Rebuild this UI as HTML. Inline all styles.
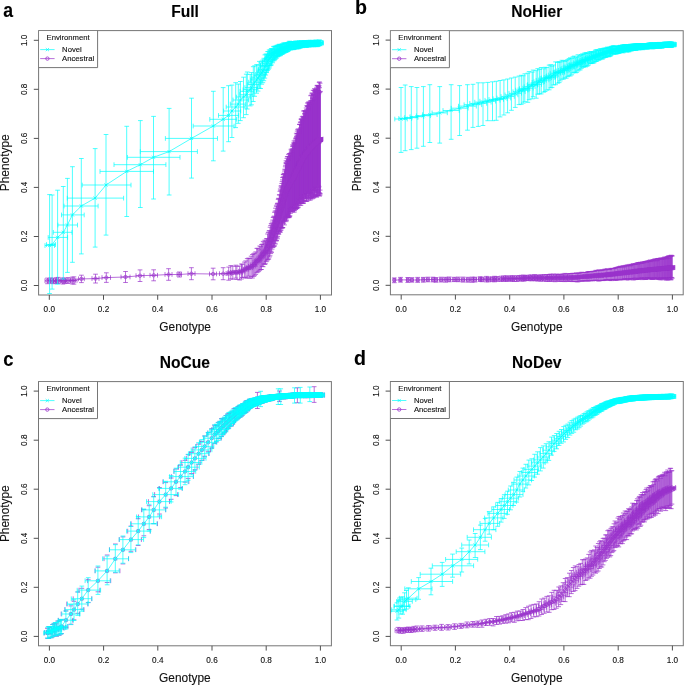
<!DOCTYPE html>
<html><head><meta charset="utf-8"><style>
html,body{margin:0;padding:0;background:#fff;}
svg{display:block;will-change:transform;}
text{font-family:"Liberation Sans",sans-serif;fill:#111;stroke:#111;stroke-width:0.12px;}
.tk{font-size:8.2px;}
.lb{font-size:11.9px;}
.ti{font-size:15.6px;font-weight:bold;fill:#000;}
.pl{font-size:19.6px;font-weight:bold;fill:#000;}
.lg{font-size:7.7px;}
</style></head><body>
<svg width="685" height="685" viewBox="0 0 685 685">
<path d="M47.6 278.1V283.7M45 280.8H49.8M45.2 278.1h4.7M45.2 283.7h4.7M45 278.4v4.7M49.8 278.4v4.7M50.9 277.9V283.2M48.1 280.5H53.4M48.5 277.9h4.7M48.5 283.2h4.7M48.1 278.2v4.7M53.4 278.2v4.7M53.1 278.2V283.7M50.5 281.1H55.8M50.8 278.2h4.7M50.8 283.7h4.7M50.5 278.8v4.7M55.8 278.8v4.7M56.5 277.8V283.4M53.8 280.8H59M54.1 277.8h4.7M54.1 283.4h4.7M53.8 278.5v4.7M59 278.5v4.7M58.2 277.4V283.5M55.5 280.6H60.9M55.8 277.4h4.7M55.8 283.5h4.7M55.5 278.2v4.7M60.9 278.2v4.7M62.8 277.9V284M60.4 280.8H65.6M60.5 277.9h4.7M60.5 284h4.7M60.4 278.5v4.7M65.6 278.5v4.7M64.4 278.2V283.6M61.6 280.9H66.8M62 278.2h4.7M62 283.6h4.7M61.6 278.5v4.7M66.8 278.5v4.7M67.9 277.6V283.5M65.5 280.6H70.5M65.6 277.6h4.7M65.6 283.5h4.7M65.5 278.2v4.7M70.5 278.2v4.7M72.2 277.2V283.9M69.2 280.5H75.3M69.9 277.2h4.7M69.9 283.9h4.7M69.2 278.1v4.7M75.3 278.1v4.7M74 276.9V284.1M70.7 280.4H77M71.6 276.9h4.7M71.6 284.1h4.7M70.7 278.1v4.7M77 278.1v4.7M81.4 275.2V282.6M78.5 278.9H84.3M79.1 275.2h4.7M79.1 282.6h4.7M78.5 276.5v4.7M84.3 276.5v4.7M95.5 274.2V283M92 278.6H99M93.2 274.2h4.7M93.2 283h4.7M92 276.2v4.7M99 276.2v4.7M106.3 272.8V282.4M102 277.6H110.5M104 272.8h4.7M104 282.4h4.7M102 275.2v4.7M110.5 275.2v4.7M125.5 271.5V282.5M121 277H130M123.2 271.5h4.7M123.2 282.5h4.7M121 274.6v4.7M130 274.6v4.7M140 269.9V281.5M136 275.7H144M137.7 269.9h4.7M137.7 281.5h4.7M136 273.3v4.7M144 273.3v4.7M153.7 269.8V280.8M150 275.3H157.5M151.3 269.8h4.7M151.3 280.8h4.7M150 272.9v4.7M157.5 272.9v4.7M168.6 268.7V280.3M165 274.5H172M166.2 268.7h4.7M166.2 280.3h4.7M165 272.1v4.7M172 272.1v4.7M179.3 272V277M177 274.5H181.5M177 272h4.7M177 277h4.7M177 272.1v4.7M181.5 272.1v4.7M191.4 267.7V279.7M188 273.7H195M189.1 267.7h4.7M189.1 279.7h4.7M188 271.3v4.7M195 271.3v4.7M213.1 268.2V279.8M209.5 274H216.5M210.8 268.2h4.7M210.8 279.8h4.7M209.5 271.6v4.7M216.5 271.6v4.7M223.2 267.7V279.7M219.5 273.7H227M220.8 267.7h4.7M220.8 279.7h4.7M219.5 271.3v4.7M227 271.3v4.7M228.7 267.1V280.2M226 273.5H231.4M226.3 267.1h4.7M226.3 280.2h4.7M226 271.2v4.7M231.4 271.2v4.7M230.8 265.6V278.9M228 272.5H233M228.4 265.6h4.7M228.4 278.9h4.7M228 270.1v4.7M233 270.1v4.7M232.8 266.3V279.2M230.6 272.7H235.1M230.5 266.3h4.7M230.5 279.2h4.7M230.6 270.3v4.7M235.1 270.3v4.7M235.8 265.2V278.1M233.1 272.2H238.1M233.5 265.2h4.7M233.5 278.1h4.7M233.1 269.8v4.7M238.1 269.8v4.7M236.9 266.4V279.5M234.6 272.3H239.3M234.6 266.4h4.7M234.6 279.5h4.7M234.6 269.9v4.7M239.3 269.9v4.7M239.7 266V280M237.1 272.5H242.3M237.3 266h4.7M237.3 280h4.7M237.1 270.1v4.7M242.3 270.1v4.7M241.5 264V279M238.7 271.3H243.9M239.1 264h4.7M239.1 279h4.7M238.7 268.9v4.7M243.9 268.9v4.7M242.4 264.3V277.5M240 271H245M240 264.3h4.7M240 277.5h4.7M240 268.6v4.7M245 268.6v4.7M244.4 262.1V277.2M241.7 269.7H246.9M242.1 262.1h4.7M242.1 277.2h4.7M241.7 267.3v4.7M246.9 267.3v4.7M245.8 260.9V278.1M243.5 269.2H248.6M243.4 260.9h4.7M243.4 278.1h4.7M243.5 266.9v4.7M248.6 266.9v4.7M247.2 258.6V277.8M245 268.1H249.9M244.9 258.6h4.7M244.9 277.8h4.7M245 265.7v4.7M249.9 265.7v4.7M248.6 258.1V276.1M246.4 267.8H250.9M246.3 258.1h4.7M246.3 276.1h4.7M246.4 265.4v4.7M250.9 265.4v4.7M249.9 258.5V278.3M247.2 267.8H252.7M247.6 258.5h4.7M247.6 278.3h4.7M247.2 265.4v4.7M252.7 265.4v4.7M251.2 256.2V276.8M248.5 266.3H253.5M248.8 256.2h4.7M248.8 276.8h4.7M248.5 264v4.7M253.5 264v4.7M252.4 254.5V278M250.2 266.2H255.2M250.1 254.5h4.7M250.1 278h4.7M250.2 263.8v4.7M255.2 263.8v4.7M253.6 253.8V276.4M250.8 264.7H256M251.2 253.8h4.7M251.2 276.4h4.7M250.8 262.4v4.7M256 262.4v4.7M254.7 253.1V275.7M252.3 264.7H257M252.3 253.1h4.7M252.3 275.7h4.7M252.3 262.3v4.7M257 262.3v4.7M255.8 251.9V274.4M253 262.4H258.1M253.4 251.9h4.7M253.4 274.4h4.7M253 260.1v4.7M258.1 260.1v4.7M256.8 248.4V272.7M254.4 261.2H259.2M254.5 248.4h4.7M254.5 272.7h4.7M254.4 258.8v4.7M259.2 258.8v4.7M257.8 248.3V272M255.4 260.7H260.1M255.5 248.3h4.7M255.5 272h4.7M255.4 258.3v4.7M260.1 258.3v4.7M258.8 249.8V271.3M256.1 259.9H261.1M256.4 249.8h4.7M256.4 271.3h4.7M256.1 257.6v4.7M261.1 257.6v4.7M259.7 246V270.3M257.1 258.6H262M257.4 246h4.7M257.4 270.3h4.7M257.1 256.2v4.7M262 256.2v4.7M260.6 246.7V269.5M258.3 257.2H263.1M258.3 246.7h4.7M258.3 269.5h4.7M258.3 254.8v4.7M263.1 254.8v4.7M261.5 244.5V269.5M259.1 256.8H264M259.2 244.5h4.7M259.2 269.5h4.7M259.1 254.5v4.7M264 254.5v4.7M262.4 244.2V266.3M259.9 255.5H264.7M260 244.2h4.7M260 266.3h4.7M259.9 253.2v4.7M264.7 253.2v4.7M263.2 241.4V266.7M260.6 254.1H265.7M260.8 241.4h4.7M260.8 266.7h4.7M260.6 251.8v4.7M265.7 251.8v4.7M264 242.9V263.9M261.3 253.2H266.7M261.6 242.9h4.7M261.6 263.9h4.7M261.3 250.8v4.7M266.7 250.8v4.7M264.8 240.2V264.4M262.1 252.3H267.4M262.4 240.2h4.7M262.4 264.4h4.7M262.1 249.9v4.7M267.4 249.9v4.7M265.5 241V263.8M263.1 251.9H268M263.1 241h4.7M263.1 263.8h4.7M263.1 249.5v4.7M268 249.5v4.7M266.2 238.9V261.7M263.4 250.8H268.8M263.9 238.9h4.7M263.9 261.7h4.7M263.4 248.5v4.7M268.8 248.5v4.7M266.9 238.5V260.9M264.6 248.9H269.5M264.6 238.5h4.7M264.6 260.9h4.7M264.6 246.6v4.7M269.5 246.6v4.7M267.6 234V259.8M264.9 247.1H270M265.2 234h4.7M265.2 259.8h4.7M264.9 244.8v4.7M270 244.8v4.7M268.2 232.5V259.4M265.8 245.8H270.9M265.9 232.5h4.7M265.9 259.4h4.7M265.8 243.5v4.7M270.9 243.5v4.7M268.8 231.1V258.9M266.1 244.6H271.4M266.5 231.1h4.7M266.5 258.9h4.7M266.1 242.2v4.7M271.4 242.2v4.7M269.5 230.5V257M266.7 242.7H271.9M267.1 230.5h4.7M267.1 257h4.7M266.7 240.3v4.7M271.9 240.3v4.7M270 227.2V255.8M267.7 241.5H272.7M267.7 227.2h4.7M267.7 255.8h4.7M267.7 239.1v4.7M272.7 239.1v4.7M270.6 225.5V253.6M268 240H273.3M268.3 225.5h4.7M268.3 253.6h4.7M268 237.6v4.7M273.3 237.6v4.7M271.2 223.7V251.3M268.9 238.7H273.6M268.8 223.7h4.7M268.8 251.3h4.7M268.9 236.4v4.7M273.6 236.4v4.7M271.7 223.9V252.6M269.1 237.5H273.9M269.3 223.9h4.7M269.3 252.6h4.7M269.1 235.1v4.7M273.9 235.1v4.7M272.2 222.1V249.1M269.9 235.9H274.6M269.8 222.1h4.7M269.8 249.1h4.7M269.9 233.5v4.7M274.6 233.5v4.7M272.7 220.1V247.3M270.2 234H275.1M270.3 220.1h4.7M270.3 247.3h4.7M270.2 231.7v4.7M275.1 231.7v4.7M273.2 217.5V247.3M270.4 233.1H275.4M270.8 217.5h4.7M270.8 247.3h4.7M270.4 230.7v4.7M275.4 230.7v4.7M273.6 216.8V246.4M271.4 231.4H276.3M271.3 216.8h4.7M271.3 246.4h4.7M271.4 229v4.7M276.3 229v4.7M274.1 216.1V245.9M271.8 229.9H276.6M271.8 216.1h4.7M271.8 245.9h4.7M271.8 227.6v4.7M276.6 227.6v4.7M274.6 212.4V246M271.9 228.5H277M272.2 212.4h4.7M272.2 246h4.7M271.9 226.1v4.7M277 226.1v4.7M275 211.2V243.2M272.7 227.7H277.6M272.6 211.2h4.7M272.6 243.2h4.7M272.7 225.4v4.7M277.6 225.4v4.7M275.4 208.2V244M272.9 226.1H277.8M273.1 208.2h4.7M273.1 244h4.7M272.9 223.7v4.7M277.8 223.7v4.7M275.8 210.8V240M273.3 225.2H278.4M273.5 210.8h4.7M273.5 240h4.7M273.3 222.9v4.7M278.4 222.9v4.7M276.3 206V241.1M273.8 223H278.7M273.9 206h4.7M273.9 241.1h4.7M273.8 220.7v4.7M278.7 220.7v4.7M276.7 206.1V240.5M274.2 221.9H279.4M274.3 206.1h4.7M274.3 240.5h4.7M274.2 219.6v4.7M279.4 219.6v4.7M277 204.3V237.4M274.3 221.5H279.5M274.7 204.3h4.7M274.7 237.4h4.7M274.3 219.2v4.7M279.5 219.2v4.7M277.4 203.5V238.7M274.9 219.8H279.8M275.1 203.5h4.7M275.1 238.7h4.7M274.9 217.4v4.7M279.8 217.4v4.7M277.8 203.1V236.4M275.3 218.7H280.2M275.4 203.1h4.7M275.4 236.4h4.7M275.3 216.4v4.7M280.2 216.4v4.7M278.2 199.3V233.2M275.6 218H280.5M275.8 199.3h4.7M275.8 233.2h4.7M275.6 215.6v4.7M280.5 215.6v4.7M278.5 198.3V233.5M276.2 217H280.8M276.2 198.3h4.7M276.2 233.5h4.7M276.2 214.7v4.7M280.8 214.7v4.7M278.9 198.8V234.4M276.4 215.9H281.5M276.5 198.8h4.7M276.5 234.4h4.7M276.4 213.6v4.7M281.5 213.6v4.7M279.2 194.8V231.1M276.6 214.3H281.6M276.9 194.8h4.7M276.9 231.1h4.7M276.6 212v4.7M281.6 212v4.7M279.5 194.9V231.2M277 213.1H282M277.2 194.9h4.7M277.2 231.2h4.7M277 210.8v4.7M282 210.8v4.7M279.9 191.3V231.6M277.7 211.8H282.2M277.5 191.3h4.7M277.5 231.6h4.7M277.7 209.5v4.7M282.2 209.5v4.7M280.2 189V232.5M277.7 210.9H282.4M277.9 189h4.7M277.9 232.5h4.7M277.7 208.5v4.7M282.4 208.5v4.7M280.5 190.3V230.8M277.9 210.2H283.1M278.2 190.3h4.7M278.2 230.8h4.7M277.9 207.8v4.7M283.1 207.8v4.7M280.8 186V228.9M278.4 208.8H283.6M278.5 186h4.7M278.5 228.9h4.7M278.4 206.4v4.7M283.6 206.4v4.7M281.2 187.3V230.2M278.9 207.4H283.9M278.8 187.3h4.7M278.8 230.2h4.7M278.9 205v4.7M283.9 205v4.7M281.5 185.8V227.4M278.8 207H284.2M279.1 185.8h4.7M279.1 227.4h4.7M278.8 204.6v4.7M284.2 204.6v4.7M281.8 183.5V227.5M279.3 205.3H284.2M279.4 183.5h4.7M279.4 227.5h4.7M279.3 203v4.7M284.2 203v4.7M282.1 181.6V228.3M279.8 204.3H284.4M279.7 181.6h4.7M279.7 228.3h4.7M279.8 202v4.7M284.4 202v4.7M282.3 179.9V227.8M280.1 204.2H285M280 179.9h4.7M280 227.8h4.7M280.1 201.8v4.7M285 201.8v4.7M282.6 177.6V227.6M280.4 203.4H285.3M280.3 177.6h4.7M280.3 227.6h4.7M280.4 201.1v4.7M285.3 201.1v4.7M282.9 177.3V227.6M280.3 201.6H285.2M280.6 177.3h4.7M280.6 227.6h4.7M280.3 199.2v4.7M285.2 199.2v4.7M283.2 174.5V222.6M280.6 200.7H285.6M280.8 174.5h4.7M280.8 222.6h4.7M280.6 198.4v4.7M285.6 198.4v4.7M283.5 174.7V221.2M281.2 199.7H285.9M281.1 174.7h4.7M281.1 221.2h4.7M281.2 197.3v4.7M285.9 197.3v4.7M283.7 176.7V223.7M281.1 198.7H286.5M281.4 176.7h4.7M281.4 223.7h4.7M281.1 196.3v4.7M286.5 196.3v4.7M284 173.3V221.7M281.4 197.9H286.5M281.6 173.3h4.7M281.6 221.7h4.7M281.4 195.5v4.7M286.5 195.5v4.7M284.3 173.4V220.6M281.6 198H286.5M281.9 173.4h4.7M281.9 220.6h4.7M281.6 195.6v4.7M286.5 195.6v4.7M284.5 171.1V224.9M282 196.8H287.1M282.2 171.1h4.7M282.2 224.9h4.7M282 194.4v4.7M287.1 194.4v4.7M284.8 169.2V219.9M282.1 195.5H287.3M282.4 169.2h4.7M282.4 219.9h4.7M282.1 193.1v4.7M287.3 193.1v4.7M285 169.9V220M282.4 194.5H287.3M282.7 169.9h4.7M282.7 220h4.7M282.4 192.1v4.7M287.3 192.1v4.7M285.3 166.8V218.4M282.7 194.4H287.5M282.9 166.8h4.7M282.9 218.4h4.7M282.7 192v4.7M287.5 192v4.7M285.5 165.3V218.1M282.8 192.9H288M283.1 165.3h4.7M283.1 218.1h4.7M282.8 190.5v4.7M288 190.5v4.7M285.7 163.1V216.5M283.1 192.3H288M283.4 163.1h4.7M283.4 216.5h4.7M283.1 190v4.7M288 190v4.7M286 160.8V220.1M283.6 191.4H288.2M283.6 160.8h4.7M283.6 220.1h4.7M283.6 189v4.7M288.2 189v4.7M286.2 162.6V221.6M283.9 191.6H288.8M283.8 162.6h4.7M283.8 221.6h4.7M283.9 189.2v4.7M288.8 189.2v4.7M286.4 163.7V217.2M283.9 190.1H288.8M284.1 163.7h4.7M284.1 217.2h4.7M283.9 187.7v4.7M288.8 187.7v4.7M286.6 163.7V220.2M284.1 189.6H289.3M284.3 163.7h4.7M284.3 220.2h4.7M284.1 187.3v4.7M289.3 187.3v4.7M286.9 158.4V217.8M284.3 189.3H289.4M284.5 158.4h4.7M284.5 217.8h4.7M284.3 186.9v4.7M289.4 186.9v4.7M287.1 161.4V215M284.9 189.2H289.4M284.7 161.4h4.7M284.7 215h4.7M284.9 186.9v4.7M289.4 186.9v4.7M287.3 156.7V216.5M284.6 188H289.5M284.9 156.7h4.7M284.9 216.5h4.7M284.6 185.7v4.7M289.5 185.7v4.7M287.5 156.7V217.7M285.1 188.1H290M285.2 156.7h4.7M285.2 217.7h4.7M285.1 185.8v4.7M290 185.8v4.7M287.7 160.9V213.8M285.3 187.3H290.2M285.4 160.9h4.7M285.4 213.8h4.7M285.3 185v4.7M290.2 185v4.7M287.9 161.4V215.1M285.6 187.9H290.2M285.6 161.4h4.7M285.6 215.1h4.7M285.6 185.5v4.7M290.2 185.5v4.7M288.1 159.6V215.6M285.9 186.8H290.9M285.8 159.6h4.7M285.8 215.6h4.7M285.9 184.4v4.7M290.9 184.4v4.7M288.4 154.3V216.9M285.8 186.5H290.8M286 154.3h4.7M286 216.9h4.7M285.8 184.1v4.7M290.8 184.1v4.7M288.6 160.3V217.1M286.2 186.8H291.2M286.2 160.3h4.7M286.2 217.1h4.7M286.2 184.4v4.7M291.2 184.4v4.7M288.8 159.3V213.3M286.6 186.2H291.1M286.4 159.3h4.7M286.4 213.3h4.7M286.6 183.8v4.7M291.1 183.8v4.7M289 156.4V217.7M286.6 185H291.4M286.6 156.4h4.7M286.6 217.7h4.7M286.6 182.7v4.7M291.4 182.7v4.7M289.2 157.2V216.2M286.6 185.1H291.5M286.8 157.2h4.7M286.8 216.2h4.7M286.6 182.7v4.7M291.5 182.7v4.7M289.4 153.7V217.1M286.8 184.5H291.8M287 153.7h4.7M287 217.1h4.7M286.8 182.1v4.7M291.8 182.1v4.7M289.6 158.9V211.5M286.9 185H292M287.2 158.9h4.7M287.2 211.5h4.7M286.9 182.6v4.7M292 182.6v4.7M289.8 153.5V216.7M287.3 183.5H292.2M287.4 153.5h4.7M287.4 216.7h4.7M287.3 181.1v4.7M292.2 181.1v4.7M290 156.5V215.8M287.5 183.2H292.7M287.6 156.5h4.7M287.6 215.8h4.7M287.5 180.8v4.7M292.7 180.8v4.7M290.2 154.8V209.4M287.7 182.8H292.4M287.8 154.8h4.7M287.8 209.4h4.7M287.7 180.4v4.7M292.4 180.4v4.7M290.4 153.4V211.2M288.2 182.7H292.6M288 153.4h4.7M288 211.2h4.7M288.2 180.3v4.7M292.6 180.3v4.7M290.6 155.5V213.3M288.1 183.2H293.1M288.2 155.5h4.7M288.2 213.3h4.7M288.1 180.8v4.7M293.1 180.8v4.7M290.8 153V209M288.2 181.8H293.5M288.4 153h4.7M288.4 209h4.7M288.2 179.4v4.7M293.5 179.4v4.7M291 149.3V210.1M288.8 182H293.5M288.6 149.3h4.7M288.6 210.1h4.7M288.8 179.7v4.7M293.5 179.7v4.7M291.2 150.8V210.9M288.6 181.5H293.8M288.8 150.8h4.7M288.8 210.9h4.7M288.6 179.2v4.7M293.8 179.2v4.7M291.3 152.8V211.7M288.7 181.7H293.7M289 152.8h4.7M289 211.7h4.7M288.7 179.4v4.7M293.7 179.4v4.7M291.5 151.4V207.8M288.9 180.4H294.2M289.2 151.4h4.7M289.2 207.8h4.7M288.9 178.1v4.7M294.2 178.1v4.7M291.7 152.5V207.7M289.4 180.3H294M289.4 152.5h4.7M289.4 207.7h4.7M289.4 178v4.7M294 178v4.7M291.9 149V208.8M289.7 180.1H294.5M289.6 149h4.7M289.6 208.8h4.7M289.7 177.7v4.7M294.5 177.7v4.7M292.1 150.9V208.4M289.7 179.3H294.4M289.8 150.9h4.7M289.8 208.4h4.7M289.7 177v4.7M294.4 177v4.7M292.3 150V212M289.8 179.4H295M289.9 150h4.7M289.9 212h4.7M289.8 177.1v4.7M295 177.1v4.7M292.5 146.6V210.7M290 179.4H295.2M290.1 146.6h4.7M290.1 210.7h4.7M290 177v4.7M295.2 177v4.7M292.7 144.8V211.6M290 179H295M290.3 144.8h4.7M290.3 211.6h4.7M290 176.7v4.7M295 176.7v4.7M292.8 148.8V207.1M290.6 178.9H295.1M290.5 148.8h4.7M290.5 207.1h4.7M290.6 176.5v4.7M295.1 176.5v4.7M293 145.5V207.4M290.8 177.9H295.7M290.7 145.5h4.7M290.7 207.4h4.7M290.8 175.5v4.7M295.7 175.5v4.7M293.2 150.1V205.8M290.9 177.9H295.6M290.8 150.1h4.7M290.8 205.8h4.7M290.9 175.5v4.7M295.6 175.5v4.7M293.4 143V210.2M291 177.9H295.8M291 143h4.7M291 210.2h4.7M291 175.5v4.7M295.8 175.5v4.7M293.6 146.6V204.9M291 176.9H296.3M291.2 146.6h4.7M291.2 204.9h4.7M291 174.6v4.7M296.3 174.6v4.7M293.7 148.3V209.1M291.4 177H296.4M291.4 148.3h4.7M291.4 209.1h4.7M291.4 174.7v4.7M296.4 174.7v4.7M293.9 140.9V210.6M291.6 176.3H296.3M291.6 140.9h4.7M291.6 210.6h4.7M291.6 174v4.7M296.3 174v4.7M294.1 144.6V208.2M291.6 176.5H296.8M291.7 144.6h4.7M291.7 208.2h4.7M291.6 174.2v4.7M296.8 174.2v4.7M294.3 143.6V212.2M291.7 176.2H296.5M291.9 143.6h4.7M291.9 212.2h4.7M291.7 173.8v4.7M296.5 173.8v4.7M294.5 143.8V204.7M291.7 175.7H296.7M292.1 143.8h4.7M292.1 204.7h4.7M291.7 173.3v4.7M296.7 173.3v4.7M294.6 142.5V210.7M292.2 175H297M292.3 142.5h4.7M292.3 210.7h4.7M292.2 172.7v4.7M297 172.7v4.7M294.8 143.8V207.7M292.4 174.3H297.5M292.5 143.8h4.7M292.5 207.7h4.7M292.4 172v4.7M297.5 172v4.7M295 142V205M292.2 173.9H297.7M292.6 142h4.7M292.6 205h4.7M292.2 171.6v4.7M297.7 171.6v4.7M295.2 140.1V206.7M292.9 174.3H297.9M292.8 140.1h4.7M292.8 206.7h4.7M292.9 171.9v4.7M297.9 171.9v4.7M295.4 143.8V204.2M293.1 173.5H298M293 143.8h4.7M293 204.2h4.7M293.1 171.1v4.7M298 171.1v4.7M295.5 142.5V209.6M293.1 173.6H298.1M293.2 142.5h4.7M293.2 209.6h4.7M293.1 171.3v4.7M298.1 171.3v4.7M295.7 138.5V209.4M293.3 173.2H297.9M293.4 138.5h4.7M293.4 209.4h4.7M293.3 170.9v4.7M297.9 170.9v4.7M295.9 137.8V203.8M293.5 172.4H298.3M293.5 137.8h4.7M293.5 203.8h4.7M293.5 170.1v4.7M298.3 170.1v4.7M296.1 138.9V204.6M293.6 171.5H298.7M293.7 138.9h4.7M293.7 204.6h4.7M293.6 169.1v4.7M298.7 169.1v4.7M296.3 133.3V208.5M293.5 171.6H298.9M293.9 133.3h4.7M293.9 208.5h4.7M293.5 169.2v4.7M298.9 169.2v4.7M296.4 136.8V208.5M294 171.5H299M294.1 136.8h4.7M294.1 208.5h4.7M294 169.2v4.7M299 169.2v4.7M296.6 136.4V204M294.4 171.2H298.9M294.3 136.4h4.7M294.3 204h4.7M294.4 168.8v4.7M298.9 168.8v4.7M296.8 135V207.4M294.2 170.4H299.2M294.4 135h4.7M294.4 207.4h4.7M294.2 168.1v4.7M299.2 168.1v4.7M297 137.7V207.6M294.7 170.8H299.6M294.6 137.7h4.7M294.6 207.6h4.7M294.7 168.4v4.7M299.6 168.4v4.7M297.2 131.1V208.6M294.5 170.1H299.9M294.8 131.1h4.7M294.8 208.6h4.7M294.5 167.7v4.7M299.9 167.7v4.7M297.3 133.5V202.7M294.8 169.8H300.1M295 133.5h4.7M295 202.7h4.7M294.8 167.5v4.7M300.1 167.5v4.7M297.5 129.3V204.8M295.1 168.9H299.7M295.2 129.3h4.7M295.2 204.8h4.7M295.1 166.5v4.7M299.7 166.5v4.7M297.7 135.7V205.7M295 168.7H300.4M295.3 135.7h4.7M295.3 205.7h4.7M295 166.3v4.7M300.4 166.3v4.7M297.9 133.7V201.1M295.3 168.6H300.4M295.5 133.7h4.7M295.5 201.1h4.7M295.3 166.2v4.7M300.4 166.2v4.7M298.1 133.4V207.7M295.7 168.3H300.4M295.7 133.4h4.7M295.7 207.7h4.7M295.7 166v4.7M300.4 166v4.7M298.2 130.2V207.1M295.9 167.5H300.8M295.9 130.2h4.7M295.9 207.1h4.7M295.9 165.1v4.7M300.8 165.1v4.7M298.4 133.7V200.3M295.9 167.7H301.1M296.1 133.7h4.7M296.1 200.3h4.7M295.9 165.3v4.7M301.1 165.3v4.7M298.6 128.9V203.3M296.1 167.5H301.1M296.2 128.9h4.7M296.2 203.3h4.7M296.1 165.1v4.7M301.1 165.1v4.7M298.8 132.2V201.9M296.2 167.1H301.6M296.4 132.2h4.7M296.4 201.9h4.7M296.2 164.8v4.7M301.6 164.8v4.7M299 133.2V199.4M296.4 165.9H301.5M296.6 133.2h4.7M296.6 199.4h4.7M296.4 163.6v4.7M301.5 163.6v4.7M299.1 131.2V203.5M296.5 165.6H301.7M296.8 131.2h4.7M296.8 203.5h4.7M296.5 163.2v4.7M301.7 163.2v4.7M299.3 132.5V202.9M296.6 165.8H302.1M297 132.5h4.7M297 202.9h4.7M296.6 163.5v4.7M302.1 163.5v4.7M299.5 124.4V203.7M296.7 165H301.8M297.1 124.4h4.7M297.1 203.7h4.7M296.7 162.6v4.7M301.8 162.6v4.7M299.7 124.4V202.5M297.4 165.1H302M297.3 124.4h4.7M297.3 202.5h4.7M297.4 162.7v4.7M302 162.7v4.7M299.9 130V198.7M297.3 164.1H302.1M297.5 130h4.7M297.5 198.7h4.7M297.3 161.7v4.7M302.1 161.7v4.7M300 124.4V205.2M297.4 164.4H302.7M297.7 124.4h4.7M297.7 205.2h4.7M297.4 162.1v4.7M302.7 162.1v4.7M300.2 122V203.5M297.4 164.3H302.5M297.9 122h4.7M297.9 203.5h4.7M297.4 161.9v4.7M302.5 161.9v4.7M300.4 128.7V198.5M298 162.9H302.9M298 128.7h4.7M298 198.5h4.7M298 160.6v4.7M302.9 160.6v4.7M300.6 122.6V197.9M298.1 163.3H303.1M298.2 122.6h4.7M298.2 197.9h4.7M298.1 160.9v4.7M303.1 160.9v4.7M300.8 127.5V202.1M298.3 162.5H303.4M298.4 127.5h4.7M298.4 202.1h4.7M298.3 160.2v4.7M303.4 160.2v4.7M300.9 119.2V205.3M298.7 162.3H303.6M298.6 119.2h4.7M298.6 205.3h4.7M298.7 160v4.7M303.6 160v4.7M301.1 125.2V197.6M298.6 162.2H303.5M298.8 125.2h4.7M298.8 197.6h4.7M298.6 159.9v4.7M303.5 159.9v4.7M301.3 118.8V199.9M298.9 161.9H303.8M298.9 118.8h4.7M298.9 199.9h4.7M298.9 159.5v4.7M303.8 159.5v4.7M301.5 119.5V201.5M299.1 161.5H303.9M299.1 119.5h4.7M299.1 201.5h4.7M299.1 159.1v4.7M303.9 159.1v4.7M301.7 121.7V196.5M299.2 161.3H304M299.3 121.7h4.7M299.3 196.5h4.7M299.2 159v4.7M304 159v4.7M301.8 125.1V198.2M299.6 160.7H304.3M299.5 125.1h4.7M299.5 198.2h4.7M299.6 158.4v4.7M304.3 158.4v4.7M302 120.5V199.5M299.3 160.8H304.3M299.7 120.5h4.7M299.7 199.5h4.7M299.3 158.4v4.7M304.3 158.4v4.7M302.2 116.7V194.9M299.5 159.6H304.6M299.8 116.7h4.7M299.8 194.9h4.7M299.5 157.3v4.7M304.6 157.3v4.7M302.4 121.1V198.6M299.9 158.9H304.9M300 121.1h4.7M300 198.6h4.7M299.9 156.5v4.7M304.9 156.5v4.7M302.6 121V203.5M300.1 158.6H305M300.2 121h4.7M300.2 203.5h4.7M300.1 156.2v4.7M305 156.2v4.7M302.7 119.9V203.2M300.1 158.2H305.2M300.4 119.9h4.7M300.4 203.2h4.7M300.1 155.9v4.7M305.2 155.9v4.7M302.9 118.2V201.2M300.5 157.8H305.5M300.6 118.2h4.7M300.6 201.2h4.7M300.5 155.5v4.7M305.5 155.5v4.7M303.1 116.2V200.7M300.9 158.5H305.3M300.7 116.2h4.7M300.7 200.7h4.7M300.9 156.1v4.7M305.3 156.1v4.7M303.3 117.8V202.7M300.6 158H306M300.9 117.8h4.7M300.9 202.7h4.7M300.6 155.6v4.7M306 155.6v4.7M303.5 111V200.9M300.7 157.1H305.7M301.1 111h4.7M301.1 200.9h4.7M300.7 154.8v4.7M305.7 154.8v4.7M303.6 116.7V203.3M300.8 157.3H306M301.3 116.7h4.7M301.3 203.3h4.7M300.8 154.9v4.7M306 154.9v4.7M303.8 117.2V197.7M301.4 156.5H306.4M301.5 117.2h4.7M301.5 197.7h4.7M301.4 154.1v4.7M306.4 154.1v4.7M304 117.4V197M301.8 155.8H306.4M301.6 117.4h4.7M301.6 197h4.7M301.8 153.4v4.7M306.4 153.4v4.7M304.2 110.7V195.2M302 156.4H306.9M301.8 110.7h4.7M301.8 195.2h4.7M302 154v4.7M306.9 154v4.7M304.4 113.3V194.6M302 156.2H307.1M302 113.3h4.7M302 194.6h4.7M302 153.9v4.7M307.1 153.9v4.7M304.5 118.6V194.9M302.1 156H306.9M302.2 118.6h4.7M302.2 194.9h4.7M302.1 153.7v4.7M306.9 153.7v4.7M304.7 114.6V200.6M302.4 155.6H307.2M302.4 114.6h4.7M302.4 200.6h4.7M302.4 153.2v4.7M307.2 153.2v4.7M304.9 111.2V193.8M302.6 155.6H307.5M302.5 111.2h4.7M302.5 193.8h4.7M302.6 153.3v4.7M307.5 153.3v4.7M305.1 113.5V197M302.5 154.7H307.9M302.7 113.5h4.7M302.7 197h4.7M302.5 152.3v4.7M307.9 152.3v4.7M305.3 110.9V194.5M302.7 154.3H307.9M302.9 110.9h4.7M302.9 194.5h4.7M302.7 152v4.7M307.9 152v4.7M305.4 111.4V198.9M303.2 154H308.1M303.1 111.4h4.7M303.1 198.9h4.7M303.2 151.6v4.7M308.1 151.6v4.7M305.6 111.1V198.2M302.9 154.1H307.8M303.3 111.1h4.7M303.3 198.2h4.7M302.9 151.7v4.7M307.8 151.7v4.7M305.8 115.7V195.8M303.4 154H308M303.4 115.7h4.7M303.4 195.8h4.7M303.4 151.6v4.7M308 151.6v4.7M306 110.8V198.3M303.2 153.5H308.4M303.6 110.8h4.7M303.6 198.3h4.7M303.2 151.2v4.7M308.4 151.2v4.7M306.2 108V201.5M303.4 153.6H308.9M303.8 108h4.7M303.8 201.5h4.7M303.4 151.2v4.7M308.9 151.2v4.7M306.3 113.1V201.1M304.1 153.1H308.8M304 113.1h4.7M304 201.1h4.7M304.1 150.7v4.7M308.8 150.7v4.7M306.5 109.5V195.8M303.8 153.4H308.9M304.2 109.5h4.7M304.2 195.8h4.7M303.8 151v4.7M308.9 151v4.7M306.7 105.8V192.9M304.3 153H309.2M304.3 105.8h4.7M304.3 192.9h4.7M304.3 150.6v4.7M309.2 150.6v4.7M306.9 112V196.1M304.6 152.8H309.1M304.5 112h4.7M304.5 196.1h4.7M304.6 150.4v4.7M309.1 150.4v4.7M307.1 112V201.2M304.7 152.3H309.4M304.7 112h4.7M304.7 201.2h4.7M304.7 149.9v4.7M309.4 149.9v4.7M307.2 105.9V194.2M304.5 152.6H309.8M304.9 105.9h4.7M304.9 194.2h4.7M304.5 150.2v4.7M309.8 150.2v4.7M307.4 106.3V193.5M305.1 151.9H310.1M305.1 106.3h4.7M305.1 193.5h4.7M305.1 149.6v4.7M310.1 149.6v4.7M307.6 103.1V192.7M305.3 151.7H309.8M305.2 103.1h4.7M305.2 192.7h4.7M305.3 149.4v4.7M309.8 149.4v4.7M307.8 106.7V191.2M305.5 151.9H310.5M305.4 106.7h4.7M305.4 191.2h4.7M305.5 149.5v4.7M310.5 149.5v4.7M308 102.7V191.1M305.4 151.4H310.2M305.6 102.7h4.7M305.6 191.1h4.7M305.4 149v4.7M310.2 149v4.7M308.1 105.4V197.4M305.8 151.4H310.9M305.8 105.4h4.7M305.8 197.4h4.7M305.8 149.1v4.7M310.9 149.1v4.7M308.3 110.3V197.4M306.1 150.5H310.6M306 110.3h4.7M306 197.4h4.7M306.1 148.1v4.7M310.6 148.1v4.7M308.5 104V200M305.9 150.7H310.7M306.1 104h4.7M306.1 200h4.7M305.9 148.3v4.7M310.7 148.3v4.7M308.7 101.8V191.8M306 150.7H311M306.3 101.8h4.7M306.3 191.8h4.7M306 148.4v4.7M311 148.4v4.7M308.9 110.2V198.2M306.3 150.1H311.6M306.5 110.2h4.7M306.5 198.2h4.7M306.3 147.7v4.7M311.6 147.7v4.7M309 108.4V192.4M306.7 150.1H311.8M306.7 108.4h4.7M306.7 192.4h4.7M306.7 147.7v4.7M311.8 147.7v4.7M309.2 108.4V193.5M307 149.5H311.7M306.9 108.4h4.7M306.9 193.5h4.7M307 147.2v4.7M311.7 147.2v4.7M309.4 102.4V192M307.1 149.8H311.9M307 102.4h4.7M307 192h4.7M307.1 147.5v4.7M311.9 147.5v4.7M309.6 104.4V196.3M306.8 149.7H311.9M307.2 104.4h4.7M307.2 196.3h4.7M306.8 147.3v4.7M311.9 147.3v4.7M309.8 103V195.4M307 149H312.3M307.4 103h4.7M307.4 195.4h4.7M307 146.6v4.7M312.3 146.6v4.7M309.9 104V198.5M307.2 149.2H312.3M307.6 104h4.7M307.6 198.5h4.7M307.2 146.9v4.7M312.3 146.9v4.7M310.1 104.7V193M307.4 148.3H312.5M307.8 104.7h4.7M307.8 193h4.7M307.4 146v4.7M312.5 146v4.7M310.3 100.8V200.2M308 148.7H313M307.9 100.8h4.7M307.9 200.2h4.7M308 146.4v4.7M313 146.4v4.7M310.5 106.1V196.2M307.8 148.2H313M308.1 106.1h4.7M308.1 196.2h4.7M307.8 145.8v4.7M313 145.8v4.7M310.7 95.7V193M308.1 147.6H313.3M308.3 95.7h4.7M308.3 193h4.7M308.1 145.3v4.7M313.3 145.3v4.7M310.8 101.9V192.5M308.6 147.7H313.1M308.5 101.9h4.7M308.5 192.5h4.7M308.6 145.3v4.7M313.1 145.3v4.7M311 102.1V199.1M308.8 148H313.4M308.7 102.1h4.7M308.7 199.1h4.7M308.8 145.6v4.7M313.4 145.6v4.7M311.2 95.1V197.5M308.5 147.1H313.7M308.8 95.1h4.7M308.8 197.5h4.7M308.5 144.8v4.7M313.7 144.8v4.7M311.4 100.6V190.9M309.2 146.8H313.9M309 100.6h4.7M309 190.9h4.7M309.2 144.5v4.7M313.9 144.5v4.7M311.6 104V194.3M308.8 146.8H314.3M309.2 104h4.7M309.2 194.3h4.7M308.8 144.5v4.7M314.3 144.5v4.7M311.7 103.9V197.4M309.5 146.8H314.3M309.4 103.9h4.7M309.4 197.4h4.7M309.5 144.5v4.7M314.3 144.5v4.7M311.9 93V194.2M309.5 146.2H314.3M309.6 93h4.7M309.6 194.2h4.7M309.5 143.8v4.7M314.3 143.8v4.7M312.1 93.3V193.4M309.8 146.5H314.6M309.7 93.3h4.7M309.7 193.4h4.7M309.8 144.2v4.7M314.6 144.2v4.7M312.3 100.2V196.1M309.5 146.7H314.7M309.9 100.2h4.7M309.9 196.1h4.7M309.5 144.4v4.7M314.7 144.4v4.7M312.5 98V190.2M310.2 146.4H315.2M310.1 98h4.7M310.1 190.2h4.7M310.2 144v4.7M315.2 144v4.7M312.6 98.3V198.7M310.1 145.8H315.1M310.3 98.3h4.7M310.3 198.7h4.7M310.1 143.4v4.7M315.1 143.4v4.7M312.8 94.2V190.8M310.3 145.3H315.5M310.5 94.2h4.7M310.5 190.8h4.7M310.3 143v4.7M315.5 143v4.7M313 101.3V190.4M310.4 145.5H315.6M310.6 101.3h4.7M310.6 190.4h4.7M310.4 143.1v4.7M315.6 143.1v4.7M313.2 90.3V188.9M310.9 144.7H315.4M310.8 90.3h4.7M310.8 188.9h4.7M310.9 142.3v4.7M315.4 142.3v4.7M313.4 94.8V197.7M311.1 144.9H316M311 94.8h4.7M311 197.7h4.7M311.1 142.5v4.7M316 142.5v4.7M313.5 94.5V190.1M311.1 144.2H315.8M311.2 94.5h4.7M311.2 190.1h4.7M311.1 141.9v4.7M315.8 141.9v4.7M313.7 100.3V196.8M311.3 144.8H316.3M311.4 100.3h4.7M311.4 196.8h4.7M311.3 142.4v4.7M316.3 142.4v4.7M313.9 95.6V197.9M311.1 144.5H316.3M311.5 95.6h4.7M311.5 197.9h4.7M311.1 142.1v4.7M316.3 142.1v4.7M314.1 90.4V188.8M311.6 144H316.5M311.7 90.4h4.7M311.7 188.8h4.7M311.6 141.6v4.7M316.5 141.6v4.7M314.3 99.7V195.7M311.6 144.6H316.9M311.9 99.7h4.7M311.9 195.7h4.7M311.6 142.2v4.7M316.9 142.2v4.7M314.4 88.6V190.4M311.7 143.3H317M312.1 88.6h4.7M312.1 190.4h4.7M311.7 140.9v4.7M317 140.9v4.7M314.6 90.1V195.2M312.2 143.6H317.3M312.3 90.1h4.7M312.3 195.2h4.7M312.2 141.3v4.7M317.3 141.3v4.7M314.8 91.5V194.6M312.1 143.6H317.1M312.4 91.5h4.7M312.4 194.6h4.7M312.1 141.2v4.7M317.1 141.2v4.7M315 99.7V196.6M312.3 143.4H317.7M312.6 99.7h4.7M312.6 196.6h4.7M312.3 141.1v4.7M317.7 141.1v4.7M315.2 92.5V192.3M312.9 142.7H317.5M312.8 92.5h4.7M312.8 192.3h4.7M312.9 140.4v4.7M317.5 140.4v4.7M315.3 89.6V190.5M312.6 143.7H317.9M313 89.6h4.7M313 190.5h4.7M312.6 141.4v4.7M317.9 141.4v4.7M315.5 91.1V189.6M313.2 142.9H317.7M313.2 91.1h4.7M313.2 189.6h4.7M313.2 140.5v4.7M317.7 140.5v4.7M315.7 91.9V196.1M313.2 143H318.2M313.3 91.9h4.7M313.3 196.1h4.7M313.2 140.7v4.7M318.2 140.7v4.7M315.9 89.4V191.2M313.3 142.5H318.5M313.5 89.4h4.7M313.5 191.2h4.7M313.3 140.1v4.7M318.5 140.1v4.7M316.1 89.9V187.6M313.7 142.5H318.8M313.7 89.9h4.7M313.7 187.6h4.7M313.7 140.1v4.7M318.8 140.1v4.7M316.2 96.9V186.6M313.6 142H318.5M313.9 96.9h4.7M313.9 186.6h4.7M313.6 139.6v4.7M318.5 139.6v4.7M316.4 92.4V196.5M313.9 142.2H318.9M314.1 92.4h4.7M314.1 196.5h4.7M313.9 139.9v4.7M318.9 139.9v4.7M316.6 87.3V195.5M314 141.5H319.3M314.2 87.3h4.7M314.2 195.5h4.7M314 139.2v4.7M319.3 139.2v4.7M316.8 88.7V197.2M314.2 142.1H319M314.4 88.7h4.7M314.4 197.2h4.7M314.2 139.8v4.7M319 139.8v4.7M317 85.4V189.5M314.7 142.3H319.4M314.6 85.4h4.7M314.6 189.5h4.7M314.7 139.9v4.7M319.4 139.9v4.7M317.1 91.8V187.2M314.8 141.2H319.3M314.8 91.8h4.7M314.8 187.2h4.7M314.8 138.8v4.7M319.3 138.8v4.7M317.3 92.8V195.4M314.9 141.4H319.6M315 92.8h4.7M315 195.4h4.7M314.9 139.1v4.7M319.6 139.1v4.7M317.5 85.8V195.5M315.2 141.9H319.9M315.1 85.8h4.7M315.1 195.5h4.7M315.2 139.6v4.7M319.9 139.6v4.7M317.7 90.9V186.7M315.2 141.2H320.3M315.3 90.9h4.7M315.3 186.7h4.7M315.2 138.8v4.7M320.3 138.8v4.7M317.9 85.4V195M315.2 141.3H320.6M315.5 85.4h4.7M315.5 195h4.7M315.2 139v4.7M320.6 139v4.7M318 86.2V192M315.4 141.4H320.6M315.7 86.2h4.7M315.7 192h4.7M315.4 139.1v4.7M320.6 139.1v4.7M318.2 86.9V192.2M315.9 141.2H320.6M315.9 86.9h4.7M315.9 192.2h4.7M315.9 138.9v4.7M320.6 138.9v4.7M318.4 86.3V195.5M316.1 140.3H320.9M316 86.3h4.7M316 195.5h4.7M316.1 138v4.7M320.9 138v4.7M318.6 90.7V187.7M316 140.9H321M316.2 90.7h4.7M316.2 187.7h4.7M316 138.6v4.7M321 138.6v4.7M318.8 90.6V185.8M316.5 139.9H321.2M316.4 90.6h4.7M316.4 185.8h4.7M316.5 137.6v4.7M321.2 137.6v4.7M318.9 93.8V192.5M316.2 139.7H321.6M316.6 93.8h4.7M316.6 192.5h4.7M316.2 137.4v4.7M321.6 137.4v4.7M319.1 82.3V186.8M316.8 139.8H321.3M316.8 82.3h4.7M316.8 186.8h4.7M316.8 137.5v4.7M321.3 137.5v4.7M319.3 85.8V194.9M316.8 139.4H322M316.9 85.8h4.7M316.9 194.9h4.7M316.8 137v4.7M322 137v4.7M319.5 82V193.5M317 139.7H321.8M317.1 82h4.7M317.1 193.5h4.7M317 137.3v4.7M321.8 137.3v4.7M319.7 87.7V196.1M317.3 139.5H322M317.3 87.7h4.7M317.3 196.1h4.7M317.3 137.2v4.7M322 137.2v4.7M319.8 92.6V193M317.5 139.8H322.4M317.5 92.6h4.7M317.5 193h4.7M317.5 137.5v4.7M322.4 137.5v4.7M320 91.8V195.1M317.6 139.4H322.4M317.7 91.8h4.7M317.7 195.1h4.7M317.6 137.1v4.7M322.4 137.1v4.7M320.2 83.2V190.1M317.6 139.6H322.5M317.8 83.2h4.7M317.8 190.1h4.7M317.6 137.2v4.7M322.5 137.2v4.7M320.4 91.4V193.8M317.6 139H323M318 91.4h4.7M318 193.8h4.7M317.6 136.7v4.7M323 136.7v4.7" stroke="#9932cc" stroke-width="0.7" fill="none"/>
<polyline points="47.6,280.8 50.9,280.5 53.1,281.1 56.5,280.8 58.2,280.6 62.8,280.8 64.4,280.9 67.9,280.6 72.2,280.5 74,280.4 81.4,278.9 95.5,278.6 106.3,277.6 125.5,277 140,275.7 153.7,275.3 168.6,274.5 179.3,274.5 191.4,273.7 213.1,274 223.2,273.7 228.7,273.5 230.8,272.5 232.8,272.7 235.8,272.2 236.9,272.3 239.7,272.5 241.5,271.3 242.4,271 244.4,269.7 245.8,269.2 247.2,268.1 248.6,267.8 249.9,267.8 251.2,266.3 252.4,266.2 253.6,264.7 254.7,264.7 255.8,262.4 256.8,261.2 257.8,260.7 258.8,259.9 259.7,258.6 260.6,257.2 261.5,256.8 262.4,255.5 263.2,254.1 264,253.2 264.8,252.3 265.5,251.9 266.2,250.8 266.9,248.9 267.6,247.1 268.2,245.8 268.8,244.6 269.5,242.7 270,241.5 270.6,240 271.2,238.7 271.7,237.5 272.2,235.9 272.7,234 273.2,233.1 273.6,231.4 274.1,229.9 274.6,228.5 275,227.7 275.4,226.1 275.8,225.2 276.3,223 276.7,221.9 277,221.5 277.4,219.8 277.8,218.7 278.2,218 278.5,217 278.9,215.9 279.2,214.3 279.5,213.1 279.9,211.8 280.2,210.9 280.5,210.2 280.8,208.8 281.2,207.4 281.5,207 281.8,205.3 282.1,204.3 282.3,204.2 282.6,203.4 282.9,201.6 283.2,200.7 283.5,199.7 283.7,198.7 284,197.9 284.3,198 284.5,196.8 284.8,195.5 285,194.5 285.3,194.4 285.5,192.9 285.7,192.3 286,191.4 286.2,191.6 286.4,190.1 286.6,189.6 286.9,189.3 287.1,189.2 287.3,188 287.5,188.1 287.7,187.3 287.9,187.9 288.1,186.8 288.4,186.5 288.6,186.8 288.8,186.2 289,185 289.2,185.1 289.4,184.5 289.6,185 289.8,183.5 290,183.2 290.2,182.8 290.4,182.7 290.6,183.2 290.8,181.8 291,182 291.2,181.5 291.3,181.7 291.5,180.4 291.7,180.3 291.9,180.1 292.1,179.3 292.3,179.4 292.5,179.4 292.7,179 292.8,178.9 293,177.9 293.2,177.9 293.4,177.9 293.6,176.9 293.7,177 293.9,176.3 294.1,176.5 294.3,176.2 294.5,175.7 294.6,175 294.8,174.3 295,173.9 295.2,174.3 295.4,173.5 295.5,173.6 295.7,173.2 295.9,172.4 296.1,171.5 296.3,171.6 296.4,171.5 296.6,171.2 296.8,170.4 297,170.8 297.2,170.1 297.3,169.8 297.5,168.9 297.7,168.7 297.9,168.6 298.1,168.3 298.2,167.5 298.4,167.7 298.6,167.5 298.8,167.1 299,165.9 299.1,165.6 299.3,165.8 299.5,165 299.7,165.1 299.9,164.1 300,164.4 300.2,164.3 300.4,162.9 300.6,163.3 300.8,162.5 300.9,162.3 301.1,162.2 301.3,161.9 301.5,161.5 301.7,161.3 301.8,160.7 302,160.8 302.2,159.6 302.4,158.9 302.6,158.6 302.7,158.2 302.9,157.8 303.1,158.5 303.3,158 303.5,157.1 303.6,157.3 303.8,156.5 304,155.8 304.2,156.4 304.4,156.2 304.5,156 304.7,155.6 304.9,155.6 305.1,154.7 305.3,154.3 305.4,154 305.6,154.1 305.8,154 306,153.5 306.2,153.6 306.3,153.1 306.5,153.4 306.7,153 306.9,152.8 307.1,152.3 307.2,152.6 307.4,151.9 307.6,151.7 307.8,151.9 308,151.4 308.1,151.4 308.3,150.5 308.5,150.7 308.7,150.7 308.9,150.1 309,150.1 309.2,149.5 309.4,149.8 309.6,149.7 309.8,149 309.9,149.2 310.1,148.3 310.3,148.7 310.5,148.2 310.7,147.6 310.8,147.7 311,148 311.2,147.1 311.4,146.8 311.6,146.8 311.7,146.8 311.9,146.2 312.1,146.5 312.3,146.7 312.5,146.4 312.6,145.8 312.8,145.3 313,145.5 313.2,144.7 313.4,144.9 313.5,144.2 313.7,144.8 313.9,144.5 314.1,144 314.3,144.6 314.4,143.3 314.6,143.6 314.8,143.6 315,143.4 315.2,142.7 315.3,143.7 315.5,142.9 315.7,143 315.9,142.5 316.1,142.5 316.2,142 316.4,142.2 316.6,141.5 316.8,142.1 317,142.3 317.1,141.2 317.3,141.4 317.5,141.9 317.7,141.2 317.9,141.3 318,141.4 318.2,141.2 318.4,140.3 318.6,140.9 318.8,139.9 318.9,139.7 319.1,139.8 319.3,139.4 319.5,139.7 319.7,139.5 319.8,139.8 320,139.4 320.2,139.6 320.4,139" stroke="#9932cc" stroke-width="0.7" fill="none"/>
<path d="M45.9 280.8a1.7 1.7 0 1 0 3.4 0a1.7 1.7 0 1 0-3.4 0M49.2 280.5a1.7 1.7 0 1 0 3.4 0a1.7 1.7 0 1 0-3.4 0M51.4 281.1a1.7 1.7 0 1 0 3.4 0a1.7 1.7 0 1 0-3.4 0M54.8 280.8a1.7 1.7 0 1 0 3.4 0a1.7 1.7 0 1 0-3.4 0M56.5 280.6a1.7 1.7 0 1 0 3.4 0a1.7 1.7 0 1 0-3.4 0M61.1 280.8a1.7 1.7 0 1 0 3.4 0a1.7 1.7 0 1 0-3.4 0M62.7 280.9a1.7 1.7 0 1 0 3.4 0a1.7 1.7 0 1 0-3.4 0M66.2 280.6a1.7 1.7 0 1 0 3.4 0a1.7 1.7 0 1 0-3.4 0M70.5 280.5a1.7 1.7 0 1 0 3.4 0a1.7 1.7 0 1 0-3.4 0M72.3 280.4a1.7 1.7 0 1 0 3.4 0a1.7 1.7 0 1 0-3.4 0M79.7 278.9a1.7 1.7 0 1 0 3.4 0a1.7 1.7 0 1 0-3.4 0M93.8 278.6a1.7 1.7 0 1 0 3.4 0a1.7 1.7 0 1 0-3.4 0M104.6 277.6a1.7 1.7 0 1 0 3.4 0a1.7 1.7 0 1 0-3.4 0M123.8 277a1.7 1.7 0 1 0 3.4 0a1.7 1.7 0 1 0-3.4 0M138.3 275.7a1.7 1.7 0 1 0 3.4 0a1.7 1.7 0 1 0-3.4 0M152 275.3a1.7 1.7 0 1 0 3.4 0a1.7 1.7 0 1 0-3.4 0M166.9 274.5a1.7 1.7 0 1 0 3.4 0a1.7 1.7 0 1 0-3.4 0M177.6 274.5a1.7 1.7 0 1 0 3.4 0a1.7 1.7 0 1 0-3.4 0M189.7 273.7a1.7 1.7 0 1 0 3.4 0a1.7 1.7 0 1 0-3.4 0M211.4 274a1.7 1.7 0 1 0 3.4 0a1.7 1.7 0 1 0-3.4 0M221.5 273.7a1.7 1.7 0 1 0 3.4 0a1.7 1.7 0 1 0-3.4 0M227 273.5a1.7 1.7 0 1 0 3.4 0a1.7 1.7 0 1 0-3.4 0M229.1 272.5a1.7 1.7 0 1 0 3.4 0a1.7 1.7 0 1 0-3.4 0M231.1 272.7a1.7 1.7 0 1 0 3.4 0a1.7 1.7 0 1 0-3.4 0M234.1 272.2a1.7 1.7 0 1 0 3.4 0a1.7 1.7 0 1 0-3.4 0M235.2 272.3a1.7 1.7 0 1 0 3.4 0a1.7 1.7 0 1 0-3.4 0M238 272.5a1.7 1.7 0 1 0 3.4 0a1.7 1.7 0 1 0-3.4 0M239.8 271.3a1.7 1.7 0 1 0 3.4 0a1.7 1.7 0 1 0-3.4 0M240.7 271a1.7 1.7 0 1 0 3.4 0a1.7 1.7 0 1 0-3.4 0M242.7 269.7a1.7 1.7 0 1 0 3.4 0a1.7 1.7 0 1 0-3.4 0M244.1 269.2a1.7 1.7 0 1 0 3.4 0a1.7 1.7 0 1 0-3.4 0M245.5 268.1a1.7 1.7 0 1 0 3.4 0a1.7 1.7 0 1 0-3.4 0M246.9 267.8a1.7 1.7 0 1 0 3.4 0a1.7 1.7 0 1 0-3.4 0M248.2 267.8a1.7 1.7 0 1 0 3.4 0a1.7 1.7 0 1 0-3.4 0M249.5 266.3a1.7 1.7 0 1 0 3.4 0a1.7 1.7 0 1 0-3.4 0M250.7 266.2a1.7 1.7 0 1 0 3.4 0a1.7 1.7 0 1 0-3.4 0M251.9 264.7a1.7 1.7 0 1 0 3.4 0a1.7 1.7 0 1 0-3.4 0M253 264.7a1.7 1.7 0 1 0 3.4 0a1.7 1.7 0 1 0-3.4 0M254.1 262.4a1.7 1.7 0 1 0 3.4 0a1.7 1.7 0 1 0-3.4 0M255.1 261.2a1.7 1.7 0 1 0 3.4 0a1.7 1.7 0 1 0-3.4 0M256.1 260.7a1.7 1.7 0 1 0 3.4 0a1.7 1.7 0 1 0-3.4 0M257.1 259.9a1.7 1.7 0 1 0 3.4 0a1.7 1.7 0 1 0-3.4 0M258 258.6a1.7 1.7 0 1 0 3.4 0a1.7 1.7 0 1 0-3.4 0M258.9 257.2a1.7 1.7 0 1 0 3.4 0a1.7 1.7 0 1 0-3.4 0M259.8 256.8a1.7 1.7 0 1 0 3.4 0a1.7 1.7 0 1 0-3.4 0M260.7 255.5a1.7 1.7 0 1 0 3.4 0a1.7 1.7 0 1 0-3.4 0M261.5 254.1a1.7 1.7 0 1 0 3.4 0a1.7 1.7 0 1 0-3.4 0M262.3 253.2a1.7 1.7 0 1 0 3.4 0a1.7 1.7 0 1 0-3.4 0M263.1 252.3a1.7 1.7 0 1 0 3.4 0a1.7 1.7 0 1 0-3.4 0M263.8 251.9a1.7 1.7 0 1 0 3.4 0a1.7 1.7 0 1 0-3.4 0M264.5 250.8a1.7 1.7 0 1 0 3.4 0a1.7 1.7 0 1 0-3.4 0M265.2 248.9a1.7 1.7 0 1 0 3.4 0a1.7 1.7 0 1 0-3.4 0M265.9 247.1a1.7 1.7 0 1 0 3.4 0a1.7 1.7 0 1 0-3.4 0M266.5 245.8a1.7 1.7 0 1 0 3.4 0a1.7 1.7 0 1 0-3.4 0M267.1 244.6a1.7 1.7 0 1 0 3.4 0a1.7 1.7 0 1 0-3.4 0M267.8 242.7a1.7 1.7 0 1 0 3.4 0a1.7 1.7 0 1 0-3.4 0M268.3 241.5a1.7 1.7 0 1 0 3.4 0a1.7 1.7 0 1 0-3.4 0M268.9 240a1.7 1.7 0 1 0 3.4 0a1.7 1.7 0 1 0-3.4 0M269.5 238.7a1.7 1.7 0 1 0 3.4 0a1.7 1.7 0 1 0-3.4 0M270 237.5a1.7 1.7 0 1 0 3.4 0a1.7 1.7 0 1 0-3.4 0M270.5 235.9a1.7 1.7 0 1 0 3.4 0a1.7 1.7 0 1 0-3.4 0M271 234a1.7 1.7 0 1 0 3.4 0a1.7 1.7 0 1 0-3.4 0M271.5 233.1a1.7 1.7 0 1 0 3.4 0a1.7 1.7 0 1 0-3.4 0M271.9 231.4a1.7 1.7 0 1 0 3.4 0a1.7 1.7 0 1 0-3.4 0M272.4 229.9a1.7 1.7 0 1 0 3.4 0a1.7 1.7 0 1 0-3.4 0M272.9 228.5a1.7 1.7 0 1 0 3.4 0a1.7 1.7 0 1 0-3.4 0M273.3 227.7a1.7 1.7 0 1 0 3.4 0a1.7 1.7 0 1 0-3.4 0M273.7 226.1a1.7 1.7 0 1 0 3.4 0a1.7 1.7 0 1 0-3.4 0M274.1 225.2a1.7 1.7 0 1 0 3.4 0a1.7 1.7 0 1 0-3.4 0M274.6 223a1.7 1.7 0 1 0 3.4 0a1.7 1.7 0 1 0-3.4 0M275 221.9a1.7 1.7 0 1 0 3.4 0a1.7 1.7 0 1 0-3.4 0M275.3 221.5a1.7 1.7 0 1 0 3.4 0a1.7 1.7 0 1 0-3.4 0M275.7 219.8a1.7 1.7 0 1 0 3.4 0a1.7 1.7 0 1 0-3.4 0M276.1 218.7a1.7 1.7 0 1 0 3.4 0a1.7 1.7 0 1 0-3.4 0M276.5 218a1.7 1.7 0 1 0 3.4 0a1.7 1.7 0 1 0-3.4 0M276.8 217a1.7 1.7 0 1 0 3.4 0a1.7 1.7 0 1 0-3.4 0M277.2 215.9a1.7 1.7 0 1 0 3.4 0a1.7 1.7 0 1 0-3.4 0M277.5 214.3a1.7 1.7 0 1 0 3.4 0a1.7 1.7 0 1 0-3.4 0M277.8 213.1a1.7 1.7 0 1 0 3.4 0a1.7 1.7 0 1 0-3.4 0M278.2 211.8a1.7 1.7 0 1 0 3.4 0a1.7 1.7 0 1 0-3.4 0M278.5 210.9a1.7 1.7 0 1 0 3.4 0a1.7 1.7 0 1 0-3.4 0M278.8 210.2a1.7 1.7 0 1 0 3.4 0a1.7 1.7 0 1 0-3.4 0M279.1 208.8a1.7 1.7 0 1 0 3.4 0a1.7 1.7 0 1 0-3.4 0M279.5 207.4a1.7 1.7 0 1 0 3.4 0a1.7 1.7 0 1 0-3.4 0M279.8 207a1.7 1.7 0 1 0 3.4 0a1.7 1.7 0 1 0-3.4 0M280.1 205.3a1.7 1.7 0 1 0 3.4 0a1.7 1.7 0 1 0-3.4 0M280.4 204.3a1.7 1.7 0 1 0 3.4 0a1.7 1.7 0 1 0-3.4 0M280.6 204.2a1.7 1.7 0 1 0 3.4 0a1.7 1.7 0 1 0-3.4 0M280.9 203.4a1.7 1.7 0 1 0 3.4 0a1.7 1.7 0 1 0-3.4 0M281.2 201.6a1.7 1.7 0 1 0 3.4 0a1.7 1.7 0 1 0-3.4 0M281.5 200.7a1.7 1.7 0 1 0 3.4 0a1.7 1.7 0 1 0-3.4 0M281.8 199.7a1.7 1.7 0 1 0 3.4 0a1.7 1.7 0 1 0-3.4 0M282 198.7a1.7 1.7 0 1 0 3.4 0a1.7 1.7 0 1 0-3.4 0M282.3 197.9a1.7 1.7 0 1 0 3.4 0a1.7 1.7 0 1 0-3.4 0M282.6 198a1.7 1.7 0 1 0 3.4 0a1.7 1.7 0 1 0-3.4 0M282.8 196.8a1.7 1.7 0 1 0 3.4 0a1.7 1.7 0 1 0-3.4 0M283.1 195.5a1.7 1.7 0 1 0 3.4 0a1.7 1.7 0 1 0-3.4 0M283.3 194.5a1.7 1.7 0 1 0 3.4 0a1.7 1.7 0 1 0-3.4 0M283.6 194.4a1.7 1.7 0 1 0 3.4 0a1.7 1.7 0 1 0-3.4 0M283.8 192.9a1.7 1.7 0 1 0 3.4 0a1.7 1.7 0 1 0-3.4 0M284 192.3a1.7 1.7 0 1 0 3.4 0a1.7 1.7 0 1 0-3.4 0M284.3 191.4a1.7 1.7 0 1 0 3.4 0a1.7 1.7 0 1 0-3.4 0M284.5 191.6a1.7 1.7 0 1 0 3.4 0a1.7 1.7 0 1 0-3.4 0M284.7 190.1a1.7 1.7 0 1 0 3.4 0a1.7 1.7 0 1 0-3.4 0M284.9 189.6a1.7 1.7 0 1 0 3.4 0a1.7 1.7 0 1 0-3.4 0M285.2 189.3a1.7 1.7 0 1 0 3.4 0a1.7 1.7 0 1 0-3.4 0M285.4 189.2a1.7 1.7 0 1 0 3.4 0a1.7 1.7 0 1 0-3.4 0M285.6 188a1.7 1.7 0 1 0 3.4 0a1.7 1.7 0 1 0-3.4 0M285.8 188.1a1.7 1.7 0 1 0 3.4 0a1.7 1.7 0 1 0-3.4 0M286 187.3a1.7 1.7 0 1 0 3.4 0a1.7 1.7 0 1 0-3.4 0M286.2 187.9a1.7 1.7 0 1 0 3.4 0a1.7 1.7 0 1 0-3.4 0M286.4 186.8a1.7 1.7 0 1 0 3.4 0a1.7 1.7 0 1 0-3.4 0M286.7 186.5a1.7 1.7 0 1 0 3.4 0a1.7 1.7 0 1 0-3.4 0M286.9 186.8a1.7 1.7 0 1 0 3.4 0a1.7 1.7 0 1 0-3.4 0M287.1 186.2a1.7 1.7 0 1 0 3.4 0a1.7 1.7 0 1 0-3.4 0M287.3 185a1.7 1.7 0 1 0 3.4 0a1.7 1.7 0 1 0-3.4 0M287.5 185.1a1.7 1.7 0 1 0 3.4 0a1.7 1.7 0 1 0-3.4 0M287.7 184.5a1.7 1.7 0 1 0 3.4 0a1.7 1.7 0 1 0-3.4 0M287.9 185a1.7 1.7 0 1 0 3.4 0a1.7 1.7 0 1 0-3.4 0M288.1 183.5a1.7 1.7 0 1 0 3.4 0a1.7 1.7 0 1 0-3.4 0M288.3 183.2a1.7 1.7 0 1 0 3.4 0a1.7 1.7 0 1 0-3.4 0M288.5 182.8a1.7 1.7 0 1 0 3.4 0a1.7 1.7 0 1 0-3.4 0M288.7 182.7a1.7 1.7 0 1 0 3.4 0a1.7 1.7 0 1 0-3.4 0M288.9 183.2a1.7 1.7 0 1 0 3.4 0a1.7 1.7 0 1 0-3.4 0M289.1 181.8a1.7 1.7 0 1 0 3.4 0a1.7 1.7 0 1 0-3.4 0M289.3 182a1.7 1.7 0 1 0 3.4 0a1.7 1.7 0 1 0-3.4 0M289.5 181.5a1.7 1.7 0 1 0 3.4 0a1.7 1.7 0 1 0-3.4 0M289.6 181.7a1.7 1.7 0 1 0 3.4 0a1.7 1.7 0 1 0-3.4 0M289.8 180.4a1.7 1.7 0 1 0 3.4 0a1.7 1.7 0 1 0-3.4 0M290 180.3a1.7 1.7 0 1 0 3.4 0a1.7 1.7 0 1 0-3.4 0M290.2 180.1a1.7 1.7 0 1 0 3.4 0a1.7 1.7 0 1 0-3.4 0M290.4 179.3a1.7 1.7 0 1 0 3.4 0a1.7 1.7 0 1 0-3.4 0M290.6 179.4a1.7 1.7 0 1 0 3.4 0a1.7 1.7 0 1 0-3.4 0M290.8 179.4a1.7 1.7 0 1 0 3.4 0a1.7 1.7 0 1 0-3.4 0M291 179a1.7 1.7 0 1 0 3.4 0a1.7 1.7 0 1 0-3.4 0M291.1 178.9a1.7 1.7 0 1 0 3.4 0a1.7 1.7 0 1 0-3.4 0M291.3 177.9a1.7 1.7 0 1 0 3.4 0a1.7 1.7 0 1 0-3.4 0M291.5 177.9a1.7 1.7 0 1 0 3.4 0a1.7 1.7 0 1 0-3.4 0M291.7 177.9a1.7 1.7 0 1 0 3.4 0a1.7 1.7 0 1 0-3.4 0M291.9 176.9a1.7 1.7 0 1 0 3.4 0a1.7 1.7 0 1 0-3.4 0M292 177a1.7 1.7 0 1 0 3.4 0a1.7 1.7 0 1 0-3.4 0M292.2 176.3a1.7 1.7 0 1 0 3.4 0a1.7 1.7 0 1 0-3.4 0M292.4 176.5a1.7 1.7 0 1 0 3.4 0a1.7 1.7 0 1 0-3.4 0M292.6 176.2a1.7 1.7 0 1 0 3.4 0a1.7 1.7 0 1 0-3.4 0M292.8 175.7a1.7 1.7 0 1 0 3.4 0a1.7 1.7 0 1 0-3.4 0M292.9 175a1.7 1.7 0 1 0 3.4 0a1.7 1.7 0 1 0-3.4 0M293.1 174.3a1.7 1.7 0 1 0 3.4 0a1.7 1.7 0 1 0-3.4 0M293.3 173.9a1.7 1.7 0 1 0 3.4 0a1.7 1.7 0 1 0-3.4 0M293.5 174.3a1.7 1.7 0 1 0 3.4 0a1.7 1.7 0 1 0-3.4 0M293.7 173.5a1.7 1.7 0 1 0 3.4 0a1.7 1.7 0 1 0-3.4 0M293.8 173.6a1.7 1.7 0 1 0 3.4 0a1.7 1.7 0 1 0-3.4 0M294 173.2a1.7 1.7 0 1 0 3.4 0a1.7 1.7 0 1 0-3.4 0M294.2 172.4a1.7 1.7 0 1 0 3.4 0a1.7 1.7 0 1 0-3.4 0M294.4 171.5a1.7 1.7 0 1 0 3.4 0a1.7 1.7 0 1 0-3.4 0M294.6 171.6a1.7 1.7 0 1 0 3.4 0a1.7 1.7 0 1 0-3.4 0M294.7 171.5a1.7 1.7 0 1 0 3.4 0a1.7 1.7 0 1 0-3.4 0M294.9 171.2a1.7 1.7 0 1 0 3.4 0a1.7 1.7 0 1 0-3.4 0M295.1 170.4a1.7 1.7 0 1 0 3.4 0a1.7 1.7 0 1 0-3.4 0M295.3 170.8a1.7 1.7 0 1 0 3.4 0a1.7 1.7 0 1 0-3.4 0M295.5 170.1a1.7 1.7 0 1 0 3.4 0a1.7 1.7 0 1 0-3.4 0M295.6 169.8a1.7 1.7 0 1 0 3.4 0a1.7 1.7 0 1 0-3.4 0M295.8 168.9a1.7 1.7 0 1 0 3.4 0a1.7 1.7 0 1 0-3.4 0M296 168.7a1.7 1.7 0 1 0 3.4 0a1.7 1.7 0 1 0-3.4 0M296.2 168.6a1.7 1.7 0 1 0 3.4 0a1.7 1.7 0 1 0-3.4 0M296.4 168.3a1.7 1.7 0 1 0 3.4 0a1.7 1.7 0 1 0-3.4 0M296.5 167.5a1.7 1.7 0 1 0 3.4 0a1.7 1.7 0 1 0-3.4 0M296.7 167.7a1.7 1.7 0 1 0 3.4 0a1.7 1.7 0 1 0-3.4 0M296.9 167.5a1.7 1.7 0 1 0 3.4 0a1.7 1.7 0 1 0-3.4 0M297.1 167.1a1.7 1.7 0 1 0 3.4 0a1.7 1.7 0 1 0-3.4 0M297.3 165.9a1.7 1.7 0 1 0 3.4 0a1.7 1.7 0 1 0-3.4 0M297.4 165.6a1.7 1.7 0 1 0 3.4 0a1.7 1.7 0 1 0-3.4 0M297.6 165.8a1.7 1.7 0 1 0 3.4 0a1.7 1.7 0 1 0-3.4 0M297.8 165a1.7 1.7 0 1 0 3.4 0a1.7 1.7 0 1 0-3.4 0M298 165.1a1.7 1.7 0 1 0 3.4 0a1.7 1.7 0 1 0-3.4 0M298.2 164.1a1.7 1.7 0 1 0 3.4 0a1.7 1.7 0 1 0-3.4 0M298.3 164.4a1.7 1.7 0 1 0 3.4 0a1.7 1.7 0 1 0-3.4 0M298.5 164.3a1.7 1.7 0 1 0 3.4 0a1.7 1.7 0 1 0-3.4 0M298.7 162.9a1.7 1.7 0 1 0 3.4 0a1.7 1.7 0 1 0-3.4 0M298.9 163.3a1.7 1.7 0 1 0 3.4 0a1.7 1.7 0 1 0-3.4 0M299.1 162.5a1.7 1.7 0 1 0 3.4 0a1.7 1.7 0 1 0-3.4 0M299.2 162.3a1.7 1.7 0 1 0 3.4 0a1.7 1.7 0 1 0-3.4 0M299.4 162.2a1.7 1.7 0 1 0 3.4 0a1.7 1.7 0 1 0-3.4 0M299.6 161.9a1.7 1.7 0 1 0 3.4 0a1.7 1.7 0 1 0-3.4 0M299.8 161.5a1.7 1.7 0 1 0 3.4 0a1.7 1.7 0 1 0-3.4 0M300 161.3a1.7 1.7 0 1 0 3.4 0a1.7 1.7 0 1 0-3.4 0M300.1 160.7a1.7 1.7 0 1 0 3.4 0a1.7 1.7 0 1 0-3.4 0M300.3 160.8a1.7 1.7 0 1 0 3.4 0a1.7 1.7 0 1 0-3.4 0M300.5 159.6a1.7 1.7 0 1 0 3.4 0a1.7 1.7 0 1 0-3.4 0M300.7 158.9a1.7 1.7 0 1 0 3.4 0a1.7 1.7 0 1 0-3.4 0M300.9 158.6a1.7 1.7 0 1 0 3.4 0a1.7 1.7 0 1 0-3.4 0M301 158.2a1.7 1.7 0 1 0 3.4 0a1.7 1.7 0 1 0-3.4 0M301.2 157.8a1.7 1.7 0 1 0 3.4 0a1.7 1.7 0 1 0-3.4 0M301.4 158.5a1.7 1.7 0 1 0 3.4 0a1.7 1.7 0 1 0-3.4 0M301.6 158a1.7 1.7 0 1 0 3.4 0a1.7 1.7 0 1 0-3.4 0M301.8 157.1a1.7 1.7 0 1 0 3.4 0a1.7 1.7 0 1 0-3.4 0M301.9 157.3a1.7 1.7 0 1 0 3.4 0a1.7 1.7 0 1 0-3.4 0M302.1 156.5a1.7 1.7 0 1 0 3.4 0a1.7 1.7 0 1 0-3.4 0M302.3 155.8a1.7 1.7 0 1 0 3.4 0a1.7 1.7 0 1 0-3.4 0M302.5 156.4a1.7 1.7 0 1 0 3.4 0a1.7 1.7 0 1 0-3.4 0M302.7 156.2a1.7 1.7 0 1 0 3.4 0a1.7 1.7 0 1 0-3.4 0M302.8 156a1.7 1.7 0 1 0 3.4 0a1.7 1.7 0 1 0-3.4 0M303 155.6a1.7 1.7 0 1 0 3.4 0a1.7 1.7 0 1 0-3.4 0M303.2 155.6a1.7 1.7 0 1 0 3.4 0a1.7 1.7 0 1 0-3.4 0M303.4 154.7a1.7 1.7 0 1 0 3.4 0a1.7 1.7 0 1 0-3.4 0M303.6 154.3a1.7 1.7 0 1 0 3.4 0a1.7 1.7 0 1 0-3.4 0M303.7 154a1.7 1.7 0 1 0 3.4 0a1.7 1.7 0 1 0-3.4 0M303.9 154.1a1.7 1.7 0 1 0 3.4 0a1.7 1.7 0 1 0-3.4 0M304.1 154a1.7 1.7 0 1 0 3.4 0a1.7 1.7 0 1 0-3.4 0M304.3 153.5a1.7 1.7 0 1 0 3.4 0a1.7 1.7 0 1 0-3.4 0M304.5 153.6a1.7 1.7 0 1 0 3.4 0a1.7 1.7 0 1 0-3.4 0M304.6 153.1a1.7 1.7 0 1 0 3.4 0a1.7 1.7 0 1 0-3.4 0M304.8 153.4a1.7 1.7 0 1 0 3.4 0a1.7 1.7 0 1 0-3.4 0M305 153a1.7 1.7 0 1 0 3.4 0a1.7 1.7 0 1 0-3.4 0M305.2 152.8a1.7 1.7 0 1 0 3.4 0a1.7 1.7 0 1 0-3.4 0M305.4 152.3a1.7 1.7 0 1 0 3.4 0a1.7 1.7 0 1 0-3.4 0M305.5 152.6a1.7 1.7 0 1 0 3.4 0a1.7 1.7 0 1 0-3.4 0M305.7 151.9a1.7 1.7 0 1 0 3.4 0a1.7 1.7 0 1 0-3.4 0M305.9 151.7a1.7 1.7 0 1 0 3.4 0a1.7 1.7 0 1 0-3.4 0M306.1 151.9a1.7 1.7 0 1 0 3.4 0a1.7 1.7 0 1 0-3.4 0M306.3 151.4a1.7 1.7 0 1 0 3.4 0a1.7 1.7 0 1 0-3.4 0M306.4 151.4a1.7 1.7 0 1 0 3.4 0a1.7 1.7 0 1 0-3.4 0M306.6 150.5a1.7 1.7 0 1 0 3.4 0a1.7 1.7 0 1 0-3.4 0M306.8 150.7a1.7 1.7 0 1 0 3.4 0a1.7 1.7 0 1 0-3.4 0M307 150.7a1.7 1.7 0 1 0 3.4 0a1.7 1.7 0 1 0-3.4 0M307.2 150.1a1.7 1.7 0 1 0 3.4 0a1.7 1.7 0 1 0-3.4 0M307.3 150.1a1.7 1.7 0 1 0 3.4 0a1.7 1.7 0 1 0-3.4 0M307.5 149.5a1.7 1.7 0 1 0 3.4 0a1.7 1.7 0 1 0-3.4 0M307.7 149.8a1.7 1.7 0 1 0 3.4 0a1.7 1.7 0 1 0-3.4 0M307.9 149.7a1.7 1.7 0 1 0 3.4 0a1.7 1.7 0 1 0-3.4 0M308.1 149a1.7 1.7 0 1 0 3.4 0a1.7 1.7 0 1 0-3.4 0M308.2 149.2a1.7 1.7 0 1 0 3.4 0a1.7 1.7 0 1 0-3.4 0M308.4 148.3a1.7 1.7 0 1 0 3.4 0a1.7 1.7 0 1 0-3.4 0M308.6 148.7a1.7 1.7 0 1 0 3.4 0a1.7 1.7 0 1 0-3.4 0M308.8 148.2a1.7 1.7 0 1 0 3.4 0a1.7 1.7 0 1 0-3.4 0M309 147.6a1.7 1.7 0 1 0 3.4 0a1.7 1.7 0 1 0-3.4 0M309.1 147.7a1.7 1.7 0 1 0 3.4 0a1.7 1.7 0 1 0-3.4 0M309.3 148a1.7 1.7 0 1 0 3.4 0a1.7 1.7 0 1 0-3.4 0M309.5 147.1a1.7 1.7 0 1 0 3.4 0a1.7 1.7 0 1 0-3.4 0M309.7 146.8a1.7 1.7 0 1 0 3.4 0a1.7 1.7 0 1 0-3.4 0M309.9 146.8a1.7 1.7 0 1 0 3.4 0a1.7 1.7 0 1 0-3.4 0M310 146.8a1.7 1.7 0 1 0 3.4 0a1.7 1.7 0 1 0-3.4 0M310.2 146.2a1.7 1.7 0 1 0 3.4 0a1.7 1.7 0 1 0-3.4 0M310.4 146.5a1.7 1.7 0 1 0 3.4 0a1.7 1.7 0 1 0-3.4 0M310.6 146.7a1.7 1.7 0 1 0 3.4 0a1.7 1.7 0 1 0-3.4 0M310.8 146.4a1.7 1.7 0 1 0 3.4 0a1.7 1.7 0 1 0-3.4 0M310.9 145.8a1.7 1.7 0 1 0 3.4 0a1.7 1.7 0 1 0-3.4 0M311.1 145.3a1.7 1.7 0 1 0 3.4 0a1.7 1.7 0 1 0-3.4 0M311.3 145.5a1.7 1.7 0 1 0 3.4 0a1.7 1.7 0 1 0-3.4 0M311.5 144.7a1.7 1.7 0 1 0 3.4 0a1.7 1.7 0 1 0-3.4 0M311.7 144.9a1.7 1.7 0 1 0 3.4 0a1.7 1.7 0 1 0-3.4 0M311.8 144.2a1.7 1.7 0 1 0 3.4 0a1.7 1.7 0 1 0-3.4 0M312 144.8a1.7 1.7 0 1 0 3.4 0a1.7 1.7 0 1 0-3.4 0M312.2 144.5a1.7 1.7 0 1 0 3.4 0a1.7 1.7 0 1 0-3.4 0M312.4 144a1.7 1.7 0 1 0 3.4 0a1.7 1.7 0 1 0-3.4 0M312.6 144.6a1.7 1.7 0 1 0 3.4 0a1.7 1.7 0 1 0-3.4 0M312.7 143.3a1.7 1.7 0 1 0 3.4 0a1.7 1.7 0 1 0-3.4 0M312.9 143.6a1.7 1.7 0 1 0 3.4 0a1.7 1.7 0 1 0-3.4 0M313.1 143.6a1.7 1.7 0 1 0 3.4 0a1.7 1.7 0 1 0-3.4 0M313.3 143.4a1.7 1.7 0 1 0 3.4 0a1.7 1.7 0 1 0-3.4 0M313.5 142.7a1.7 1.7 0 1 0 3.4 0a1.7 1.7 0 1 0-3.4 0M313.6 143.7a1.7 1.7 0 1 0 3.4 0a1.7 1.7 0 1 0-3.4 0M313.8 142.9a1.7 1.7 0 1 0 3.4 0a1.7 1.7 0 1 0-3.4 0M314 143a1.7 1.7 0 1 0 3.4 0a1.7 1.7 0 1 0-3.4 0M314.2 142.5a1.7 1.7 0 1 0 3.4 0a1.7 1.7 0 1 0-3.4 0M314.4 142.5a1.7 1.7 0 1 0 3.4 0a1.7 1.7 0 1 0-3.4 0M314.5 142a1.7 1.7 0 1 0 3.4 0a1.7 1.7 0 1 0-3.4 0M314.7 142.2a1.7 1.7 0 1 0 3.4 0a1.7 1.7 0 1 0-3.4 0M314.9 141.5a1.7 1.7 0 1 0 3.4 0a1.7 1.7 0 1 0-3.4 0M315.1 142.1a1.7 1.7 0 1 0 3.4 0a1.7 1.7 0 1 0-3.4 0M315.3 142.3a1.7 1.7 0 1 0 3.4 0a1.7 1.7 0 1 0-3.4 0M315.4 141.2a1.7 1.7 0 1 0 3.4 0a1.7 1.7 0 1 0-3.4 0M315.6 141.4a1.7 1.7 0 1 0 3.4 0a1.7 1.7 0 1 0-3.4 0M315.8 141.9a1.7 1.7 0 1 0 3.4 0a1.7 1.7 0 1 0-3.4 0M316 141.2a1.7 1.7 0 1 0 3.4 0a1.7 1.7 0 1 0-3.4 0M316.2 141.3a1.7 1.7 0 1 0 3.4 0a1.7 1.7 0 1 0-3.4 0M316.3 141.4a1.7 1.7 0 1 0 3.4 0a1.7 1.7 0 1 0-3.4 0M316.5 141.2a1.7 1.7 0 1 0 3.4 0a1.7 1.7 0 1 0-3.4 0M316.7 140.3a1.7 1.7 0 1 0 3.4 0a1.7 1.7 0 1 0-3.4 0M316.9 140.9a1.7 1.7 0 1 0 3.4 0a1.7 1.7 0 1 0-3.4 0M317.1 139.9a1.7 1.7 0 1 0 3.4 0a1.7 1.7 0 1 0-3.4 0M317.2 139.7a1.7 1.7 0 1 0 3.4 0a1.7 1.7 0 1 0-3.4 0M317.4 139.8a1.7 1.7 0 1 0 3.4 0a1.7 1.7 0 1 0-3.4 0M317.6 139.4a1.7 1.7 0 1 0 3.4 0a1.7 1.7 0 1 0-3.4 0M317.8 139.7a1.7 1.7 0 1 0 3.4 0a1.7 1.7 0 1 0-3.4 0M318 139.5a1.7 1.7 0 1 0 3.4 0a1.7 1.7 0 1 0-3.4 0M318.1 139.8a1.7 1.7 0 1 0 3.4 0a1.7 1.7 0 1 0-3.4 0M318.3 139.4a1.7 1.7 0 1 0 3.4 0a1.7 1.7 0 1 0-3.4 0M318.5 139.6a1.7 1.7 0 1 0 3.4 0a1.7 1.7 0 1 0-3.4 0M318.7 139a1.7 1.7 0 1 0 3.4 0a1.7 1.7 0 1 0-3.4 0" stroke="#9932cc" stroke-width="0.7" fill="none"/>
<path d="M49.6 194.6V293.5M45 245.5H54.5M47.2 194.6h4.7M47.2 293.5h4.7M45 243.2v4.7M54.5 243.2v4.7M52.1 195V289.1M46.5 244.5H55.5M49.8 195h4.7M49.8 289.1h4.7M46.5 242.2v4.7M55.5 242.2v4.7M57.6 190.2V284.2M48.2 237.4H67.6M55.2 190.2h4.7M55.2 284.2h4.7M48.2 235.1v4.7M67.6 235.1v4.7M63.3 186.5V279M53.3 232.3H72M60.9 186.5h4.7M60.9 279h4.7M53.3 230v4.7M72 230v4.7M67.4 178.4V272.4M57.9 225H77.5M65.1 178.4h4.7M65.1 272.4h4.7M57.9 222.7v4.7M77.5 222.7v4.7M72.4 166.7V262.3M61.5 214.9H84.2M70.1 166.7h4.7M70.1 262.3h4.7M61.5 212.6v4.7M84.2 212.6v4.7M81.3 158.5V253.9M64 206H98.1M79 158.5h4.7M79 253.9h4.7M64 203.7v4.7M98.1 203.7v4.7M95.1 148.6V247.1M67.3 198.1H123.6M92.8 148.6h4.7M92.8 247.1h4.7M67.3 195.8v4.7M123.6 195.8v4.7M106 134.5V235.1M82.2 185H131M103.7 134.5h4.7M103.7 235.1h4.7M82.2 182.7v4.7M131 182.7v4.7M126.7 126.3V216.5M100 171.4H153.5M124.4 126.3h4.7M124.4 216.5h4.7M100 169.1v4.7M153.5 169.1v4.7M140.3 120.6V207.5M114 164.7H165.9M138 120.6h4.7M138 207.5h4.7M114 162.3v4.7M165.9 162.3v4.7M153.5 116.4V199M127.4 157.3H180M151.2 116.4h4.7M151.2 199h4.7M127.4 155v4.7M180 155v4.7M169.1 108.4V195M140.3 151.6H197.4M166.8 108.4h4.7M166.8 195h4.7M140.3 149.2v4.7M197.4 149.2v4.7M191.5 98.2V178.1M165.4 138.4H217.5M189.2 98.2h4.7M189.2 178.1h4.7M165.4 136.1v4.7M217.5 136.1v4.7M213.3 91.3V160.8M193.2 126H234.1M211 91.3h4.7M211 160.8h4.7M193.2 123.7v4.7M234.1 123.7v4.7M223.2 87.6V151.1M209.8 119.3H236.6M220.8 87.6h4.7M220.8 151.1h4.7M209.8 117v4.7M236.6 117v4.7M228.5 85.7V141.7M218.5 115.4H238.7M226.2 85.7h4.7M226.2 141.7h4.7M218.5 113.1v4.7M238.7 113.1v4.7M231.9 85.1V137.5M223.6 111H240.7M229.6 85.1h4.7M229.6 137.5h4.7M223.6 108.6v4.7M240.7 108.6v4.7M235.7 82.7V127.6M226.2 107H245M233.3 82.7h4.7M233.3 127.6h4.7M226.2 104.7v4.7M245 104.7v4.7M238.3 84.1V123.3M230.3 104.1H245.3M235.9 84.1h4.7M235.9 123.3h4.7M230.3 101.7v4.7M245.3 101.7v4.7M240.4 81.5V120.6M233 100H248.5M238 81.5h4.7M238 120.6h4.7M233 97.6v4.7M248.5 97.6v4.7M243.5 77.2V117.7M236.4 97H250.3M241.2 77.2h4.7M241.2 117.7h4.7M236.4 94.7v4.7M250.3 94.7v4.7M246.3 74.2V114.6M239.7 94.7H252.8M243.9 74.2h4.7M243.9 114.6h4.7M239.7 92.3v4.7M252.8 92.3v4.7M247.3 72V109M240 91.3H253.8M244.9 72h4.7M244.9 109h4.7M240 88.9v4.7M253.8 88.9v4.7M250.2 74.4V105.9M243.1 89.7H256.6M247.8 74.4h4.7M247.8 105.9h4.7M243.1 87.4v4.7M256.6 87.4v4.7M251.6 72.6V104.8M244.9 87.6H257.5M249.2 72.6h4.7M249.2 104.8h4.7M244.9 85.2v4.7M257.5 85.2v4.7M253.3 66.7V101.5M247.8 84.5H259M250.9 66.7h4.7M250.9 101.5h4.7M247.8 82.1v4.7M259 82.1v4.7M254.7 65.8V96.3M248.7 82.2H260.5M252.3 65.8h4.7M252.3 96.3h4.7M248.7 79.8v4.7M260.5 79.8v4.7M256.6 64.6V93.2M250.7 79.9H261.8M254.3 64.6h4.7M254.3 93.2h4.7M250.7 77.6v4.7M261.8 77.6v4.7M258 65.1V91.1M251.9 78H264M255.7 65.1h4.7M255.7 91.1h4.7M251.9 75.7v4.7M264 75.7v4.7M259.4 61.4V88.2M254.1 75.8H265.2M257 61.4h4.7M257 88.2h4.7M254.1 73.5v4.7M265.2 73.5v4.7M260.6 62.9V88.5M255.7 74.3H265.6M258.3 62.9h4.7M258.3 88.5h4.7M255.7 72v4.7M265.6 72v4.7M261.8 61.1V84.2M257.2 72.7H266.4M259.4 61.1h4.7M259.4 84.2h4.7M257.2 70.4v4.7M266.4 70.4v4.7M262.8 60V82.7M258 70.8H267.8M260.5 60h4.7M260.5 82.7h4.7M258 68.5v4.7M267.8 68.5v4.7M263.9 58.3V80.7M258.5 69.4H268.4M261.5 58.3h4.7M261.5 80.7h4.7M258.5 67.1v4.7M268.4 67.1v4.7M264.8 54.9V78.1M260.3 66.6H269.3M262.5 54.9h4.7M262.5 78.1h4.7M260.3 64.3v4.7M269.3 64.3v4.7M265.8 54.2V75M260.5 65.5H270.9M263.4 54.2h4.7M263.4 75h4.7M260.5 63.2v4.7M270.9 63.2v4.7M266.7 54V72.5M262.5 63.6H271.8M264.3 54h4.7M264.3 72.5h4.7M262.5 61.3v4.7M271.8 61.3v4.7M267.5 51.6V70.4M262.6 61.5H272.2M265.2 51.6h4.7M265.2 70.4h4.7M262.6 59.2v4.7M272.2 59.2v4.7M268.4 51.7V69.6M264.3 60H272.6M266 51.7h4.7M266 69.6h4.7M264.3 57.7v4.7M272.6 57.7v4.7M269.2 49.9V68.2M264.9 59.3H274.1M266.8 49.9h4.7M266.8 68.2h4.7M264.9 56.9v4.7M274.1 56.9v4.7M269.9 50.6V65.8M265.5 57.9H274M267.6 50.6h4.7M267.6 65.8h4.7M265.5 55.6v4.7M274 55.6v4.7M270.7 49.3V65.2M266.6 57H275M268.3 49.3h4.7M268.3 65.2h4.7M266.6 54.7v4.7M275 54.7v4.7M271.4 48.5V65M266.7 57H276M269.1 48.5h4.7M269.1 65h4.7M266.7 54.7v4.7M276 54.7v4.7M272.1 48.8V61.8M267.2 55.3H276.8M269.8 48.8h4.7M269.8 61.8h4.7M267.2 53v4.7M276.8 53v4.7M272.8 49.3V62.8M268.3 55.5H277.5M270.4 49.3h4.7M270.4 62.8h4.7M268.3 53.2v4.7M277.5 53.2v4.7M273.4 46.4V60M268.9 54H278.2M271.1 46.4h4.7M271.1 60h4.7M268.9 51.6v4.7M278.2 51.6v4.7M274 47.1V60.8M269.2 54H279M271.7 47.1h4.7M271.7 60.8h4.7M269.2 51.6v4.7M279 51.6v4.7M274.6 46.3V59.9M269.8 52.9H279M272.3 46.3h4.7M272.3 59.9h4.7M269.8 50.6v4.7M279 50.6v4.7M275.2 46.3V59.4M270.7 53.1H279.5M272.9 46.3h4.7M272.9 59.4h4.7M270.7 50.7v4.7M279.5 50.7v4.7M275.8 46.2V58M271.3 52.5H280.7M273.5 46.2h4.7M273.5 58h4.7M271.3 50.1v4.7M280.7 50.1v4.7M276.4 46.2V58.3M271.8 52.5H280.8M274 46.2h4.7M274 58.3h4.7M271.8 50.1v4.7M280.8 50.1v4.7M276.9 45.3V56.9M272.4 51.6H280.7M274.6 45.3h4.7M274.6 56.9h4.7M272.4 49.3v4.7M280.7 49.3v4.7M277.5 45.8V56.8M273.1 51.5H281.7M275.1 45.8h4.7M275.1 56.8h4.7M273.1 49.1v4.7M281.7 49.1v4.7M278 45V56.4M274.4 51.2H282M275.7 45h4.7M275.7 56.4h4.7M274.4 48.8v4.7M282 48.8v4.7M278.6 45.8V56M274 50.9H282.8M276.2 45.8h4.7M276.2 56h4.7M274 48.5v4.7M282.8 48.5v4.7M279.1 44.4V55.5M274.8 50.3H282.9M276.7 44.4h4.7M276.7 55.5h4.7M274.8 47.9v4.7M282.9 47.9v4.7M279.6 44.3V55.8M275.2 50H283.5M277.3 44.3h4.7M277.3 55.8h4.7M275.2 47.6v4.7M283.5 47.6v4.7M280.1 44.9V54.6M276.1 49.9H284.4M277.8 44.9h4.7M277.8 54.6h4.7M276.1 47.5v4.7M284.4 47.5v4.7M280.6 44.6V55.6M276.9 50H284.3M278.3 44.6h4.7M278.3 55.6h4.7M276.9 47.6v4.7M284.3 47.6v4.7M281.1 44.5V54M277.3 49.3H285.2M278.8 44.5h4.7M278.8 54h4.7M277.3 46.9v4.7M285.2 46.9v4.7M281.6 44.3V54.5M277.2 49.1H285.5M279.3 44.3h4.7M279.3 54.5h4.7M277.2 46.8v4.7M285.5 46.8v4.7M282.1 44V53.8M278.7 48.4H286.2M279.8 44h4.7M279.8 53.8h4.7M278.7 46v4.7M286.2 46v4.7M282.6 44.2V54M279.2 48.8H286.1M280.3 44.2h4.7M280.3 54h4.7M279.2 46.4v4.7M286.1 46.4v4.7M283.1 44.2V53.6M279.5 48.4H286.6M280.8 44.2h4.7M280.8 53.6h4.7M279.5 46.1v4.7M286.6 46.1v4.7M283.6 42.9V52.4M279.7 47.7H287.5M281.3 42.9h4.7M281.3 52.4h4.7M279.7 45.4v4.7M287.5 45.4v4.7M284.1 43.3V53.3M280.6 48.4H287.9M281.8 43.3h4.7M281.8 53.3h4.7M280.6 46.1v4.7M287.9 46.1v4.7M284.6 43.4V52M280.7 47.5H288.1M282.3 43.4h4.7M282.3 52h4.7M280.7 45.1v4.7M288.1 45.1v4.7M285.1 43V52.1M281.4 47.4H288.9M282.8 43h4.7M282.8 52.1h4.7M281.4 45v4.7M288.9 45v4.7M285.6 43.4V52.5M281.6 47.7H288.9M283.3 43.4h4.7M283.3 52.5h4.7M281.6 45.4v4.7M288.9 45.4v4.7M286.1 43.1V51.7M282.5 47.7H289.9M283.8 43.1h4.7M283.8 51.7h4.7M282.5 45.4v4.7M289.9 45.4v4.7M286.6 43.3V51.9M282.6 47.5H290.5M284.3 43.3h4.7M284.3 51.9h4.7M282.6 45.2v4.7M290.5 45.2v4.7M287.1 43.1V51.7M283.8 47.3H290.9M284.8 43.1h4.7M284.8 51.7h4.7M283.8 45v4.7M290.9 45v4.7M287.6 42.6V51.4M284.3 47H291.5M285.3 42.6h4.7M285.3 51.4h4.7M284.3 44.6v4.7M291.5 44.6v4.7M288.1 42.4V51.1M284.3 47H291.5M285.8 42.4h4.7M285.8 51.1h4.7M284.3 44.6v4.7M291.5 44.6v4.7M288.6 42.3V50.6M285.4 46.7H292.1M286.3 42.3h4.7M286.3 50.6h4.7M285.4 44.3v4.7M292.1 44.3v4.7M289.1 41.8V50M286 46H292.9M286.8 41.8h4.7M286.8 50h4.7M286 43.7v4.7M292.9 43.7v4.7M289.6 41.2V49M286.2 45.4H293.4M287.3 41.2h4.7M287.3 49h4.7M286.2 43v4.7M293.4 43v4.7M290.1 41.8V49.4M286.4 45.4H293.9M287.8 41.8h4.7M287.8 49.4h4.7M286.4 43.1v4.7M293.9 43.1v4.7M290.6 41.7V49.9M286.7 46H293.8M288.3 41.7h4.7M288.3 49.9h4.7M286.7 43.7v4.7M293.8 43.7v4.7M291.1 41.5V49.1M287.4 45.4H294.7M288.8 41.5h4.7M288.8 49.1h4.7M287.4 43v4.7M294.7 43v4.7M291.6 41.6V49.6M288.3 45.7H295M289.3 41.6h4.7M289.3 49.6h4.7M288.3 43.3v4.7M295 43.3v4.7M292.1 41.9V49.5M288.3 46H296M289.8 41.9h4.7M289.8 49.5h4.7M288.3 43.7v4.7M296 43.7v4.7M292.6 41.8V49M289.1 45.6H296.1M290.3 41.8h4.7M290.3 49h4.7M289.1 43.2v4.7M296.1 43.2v4.7M293.1 42.3V49.7M289.6 45.6H296.5M290.8 42.3h4.7M290.8 49.7h4.7M289.6 43.2v4.7M296.5 43.2v4.7M293.6 42V49.4M289.9 45.8H296.7M291.3 42h4.7M291.3 49.4h4.7M289.9 43.4v4.7M296.7 43.4v4.7M294.1 41.8V49.4M290.3 45.4H297.4M291.8 41.8h4.7M291.8 49.4h4.7M290.3 43v4.7M297.4 43v4.7M294.6 42V48.8M290.8 45.2H298.4M292.3 42h4.7M292.3 48.8h4.7M290.8 42.9v4.7M298.4 42.9v4.7M295.1 41.8V48.5M291.5 45.2H299M292.8 41.8h4.7M292.8 48.5h4.7M291.5 42.8v4.7M299 42.8v4.7M295.6 40.9V47.8M292.4 44.7H298.9M293.3 40.9h4.7M293.3 47.8h4.7M292.4 42.4v4.7M298.9 42.4v4.7M296.1 42V48.7M292.5 45.3H299.3M293.8 42h4.7M293.8 48.7h4.7M292.5 43v4.7M299.3 43v4.7M296.6 42.1V48.8M293.3 45.3H299.9M294.3 42.1h4.7M294.3 48.8h4.7M293.3 42.9v4.7M299.9 42.9v4.7M297.1 41.6V48.3M293.7 45H300.6M294.8 41.6h4.7M294.8 48.3h4.7M293.7 42.6v4.7M300.6 42.6v4.7M297.6 41.3V48M294 44.5H301.1M295.3 41.3h4.7M295.3 48h4.7M294 42.1v4.7M301.1 42.1v4.7M298.1 41.8V48.9M294.8 45.2H301.8M295.8 41.8h4.7M295.8 48.9h4.7M294.8 42.9v4.7M301.8 42.9v4.7M298.6 41.5V48.3M295.3 45.1H302.5M296.3 41.5h4.7M296.3 48.3h4.7M295.3 42.8v4.7M302.5 42.8v4.7M299.1 40.7V47.9M295.9 44.4H302.4M296.8 40.7h4.7M296.8 47.9h4.7M295.9 42v4.7M302.4 42v4.7M299.6 41.8V47.8M295.8 44.9H303M297.3 41.8h4.7M297.3 47.8h4.7M295.8 42.5v4.7M303 42.5v4.7M300.1 42V48.1M296.5 44.9H303.2M297.8 42h4.7M297.8 48.1h4.7M296.5 42.6v4.7M303.2 42.6v4.7M300.6 40.8V47.6M296.7 44.1H303.8M298.3 40.8h4.7M298.3 47.6h4.7M296.7 41.8v4.7M303.8 41.8v4.7M301.1 41.1V47.6M297.5 44.4H304.3M298.8 41.1h4.7M298.8 47.6h4.7M297.5 42.1v4.7M304.3 42.1v4.7M301.6 41V46.6M298.1 43.9H305.1M299.3 41h4.7M299.3 46.6h4.7M298.1 41.5v4.7M305.1 41.5v4.7M302.1 41.6V47.2M298.9 44.4H305.9M299.8 41.6h4.7M299.8 47.2h4.7M298.9 42v4.7M305.9 42v4.7M302.6 41.5V47.6M299.5 44.8H306.5M300.3 41.5h4.7M300.3 47.6h4.7M299.5 42.5v4.7M306.5 42.5v4.7M303.1 40.9V47M299.6 44.1H306.6M300.8 40.9h4.7M300.8 47h4.7M299.6 41.8v4.7M306.6 41.8v4.7M303.6 41V46.6M299.9 44H307.4M301.3 41h4.7M301.3 46.6h4.7M299.9 41.7v4.7M307.4 41.7v4.7M304.1 40.8V46.8M300.7 43.7H307.4M301.8 40.8h4.7M301.8 46.8h4.7M300.7 41.3v4.7M307.4 41.3v4.7M304.6 40.7V46.1M300.8 43.6H308.4M302.3 40.7h4.7M302.3 46.1h4.7M300.8 41.2v4.7M308.4 41.2v4.7M305.1 41.1V47.1M301.7 44.2H308.7M302.8 41.1h4.7M302.8 47.1h4.7M301.7 41.8v4.7M308.7 41.8v4.7M305.6 40.7V46.9M302.3 43.9H309.5M303.3 40.7h4.7M303.3 46.9h4.7M302.3 41.5v4.7M309.5 41.5v4.7M306.1 41.1V47.1M302.7 44.1H309.9M303.8 41.1h4.7M303.8 47.1h4.7M302.7 41.7v4.7M309.9 41.7v4.7M306.6 41.3V47.2M302.9 44.2H310M304.3 41.3h4.7M304.3 47.2h4.7M302.9 41.9v4.7M310 41.9v4.7M307.1 41.5V46.7M303.6 44H310.2M304.8 41.5h4.7M304.8 46.7h4.7M303.6 41.7v4.7M310.2 41.7v4.7M307.6 40.7V46.4M304.3 43.5H311.5M305.3 40.7h4.7M305.3 46.4h4.7M304.3 41.2v4.7M311.5 41.2v4.7M308.1 41.2V46.8M304.6 43.9H311.6M305.8 41.2h4.7M305.8 46.8h4.7M304.6 41.5v4.7M311.6 41.5v4.7M308.6 40.4V46.4M305 43.5H312.3M306.3 40.4h4.7M306.3 46.4h4.7M305 41.2v4.7M312.3 41.2v4.7M309.1 41.8V47.1M305.4 44.2H312.4M306.8 41.8h4.7M306.8 47.1h4.7M305.4 41.9v4.7M312.4 41.9v4.7M309.6 41.1V46.1M306.2 43.5H312.7M307.3 41.1h4.7M307.3 46.1h4.7M306.2 41.2v4.7M312.7 41.2v4.7M310.1 40.3V46.1M306.6 43.3H314M307.8 40.3h4.7M307.8 46.1h4.7M306.6 41v4.7M314 41v4.7M310.6 40.6V46.5M306.9 43.7H313.7M308.3 40.6h4.7M308.3 46.5h4.7M306.9 41.3v4.7M313.7 41.3v4.7M311.1 40.8V46.1M307.3 43.7H314.3M308.8 40.8h4.7M308.8 46.1h4.7M307.3 41.3v4.7M314.3 41.3v4.7M311.6 41V46.2M308.1 43.5H314.7M309.3 41h4.7M309.3 46.2h4.7M308.1 41.1v4.7M314.7 41.1v4.7M312.1 41.4V46.8M308.6 44H315.5M309.8 41.4h4.7M309.8 46.8h4.7M308.6 41.7v4.7M315.5 41.7v4.7M312.6 40.4V46M309.3 43.2H316.2M310.3 40.4h4.7M310.3 46h4.7M309.3 40.9v4.7M316.2 40.9v4.7M313.1 40.8V45.7M310 43.2H316.3M310.8 40.8h4.7M310.8 45.7h4.7M310 40.9v4.7M316.3 40.9v4.7M313.6 41.1V46.7M310 43.7H316.7M311.3 41.1h4.7M311.3 46.7h4.7M310 41.4v4.7M316.7 41.4v4.7M314.1 41V46.4M310.3 44H317.5M311.8 41h4.7M311.8 46.4h4.7M310.3 41.6v4.7M317.5 41.6v4.7M314.6 40.4V45.9M311.1 43.4H318.4M312.3 40.4h4.7M312.3 45.9h4.7M311.1 41v4.7M318.4 41v4.7M315.1 41V46.6M311.4 43.6H318.6M312.8 41h4.7M312.8 46.6h4.7M311.4 41.3v4.7M318.6 41.3v4.7M315.6 40.1V45.5M312.4 42.9H318.7M313.3 40.1h4.7M313.3 45.5h4.7M312.4 40.5v4.7M318.7 40.5v4.7M316.1 40.9V46M312.5 43.3H319.5M313.8 40.9h4.7M313.8 46h4.7M312.5 41v4.7M319.5 41v4.7M316.6 40.3V45.6M313 43H320.1M314.3 40.3h4.7M314.3 45.6h4.7M313 40.6v4.7M320.1 40.6v4.7M317.1 40.9V46.7M313.9 43.9H320.2M314.8 40.9h4.7M314.8 46.7h4.7M313.9 41.5v4.7M320.2 41.5v4.7M317.6 40.9V46.4M314.3 43.7H320.8M315.3 40.9h4.7M315.3 46.4h4.7M314.3 41.4v4.7M320.8 41.4v4.7M318.1 40.8V46.1M314.6 43.4H321.7M315.8 40.8h4.7M315.8 46.1h4.7M314.6 41.1v4.7M321.7 41.1v4.7M318.6 40.3V45.7M314.9 42.8H322.3M316.3 40.3h4.7M316.3 45.7h4.7M314.9 40.5v4.7M322.3 40.5v4.7M319.1 40.3V45.1M315.8 42.6H322.6M316.8 40.3h4.7M316.8 45.1h4.7M315.8 40.3v4.7M322.6 40.3v4.7M319.6 40V45M316.5 42.7H323.2M317.3 40h4.7M317.3 45h4.7M316.5 40.3v4.7M323.2 40.3v4.7M320.1 40.5V45.7M316.7 43.2H323.3M317.8 40.5h4.7M317.8 45.7h4.7M316.7 40.8v4.7M323.3 40.8v4.7" stroke="#00ffff" stroke-width="0.7" fill="none"/>
<polyline points="49.6,245.5 52.1,244.5 57.6,237.4 63.3,232.3 67.4,225 72.4,214.9 81.3,206 95.1,198.1 106,185 126.7,171.4 140.3,164.7 153.5,157.3 169.1,151.6 191.5,138.4 213.3,126 223.2,119.3 228.5,115.4 231.9,111 235.7,107 238.3,104.1 240.4,100 243.5,97 246.3,94.7 247.3,91.3 250.2,89.7 251.6,87.6 253.3,84.5 254.7,82.2 256.6,79.9 258,78 259.4,75.8 260.6,74.3 261.8,72.7 262.8,70.8 263.9,69.4 264.8,66.6 265.8,65.5 266.7,63.6 267.5,61.5 268.4,60 269.2,59.3 269.9,57.9 270.7,57 271.4,57 272.1,55.3 272.8,55.5 273.4,54 274,54 274.6,52.9 275.2,53.1 275.8,52.5 276.4,52.5 276.9,51.6 277.5,51.5 278,51.2 278.6,50.9 279.1,50.3 279.6,50 280.1,49.9 280.6,50 281.1,49.3 281.6,49.1 282.1,48.4 282.6,48.8 283.1,48.4 283.6,47.7 284.1,48.4 284.6,47.5 285.1,47.4 285.6,47.7 286.1,47.7 286.6,47.5 287.1,47.3 287.6,47 288.1,47 288.6,46.7 289.1,46 289.6,45.4 290.1,45.4 290.6,46 291.1,45.4 291.6,45.7 292.1,46 292.6,45.6 293.1,45.6 293.6,45.8 294.1,45.4 294.6,45.2 295.1,45.2 295.6,44.7 296.1,45.3 296.6,45.3 297.1,45 297.6,44.5 298.1,45.2 298.6,45.1 299.1,44.4 299.6,44.9 300.1,44.9 300.6,44.1 301.1,44.4 301.6,43.9 302.1,44.4 302.6,44.8 303.1,44.1 303.6,44 304.1,43.7 304.6,43.6 305.1,44.2 305.6,43.9 306.1,44.1 306.6,44.2 307.1,44 307.6,43.5 308.1,43.9 308.6,43.5 309.1,44.2 309.6,43.5 310.1,43.3 310.6,43.7 311.1,43.7 311.6,43.5 312.1,44 312.6,43.2 313.1,43.2 313.6,43.7 314.1,44 314.6,43.4 315.1,43.6 315.6,42.9 316.1,43.3 316.6,43 317.1,43.9 317.6,43.7 318.1,43.4 318.6,42.8 319.1,42.6 319.6,42.7 320.1,43.2" stroke="#00ffff" stroke-width="0.7" fill="none"/>
<path d="M48 243.9l3.2 3.2m0-3.2l-3.2 3.2M50.5 242.9l3.2 3.2m0-3.2l-3.2 3.2M56 235.8l3.2 3.2m0-3.2l-3.2 3.2M61.7 230.7l3.2 3.2m0-3.2l-3.2 3.2M65.8 223.4l3.2 3.2m0-3.2l-3.2 3.2M70.8 213.3l3.2 3.2m0-3.2l-3.2 3.2M79.7 204.4l3.2 3.2m0-3.2l-3.2 3.2M93.5 196.5l3.2 3.2m0-3.2l-3.2 3.2M104.4 183.4l3.2 3.2m0-3.2l-3.2 3.2M125.1 169.8l3.2 3.2m0-3.2l-3.2 3.2M138.7 163.1l3.2 3.2m0-3.2l-3.2 3.2M151.9 155.7l3.2 3.2m0-3.2l-3.2 3.2M167.5 150l3.2 3.2m0-3.2l-3.2 3.2M189.9 136.8l3.2 3.2m0-3.2l-3.2 3.2M211.7 124.4l3.2 3.2m0-3.2l-3.2 3.2M221.6 117.7l3.2 3.2m0-3.2l-3.2 3.2M226.9 113.8l3.2 3.2m0-3.2l-3.2 3.2M230.3 109.4l3.2 3.2m0-3.2l-3.2 3.2M234.1 105.4l3.2 3.2m0-3.2l-3.2 3.2M236.7 102.5l3.2 3.2m0-3.2l-3.2 3.2M238.8 98.4l3.2 3.2m0-3.2l-3.2 3.2M241.9 95.4l3.2 3.2m0-3.2l-3.2 3.2M244.7 93.1l3.2 3.2m0-3.2l-3.2 3.2M245.7 89.7l3.2 3.2m0-3.2l-3.2 3.2M248.6 88.1l3.2 3.2m0-3.2l-3.2 3.2M250 86l3.2 3.2m0-3.2l-3.2 3.2M251.7 82.9l3.2 3.2m0-3.2l-3.2 3.2M253.1 80.6l3.2 3.2m0-3.2l-3.2 3.2M255 78.3l3.2 3.2m0-3.2l-3.2 3.2M256.4 76.4l3.2 3.2m0-3.2l-3.2 3.2M257.8 74.2l3.2 3.2m0-3.2l-3.2 3.2M259 72.7l3.2 3.2m0-3.2l-3.2 3.2M260.2 71.1l3.2 3.2m0-3.2l-3.2 3.2M261.2 69.2l3.2 3.2m0-3.2l-3.2 3.2M262.3 67.8l3.2 3.2m0-3.2l-3.2 3.2M263.2 65l3.2 3.2m0-3.2l-3.2 3.2M264.2 63.9l3.2 3.2m0-3.2l-3.2 3.2M265.1 62l3.2 3.2m0-3.2l-3.2 3.2M265.9 59.9l3.2 3.2m0-3.2l-3.2 3.2M266.8 58.4l3.2 3.2m0-3.2l-3.2 3.2M267.6 57.7l3.2 3.2m0-3.2l-3.2 3.2M268.3 56.3l3.2 3.2m0-3.2l-3.2 3.2M269.1 55.4l3.2 3.2m0-3.2l-3.2 3.2M269.8 55.4l3.2 3.2m0-3.2l-3.2 3.2M270.5 53.7l3.2 3.2m0-3.2l-3.2 3.2M271.2 53.9l3.2 3.2m0-3.2l-3.2 3.2M271.8 52.4l3.2 3.2m0-3.2l-3.2 3.2M272.4 52.4l3.2 3.2m0-3.2l-3.2 3.2M273 51.3l3.2 3.2m0-3.2l-3.2 3.2M273.6 51.5l3.2 3.2m0-3.2l-3.2 3.2M274.2 50.9l3.2 3.2m0-3.2l-3.2 3.2M274.8 50.9l3.2 3.2m0-3.2l-3.2 3.2M275.3 50l3.2 3.2m0-3.2l-3.2 3.2M275.9 49.9l3.2 3.2m0-3.2l-3.2 3.2M276.4 49.6l3.2 3.2m0-3.2l-3.2 3.2M277 49.3l3.2 3.2m0-3.2l-3.2 3.2M277.5 48.7l3.2 3.2m0-3.2l-3.2 3.2M278 48.4l3.2 3.2m0-3.2l-3.2 3.2M278.5 48.3l3.2 3.2m0-3.2l-3.2 3.2M279 48.4l3.2 3.2m0-3.2l-3.2 3.2M279.5 47.7l3.2 3.2m0-3.2l-3.2 3.2M280 47.5l3.2 3.2m0-3.2l-3.2 3.2M280.5 46.8l3.2 3.2m0-3.2l-3.2 3.2M281 47.2l3.2 3.2m0-3.2l-3.2 3.2M281.5 46.8l3.2 3.2m0-3.2l-3.2 3.2M282 46.1l3.2 3.2m0-3.2l-3.2 3.2M282.5 46.8l3.2 3.2m0-3.2l-3.2 3.2M283 45.9l3.2 3.2m0-3.2l-3.2 3.2M283.5 45.8l3.2 3.2m0-3.2l-3.2 3.2M284 46.1l3.2 3.2m0-3.2l-3.2 3.2M284.5 46.1l3.2 3.2m0-3.2l-3.2 3.2M285 45.9l3.2 3.2m0-3.2l-3.2 3.2M285.5 45.7l3.2 3.2m0-3.2l-3.2 3.2M286 45.4l3.2 3.2m0-3.2l-3.2 3.2M286.5 45.4l3.2 3.2m0-3.2l-3.2 3.2M287 45.1l3.2 3.2m0-3.2l-3.2 3.2M287.5 44.4l3.2 3.2m0-3.2l-3.2 3.2M288 43.8l3.2 3.2m0-3.2l-3.2 3.2M288.5 43.8l3.2 3.2m0-3.2l-3.2 3.2M289 44.4l3.2 3.2m0-3.2l-3.2 3.2M289.5 43.8l3.2 3.2m0-3.2l-3.2 3.2M290 44.1l3.2 3.2m0-3.2l-3.2 3.2M290.5 44.4l3.2 3.2m0-3.2l-3.2 3.2M291 44l3.2 3.2m0-3.2l-3.2 3.2M291.5 44l3.2 3.2m0-3.2l-3.2 3.2M292 44.2l3.2 3.2m0-3.2l-3.2 3.2M292.5 43.8l3.2 3.2m0-3.2l-3.2 3.2M293 43.6l3.2 3.2m0-3.2l-3.2 3.2M293.5 43.6l3.2 3.2m0-3.2l-3.2 3.2M294 43.1l3.2 3.2m0-3.2l-3.2 3.2M294.5 43.7l3.2 3.2m0-3.2l-3.2 3.2M295 43.7l3.2 3.2m0-3.2l-3.2 3.2M295.5 43.4l3.2 3.2m0-3.2l-3.2 3.2M296 42.9l3.2 3.2m0-3.2l-3.2 3.2M296.5 43.6l3.2 3.2m0-3.2l-3.2 3.2M297 43.5l3.2 3.2m0-3.2l-3.2 3.2M297.5 42.8l3.2 3.2m0-3.2l-3.2 3.2M298 43.3l3.2 3.2m0-3.2l-3.2 3.2M298.5 43.3l3.2 3.2m0-3.2l-3.2 3.2M299 42.5l3.2 3.2m0-3.2l-3.2 3.2M299.5 42.8l3.2 3.2m0-3.2l-3.2 3.2M300 42.3l3.2 3.2m0-3.2l-3.2 3.2M300.5 42.8l3.2 3.2m0-3.2l-3.2 3.2M301 43.2l3.2 3.2m0-3.2l-3.2 3.2M301.5 42.5l3.2 3.2m0-3.2l-3.2 3.2M302 42.4l3.2 3.2m0-3.2l-3.2 3.2M302.5 42.1l3.2 3.2m0-3.2l-3.2 3.2M303 42l3.2 3.2m0-3.2l-3.2 3.2M303.5 42.6l3.2 3.2m0-3.2l-3.2 3.2M304 42.3l3.2 3.2m0-3.2l-3.2 3.2M304.5 42.5l3.2 3.2m0-3.2l-3.2 3.2M305 42.6l3.2 3.2m0-3.2l-3.2 3.2M305.5 42.4l3.2 3.2m0-3.2l-3.2 3.2M306 41.9l3.2 3.2m0-3.2l-3.2 3.2M306.5 42.3l3.2 3.2m0-3.2l-3.2 3.2M307 41.9l3.2 3.2m0-3.2l-3.2 3.2M307.5 42.6l3.2 3.2m0-3.2l-3.2 3.2M308 41.9l3.2 3.2m0-3.2l-3.2 3.2M308.5 41.7l3.2 3.2m0-3.2l-3.2 3.2M309 42.1l3.2 3.2m0-3.2l-3.2 3.2M309.5 42.1l3.2 3.2m0-3.2l-3.2 3.2M310 41.9l3.2 3.2m0-3.2l-3.2 3.2M310.5 42.4l3.2 3.2m0-3.2l-3.2 3.2M311 41.6l3.2 3.2m0-3.2l-3.2 3.2M311.5 41.6l3.2 3.2m0-3.2l-3.2 3.2M312 42.1l3.2 3.2m0-3.2l-3.2 3.2M312.5 42.4l3.2 3.2m0-3.2l-3.2 3.2M313 41.8l3.2 3.2m0-3.2l-3.2 3.2M313.5 42l3.2 3.2m0-3.2l-3.2 3.2M314 41.3l3.2 3.2m0-3.2l-3.2 3.2M314.5 41.7l3.2 3.2m0-3.2l-3.2 3.2M315 41.4l3.2 3.2m0-3.2l-3.2 3.2M315.5 42.3l3.2 3.2m0-3.2l-3.2 3.2M316 42.1l3.2 3.2m0-3.2l-3.2 3.2M316.5 41.8l3.2 3.2m0-3.2l-3.2 3.2M317 41.2l3.2 3.2m0-3.2l-3.2 3.2M317.5 41l3.2 3.2m0-3.2l-3.2 3.2M318 41.1l3.2 3.2m0-3.2l-3.2 3.2M318.5 41.6l3.2 3.2m0-3.2l-3.2 3.2" stroke="#00ffff" stroke-width="0.7" fill="none"/>
<path d="M394.3 278V282.7M393.2 280.1H395.4M392 278h4.7M392 282.7h4.7M393.2 277.7v4.7M395.4 277.7v4.7M400.5 277.4V282.1M399.1 279.9H401.7M398.2 277.4h4.7M398.2 282.1h4.7M399.1 277.6v4.7M401.7 277.6v4.7M407.8 277.5V282.4M406.5 279.9H408.9M405.4 277.5h4.7M405.4 282.4h4.7M406.5 277.5v4.7M408.9 277.5v4.7M411.9 277.7V282.1M410.6 280H413.2M409.6 277.7h4.7M409.6 282.1h4.7M410.6 277.6v4.7M413.2 277.6v4.7M417.7 277.4V282.3M416.3 280H419M415.3 277.4h4.7M415.3 282.3h4.7M416.3 277.6v4.7M419 277.6v4.7M423.3 277.4V282.2M421.8 279.7H424.6M420.9 277.4h4.7M420.9 282.2h4.7M421.8 277.3v4.7M424.6 277.3v4.7M427.8 277.2V281.8M426.6 279.6H429.2M425.5 277.2h4.7M425.5 281.8h4.7M426.6 277.2v4.7M429.2 277.2v4.7M433 277.2V281.9M431.7 279.5H434.4M430.6 277.2h4.7M430.6 281.9h4.7M431.7 277.2v4.7M434.4 277.2v4.7M436 277.6V282.2M434.7 279.8H437.4M433.6 277.6h4.7M433.6 282.2h4.7M434.7 277.5v4.7M437.4 277.5v4.7M441 277.2V282M439.8 279.7H442.6M438.7 277.2h4.7M438.7 282h4.7M439.8 277.3v4.7M442.6 277.3v4.7M445.6 277.3V282.2M444 279.6H447M443.2 277.3h4.7M443.2 282.2h4.7M444 277.2v4.7M447 277.2v4.7M449.2 277V281.8M447.8 279.6H450.6M446.8 277h4.7M446.8 281.8h4.7M447.8 277.2v4.7M450.6 277.2v4.7M454.3 277.3V281.6M452.8 279.5H455.8M451.9 277.3h4.7M451.9 281.6h4.7M452.8 277.2v4.7M455.8 277.2v4.7M458.2 277.1V281.7M456.8 279.6H459.8M455.9 277.1h4.7M455.9 281.7h4.7M456.8 277.3v4.7M459.8 277.3v4.7M463.1 277.1V282.1M461.6 279.7H464.6M460.7 277.1h4.7M460.7 282.1h4.7M461.6 277.4v4.7M464.6 277.4v4.7M467.9 277.3V282.2M466.4 279.7H469.4M465.6 277.3h4.7M465.6 282.2h4.7M466.4 277.4v4.7M469.4 277.4v4.7M472.1 277.1V282.3M470.8 279.6H473.7M469.8 277.1h4.7M469.8 282.3h4.7M470.8 277.2v4.7M473.7 277.2v4.7M475 277.2V282M473.4 279.5H476.5M472.6 277.2h4.7M472.6 282h4.7M473.4 277.1v4.7M476.5 277.1v4.7M480 276.8V281.4M478.5 279.2H481.6M477.7 276.8h4.7M477.7 281.4h4.7M478.5 276.8v4.7M481.6 276.8v4.7M481.9 277.1V281.7M480.3 279.4H483.5M479.6 277.1h4.7M479.6 281.7h4.7M480.3 277.1v4.7M483.5 277.1v4.7M486.4 276.4V281.9M484.8 279.2H488.1M484.1 276.4h4.7M484.1 281.9h4.7M484.8 276.8v4.7M488.1 276.8v4.7M488.3 277V281.8M486.5 279.3H490.2M486 277h4.7M486 281.8h4.7M486.5 277v4.7M490.2 277v4.7M492.1 276.8V281.6M490.4 279.2H493.8M489.8 276.8h4.7M489.8 281.6h4.7M490.4 276.9v4.7M493.8 276.9v4.7M494.5 276.3V281.8M492.8 279.1H496.5M492.2 276.3h4.7M492.2 281.8h4.7M492.8 276.8v4.7M496.5 276.8v4.7M497.1 276.5V281.4M495 279.1H498.9M494.8 276.5h4.7M494.8 281.4h4.7M495 276.7v4.7M498.9 276.7v4.7M501.2 276.2V281.5M499.2 279H503M498.8 276.2h4.7M498.8 281.5h4.7M499.2 276.7v4.7M503 276.7v4.7M503.5 276V281.1M501.5 278.8H505.6M501.1 276h4.7M501.1 281.1h4.7M501.5 276.5v4.7M505.6 276.5v4.7M505.8 275.8V281.4M503.8 278.7H508.1M503.5 275.8h4.7M503.5 281.4h4.7M503.8 276.3v4.7M508.1 276.3v4.7M507.3 276.2V281.2M505 278.7H509.4M505 276.2h4.7M505 281.2h4.7M505 276.4v4.7M509.4 276.4v4.7M510.5 275.8V281.2M508.4 278.7H512.9M508.1 275.8h4.7M508.1 281.2h4.7M508.4 276.4v4.7M512.9 276.4v4.7M512.2 275.9V281.2M510.2 278.7H514.1M509.8 275.9h4.7M509.8 281.2h4.7M510.2 276.3v4.7M514.1 276.3v4.7M514.2 275.8V281.5M512.1 278.5H516.5M511.9 275.8h4.7M511.9 281.5h4.7M512.1 276.1v4.7M516.5 276.1v4.7M516.8 275.9V281.5M514.8 278.6H519.4M514.5 275.9h4.7M514.5 281.5h4.7M514.8 276.2v4.7M519.4 276.2v4.7M519.2 275.5V280.9M517.1 278.4H521.3M516.8 275.5h4.7M516.8 280.9h4.7M517.1 276.1v4.7M521.3 276.1v4.7M521.4 275.3V281M519 278.3H523.9M519.1 275.3h4.7M519.1 281h4.7M519 276v4.7M523.9 276v4.7M523.4 275.1V281.1M520.8 278.2H526M521.1 275.1h4.7M521.1 281.1h4.7M520.8 275.8v4.7M526 275.8v4.7M524.6 275.6V280.8M522.5 278.2H527.3M522.3 275.6h4.7M522.3 280.8h4.7M522.5 275.9v4.7M527.3 275.9v4.7M526.2 275.4V280.5M523.8 278H528.6M523.9 275.4h4.7M523.9 280.5h4.7M523.8 275.7v4.7M528.6 275.7v4.7M528.6 275.2V280.6M526 277.9H531M526.3 275.2h4.7M526.3 280.6h4.7M526 275.6v4.7M531 275.6v4.7M530.9 274.9V280.7M528.7 278H533.7M528.5 274.9h4.7M528.5 280.7h4.7M528.7 275.7v4.7M533.7 275.7v4.7M532 275.4V280.7M529.6 278H534.3M529.6 275.4h4.7M529.6 280.7h4.7M529.6 275.6v4.7M534.3 275.6v4.7M534.6 274.6V280.4M532.1 277.8H537.2M532.2 274.6h4.7M532.2 280.4h4.7M532.1 275.4v4.7M537.2 275.4v4.7M535.3 275.1V280.8M532.6 277.9H537.9M533 275.1h4.7M533 280.8h4.7M532.6 275.6v4.7M537.9 275.6v4.7M537.6 275.2V281M535 277.9H540.2M535.3 275.2h4.7M535.3 281h4.7M535 275.6v4.7M540.2 275.6v4.7M539 275.2V280.6M536.7 277.8H541.5M536.6 275.2h4.7M536.6 280.6h4.7M536.7 275.5v4.7M541.5 275.5v4.7M540.6 274.9V281.2M538 278H542.8M538.3 274.9h4.7M538.3 281.2h4.7M538 275.6v4.7M542.8 275.6v4.7M542.6 275V281M540 278H545.4M540.3 275h4.7M540.3 281h4.7M540 275.7v4.7M545.4 275.7v4.7M544.1 274.6V280.7M541.6 277.8H546.8M541.7 274.6h4.7M541.7 280.7h4.7M541.6 275.4v4.7M546.8 275.4v4.7M546.1 274.8V281.4M543.4 277.8H548.4M543.7 274.8h4.7M543.7 281.4h4.7M543.4 275.5v4.7M548.4 275.5v4.7M547.5 274.5V281.2M545.2 277.8H550.1M545.2 274.5h4.7M545.2 281.2h4.7M545.2 275.5v4.7M550.1 275.5v4.7M549.2 274.5V281.4M546.7 277.7H551.6M546.9 274.5h4.7M546.9 281.4h4.7M546.7 275.4v4.7M551.6 275.4v4.7M550.2 274.2V280.7M547.6 277.7H552.5M547.8 274.2h4.7M547.8 280.7h4.7M547.6 275.4v4.7M552.5 275.4v4.7M551.7 274.3V281.4M549.3 277.9H554M549.3 274.3h4.7M549.3 281.4h4.7M549.3 275.5v4.7M554 275.5v4.7M553.5 274.1V280.9M551.3 277.7H556M551.2 274.1h4.7M551.2 280.9h4.7M551.3 275.3v4.7M556 275.3v4.7M555 274.7V281.7M552.5 277.8H557.3M552.7 274.7h4.7M552.7 281.7h4.7M552.5 275.5v4.7M557.3 275.5v4.7M556.5 274.1V281M554.2 277.5H558.7M554.1 274.1h4.7M554.1 281h4.7M554.2 275.2v4.7M558.7 275.2v4.7M557.9 274.4V281.2M555.5 277.7H560.5M555.6 274.4h4.7M555.6 281.2h4.7M555.5 275.3v4.7M560.5 275.3v4.7M559.4 274.4V281M556.6 277.7H561.6M557 274.4h4.7M557 281h4.7M556.6 275.4v4.7M561.6 275.4v4.7M560.8 274.3V281.4M558.2 277.5H563.5M558.4 274.3h4.7M558.4 281.4h4.7M558.2 275.2v4.7M563.5 275.2v4.7M562.2 274.2V281.3M559.5 277.7H564.5M559.8 274.2h4.7M559.8 281.3h4.7M559.5 275.3v4.7M564.5 275.3v4.7M563.5 274.1V281M561.1 277.7H566.1M561.2 274.1h4.7M561.2 281h4.7M561.1 275.4v4.7M566.1 275.4v4.7M564.9 273.4V281.6M562.4 277.5H567.6M562.5 273.4h4.7M562.5 281.6h4.7M562.4 275.1v4.7M567.6 275.1v4.7M566.2 273.9V281.1M563.4 277.7H569M563.9 273.9h4.7M563.9 281.1h4.7M563.4 275.3v4.7M569 275.3v4.7M567.5 273.9V281M565 277.6H570.2M565.2 273.9h4.7M565.2 281h4.7M565 275.2v4.7M570.2 275.2v4.7M568.8 273.9V281.5M566.2 277.5H571.1M566.5 273.9h4.7M566.5 281.5h4.7M566.2 275.2v4.7M571.1 275.2v4.7M570.1 273.5V280.9M567.4 277.5H572.5M567.8 273.5h4.7M567.8 280.9h4.7M567.4 275.1v4.7M572.5 275.1v4.7M571.4 273.8V281.3M569.2 277.7H573.6M569 273.8h4.7M569 281.3h4.7M569.2 275.3v4.7M573.6 275.3v4.7M572.6 273.3V281.6M570 277.4H575M570.3 273.3h4.7M570.3 281.6h4.7M570 275.1v4.7M575 275.1v4.7M573.9 273.4V281.4M571.6 277.6H576.3M571.5 273.4h4.7M571.5 281.4h4.7M571.6 275.2v4.7M576.3 275.2v4.7M575.1 273.7V281.3M572.8 277.4H577.8M572.7 273.7h4.7M572.7 281.3h4.7M572.8 275v4.7M577.8 275v4.7M576.3 272.9V281.6M574.1 277.3H579M573.9 272.9h4.7M573.9 281.6h4.7M574.1 275v4.7M579 275v4.7M577.5 273.3V281.9M575 277.4H579.7M575.1 273.3h4.7M575.1 281.9h4.7M575 275.1v4.7M579.7 275.1v4.7M578.6 273.1V281.6M575.9 277H580.9M576.3 273.1h4.7M576.3 281.6h4.7M575.9 274.7v4.7M580.9 274.7v4.7M579.8 273.2V281M577.4 277H582.2M577.4 273.2h4.7M577.4 281h4.7M577.4 274.7v4.7M582.2 274.7v4.7M580.9 272.4V280.8M578.2 276.9H583.4M578.6 272.4h4.7M578.6 280.8h4.7M578.2 274.5v4.7M583.4 274.5v4.7M582.1 272.3V281M579.7 276.9H584.3M579.7 272.3h4.7M579.7 281h4.7M579.7 274.5v4.7M584.3 274.5v4.7M583.2 272.6V281.3M580.8 276.7H585.8M580.8 272.6h4.7M580.8 281.3h4.7M580.8 274.4v4.7M585.8 274.4v4.7M584.3 272.7V280.8M581.9 276.6H587M581.9 272.7h4.7M581.9 280.8h4.7M581.9 274.3v4.7M587 274.3v4.7M585.4 272.4V280.6M583 276.5H588.2M583 272.4h4.7M583 280.6h4.7M583 274.1v4.7M588.2 274.1v4.7M586.5 272.5V280.7M584 276.7H589M584.1 272.5h4.7M584.1 280.7h4.7M584 274.3v4.7M589 274.3v4.7M587.5 271.8V281.1M585.3 276.3H590.2M585.2 271.8h4.7M585.2 281.1h4.7M585.3 273.9v4.7M590.2 273.9v4.7M588.6 271.5V281M586.1 276.4H591.1M586.2 271.5h4.7M586.2 281h4.7M586.1 274.1v4.7M591.1 274.1v4.7M589.6 271.5V280.4M587.2 276.1H591.9M587.3 271.5h4.7M587.3 280.4h4.7M587.2 273.8v4.7M591.9 273.8v4.7M590.7 271.8V280.7M588.3 276H593.2M588.3 271.8h4.7M588.3 280.7h4.7M588.3 273.7v4.7M593.2 273.7v4.7M591.7 271.7V280.4M589.1 276.1H594.3M589.3 271.7h4.7M589.3 280.4h4.7M589.1 273.7v4.7M594.3 273.7v4.7M592.7 271.3V280.9M590.5 276.1H595.1M590.3 271.3h4.7M590.3 280.9h4.7M590.5 273.7v4.7M595.1 273.7v4.7M593.7 271.4V280.4M591.2 276H596.4M591.3 271.4h4.7M591.3 280.4h4.7M591.2 273.7v4.7M596.4 273.7v4.7M594.7 271.3V280.5M592 275.7H597.1M592.3 271.3h4.7M592.3 280.5h4.7M592 273.3v4.7M597.1 273.3v4.7M595.7 270.4V280M593.3 275.6H598.2M593.3 270.4h4.7M593.3 280h4.7M593.3 273.3v4.7M598.2 273.3v4.7M596.6 270.4V280.5M594.3 275.8H599M594.3 270.4h4.7M594.3 280.5h4.7M594.3 273.4v4.7M599 273.4v4.7M597.6 270.7V280.7M594.8 275.4H599.9M595.2 270.7h4.7M595.2 280.7h4.7M594.8 273.1v4.7M599.9 273.1v4.7M598.5 270V280.9M595.8 275.3H601M596.2 270h4.7M596.2 280.9h4.7M595.8 273v4.7M601 273v4.7M599.4 270.1V280.8M597 275.5H602.2M597.1 270.1h4.7M597.1 280.8h4.7M597 273.2v4.7M602.2 273.2v4.7M600.4 270.7V280.4M598.1 275.4H602.8M598 270.7h4.7M598 280.4h4.7M598.1 273.1v4.7M602.8 273.1v4.7M601.3 270.3V280.5M598.6 275.4H603.5M598.9 270.3h4.7M598.9 280.5h4.7M598.6 273v4.7M603.5 273v4.7M602.2 270V280.3M599.6 275.1H604.9M599.8 270h4.7M599.8 280.3h4.7M599.6 272.8v4.7M604.9 272.8v4.7M603.1 270V280.6M600.5 275.2H605.9M600.7 270h4.7M600.7 280.6h4.7M600.5 272.9v4.7M605.9 272.9v4.7M603.9 269.7V280.2M601.5 275.1H606.6M601.6 269.7h4.7M601.6 280.2h4.7M601.5 272.7v4.7M606.6 272.7v4.7M604.8 269.1V280.5M602 274.9H607.4M602.5 269.1h4.7M602.5 280.5h4.7M602 272.5v4.7M607.4 272.5v4.7M605.7 269.8V279.6M603.1 274.9H608.3M603.3 269.8h4.7M603.3 279.6h4.7M603.1 272.5v4.7M608.3 272.5v4.7M606.5 269.2V279.6M603.9 274.9H608.9M604.2 269.2h4.7M604.2 279.6h4.7M603.9 272.5v4.7M608.9 272.5v4.7M607.4 268.8V279.9M604.9 274.7H609.6M605 268.8h4.7M605 279.9h4.7M604.9 272.3v4.7M609.6 272.3v4.7M608.2 269.5V279.6M605.7 274.5H610.4M605.8 269.5h4.7M605.8 279.6h4.7M605.7 272.2v4.7M610.4 272.2v4.7M609 269.5V280.2M606.2 274.4H611.7M606.7 269.5h4.7M606.7 280.2h4.7M606.2 272.1v4.7M611.7 272.1v4.7M609.8 269.5V280.4M607.5 274.5H612.1M607.5 269.5h4.7M607.5 280.4h4.7M607.5 272.2v4.7M612.1 272.2v4.7M610.6 268.4V279.7M607.9 274.4H613M608.3 268.4h4.7M608.3 279.7h4.7M607.9 272.1v4.7M613 272.1v4.7M611.4 268.6V280.6M608.6 274.5H614.1M609.1 268.6h4.7M609.1 280.6h4.7M608.6 272.2v4.7M614.1 272.2v4.7M612.2 268.4V279.8M609.6 274.1H614.5M609.9 268.4h4.7M609.9 279.8h4.7M609.6 271.8v4.7M614.5 271.8v4.7M613 268.7V279.5M610.5 274.2H615.7M610.6 268.7h4.7M610.6 279.5h4.7M610.5 271.8v4.7M615.7 271.8v4.7M613.8 268.5V279.5M611.3 274.1H616.2M611.4 268.5h4.7M611.4 279.5h4.7M611.3 271.7v4.7M616.2 271.7v4.7M614.5 268.3V279.3M612.2 273.9H617.1M612.2 268.3h4.7M612.2 279.3h4.7M612.2 271.5v4.7M617.1 271.5v4.7M615.3 267.8V280.4M612.7 273.9H617.6M612.9 267.8h4.7M612.9 280.4h4.7M612.7 271.6v4.7M617.6 271.6v4.7M616 267.7V280M613.5 273.7H618.3M613.7 267.7h4.7M613.7 280h4.7M613.5 271.4v4.7M618.3 271.4v4.7M616.8 267.4V280.1M614.3 273.7H619.1M614.4 267.4h4.7M614.4 280.1h4.7M614.3 271.3v4.7M619.1 271.3v4.7M617.5 267.3V279.8M615.3 273.4H620M615.2 267.3h4.7M615.2 279.8h4.7M615.3 271.1v4.7M620 271.1v4.7M618.3 267.3V279.3M616 273.5H620.5M615.9 267.3h4.7M615.9 279.3h4.7M616 271.2v4.7M620.5 271.2v4.7M619 266.6V279.4M616.2 273.3H621.7M616.6 266.6h4.7M616.6 279.4h4.7M616.2 271v4.7M621.7 271v4.7M619.7 267.2V279.7M617 273.4H622.1M617.3 267.2h4.7M617.3 279.7h4.7M617 271v4.7M622.1 271v4.7M620.4 266.2V279.6M618 273.1H622.8M618.1 266.2h4.7M618.1 279.6h4.7M618 270.8v4.7M622.8 270.8v4.7M621.1 266.5V279.8M618.6 273H623.7M618.8 266.5h4.7M618.8 279.8h4.7M618.6 270.6v4.7M623.7 270.6v4.7M621.8 267V279.8M619 273.2H624.4M619.5 267h4.7M619.5 279.8h4.7M619 270.8v4.7M624.4 270.8v4.7M622.5 266.2V279.5M619.8 272.9H625.1M620.2 266.2h4.7M620.2 279.5h4.7M619.8 270.5v4.7M625.1 270.5v4.7M623.2 265.8V279.1M620.7 273.1H625.4M620.8 265.8h4.7M620.8 279.1h4.7M620.7 270.7v4.7M625.4 270.7v4.7M623.9 267.1V279.4M621.3 273H626.3M621.5 267.1h4.7M621.5 279.4h4.7M621.3 270.7v4.7M626.3 270.7v4.7M624.5 266V278.8M622.1 272.6H627.2M622.2 266h4.7M622.2 278.8h4.7M622.1 270.3v4.7M627.2 270.3v4.7M625.2 266V279.4M622.7 272.6H627.9M622.9 266h4.7M622.9 279.4h4.7M622.7 270.2v4.7M627.9 270.2v4.7M625.9 265.3V278.9M623.4 272.7H628.1M623.5 265.3h4.7M623.5 278.9h4.7M623.4 270.4v4.7M628.1 270.4v4.7M626.5 266V279.9M624 272.6H629.2M624.2 266h4.7M624.2 279.9h4.7M624 270.2v4.7M629.2 270.2v4.7M627.2 265.2V278.9M624.5 272.2H629.4M624.8 265.2h4.7M624.8 278.9h4.7M624.5 269.9v4.7M629.4 269.9v4.7M627.8 265V278.7M625.4 272.2H630.3M625.5 265h4.7M625.5 278.7h4.7M625.4 269.8v4.7M630.3 269.8v4.7M628.5 265.4V279.9M625.8 272.5H631.2M626.1 265.4h4.7M626.1 279.9h4.7M625.8 270.1v4.7M631.2 270.1v4.7M629.1 265.6V279.1M626.4 272.2H631.8M626.7 265.6h4.7M626.7 279.1h4.7M626.4 269.8v4.7M631.8 269.8v4.7M629.7 264.4V279.5M627.5 272.1H632.3M627.4 264.4h4.7M627.4 279.5h4.7M627.5 269.8v4.7M632.3 269.8v4.7M630.3 265.9V279M627.8 272.2H632.8M628 265.9h4.7M628 279h4.7M627.8 269.8v4.7M632.8 269.8v4.7M631 265.6V278.7M628.2 272H633.4M628.6 265.6h4.7M628.6 278.7h4.7M628.2 269.6v4.7M633.4 269.6v4.7M631.6 264.6V278.6M629.1 271.9H634.1M629.2 264.6h4.7M629.2 278.6h4.7M629.1 269.5v4.7M634.1 269.5v4.7M632.2 264.2V278.6M629.7 272H634.8M629.8 264.2h4.7M629.8 278.6h4.7M629.7 269.6v4.7M634.8 269.6v4.7M632.8 264.6V279.4M630.2 271.9H635.4M630.4 264.6h4.7M630.4 279.4h4.7M630.2 269.5v4.7M635.4 269.5v4.7M633.4 263.7V280M631.1 271.8H636M631 263.7h4.7M631 280h4.7M631.1 269.5v4.7M636 269.5v4.7M633.9 264.6V278.2M631.2 271.6H636.7M631.6 264.6h4.7M631.6 278.2h4.7M631.2 269.2v4.7M636.7 269.2v4.7M634.5 264.2V278.4M631.8 271.5H637.2M632.2 264.2h4.7M632.2 278.4h4.7M631.8 269.2v4.7M637.2 269.2v4.7M635.1 263.8V279.6M632.8 271.3H637.5M632.8 263.8h4.7M632.8 279.6h4.7M632.8 269v4.7M637.5 269v4.7M635.7 264.1V278.1M633.1 271.3H638M633.3 264.1h4.7M633.3 278.1h4.7M633.1 269v4.7M638 269v4.7M636.2 264V279.5M633.6 271.4H639M633.9 264h4.7M633.9 279.5h4.7M633.6 269v4.7M639 269v4.7M636.8 263V279.1M634.4 271.1H639M634.5 263h4.7M634.5 279.1h4.7M634.4 268.8v4.7M639 268.8v4.7M637.4 263V279.4M635.1 271H639.7M635 263h4.7M635 279.4h4.7M635.1 268.7v4.7M639.7 268.7v4.7M637.9 264.3V278.9M635.2 271.1H640.6M635.6 264.3h4.7M635.6 278.9h4.7M635.2 268.7v4.7M640.6 268.7v4.7M638.5 262.5V279.1M636.2 270.9H641.2M636.1 262.5h4.7M636.1 279.1h4.7M636.2 268.6v4.7M641.2 268.6v4.7M639 262.8V279.3M636.3 271.2H641.5M636.7 262.8h4.7M636.7 279.3h4.7M636.3 268.8v4.7M641.5 268.8v4.7M639.5 262.7V278.5M637.3 270.7H641.8M637.2 262.7h4.7M637.2 278.5h4.7M637.3 268.4v4.7M641.8 268.4v4.7M640.1 262.5V277.9M637.9 271H642.7M637.7 262.5h4.7M637.7 277.9h4.7M637.9 268.7v4.7M642.7 268.7v4.7M640.6 262.2V278.5M638 270.7H642.8M638.2 262.2h4.7M638.2 278.5h4.7M638 268.4v4.7M642.8 268.4v4.7M641.1 263.5V278.6M638.6 270.8H643.5M638.8 263.5h4.7M638.8 278.6h4.7M638.6 268.5v4.7M643.5 268.5v4.7M641.6 262.8V277.6M639.3 270.6H643.9M639.3 262.8h4.7M639.3 277.6h4.7M639.3 268.2v4.7M643.9 268.2v4.7M642.1 263.2V279.6M639.4 270.7H644.4M639.8 263.2h4.7M639.8 279.6h4.7M639.4 268.4v4.7M644.4 268.4v4.7M642.7 261.8V278.5M640.2 270.7H645.3M640.3 261.8h4.7M640.3 278.5h4.7M640.2 268.3v4.7M645.3 268.3v4.7M643.2 262.9V278.9M640.8 270.5H645.6M640.8 262.9h4.7M640.8 278.9h4.7M640.8 268.1v4.7M645.6 268.1v4.7M643.7 262.5V278.9M641.4 270.2H646M641.3 262.5h4.7M641.3 278.9h4.7M641.4 267.9v4.7M646 267.9v4.7M644.2 262.6V277.5M641.9 270.3H646.5M641.8 262.6h4.7M641.8 277.5h4.7M641.9 268v4.7M646.5 268v4.7M644.7 261.7V279.2M642 270.5H647.4M642.3 261.7h4.7M642.3 279.2h4.7M642 268.1v4.7M647.4 268.1v4.7M645.1 261.5V278.3M642.4 270.2H647.6M642.8 261.5h4.7M642.8 278.3h4.7M642.4 267.8v4.7M647.6 267.8v4.7M645.6 261.5V279.5M643 270.3H648M643.3 261.5h4.7M643.3 279.5h4.7M643 268v4.7M648 268v4.7M646.1 261.3V279.5M643.8 270.3H648.8M643.8 261.3h4.7M643.8 279.5h4.7M643.8 267.9v4.7M648.8 267.9v4.7M646.6 262.5V277.9M644.1 270.2H649.2M644.3 262.5h4.7M644.3 277.9h4.7M644.1 267.9v4.7M649.2 267.9v4.7M647.1 261.3V277.8M644.5 270H649.6M644.7 261.3h4.7M644.7 277.8h4.7M644.5 267.7v4.7M649.6 267.7v4.7M647.6 261.2V277.8M645 270.2H649.8M645.2 261.2h4.7M645.2 277.8h4.7M645 267.8v4.7M649.8 267.8v4.7M648 261.1V279M645.8 270H650.6M645.7 261.1h4.7M645.7 279h4.7M645.8 267.7v4.7M650.6 267.7v4.7M648.5 261.2V278.4M646 269.8H651.2M646.2 261.2h4.7M646.2 278.4h4.7M646 267.5v4.7M651.2 267.5v4.7M649 261.2V278M646.7 269.8H651.6M646.6 261.2h4.7M646.6 278h4.7M646.7 267.5v4.7M651.6 267.5v4.7M649.5 260.4V278.2M647.2 269.7H652.1M647.1 260.4h4.7M647.1 278.2h4.7M647.2 267.4v4.7M652.1 267.4v4.7M649.9 261.3V278.7M647.7 269.6H652.5M647.6 261.3h4.7M647.6 278.7h4.7M647.7 267.3v4.7M652.5 267.3v4.7M650.4 260V278.2M647.7 269.8H653.2M648 260h4.7M648 278.2h4.7M647.7 267.4v4.7M653.2 267.4v4.7M650.8 261.7V278.3M648.2 269.7H653M648.5 261.7h4.7M648.5 278.3h4.7M648.2 267.4v4.7M653 267.4v4.7M651.3 260.8V279.2M648.9 269.7H654.1M649 260.8h4.7M649 279.2h4.7M648.9 267.4v4.7M654.1 267.4v4.7M651.8 260.7V278M649.2 269.5H654.1M649.4 260.7h4.7M649.4 278h4.7M649.2 267.1v4.7M654.1 267.1v4.7M652.2 260.6V279.5M650 269.5H654.6M649.9 260.6h4.7M649.9 279.5h4.7M650 267.2v4.7M654.6 267.2v4.7M652.7 259.8V279.1M650.5 269.4H655.3M650.3 259.8h4.7M650.3 279.1h4.7M650.5 267.1v4.7M655.3 267.1v4.7M653.1 260.6V279M650.4 269.7H655.9M650.8 260.6h4.7M650.8 279h4.7M650.4 267.3v4.7M655.9 267.3v4.7M653.6 259.7V277.6M651.2 269.3H656.3M651.2 259.7h4.7M651.2 277.6h4.7M651.2 267v4.7M656.3 267v4.7M654 260.2V278.6M651.5 269.5H656.2M651.7 260.2h4.7M651.7 278.6h4.7M651.5 267.1v4.7M656.2 267.1v4.7M654.5 259.1V277.8M652.2 269.4H657M652.1 259.1h4.7M652.1 277.8h4.7M652.2 267v4.7M657 267v4.7M654.9 260.3V277.9M652.3 269.5H657.5M652.6 260.3h4.7M652.6 277.9h4.7M652.3 267.1v4.7M657.5 267.1v4.7M655.3 259.1V278.7M652.7 269.2H657.7M653 259.1h4.7M653 278.7h4.7M652.7 266.8v4.7M657.7 266.8v4.7M655.8 259.4V279M653.1 269.2H658.5M653.4 259.4h4.7M653.4 279h4.7M653.1 266.8v4.7M658.5 266.8v4.7M656.2 260.9V278.7M653.6 269.3H658.9M653.9 260.9h4.7M653.9 278.7h4.7M653.6 266.9v4.7M658.9 266.9v4.7M656.6 260.6V278.8M654.3 269.1H659.2M654.3 260.6h4.7M654.3 278.8h4.7M654.3 266.7v4.7M659.2 266.7v4.7M657.1 258.6V277.5M654.5 269H659.8M654.7 258.6h4.7M654.7 277.5h4.7M654.5 266.7v4.7M659.8 266.7v4.7M657.5 260.3V278.9M654.8 269.1H660.1M655.2 260.3h4.7M655.2 278.9h4.7M654.8 266.8v4.7M660.1 266.8v4.7M657.9 258.8V278.6M655.7 269.2H660.5M655.6 258.8h4.7M655.6 278.6h4.7M655.7 266.8v4.7M660.5 266.8v4.7M658.4 258.5V278.6M655.7 269H660.6M656 258.5h4.7M656 278.6h4.7M655.7 266.6v4.7M660.6 266.6v4.7M658.8 258.4V279.5M656.1 269H661.4M656.4 258.4h4.7M656.4 279.5h4.7M656.1 266.7v4.7M661.4 266.7v4.7M659.2 259.4V278.1M656.8 268.8H661.7M656.8 259.4h4.7M656.8 278.1h4.7M656.8 266.4v4.7M661.7 266.4v4.7M659.6 258.6V279.6M656.8 268.8H661.8M657.3 258.6h4.7M657.3 279.6h4.7M656.8 266.5v4.7M661.8 266.5v4.7M660 258.8V278.6M657.4 268.9H662.8M657.7 258.8h4.7M657.7 278.6h4.7M657.4 266.5v4.7M662.8 266.5v4.7M660.4 258.4V277.8M658 268.7H662.9M658.1 258.4h4.7M658.1 277.8h4.7M658 266.3v4.7M662.9 266.3v4.7M660.9 257.9V279.8M658.3 268.9H663.5M658.5 257.9h4.7M658.5 279.8h4.7M658.3 266.5v4.7M663.5 266.5v4.7M661.3 258.6V277.9M658.9 268.8H664M658.9 258.6h4.7M658.9 277.9h4.7M658.9 266.4v4.7M664 266.4v4.7M661.7 259.5V278.4M659.4 268.7H663.9M659.3 259.5h4.7M659.3 278.4h4.7M659.4 266.3v4.7M663.9 266.3v4.7M662.1 258.9V277.5M659.6 268.6H664.8M659.7 258.9h4.7M659.7 277.5h4.7M659.6 266.2v4.7M664.8 266.2v4.7M662.5 258.6V278.5M660.1 268.6H664.9M660.1 258.6h4.7M660.1 278.5h4.7M660.1 266.2v4.7M664.9 266.2v4.7M662.9 258.4V279.7M660.5 268.4H665.6M660.5 258.4h4.7M660.5 279.7h4.7M660.5 266.1v4.7M665.6 266.1v4.7M663.3 257.9V278.7M660.8 268.5H666M660.9 257.9h4.7M660.9 278.7h4.7M660.8 266.1v4.7M666 266.1v4.7M663.7 258.9V278.3M661.2 268.5H666.2M661.3 258.9h4.7M661.3 278.3h4.7M661.2 266.1v4.7M666.2 266.1v4.7M664.1 258.6V278.3M661.3 268.4H666.7M661.7 258.6h4.7M661.7 278.3h4.7M661.3 266v4.7M666.7 266v4.7M664.5 257.1V278M661.9 268.5H667.1M662.1 257.1h4.7M662.1 278h4.7M661.9 266.2v4.7M667.1 266.2v4.7M664.9 257.8V279.1M662.3 268.3H667.2M662.5 257.8h4.7M662.5 279.1h4.7M662.3 266v4.7M667.2 266v4.7M665.2 258.2V277.5M662.9 268.1H667.5M662.9 258.2h4.7M662.9 277.5h4.7M662.9 265.8v4.7M667.5 265.8v4.7M665.6 257.2V277.9M663 268.1H668.1M663.3 257.2h4.7M663.3 277.9h4.7M663 265.8v4.7M668.1 265.8v4.7M666 257.6V279.9M663.6 268.4H668.5M663.7 257.6h4.7M663.7 279.9h4.7M663.6 266v4.7M668.5 266v4.7M666.4 257.3V278.8M663.7 268.4H669M664 257.3h4.7M664 278.8h4.7M663.7 266v4.7M669 266v4.7M666.8 258.8V279.9M664.5 268.2H669M664.4 258.8h4.7M664.4 279.9h4.7M664.5 265.9v4.7M669 265.9v4.7M667.2 258.1V278.1M664.7 268.1H669.7M664.8 258.1h4.7M664.8 278.1h4.7M664.7 265.7v4.7M669.7 265.7v4.7M667.5 256.5V279.4M664.8 268.2H670M665.2 256.5h4.7M665.2 279.4h4.7M664.8 265.8v4.7M670 265.8v4.7M667.9 256.6V280M665.6 267.9H670.5M665.6 256.6h4.7M665.6 280h4.7M665.6 265.6v4.7M670.5 265.6v4.7M668.3 255.9V277.6M665.8 268H670.7M665.9 255.9h4.7M665.9 277.6h4.7M665.8 265.6v4.7M670.7 265.6v4.7M668.6 256.4V277.5M666.3 267.9H671.4M666.3 256.4h4.7M666.3 277.5h4.7M666.3 265.6v4.7M671.4 265.6v4.7M669 258.3V279.1M666.4 267.9H671.8M666.7 258.3h4.7M666.7 279.1h4.7M666.4 265.6v4.7M671.8 265.6v4.7M669.4 255.9V278.4M667 268.1H672M667 255.9h4.7M667 278.4h4.7M667 265.7v4.7M672 265.7v4.7M669.7 257.1V277.6M667.4 267.8H672M667.4 257.1h4.7M667.4 277.6h4.7M667.4 265.4v4.7M672 265.4v4.7M670.1 256.2V278M667.7 267.8H672.4M667.8 256.2h4.7M667.8 278h4.7M667.7 265.4v4.7M672.4 265.4v4.7M670.5 256.4V279.1M667.9 267.8H673M668.1 256.4h4.7M668.1 279.1h4.7M667.9 265.4v4.7M673 265.4v4.7M670.8 255.9V279.9M668.6 267.8H673.6M668.5 255.9h4.7M668.5 279.9h4.7M668.6 265.5v4.7M673.6 265.5v4.7M671.2 255.2V279.6M668.7 267.7H673.4M668.8 255.2h4.7M668.8 279.6h4.7M668.7 265.4v4.7M673.4 265.4v4.7M671.5 255.6V277.4M669.3 267.5H674.2M669.2 255.6h4.7M669.2 277.4h4.7M669.3 265.2v4.7M674.2 265.2v4.7M671.9 256V277.8M669.1 267.7H674.6M669.6 256h4.7M669.6 277.8h4.7M669.1 265.3v4.7M674.6 265.3v4.7M672.3 255.9V278.2M669.9 267.4H674.8M669.9 255.9h4.7M669.9 278.2h4.7M669.9 265.1v4.7M674.8 265.1v4.7" stroke="#9932cc" stroke-width="0.7" fill="none"/>
<polyline points="394.3,280.1 400.5,279.9 407.8,279.9 411.9,280 417.7,280 423.3,279.7 427.8,279.6 433,279.5 436,279.8 441,279.7 445.6,279.6 449.2,279.6 454.3,279.5 458.2,279.6 463.1,279.7 467.9,279.7 472.1,279.6 475,279.5 480,279.2 481.9,279.4 486.4,279.2 488.3,279.3 492.1,279.2 494.5,279.1 497.1,279.1 501.2,279 503.5,278.8 505.8,278.7 507.3,278.7 510.5,278.7 512.2,278.7 514.2,278.5 516.8,278.6 519.2,278.4 521.4,278.3 523.4,278.2 524.6,278.2 526.2,278 528.6,277.9 530.9,278 532,278 534.6,277.8 535.3,277.9 537.6,277.9 539,277.8 540.6,278 542.6,278 544.1,277.8 546.1,277.8 547.5,277.8 549.2,277.7 550.2,277.7 551.7,277.9 553.5,277.7 555,277.8 556.5,277.5 557.9,277.7 559.4,277.7 560.8,277.5 562.2,277.7 563.5,277.7 564.9,277.5 566.2,277.7 567.5,277.6 568.8,277.5 570.1,277.5 571.4,277.7 572.6,277.4 573.9,277.6 575.1,277.4 576.3,277.3 577.5,277.4 578.6,277 579.8,277 580.9,276.9 582.1,276.9 583.2,276.7 584.3,276.6 585.4,276.5 586.5,276.7 587.5,276.3 588.6,276.4 589.6,276.1 590.7,276 591.7,276.1 592.7,276.1 593.7,276 594.7,275.7 595.7,275.6 596.6,275.8 597.6,275.4 598.5,275.3 599.4,275.5 600.4,275.4 601.3,275.4 602.2,275.1 603.1,275.2 603.9,275.1 604.8,274.9 605.7,274.9 606.5,274.9 607.4,274.7 608.2,274.5 609,274.4 609.8,274.5 610.6,274.4 611.4,274.5 612.2,274.1 613,274.2 613.8,274.1 614.5,273.9 615.3,273.9 616,273.7 616.8,273.7 617.5,273.4 618.3,273.5 619,273.3 619.7,273.4 620.4,273.1 621.1,273 621.8,273.2 622.5,272.9 623.2,273.1 623.9,273 624.5,272.6 625.2,272.6 625.9,272.7 626.5,272.6 627.2,272.2 627.8,272.2 628.5,272.5 629.1,272.2 629.7,272.1 630.3,272.2 631,272 631.6,271.9 632.2,272 632.8,271.9 633.4,271.8 633.9,271.6 634.5,271.5 635.1,271.3 635.7,271.3 636.2,271.4 636.8,271.1 637.4,271 637.9,271.1 638.5,270.9 639,271.2 639.5,270.7 640.1,271 640.6,270.7 641.1,270.8 641.6,270.6 642.1,270.7 642.7,270.7 643.2,270.5 643.7,270.2 644.2,270.3 644.7,270.5 645.1,270.2 645.6,270.3 646.1,270.3 646.6,270.2 647.1,270 647.6,270.2 648,270 648.5,269.8 649,269.8 649.5,269.7 649.9,269.6 650.4,269.8 650.8,269.7 651.3,269.7 651.8,269.5 652.2,269.5 652.7,269.4 653.1,269.7 653.6,269.3 654,269.5 654.5,269.4 654.9,269.5 655.3,269.2 655.8,269.2 656.2,269.3 656.6,269.1 657.1,269 657.5,269.1 657.9,269.2 658.4,269 658.8,269 659.2,268.8 659.6,268.8 660,268.9 660.4,268.7 660.9,268.9 661.3,268.8 661.7,268.7 662.1,268.6 662.5,268.6 662.9,268.4 663.3,268.5 663.7,268.5 664.1,268.4 664.5,268.5 664.9,268.3 665.2,268.1 665.6,268.1 666,268.4 666.4,268.4 666.8,268.2 667.2,268.1 667.5,268.2 667.9,267.9 668.3,268 668.6,267.9 669,267.9 669.4,268.1 669.7,267.8 670.1,267.8 670.5,267.8 670.8,267.8 671.2,267.7 671.5,267.5 671.9,267.7 672.3,267.4" stroke="#9932cc" stroke-width="0.7" fill="none"/>
<path d="M392.6 280.1a1.7 1.7 0 1 0 3.4 0a1.7 1.7 0 1 0-3.4 0M398.8 279.9a1.7 1.7 0 1 0 3.4 0a1.7 1.7 0 1 0-3.4 0M406.1 279.9a1.7 1.7 0 1 0 3.4 0a1.7 1.7 0 1 0-3.4 0M410.2 280a1.7 1.7 0 1 0 3.4 0a1.7 1.7 0 1 0-3.4 0M416 280a1.7 1.7 0 1 0 3.4 0a1.7 1.7 0 1 0-3.4 0M421.6 279.7a1.7 1.7 0 1 0 3.4 0a1.7 1.7 0 1 0-3.4 0M426.1 279.6a1.7 1.7 0 1 0 3.4 0a1.7 1.7 0 1 0-3.4 0M431.3 279.5a1.7 1.7 0 1 0 3.4 0a1.7 1.7 0 1 0-3.4 0M434.3 279.8a1.7 1.7 0 1 0 3.4 0a1.7 1.7 0 1 0-3.4 0M439.3 279.7a1.7 1.7 0 1 0 3.4 0a1.7 1.7 0 1 0-3.4 0M443.9 279.6a1.7 1.7 0 1 0 3.4 0a1.7 1.7 0 1 0-3.4 0M447.5 279.6a1.7 1.7 0 1 0 3.4 0a1.7 1.7 0 1 0-3.4 0M452.6 279.5a1.7 1.7 0 1 0 3.4 0a1.7 1.7 0 1 0-3.4 0M456.5 279.6a1.7 1.7 0 1 0 3.4 0a1.7 1.7 0 1 0-3.4 0M461.4 279.7a1.7 1.7 0 1 0 3.4 0a1.7 1.7 0 1 0-3.4 0M466.2 279.7a1.7 1.7 0 1 0 3.4 0a1.7 1.7 0 1 0-3.4 0M470.4 279.6a1.7 1.7 0 1 0 3.4 0a1.7 1.7 0 1 0-3.4 0M473.3 279.5a1.7 1.7 0 1 0 3.4 0a1.7 1.7 0 1 0-3.4 0M478.3 279.2a1.7 1.7 0 1 0 3.4 0a1.7 1.7 0 1 0-3.4 0M480.2 279.4a1.7 1.7 0 1 0 3.4 0a1.7 1.7 0 1 0-3.4 0M484.7 279.2a1.7 1.7 0 1 0 3.4 0a1.7 1.7 0 1 0-3.4 0M486.6 279.3a1.7 1.7 0 1 0 3.4 0a1.7 1.7 0 1 0-3.4 0M490.4 279.2a1.7 1.7 0 1 0 3.4 0a1.7 1.7 0 1 0-3.4 0M492.8 279.1a1.7 1.7 0 1 0 3.4 0a1.7 1.7 0 1 0-3.4 0M495.4 279.1a1.7 1.7 0 1 0 3.4 0a1.7 1.7 0 1 0-3.4 0M499.5 279a1.7 1.7 0 1 0 3.4 0a1.7 1.7 0 1 0-3.4 0M501.8 278.8a1.7 1.7 0 1 0 3.4 0a1.7 1.7 0 1 0-3.4 0M504.1 278.7a1.7 1.7 0 1 0 3.4 0a1.7 1.7 0 1 0-3.4 0M505.6 278.7a1.7 1.7 0 1 0 3.4 0a1.7 1.7 0 1 0-3.4 0M508.8 278.7a1.7 1.7 0 1 0 3.4 0a1.7 1.7 0 1 0-3.4 0M510.5 278.7a1.7 1.7 0 1 0 3.4 0a1.7 1.7 0 1 0-3.4 0M512.5 278.5a1.7 1.7 0 1 0 3.4 0a1.7 1.7 0 1 0-3.4 0M515.1 278.6a1.7 1.7 0 1 0 3.4 0a1.7 1.7 0 1 0-3.4 0M517.5 278.4a1.7 1.7 0 1 0 3.4 0a1.7 1.7 0 1 0-3.4 0M519.7 278.3a1.7 1.7 0 1 0 3.4 0a1.7 1.7 0 1 0-3.4 0M521.7 278.2a1.7 1.7 0 1 0 3.4 0a1.7 1.7 0 1 0-3.4 0M522.9 278.2a1.7 1.7 0 1 0 3.4 0a1.7 1.7 0 1 0-3.4 0M524.5 278a1.7 1.7 0 1 0 3.4 0a1.7 1.7 0 1 0-3.4 0M526.9 277.9a1.7 1.7 0 1 0 3.4 0a1.7 1.7 0 1 0-3.4 0M529.2 278a1.7 1.7 0 1 0 3.4 0a1.7 1.7 0 1 0-3.4 0M530.3 278a1.7 1.7 0 1 0 3.4 0a1.7 1.7 0 1 0-3.4 0M532.9 277.8a1.7 1.7 0 1 0 3.4 0a1.7 1.7 0 1 0-3.4 0M533.6 277.9a1.7 1.7 0 1 0 3.4 0a1.7 1.7 0 1 0-3.4 0M535.9 277.9a1.7 1.7 0 1 0 3.4 0a1.7 1.7 0 1 0-3.4 0M537.3 277.8a1.7 1.7 0 1 0 3.4 0a1.7 1.7 0 1 0-3.4 0M538.9 278a1.7 1.7 0 1 0 3.4 0a1.7 1.7 0 1 0-3.4 0M540.9 278a1.7 1.7 0 1 0 3.4 0a1.7 1.7 0 1 0-3.4 0M542.4 277.8a1.7 1.7 0 1 0 3.4 0a1.7 1.7 0 1 0-3.4 0M544.4 277.8a1.7 1.7 0 1 0 3.4 0a1.7 1.7 0 1 0-3.4 0M545.8 277.8a1.7 1.7 0 1 0 3.4 0a1.7 1.7 0 1 0-3.4 0M547.5 277.7a1.7 1.7 0 1 0 3.4 0a1.7 1.7 0 1 0-3.4 0M548.5 277.7a1.7 1.7 0 1 0 3.4 0a1.7 1.7 0 1 0-3.4 0M550 277.9a1.7 1.7 0 1 0 3.4 0a1.7 1.7 0 1 0-3.4 0M551.8 277.7a1.7 1.7 0 1 0 3.4 0a1.7 1.7 0 1 0-3.4 0M553.3 277.8a1.7 1.7 0 1 0 3.4 0a1.7 1.7 0 1 0-3.4 0M554.8 277.5a1.7 1.7 0 1 0 3.4 0a1.7 1.7 0 1 0-3.4 0M556.2 277.7a1.7 1.7 0 1 0 3.4 0a1.7 1.7 0 1 0-3.4 0M557.7 277.7a1.7 1.7 0 1 0 3.4 0a1.7 1.7 0 1 0-3.4 0M559.1 277.5a1.7 1.7 0 1 0 3.4 0a1.7 1.7 0 1 0-3.4 0M560.5 277.7a1.7 1.7 0 1 0 3.4 0a1.7 1.7 0 1 0-3.4 0M561.8 277.7a1.7 1.7 0 1 0 3.4 0a1.7 1.7 0 1 0-3.4 0M563.2 277.5a1.7 1.7 0 1 0 3.4 0a1.7 1.7 0 1 0-3.4 0M564.5 277.7a1.7 1.7 0 1 0 3.4 0a1.7 1.7 0 1 0-3.4 0M565.8 277.6a1.7 1.7 0 1 0 3.4 0a1.7 1.7 0 1 0-3.4 0M567.1 277.5a1.7 1.7 0 1 0 3.4 0a1.7 1.7 0 1 0-3.4 0M568.4 277.5a1.7 1.7 0 1 0 3.4 0a1.7 1.7 0 1 0-3.4 0M569.7 277.7a1.7 1.7 0 1 0 3.4 0a1.7 1.7 0 1 0-3.4 0M570.9 277.4a1.7 1.7 0 1 0 3.4 0a1.7 1.7 0 1 0-3.4 0M572.2 277.6a1.7 1.7 0 1 0 3.4 0a1.7 1.7 0 1 0-3.4 0M573.4 277.4a1.7 1.7 0 1 0 3.4 0a1.7 1.7 0 1 0-3.4 0M574.6 277.3a1.7 1.7 0 1 0 3.4 0a1.7 1.7 0 1 0-3.4 0M575.8 277.4a1.7 1.7 0 1 0 3.4 0a1.7 1.7 0 1 0-3.4 0M576.9 277a1.7 1.7 0 1 0 3.4 0a1.7 1.7 0 1 0-3.4 0M578.1 277a1.7 1.7 0 1 0 3.4 0a1.7 1.7 0 1 0-3.4 0M579.2 276.9a1.7 1.7 0 1 0 3.4 0a1.7 1.7 0 1 0-3.4 0M580.4 276.9a1.7 1.7 0 1 0 3.4 0a1.7 1.7 0 1 0-3.4 0M581.5 276.7a1.7 1.7 0 1 0 3.4 0a1.7 1.7 0 1 0-3.4 0M582.6 276.6a1.7 1.7 0 1 0 3.4 0a1.7 1.7 0 1 0-3.4 0M583.7 276.5a1.7 1.7 0 1 0 3.4 0a1.7 1.7 0 1 0-3.4 0M584.8 276.7a1.7 1.7 0 1 0 3.4 0a1.7 1.7 0 1 0-3.4 0M585.8 276.3a1.7 1.7 0 1 0 3.4 0a1.7 1.7 0 1 0-3.4 0M586.9 276.4a1.7 1.7 0 1 0 3.4 0a1.7 1.7 0 1 0-3.4 0M587.9 276.1a1.7 1.7 0 1 0 3.4 0a1.7 1.7 0 1 0-3.4 0M589 276a1.7 1.7 0 1 0 3.4 0a1.7 1.7 0 1 0-3.4 0M590 276.1a1.7 1.7 0 1 0 3.4 0a1.7 1.7 0 1 0-3.4 0M591 276.1a1.7 1.7 0 1 0 3.4 0a1.7 1.7 0 1 0-3.4 0M592 276a1.7 1.7 0 1 0 3.4 0a1.7 1.7 0 1 0-3.4 0M593 275.7a1.7 1.7 0 1 0 3.4 0a1.7 1.7 0 1 0-3.4 0M594 275.6a1.7 1.7 0 1 0 3.4 0a1.7 1.7 0 1 0-3.4 0M594.9 275.8a1.7 1.7 0 1 0 3.4 0a1.7 1.7 0 1 0-3.4 0M595.9 275.4a1.7 1.7 0 1 0 3.4 0a1.7 1.7 0 1 0-3.4 0M596.8 275.3a1.7 1.7 0 1 0 3.4 0a1.7 1.7 0 1 0-3.4 0M597.7 275.5a1.7 1.7 0 1 0 3.4 0a1.7 1.7 0 1 0-3.4 0M598.7 275.4a1.7 1.7 0 1 0 3.4 0a1.7 1.7 0 1 0-3.4 0M599.6 275.4a1.7 1.7 0 1 0 3.4 0a1.7 1.7 0 1 0-3.4 0M600.5 275.1a1.7 1.7 0 1 0 3.4 0a1.7 1.7 0 1 0-3.4 0M601.4 275.2a1.7 1.7 0 1 0 3.4 0a1.7 1.7 0 1 0-3.4 0M602.2 275.1a1.7 1.7 0 1 0 3.4 0a1.7 1.7 0 1 0-3.4 0M603.1 274.9a1.7 1.7 0 1 0 3.4 0a1.7 1.7 0 1 0-3.4 0M604 274.9a1.7 1.7 0 1 0 3.4 0a1.7 1.7 0 1 0-3.4 0M604.8 274.9a1.7 1.7 0 1 0 3.4 0a1.7 1.7 0 1 0-3.4 0M605.7 274.7a1.7 1.7 0 1 0 3.4 0a1.7 1.7 0 1 0-3.4 0M606.5 274.5a1.7 1.7 0 1 0 3.4 0a1.7 1.7 0 1 0-3.4 0M607.3 274.4a1.7 1.7 0 1 0 3.4 0a1.7 1.7 0 1 0-3.4 0M608.1 274.5a1.7 1.7 0 1 0 3.4 0a1.7 1.7 0 1 0-3.4 0M608.9 274.4a1.7 1.7 0 1 0 3.4 0a1.7 1.7 0 1 0-3.4 0M609.7 274.5a1.7 1.7 0 1 0 3.4 0a1.7 1.7 0 1 0-3.4 0M610.5 274.1a1.7 1.7 0 1 0 3.4 0a1.7 1.7 0 1 0-3.4 0M611.3 274.2a1.7 1.7 0 1 0 3.4 0a1.7 1.7 0 1 0-3.4 0M612.1 274.1a1.7 1.7 0 1 0 3.4 0a1.7 1.7 0 1 0-3.4 0M612.8 273.9a1.7 1.7 0 1 0 3.4 0a1.7 1.7 0 1 0-3.4 0M613.6 273.9a1.7 1.7 0 1 0 3.4 0a1.7 1.7 0 1 0-3.4 0M614.3 273.7a1.7 1.7 0 1 0 3.4 0a1.7 1.7 0 1 0-3.4 0M615.1 273.7a1.7 1.7 0 1 0 3.4 0a1.7 1.7 0 1 0-3.4 0M615.8 273.4a1.7 1.7 0 1 0 3.4 0a1.7 1.7 0 1 0-3.4 0M616.6 273.5a1.7 1.7 0 1 0 3.4 0a1.7 1.7 0 1 0-3.4 0M617.3 273.3a1.7 1.7 0 1 0 3.4 0a1.7 1.7 0 1 0-3.4 0M618 273.4a1.7 1.7 0 1 0 3.4 0a1.7 1.7 0 1 0-3.4 0M618.7 273.1a1.7 1.7 0 1 0 3.4 0a1.7 1.7 0 1 0-3.4 0M619.4 273a1.7 1.7 0 1 0 3.4 0a1.7 1.7 0 1 0-3.4 0M620.1 273.2a1.7 1.7 0 1 0 3.4 0a1.7 1.7 0 1 0-3.4 0M620.8 272.9a1.7 1.7 0 1 0 3.4 0a1.7 1.7 0 1 0-3.4 0M621.5 273.1a1.7 1.7 0 1 0 3.4 0a1.7 1.7 0 1 0-3.4 0M622.2 273a1.7 1.7 0 1 0 3.4 0a1.7 1.7 0 1 0-3.4 0M622.8 272.6a1.7 1.7 0 1 0 3.4 0a1.7 1.7 0 1 0-3.4 0M623.5 272.6a1.7 1.7 0 1 0 3.4 0a1.7 1.7 0 1 0-3.4 0M624.2 272.7a1.7 1.7 0 1 0 3.4 0a1.7 1.7 0 1 0-3.4 0M624.8 272.6a1.7 1.7 0 1 0 3.4 0a1.7 1.7 0 1 0-3.4 0M625.5 272.2a1.7 1.7 0 1 0 3.4 0a1.7 1.7 0 1 0-3.4 0M626.1 272.2a1.7 1.7 0 1 0 3.4 0a1.7 1.7 0 1 0-3.4 0M626.8 272.5a1.7 1.7 0 1 0 3.4 0a1.7 1.7 0 1 0-3.4 0M627.4 272.2a1.7 1.7 0 1 0 3.4 0a1.7 1.7 0 1 0-3.4 0M628 272.1a1.7 1.7 0 1 0 3.4 0a1.7 1.7 0 1 0-3.4 0M628.6 272.2a1.7 1.7 0 1 0 3.4 0a1.7 1.7 0 1 0-3.4 0M629.3 272a1.7 1.7 0 1 0 3.4 0a1.7 1.7 0 1 0-3.4 0M629.9 271.9a1.7 1.7 0 1 0 3.4 0a1.7 1.7 0 1 0-3.4 0M630.5 272a1.7 1.7 0 1 0 3.4 0a1.7 1.7 0 1 0-3.4 0M631.1 271.9a1.7 1.7 0 1 0 3.4 0a1.7 1.7 0 1 0-3.4 0M631.7 271.8a1.7 1.7 0 1 0 3.4 0a1.7 1.7 0 1 0-3.4 0M632.2 271.6a1.7 1.7 0 1 0 3.4 0a1.7 1.7 0 1 0-3.4 0M632.8 271.5a1.7 1.7 0 1 0 3.4 0a1.7 1.7 0 1 0-3.4 0M633.4 271.3a1.7 1.7 0 1 0 3.4 0a1.7 1.7 0 1 0-3.4 0M634 271.3a1.7 1.7 0 1 0 3.4 0a1.7 1.7 0 1 0-3.4 0M634.5 271.4a1.7 1.7 0 1 0 3.4 0a1.7 1.7 0 1 0-3.4 0M635.1 271.1a1.7 1.7 0 1 0 3.4 0a1.7 1.7 0 1 0-3.4 0M635.7 271a1.7 1.7 0 1 0 3.4 0a1.7 1.7 0 1 0-3.4 0M636.2 271.1a1.7 1.7 0 1 0 3.4 0a1.7 1.7 0 1 0-3.4 0M636.8 270.9a1.7 1.7 0 1 0 3.4 0a1.7 1.7 0 1 0-3.4 0M637.3 271.2a1.7 1.7 0 1 0 3.4 0a1.7 1.7 0 1 0-3.4 0M637.8 270.7a1.7 1.7 0 1 0 3.4 0a1.7 1.7 0 1 0-3.4 0M638.4 271a1.7 1.7 0 1 0 3.4 0a1.7 1.7 0 1 0-3.4 0M638.9 270.7a1.7 1.7 0 1 0 3.4 0a1.7 1.7 0 1 0-3.4 0M639.4 270.8a1.7 1.7 0 1 0 3.4 0a1.7 1.7 0 1 0-3.4 0M639.9 270.6a1.7 1.7 0 1 0 3.4 0a1.7 1.7 0 1 0-3.4 0M640.4 270.7a1.7 1.7 0 1 0 3.4 0a1.7 1.7 0 1 0-3.4 0M641 270.7a1.7 1.7 0 1 0 3.4 0a1.7 1.7 0 1 0-3.4 0M641.5 270.5a1.7 1.7 0 1 0 3.4 0a1.7 1.7 0 1 0-3.4 0M642 270.2a1.7 1.7 0 1 0 3.4 0a1.7 1.7 0 1 0-3.4 0M642.5 270.3a1.7 1.7 0 1 0 3.4 0a1.7 1.7 0 1 0-3.4 0M643 270.5a1.7 1.7 0 1 0 3.4 0a1.7 1.7 0 1 0-3.4 0M643.4 270.2a1.7 1.7 0 1 0 3.4 0a1.7 1.7 0 1 0-3.4 0M643.9 270.3a1.7 1.7 0 1 0 3.4 0a1.7 1.7 0 1 0-3.4 0M644.4 270.3a1.7 1.7 0 1 0 3.4 0a1.7 1.7 0 1 0-3.4 0M644.9 270.2a1.7 1.7 0 1 0 3.4 0a1.7 1.7 0 1 0-3.4 0M645.4 270a1.7 1.7 0 1 0 3.4 0a1.7 1.7 0 1 0-3.4 0M645.9 270.2a1.7 1.7 0 1 0 3.4 0a1.7 1.7 0 1 0-3.4 0M646.3 270a1.7 1.7 0 1 0 3.4 0a1.7 1.7 0 1 0-3.4 0M646.8 269.8a1.7 1.7 0 1 0 3.4 0a1.7 1.7 0 1 0-3.4 0M647.3 269.8a1.7 1.7 0 1 0 3.4 0a1.7 1.7 0 1 0-3.4 0M647.8 269.7a1.7 1.7 0 1 0 3.4 0a1.7 1.7 0 1 0-3.4 0M648.2 269.6a1.7 1.7 0 1 0 3.4 0a1.7 1.7 0 1 0-3.4 0M648.7 269.8a1.7 1.7 0 1 0 3.4 0a1.7 1.7 0 1 0-3.4 0M649.1 269.7a1.7 1.7 0 1 0 3.4 0a1.7 1.7 0 1 0-3.4 0M649.6 269.7a1.7 1.7 0 1 0 3.4 0a1.7 1.7 0 1 0-3.4 0M650.1 269.5a1.7 1.7 0 1 0 3.4 0a1.7 1.7 0 1 0-3.4 0M650.5 269.5a1.7 1.7 0 1 0 3.4 0a1.7 1.7 0 1 0-3.4 0M651 269.4a1.7 1.7 0 1 0 3.4 0a1.7 1.7 0 1 0-3.4 0M651.4 269.7a1.7 1.7 0 1 0 3.4 0a1.7 1.7 0 1 0-3.4 0M651.9 269.3a1.7 1.7 0 1 0 3.4 0a1.7 1.7 0 1 0-3.4 0M652.3 269.5a1.7 1.7 0 1 0 3.4 0a1.7 1.7 0 1 0-3.4 0M652.8 269.4a1.7 1.7 0 1 0 3.4 0a1.7 1.7 0 1 0-3.4 0M653.2 269.5a1.7 1.7 0 1 0 3.4 0a1.7 1.7 0 1 0-3.4 0M653.6 269.2a1.7 1.7 0 1 0 3.4 0a1.7 1.7 0 1 0-3.4 0M654.1 269.2a1.7 1.7 0 1 0 3.4 0a1.7 1.7 0 1 0-3.4 0M654.5 269.3a1.7 1.7 0 1 0 3.4 0a1.7 1.7 0 1 0-3.4 0M654.9 269.1a1.7 1.7 0 1 0 3.4 0a1.7 1.7 0 1 0-3.4 0M655.4 269a1.7 1.7 0 1 0 3.4 0a1.7 1.7 0 1 0-3.4 0M655.8 269.1a1.7 1.7 0 1 0 3.4 0a1.7 1.7 0 1 0-3.4 0M656.2 269.2a1.7 1.7 0 1 0 3.4 0a1.7 1.7 0 1 0-3.4 0M656.7 269a1.7 1.7 0 1 0 3.4 0a1.7 1.7 0 1 0-3.4 0M657.1 269a1.7 1.7 0 1 0 3.4 0a1.7 1.7 0 1 0-3.4 0M657.5 268.8a1.7 1.7 0 1 0 3.4 0a1.7 1.7 0 1 0-3.4 0M657.9 268.8a1.7 1.7 0 1 0 3.4 0a1.7 1.7 0 1 0-3.4 0M658.3 268.9a1.7 1.7 0 1 0 3.4 0a1.7 1.7 0 1 0-3.4 0M658.7 268.7a1.7 1.7 0 1 0 3.4 0a1.7 1.7 0 1 0-3.4 0M659.2 268.9a1.7 1.7 0 1 0 3.4 0a1.7 1.7 0 1 0-3.4 0M659.6 268.8a1.7 1.7 0 1 0 3.4 0a1.7 1.7 0 1 0-3.4 0M660 268.7a1.7 1.7 0 1 0 3.4 0a1.7 1.7 0 1 0-3.4 0M660.4 268.6a1.7 1.7 0 1 0 3.4 0a1.7 1.7 0 1 0-3.4 0M660.8 268.6a1.7 1.7 0 1 0 3.4 0a1.7 1.7 0 1 0-3.4 0M661.2 268.4a1.7 1.7 0 1 0 3.4 0a1.7 1.7 0 1 0-3.4 0M661.6 268.5a1.7 1.7 0 1 0 3.4 0a1.7 1.7 0 1 0-3.4 0M662 268.5a1.7 1.7 0 1 0 3.4 0a1.7 1.7 0 1 0-3.4 0M662.4 268.4a1.7 1.7 0 1 0 3.4 0a1.7 1.7 0 1 0-3.4 0M662.8 268.5a1.7 1.7 0 1 0 3.4 0a1.7 1.7 0 1 0-3.4 0M663.2 268.3a1.7 1.7 0 1 0 3.4 0a1.7 1.7 0 1 0-3.4 0M663.5 268.1a1.7 1.7 0 1 0 3.4 0a1.7 1.7 0 1 0-3.4 0M663.9 268.1a1.7 1.7 0 1 0 3.4 0a1.7 1.7 0 1 0-3.4 0M664.3 268.4a1.7 1.7 0 1 0 3.4 0a1.7 1.7 0 1 0-3.4 0M664.7 268.4a1.7 1.7 0 1 0 3.4 0a1.7 1.7 0 1 0-3.4 0M665.1 268.2a1.7 1.7 0 1 0 3.4 0a1.7 1.7 0 1 0-3.4 0M665.5 268.1a1.7 1.7 0 1 0 3.4 0a1.7 1.7 0 1 0-3.4 0M665.8 268.2a1.7 1.7 0 1 0 3.4 0a1.7 1.7 0 1 0-3.4 0M666.2 267.9a1.7 1.7 0 1 0 3.4 0a1.7 1.7 0 1 0-3.4 0M666.6 268a1.7 1.7 0 1 0 3.4 0a1.7 1.7 0 1 0-3.4 0M666.9 267.9a1.7 1.7 0 1 0 3.4 0a1.7 1.7 0 1 0-3.4 0M667.3 267.9a1.7 1.7 0 1 0 3.4 0a1.7 1.7 0 1 0-3.4 0M667.7 268.1a1.7 1.7 0 1 0 3.4 0a1.7 1.7 0 1 0-3.4 0M668 267.8a1.7 1.7 0 1 0 3.4 0a1.7 1.7 0 1 0-3.4 0M668.4 267.8a1.7 1.7 0 1 0 3.4 0a1.7 1.7 0 1 0-3.4 0M668.8 267.8a1.7 1.7 0 1 0 3.4 0a1.7 1.7 0 1 0-3.4 0M669.1 267.8a1.7 1.7 0 1 0 3.4 0a1.7 1.7 0 1 0-3.4 0M669.5 267.7a1.7 1.7 0 1 0 3.4 0a1.7 1.7 0 1 0-3.4 0M669.8 267.5a1.7 1.7 0 1 0 3.4 0a1.7 1.7 0 1 0-3.4 0M670.2 267.7a1.7 1.7 0 1 0 3.4 0a1.7 1.7 0 1 0-3.4 0M670.6 267.4a1.7 1.7 0 1 0 3.4 0a1.7 1.7 0 1 0-3.4 0" stroke="#9932cc" stroke-width="0.7" fill="none"/>
<path d="M401 87.5V152.4M394.8 119H407.2M398.7 87.5h4.7M398.7 152.4h4.7M394.8 116.7v4.7M407.2 116.7v4.7M405.2 85V150.7M398.8 118.4H411.6M402.8 85h4.7M402.8 150.7h4.7M398.8 116.1v4.7M411.6 116.1v4.7M411.3 86.6V149.6M404.7 117.6H417.8M408.9 86.6h4.7M408.9 149.6h4.7M404.7 115.2v4.7M417.8 115.2v4.7M416.9 87.5V148.2M410.1 116.7H423.7M414.6 87.5h4.7M414.6 148.2h4.7M410.1 114.3v4.7M423.7 114.3v4.7M423.4 86.6V146.3M416.4 115.7H430.4M421 86.6h4.7M421 146.3h4.7M416.4 113.4v4.7M430.4 113.4v4.7M429.8 84.7V142.5M422.6 114.7H437.1M427.5 84.7h4.7M427.5 142.5h4.7M422.6 112.3v4.7M437.1 112.3v4.7M439.7 86.6V143.1M432.1 112.9H447.3M437.4 86.6h4.7M437.4 143.1h4.7M432.1 110.5v4.7M447.3 110.5v4.7M451.1 84.7V139.3M443 110.5H459.2M448.8 84.7h4.7M448.8 139.3h4.7M443 108.1v4.7M459.2 108.1v4.7M459.6 85.6V135.5M451.2 108.2H468.1M457.3 85.6h4.7M457.3 135.5h4.7M451.2 105.8v4.7M468.1 105.8v4.7M467.4 84.7V130.2M458.5 106.1H476.3M465.1 84.7h4.7M465.1 130.2h4.7M458.5 103.8v4.7M476.3 103.8v4.7M472.9 84.3V127.4M464.1 104.7H481.7M470.6 84.3h4.7M470.6 127.4h4.7M464.1 102.4v4.7M481.7 102.4v4.7M478.2 82.8V126.4M469.8 103.4H486.7M475.9 82.8h4.7M475.9 126.4h4.7M469.8 101v4.7M486.7 101v4.7M483 82.8V125.5M474.8 102.2H491.1M480.6 82.8h4.7M480.6 125.5h4.7M474.8 99.8v4.7M491.1 99.8v4.7M487.7 82.4V120.7M479.9 101.2H495.5M485.4 82.4h4.7M485.4 120.7h4.7M479.9 98.8v4.7M495.5 98.8v4.7M492.5 81.8V120.7M485 100.2H500M490.1 81.8h4.7M490.1 120.7h4.7M485 97.9v4.7M500 97.9v4.7M496.3 81.3V120.3M489 99.5H503.5M493.9 81.3h4.7M493.9 120.3h4.7M489 97.1v4.7M503.5 97.1v4.7M500.1 80.5V116.9M493.1 98.7H507.1M497.7 80.5h4.7M497.7 116.9h4.7M493.1 96.4v4.7M507.1 96.4v4.7M503.9 79.9V115M497 98H510.7M501.5 79.9h4.7M501.5 115h4.7M497 95.7v4.7M510.7 95.7v4.7M507.6 79V112.8M501 96.4H514.3M505.3 79h4.7M505.3 112.8h4.7M501 94.1v4.7M514.3 94.1v4.7M511.4 78V110.3M505 94.9H517.9M509.1 78h4.7M509.1 110.3h4.7M505 92.5v4.7M517.9 92.5v4.7M515.2 77.1V107.4M509 93.3H521.5M512.9 77.1h4.7M512.9 107.4h4.7M509 90.9v4.7M521.5 90.9v4.7M519 76.1V104.6M513 91.7H525.1M516.7 76.1h4.7M516.7 104.6h4.7M513 89.4v4.7M525.1 89.4v4.7M521.3 75.3V104.3M515.7 90.1H527.7M518.9 75.3h4.7M518.9 104.3h4.7M515.7 87.7v4.7M527.7 87.7v4.7M523.2 75.8V103.1M518.1 89.9H528.9M520.9 75.8h4.7M520.9 103.1h4.7M518.1 87.5v4.7M528.9 87.5v4.7M524.8 73.8V101.7M519.5 88.6H529.9M522.5 73.8h4.7M522.5 101.7h4.7M519.5 86.3v4.7M529.9 86.3v4.7M527.8 73.2V102.3M522.9 88.2H533.1M525.5 73.2h4.7M525.5 102.3h4.7M522.9 85.8v4.7M533.1 85.8v4.7M529.1 71.6V99.7M524.2 86.6H535M526.8 71.6h4.7M526.8 99.7h4.7M524.2 84.3v4.7M535 84.3v4.7M532.2 72.1V98.8M527.2 85.3H537.5M529.9 72.1h4.7M529.9 98.8h4.7M527.2 82.9v4.7M537.5 82.9v4.7M533.2 70.1V96.7M527.7 84.4H538M530.8 70.1h4.7M530.8 96.7h4.7M527.7 82.1v4.7M538 82.1v4.7M536.2 70.7V98.2M531.2 84.4H541.5M533.9 70.7h4.7M533.9 98.2h4.7M531.2 82.1v4.7M541.5 82.1v4.7M537.7 68.7V94.2M532.2 82.4H543.2M535.4 68.7h4.7M535.4 94.2h4.7M532.2 80v4.7M543.2 80v4.7M539.6 69.4V93.8M534 81.7H544.4M537.2 69.4h4.7M537.2 93.8h4.7M534 79.4v4.7M544.4 79.4v4.7M541.2 67.5V93.9M536.2 80.3H546.2M538.8 67.5h4.7M538.8 93.9h4.7M536.2 77.9v4.7M546.2 77.9v4.7M543.8 68.8V92.2M538.7 80H548.9M541.4 68.8h4.7M541.4 92.2h4.7M538.7 77.6v4.7M548.9 77.6v4.7M545 67.3V91.5M540.2 78.6H550.1M542.7 67.3h4.7M542.7 91.5h4.7M540.2 76.2v4.7M550.1 76.2v4.7M546.8 67.6V90.1M541.4 77.8H551.6M544.4 67.6h4.7M544.4 90.1h4.7M541.4 75.5v4.7M551.6 75.5v4.7M549.1 65.1V89.8M544.2 77.4H554.7M546.8 65.1h4.7M546.8 89.8h4.7M544.2 75v4.7M554.7 75v4.7M550.8 64.8V87.8M545.9 76.8H555.5M548.4 64.8h4.7M548.4 87.8h4.7M545.9 74.5v4.7M555.5 74.5v4.7M552 66.2V87.4M546.7 75.8H557M549.7 66.2h4.7M549.7 87.4h4.7M546.7 73.5v4.7M557 73.5v4.7M553.6 65V84.9M548.7 74.9H558.2M551.3 65h4.7M551.3 84.9h4.7M548.7 72.6v4.7M558.2 72.6v4.7M555.5 61.9V84.7M550.2 73.2H560.5M553.2 61.9h4.7M553.2 84.7h4.7M550.2 70.8v4.7M560.5 70.8v4.7M557.7 62.4V83.2M553.3 72.6H562.4M555.4 62.4h4.7M555.4 83.2h4.7M553.3 70.2v4.7M562.4 70.2v4.7M559.1 61.7V82.6M554.2 72.5H564.2M556.8 61.7h4.7M556.8 82.6h4.7M554.2 70.1v4.7M564.2 70.1v4.7M560.2 62V80.9M554.9 71.7H564.6M557.9 62h4.7M557.9 80.9h4.7M554.9 69.4v4.7M564.6 69.4v4.7M561.9 60.3V79.2M556.8 70.8H567.1M559.6 60.3h4.7M559.6 79.2h4.7M556.8 68.5v4.7M567.1 68.5v4.7M563.4 60.8V79.1M558.6 70.3H568.9M561.1 60.8h4.7M561.1 79.1h4.7M558.6 68v4.7M568.9 68v4.7M564.9 61.4V77.9M560.4 69.7H569.2M562.5 61.4h4.7M562.5 77.9h4.7M560.4 67.4v4.7M569.2 67.4v4.7M566.3 60.4V78.2M561.2 68.5H570.7M563.9 60.4h4.7M563.9 78.2h4.7M561.2 66.2v4.7M570.7 66.2v4.7M567.7 59.6V76.7M563.1 68H572.2M565.3 59.6h4.7M565.3 76.7h4.7M563.1 65.6v4.7M572.2 65.6v4.7M569 58.6V75.9M564.1 66.9H573.4M566.7 58.6h4.7M566.7 75.9h4.7M564.1 64.6v4.7M573.4 64.6v4.7M570.4 57.8V75.9M565.2 67H574.6M568 57.8h4.7M568 75.9h4.7M565.2 64.6v4.7M574.6 64.6v4.7M571.7 58.7V74.8M567.3 66.1H576.7M569.4 58.7h4.7M569.4 74.8h4.7M567.3 63.7v4.7M576.7 63.7v4.7M573 56.8V72.9M568.8 65.2H577.6M570.6 56.8h4.7M570.6 72.9h4.7M568.8 62.9v4.7M577.6 62.9v4.7M574.3 56.1V72.2M569.5 64.7H579.1M571.9 56.1h4.7M571.9 72.2h4.7M569.5 62.4v4.7M579.1 62.4v4.7M575.5 57.9V72.8M570.8 64.9H580.5M573.2 57.9h4.7M573.2 72.8h4.7M570.8 62.6v4.7M580.5 62.6v4.7M576.7 57.1V72.3M572 64.4H581.5M574.4 57.1h4.7M574.4 72.3h4.7M572 62v4.7M581.5 62v4.7M577.9 54.8V71M573.4 62.7H582.4M575.6 54.8h4.7M575.6 71h4.7M573.4 60.4v4.7M582.4 60.4v4.7M579.1 56.7V69.9M574.9 63.3H584.1M576.7 56.7h4.7M576.7 69.9h4.7M574.9 61v4.7M584.1 61v4.7M580.2 55.5V69.9M576.1 62.5H585M577.9 55.5h4.7M577.9 69.9h4.7M576.1 60.2v4.7M585 60.2v4.7M581.4 54.6V68.4M576.9 61.6H585.7M579 54.6h4.7M579 68.4h4.7M576.9 59.3v4.7M585.7 59.3v4.7M582.5 53.9V67.1M577.6 60.7H587.4M580.1 53.9h4.7M580.1 67.1h4.7M577.6 58.3v4.7M587.4 58.3v4.7M583.5 54.3V67.2M579.1 61H588.1M581.2 54.3h4.7M581.2 67.2h4.7M579.1 58.6v4.7M588.1 58.6v4.7M584.6 53.1V66.3M580.1 60.4H589.1M582.2 53.1h4.7M582.2 66.3h4.7M580.1 58v4.7M589.1 58v4.7M585.6 53V66.9M581 60H590.4M583.3 53h4.7M583.3 66.9h4.7M581 57.7v4.7M590.4 57.7v4.7M586.7 52.6V66.1M582 59.5H590.9M584.3 52.6h4.7M584.3 66.1h4.7M582 57.1v4.7M590.9 57.1v4.7M587.7 53.4V65.8M582.8 59.4H592.6M585.3 53.4h4.7M585.3 65.8h4.7M582.8 57.1v4.7M592.6 57.1v4.7M588.6 53.8V65M584.4 59.2H593M586.3 53.8h4.7M586.3 65h4.7M584.4 56.8v4.7M593 56.8v4.7M589.6 51.7V63.2M585.4 57.8H594.5M587.3 51.7h4.7M587.3 63.2h4.7M585.4 55.5v4.7M594.5 55.5v4.7M590.6 52.3V63.6M585.7 58.2H595.2M588.2 52.3h4.7M588.2 63.6h4.7M585.7 55.9v4.7M595.2 55.9v4.7M591.5 51.6V63.3M586.9 57.3H595.6M589.1 51.6h4.7M589.1 63.3h4.7M586.9 54.9v4.7M595.6 54.9v4.7M592.4 52.3V63.2M587.7 57.8H596.4M590.1 52.3h4.7M590.1 63.2h4.7M587.7 55.5v4.7M596.4 55.5v4.7M593.3 51.9V63M589.2 57.2H597.6M591 51.9h4.7M591 63h4.7M589.2 54.8v4.7M597.6 54.8v4.7M594.2 51.7V62.7M589.7 57.2H598.3M591.9 51.7h4.7M591.9 62.7h4.7M589.7 54.8v4.7M598.3 54.8v4.7M595.1 50.6V61.2M591.1 56H599.9M592.8 50.6h4.7M592.8 61.2h4.7M591.1 53.6v4.7M599.9 53.6v4.7M596 49.7V61.5M591.4 55.5H599.8M593.6 49.7h4.7M593.6 61.5h4.7M591.4 53.1v4.7M599.8 53.1v4.7M596.8 51V61.2M592.3 55.8H600.8M594.5 51h4.7M594.5 61.2h4.7M592.3 53.4v4.7M600.8 53.4v4.7M597.7 49.6V59.6M593.6 54.9H601.9M595.3 49.6h4.7M595.3 59.6h4.7M593.6 52.5v4.7M601.9 52.5v4.7M598.5 50.6V60.4M593.9 55.7H603.1M596.1 50.6h4.7M596.1 60.4h4.7M593.9 53.3v4.7M603.1 53.3v4.7M599.3 50.4V59.7M595.1 54.9H603.6M596.9 50.4h4.7M596.9 59.7h4.7M595.1 52.6v4.7M603.6 52.6v4.7M600.1 48.9V59.7M595.4 54.3H604.7M597.7 48.9h4.7M597.7 59.7h4.7M595.4 51.9v4.7M604.7 51.9v4.7M600.9 48.7V58.2M596.3 53.8H605.4M598.5 48.7h4.7M598.5 58.2h4.7M596.3 51.4v4.7M605.4 51.4v4.7M601.7 49.9V58.8M597.1 54.4H606M599.3 49.9h4.7M599.3 58.8h4.7M597.1 52v4.7M606 52v4.7M602.4 49.2V59.1M598.4 54H606.4M600.1 49.2h4.7M600.1 59.1h4.7M598.4 51.6v4.7M606.4 51.6v4.7M603.2 48.9V58.3M598.6 53.4H606.9M600.8 48.9h4.7M600.8 58.3h4.7M598.6 51v4.7M606.9 51v4.7M603.9 48.1V57.6M600.1 52.8H607.8M601.6 48.1h4.7M601.6 57.6h4.7M600.1 50.4v4.7M607.8 50.4v4.7M604.6 48.4V57.1M600.3 52.5H608.9M602.3 48.4h4.7M602.3 57.1h4.7M600.3 50.2v4.7M608.9 50.2v4.7M605.4 48.3V57.4M601.2 52.4H609.4M603 48.3h4.7M603 57.4h4.7M601.2 50v4.7M609.4 50v4.7M606.1 48.1V57.3M602.4 52.8H610.5M603.7 48.1h4.7M603.7 57.3h4.7M602.4 50.4v4.7M610.5 50.4v4.7M606.8 48.1V56.2M602.6 52H611M604.4 48.1h4.7M604.4 56.2h4.7M602.6 49.6v4.7M611 49.6v4.7M607.4 47.1V56M603.7 51.7H611.9M605.1 47.1h4.7M605.1 56h4.7M603.7 49.3v4.7M611.9 49.3v4.7M608.1 47.5V56.7M604.3 52.2H612.5M605.8 47.5h4.7M605.8 56.7h4.7M604.3 49.9v4.7M612.5 49.9v4.7M608.8 47.9V56.7M604.2 52.1H612.7M606.4 47.9h4.7M606.4 56.7h4.7M604.2 49.8v4.7M612.7 49.8v4.7M609.4 47.3V56.4M605.8 51.9H613.3M607.1 47.3h4.7M607.1 56.4h4.7M605.8 49.6v4.7M613.3 49.6v4.7M610.1 47.1V55.6M605.9 51.3H613.8M607.7 47.1h4.7M607.7 55.6h4.7M605.9 49v4.7M613.8 49v4.7M610.7 47.4V55.9M606.9 51.5H615.2M608.3 47.4h4.7M608.3 55.9h4.7M606.9 49.1v4.7M615.2 49.1v4.7M611.3 46.6V55M606.9 50.8H615.2M609 46.6h4.7M609 55h4.7M606.9 48.5v4.7M615.2 48.5v4.7M611.9 46.2V53.6M607.9 50H616.2M609.6 46.2h4.7M609.6 53.6h4.7M607.9 47.7v4.7M616.2 47.7v4.7M612.5 46.7V53.7M608.6 50.3H616.6M610.2 46.7h4.7M610.2 53.7h4.7M608.6 47.9v4.7M616.6 47.9v4.7M613.1 45.8V53.3M609.5 49.8H617.5M610.8 45.8h4.7M610.8 53.3h4.7M609.5 47.4v4.7M617.5 47.4v4.7M613.7 46.1V54.1M610.1 50.3H617.5M611.4 46.1h4.7M611.4 54.1h4.7M610.1 47.9v4.7M617.5 47.9v4.7M614.3 46.2V54.1M610.1 50.1H618.4M611.9 46.2h4.7M611.9 54.1h4.7M610.1 47.7v4.7M618.4 47.7v4.7M614.9 46.1V53.4M610.9 49.8H618.7M612.5 46.1h4.7M612.5 53.4h4.7M610.9 47.4v4.7M618.7 47.4v4.7M615.5 46.3V53.3M611.1 50H619.5M613.1 46.3h4.7M613.1 53.3h4.7M611.1 47.7v4.7M619.5 47.7v4.7M616 46.4V54.2M611.6 50.3H619.9M613.7 46.4h4.7M613.7 54.2h4.7M611.6 47.9v4.7M619.9 47.9v4.7M616.6 46.5V53.5M612.5 49.7H620.7M614.2 46.5h4.7M614.2 53.5h4.7M612.5 47.3v4.7M620.7 47.3v4.7M617.2 47V53.7M612.9 50.3H621.5M614.8 47h4.7M614.8 53.7h4.7M612.9 48v4.7M621.5 48v4.7M617.7 46.4V53.1M613.4 49.6H621.7M615.4 46.4h4.7M615.4 53.1h4.7M613.4 47.3v4.7M621.7 47.3v4.7M618.3 46V53.2M614.2 49.5H622.5M615.9 46h4.7M615.9 53.2h4.7M614.2 47.2v4.7M622.5 47.2v4.7M618.8 46.2V53.4M615.1 49.9H623.1M616.5 46.2h4.7M616.5 53.4h4.7M615.1 47.6v4.7M623.1 47.6v4.7M619.4 45.9V53M615 49.8H623.8M617 45.9h4.7M617 53h4.7M615 47.4v4.7M623.8 47.4v4.7M619.9 45.5V52.4M616.3 48.8H624.2M617.6 45.5h4.7M617.6 52.4h4.7M616.3 46.5v4.7M624.2 46.5v4.7M620.5 45.3V52.3M616.7 49H624.2M618.1 45.3h4.7M618.1 52.3h4.7M616.7 46.6v4.7M624.2 46.6v4.7M621 45.5V52.4M616.8 49.2H624.8M618.6 45.5h4.7M618.6 52.4h4.7M616.8 46.8v4.7M624.8 46.8v4.7M621.5 46V52.4M617.9 49.3H625.1M619.2 46h4.7M619.2 52.4h4.7M617.9 46.9v4.7M625.1 46.9v4.7M622 45.9V52.3M617.7 49.2H626.2M619.7 45.9h4.7M619.7 52.3h4.7M617.7 46.9v4.7M626.2 46.9v4.7M622.6 44.8V51.8M618.6 48.4H626.6M620.2 44.8h4.7M620.2 51.8h4.7M618.6 46v4.7M626.6 46v4.7M623.1 46.2V52.9M619 49.4H627M620.7 46.2h4.7M620.7 52.9h4.7M619 47.1v4.7M627 47.1v4.7M623.6 45.1V52M619.6 48.6H627.6M621.3 45.1h4.7M621.3 52h4.7M619.6 46.3v4.7M627.6 46.3v4.7M624.1 44.9V51.3M620 48.4H628.1M621.8 44.9h4.7M621.8 51.3h4.7M620 46v4.7M628.1 46v4.7M624.6 45V51.6M621 48.3H628.6M622.3 45h4.7M622.3 51.6h4.7M621 46v4.7M628.6 46v4.7M625.1 44.7V51.3M621.3 48.2H628.8M622.8 44.7h4.7M622.8 51.3h4.7M621.3 45.8v4.7M628.8 45.8v4.7M625.6 45V50.9M621.5 47.9H629.9M623.3 45h4.7M623.3 50.9h4.7M621.5 45.6v4.7M629.9 45.6v4.7M626.1 45.2V51.3M622.5 48.1H630M623.8 45.2h4.7M623.8 51.3h4.7M622.5 45.7v4.7M630 45.7v4.7M626.6 45.7V52M622.6 48.7H630.2M624.3 45.7h4.7M624.3 52h4.7M622.6 46.3v4.7M630.2 46.3v4.7M627.1 44.7V50.8M623.4 48H631.2M624.7 44.7h4.7M624.7 50.8h4.7M623.4 45.6v4.7M631.2 45.6v4.7M627.6 45.5V51.8M624 48.6H631.4M625.2 45.5h4.7M625.2 51.8h4.7M624 46.2v4.7M631.4 46.2v4.7M628 44.5V50.9M623.8 47.9H631.6M625.7 44.5h4.7M625.7 50.9h4.7M623.8 45.6v4.7M631.6 45.6v4.7M628.5 44.7V51.3M624.4 48.1H632.2M626.2 44.7h4.7M626.2 51.3h4.7M624.4 45.7v4.7M632.2 45.7v4.7M629 45.8V51.9M624.7 48.5H633.2M626.6 45.8h4.7M626.6 51.9h4.7M624.7 46.1v4.7M633.2 46.1v4.7M629.5 45.2V50.9M625.3 48H633.6M627.1 45.2h4.7M627.1 50.9h4.7M625.3 45.6v4.7M633.6 45.6v4.7M629.9 44.5V50.4M626.1 47.7H633.5M627.6 44.5h4.7M627.6 50.4h4.7M626.1 45.4v4.7M633.5 45.4v4.7M630.4 44.4V50.7M626.7 47.6H634.2M628 44.4h4.7M628 50.7h4.7M626.7 45.2v4.7M634.2 45.2v4.7M630.8 44.2V50.2M627.1 47.2H634.7M628.5 44.2h4.7M628.5 50.2h4.7M627.1 44.9v4.7M634.7 44.9v4.7M631.3 45.2V51.1M627.2 48.1H635.3M628.9 45.2h4.7M628.9 51.1h4.7M627.2 45.7v4.7M635.3 45.7v4.7M631.7 44.8V50.3M627.8 47.6H635.6M629.4 44.8h4.7M629.4 50.3h4.7M627.8 45.3v4.7M635.6 45.3v4.7M632.2 44.6V50.5M628.3 47.3H635.9M629.8 44.6h4.7M629.8 50.5h4.7M628.3 45v4.7M635.9 45v4.7M632.6 44.2V50M628.8 46.9H636.8M630.3 44.2h4.7M630.3 50h4.7M628.8 44.5v4.7M636.8 44.5v4.7M633.1 44.1V49.9M628.8 47.1H637.1M630.7 44.1h4.7M630.7 49.9h4.7M628.8 44.7v4.7M637.1 44.7v4.7M633.5 44.5V50M629.2 47.2H637.7M631.2 44.5h4.7M631.2 50h4.7M629.2 44.8v4.7M637.7 44.8v4.7M633.9 44.6V50.3M629.6 47.2H637.6M631.6 44.6h4.7M631.6 50.3h4.7M629.6 44.9v4.7M637.6 44.9v4.7M634.4 44.5V50.3M629.9 47.4H638.7M632 44.5h4.7M632 50.3h4.7M629.9 45.1v4.7M638.7 45.1v4.7M634.8 43.7V49.5M630.9 46.8H639.3M632.4 43.7h4.7M632.4 49.5h4.7M630.9 44.5v4.7M639.3 44.5v4.7M635.2 44V49.5M631.4 46.7H639M632.9 44h4.7M632.9 49.5h4.7M631.4 44.3v4.7M639 44.3v4.7M635.6 44.6V50.2M631.4 47.4H640M633.3 44.6h4.7M633.3 50.2h4.7M631.4 45v4.7M640 45v4.7M636.1 44.5V50.4M632.1 47.4H640.3M633.7 44.5h4.7M633.7 50.4h4.7M632.1 45.1v4.7M640.3 45.1v4.7M636.5 43.9V49.7M632.5 46.9H640.6M634.1 43.9h4.7M634.1 49.7h4.7M632.5 44.5v4.7M640.6 44.5v4.7M636.9 44.2V49.1M633.2 46.6H640.4M634.5 44.2h4.7M634.5 49.1h4.7M633.2 44.2v4.7M640.4 44.2v4.7M637.3 43.7V49.1M633.7 46.3H641.4M634.9 43.7h4.7M634.9 49.1h4.7M633.7 43.9v4.7M641.4 43.9v4.7M637.7 43.6V48.7M633.7 46.2H641.9M635.3 43.6h4.7M635.3 48.7h4.7M633.7 43.9v4.7M641.9 43.9v4.7M638.1 44V49.3M634.5 46.6H641.9M635.7 44h4.7M635.7 49.3h4.7M634.5 44.2v4.7M641.9 44.2v4.7M638.5 44.1V49.8M634.7 46.9H642.6M636.1 44.1h4.7M636.1 49.8h4.7M634.7 44.5v4.7M642.6 44.5v4.7M638.9 43.7V49.2M635.2 46.4H642.7M636.5 43.7h4.7M636.5 49.2h4.7M635.2 44v4.7M642.7 44v4.7M639.3 44.6V49.8M635 47.1H643.1M636.9 44.6h4.7M636.9 49.8h4.7M635 44.8v4.7M643.1 44.8v4.7M639.7 44.6V49.4M636 46.9H643.5M637.3 44.6h4.7M637.3 49.4h4.7M636 44.6v4.7M643.5 44.6v4.7M640.1 43.9V49M636.4 46.2H644.1M637.7 43.9h4.7M637.7 49h4.7M636.4 43.9v4.7M644.1 43.9v4.7M640.5 43.8V49.4M636.3 46.6H644.1M638.1 43.8h4.7M638.1 49.4h4.7M636.3 44.2v4.7M644.1 44.2v4.7M640.9 44.5V49.6M637 46.8H644.6M638.5 44.5h4.7M638.5 49.6h4.7M637 44.5v4.7M644.6 44.5v4.7M641.2 43.6V48.9M636.9 46.1H645.5M638.9 43.6h4.7M638.9 48.9h4.7M636.9 43.8v4.7M645.5 43.8v4.7M641.6 44.3V49.2M637.8 46.7H645.6M639.3 44.3h4.7M639.3 49.2h4.7M637.8 44.4v4.7M645.6 44.4v4.7M642 44V49.2M637.6 46.9H646.4M639.7 44h4.7M639.7 49.2h4.7M637.6 44.5v4.7M646.4 44.5v4.7M642.4 43.7V49.1M638.7 46.4H646.5M640.1 43.7h4.7M640.1 49.1h4.7M638.7 44v4.7M646.5 44v4.7M642.8 44.2V49.7M639.2 47H647M640.5 44.2h4.7M640.5 49.7h4.7M639.2 44.6v4.7M647 44.6v4.7M643.2 43.6V48.7M639.1 46.3H646.8M640.8 43.6h4.7M640.8 48.7h4.7M639.1 44v4.7M646.8 44v4.7M643.6 44V48.9M639.8 46.7H647.2M641.2 44h4.7M641.2 48.9h4.7M639.8 44.3v4.7M647.2 44.3v4.7M644 43.9V48.7M639.5 46.5H648.4M641.6 43.9h4.7M641.6 48.7h4.7M639.5 44.1v4.7M648.4 44.1v4.7M644.3 43.6V48.6M640.2 46.2H648.2M642 43.6h4.7M642 48.6h4.7M640.2 43.9v4.7M648.2 43.9v4.7M644.7 43.5V48.5M640.9 46.2H649M642.4 43.5h4.7M642.4 48.5h4.7M640.9 43.8v4.7M649 43.8v4.7M645.1 43.6V48.7M641.4 45.9H649M642.7 43.6h4.7M642.7 48.7h4.7M641.4 43.6v4.7M649 43.6v4.7M645.5 43.6V48.4M641.4 46H649.1M643.1 43.6h4.7M643.1 48.4h4.7M641.4 43.6v4.7M649.1 43.6v4.7M645.9 44V48.5M642.1 46.2H649.6M643.5 44h4.7M643.5 48.5h4.7M642.1 43.9v4.7M649.6 43.9v4.7M646.2 43.6V48.7M642.1 46H650.2M643.9 43.6h4.7M643.9 48.7h4.7M642.1 43.6v4.7M650.2 43.6v4.7M646.6 43.9V48.8M642.5 46.5H650.8M644.3 43.9h4.7M644.3 48.8h4.7M642.5 44.1v4.7M650.8 44.1v4.7M647 43.5V48.7M642.6 46.2H650.8M644.6 43.5h4.7M644.6 48.7h4.7M642.6 43.8v4.7M650.8 43.8v4.7M647.4 43.5V48.8M643 46.3H651M645 43.5h4.7M645 48.8h4.7M643 43.9v4.7M651 43.9v4.7M647.7 44V49M643.8 46.3H651.8M645.4 44h4.7M645.4 49h4.7M643.8 44v4.7M651.8 44v4.7M648.1 43.4V48.4M644 45.7H652.2M645.7 43.4h4.7M645.7 48.4h4.7M644 43.4v4.7M652.2 43.4v4.7M648.5 43.2V48.3M644.8 45.6H652.5M646.1 43.2h4.7M646.1 48.3h4.7M644.8 43.2v4.7M652.5 43.2v4.7M648.8 43.8V48.7M644.4 46.2H653.1M646.5 43.8h4.7M646.5 48.7h4.7M644.4 43.9v4.7M653.1 43.9v4.7M649.2 43.2V48.1M645 45.7H653.4M646.9 43.2h4.7M646.9 48.1h4.7M645 43.3v4.7M653.4 43.3v4.7M649.6 43.1V48.1M646 45.7H653.4M647.2 43.1h4.7M647.2 48.1h4.7M646 43.3v4.7M653.4 43.3v4.7M649.9 43.5V48.3M645.5 45.8H654.3M647.6 43.5h4.7M647.6 48.3h4.7M645.5 43.4v4.7M654.3 43.4v4.7M650.3 43.4V48.5M646.2 46.1H654.7M647.9 43.4h4.7M647.9 48.5h4.7M646.2 43.7v4.7M654.7 43.7v4.7M650.7 43V47.7M646.8 45.3H654.6M648.3 43h4.7M648.3 47.7h4.7M646.8 43v4.7M654.6 43v4.7M651 42.8V48M647.3 45.3H654.7M648.7 42.8h4.7M648.7 48h4.7M647.3 43v4.7M654.7 43v4.7M651.4 43V47.9M647.1 45.6H655.1M649 43h4.7M649 47.9h4.7M647.1 43.3v4.7M655.1 43.3v4.7M651.7 43.4V48.5M648.1 45.9H656.2M649.4 43.4h4.7M649.4 48.5h4.7M648.1 43.6v4.7M656.2 43.6v4.7M652.1 43.8V48.8M648 46.2H655.8M649.8 43.8h4.7M649.8 48.8h4.7M648 43.9v4.7M655.8 43.9v4.7M652.5 43V48M648.9 45.6H656.1M650.1 43h4.7M650.1 48h4.7M648.9 43.3v4.7M656.1 43.3v4.7M652.8 42.9V47.9M648.9 45.4H656.7M650.5 42.9h4.7M650.5 47.9h4.7M648.9 43v4.7M656.7 43v4.7M653.2 43.9V48.8M649.5 46.3H657.2M650.8 43.9h4.7M650.8 48.8h4.7M649.5 43.9v4.7M657.2 43.9v4.7M653.5 43.1V47.6M649.9 45.3H657.4M651.2 43.1h4.7M651.2 47.6h4.7M649.9 43v4.7M657.4 43v4.7M653.9 43.4V48.4M649.9 45.9H657.5M651.5 43.4h4.7M651.5 48.4h4.7M649.9 43.5v4.7M657.5 43.5v4.7M654.2 43.6V48.5M649.8 45.9H658.3M651.9 43.6h4.7M651.9 48.5h4.7M649.8 43.6v4.7M658.3 43.6v4.7M654.6 43V47.7M650.8 45.3H658.2M652.2 43h4.7M652.2 47.7h4.7M650.8 43v4.7M658.2 43v4.7M654.9 43V48.1M650.7 45.5H659.3M652.6 43h4.7M652.6 48.1h4.7M650.7 43.1v4.7M659.3 43.1v4.7M655.3 43.6V48.4M651.7 45.9H659.6M652.9 43.6h4.7M652.9 48.4h4.7M651.7 43.6v4.7M659.6 43.6v4.7M655.6 43.6V48.2M651.9 45.8H659.9M653.3 43.6h4.7M653.3 48.2h4.7M651.9 43.5v4.7M659.9 43.5v4.7M656 42.9V48.1M651.7 45.5H659.9M653.6 42.9h4.7M653.6 48.1h4.7M651.7 43.1v4.7M659.9 43.1v4.7M656.3 42.7V47.9M652.6 45.3H660.2M654 42.7h4.7M654 47.9h4.7M652.6 43v4.7M660.2 43v4.7M656.7 43.3V48.1M652.7 45.8H661.1M654.3 43.3h4.7M654.3 48.1h4.7M652.7 43.5v4.7M661.1 43.5v4.7M657 42.7V47.5M652.6 45H661.5M654.7 42.7h4.7M654.7 47.5h4.7M652.6 42.6v4.7M661.5 42.6v4.7M657.4 42.9V48.1M653.5 45.4H661.1M655 42.9h4.7M655 48.1h4.7M653.5 43.1v4.7M661.1 43.1v4.7M657.7 42.6V47.3M653.7 45.1H662.1M655.4 42.6h4.7M655.4 47.3h4.7M653.7 42.8v4.7M662.1 42.8v4.7M658.1 42.6V47.4M653.6 45.1H662.1M655.7 42.6h4.7M655.7 47.4h4.7M653.6 42.7v4.7M662.1 42.7v4.7M658.4 42.8V47.9M654.7 45.4H662.7M656.1 42.8h4.7M656.1 47.9h4.7M654.7 43v4.7M662.7 43v4.7M658.7 42.6V47.9M654.8 45.2H662.7M656.4 42.6h4.7M656.4 47.9h4.7M654.8 42.9v4.7M662.7 42.9v4.7M659.1 42.8V47.2M655.4 45H663.3M656.7 42.8h4.7M656.7 47.2h4.7M655.4 42.7v4.7M663.3 42.7v4.7M659.4 42.4V47.2M655.2 44.8H663.5M657.1 42.4h4.7M657.1 47.2h4.7M655.2 42.4v4.7M663.5 42.4v4.7M659.8 43.6V47.9M655.7 45.8H663.5M657.4 43.6h4.7M657.4 47.9h4.7M655.7 43.5v4.7M663.5 43.5v4.7M660.1 43.3V48.3M655.8 45.9H663.9M657.7 43.3h4.7M657.7 48.3h4.7M655.8 43.5v4.7M663.9 43.5v4.7M660.4 43V47.5M656.6 45.2H664.4M658.1 43h4.7M658.1 47.5h4.7M656.6 42.9v4.7M664.4 42.9v4.7M660.8 43.4V47.8M657.1 45.4H665.2M658.4 43.4h4.7M658.4 47.8h4.7M657.1 43.1v4.7M665.2 43.1v4.7M661.1 42.9V47.5M656.9 45.3H665.3M658.7 42.9h4.7M658.7 47.5h4.7M656.9 42.9v4.7M665.3 42.9v4.7M661.4 43.3V47.9M657.3 45.7H665M659.1 43.3h4.7M659.1 47.9h4.7M657.3 43.3v4.7M665 43.3v4.7M661.8 43.3V47.9M658.1 45.5H665.9M659.4 43.3h4.7M659.4 47.9h4.7M658.1 43.1v4.7M665.9 43.1v4.7M662.1 42.7V46.9M657.8 44.8H666M659.7 42.7h4.7M659.7 46.9h4.7M657.8 42.4v4.7M666 42.4v4.7M662.4 42.7V47.7M658.7 45.2H666.6M660.1 42.7h4.7M660.1 47.7h4.7M658.7 42.8v4.7M666.6 42.8v4.7M662.8 43V47.7M658.8 45.4H667M660.4 43h4.7M660.4 47.7h4.7M658.8 43.1v4.7M667 43.1v4.7M663.1 42.5V47.2M658.7 44.8H666.8M660.7 42.5h4.7M660.7 47.2h4.7M658.7 42.4v4.7M666.8 42.4v4.7M663.4 43.1V47.4M659.4 45.3H667.5M661.1 43.1h4.7M661.1 47.4h4.7M659.4 42.9v4.7M667.5 42.9v4.7M663.7 42.7V47.3M659.7 45.2H667.7M661.4 42.7h4.7M661.4 47.3h4.7M659.7 42.9v4.7M667.7 42.9v4.7M664.1 42.2V46.8M660.3 44.7H667.6M661.7 42.2h4.7M661.7 46.8h4.7M660.3 42.4v4.7M667.6 42.4v4.7M664.4 42.8V47.3M660 45.2H668.5M662 42.8h4.7M662 47.3h4.7M660 42.8v4.7M668.5 42.8v4.7M664.7 42.1V47.1M660.9 44.6H669.1M662.4 42.1h4.7M662.4 47.1h4.7M660.9 42.3v4.7M669.1 42.3v4.7M665 42.3V46.8M660.6 44.5H668.8M662.7 42.3h4.7M662.7 46.8h4.7M660.6 42.2v4.7M668.8 42.2v4.7M665.3 42.7V47.3M661.7 44.8H669.7M663 42.7h4.7M663 47.3h4.7M661.7 42.5v4.7M669.7 42.5v4.7M665.7 42.4V47.2M661.9 44.7H669.7M663.3 42.4h4.7M663.3 47.2h4.7M661.9 42.4v4.7M669.7 42.4v4.7M666 42.8V47.3M661.8 45.1H669.8M663.6 42.8h4.7M663.6 47.3h4.7M661.8 42.7v4.7M669.8 42.7v4.7M666.3 42.5V46.8M662.2 44.5H670.6M664 42.5h4.7M664 46.8h4.7M662.2 42.1v4.7M670.6 42.1v4.7M666.6 42.1V46.7M662.6 44.5H670.9M664.3 42.1h4.7M664.3 46.7h4.7M662.6 42.1v4.7M670.9 42.1v4.7M666.9 42.6V47.2M663.3 44.9H671.3M664.6 42.6h4.7M664.6 47.2h4.7M663.3 42.5v4.7M671.3 42.5v4.7M667.3 42.8V47.1M662.8 44.8H671.7M664.9 42.8h4.7M664.9 47.1h4.7M662.8 42.5v4.7M671.7 42.5v4.7M667.6 42.6V47.2M663.8 44.7H671.1M665.2 42.6h4.7M665.2 47.2h4.7M663.8 42.4v4.7M671.1 42.4v4.7M667.9 42.2V46.8M664.3 44.5H671.7M665.5 42.2h4.7M665.5 46.8h4.7M664.3 42.1v4.7M671.7 42.1v4.7M668.2 42.9V47.1M664 45H672.1M665.8 42.9h4.7M665.8 47.1h4.7M664 42.7v4.7M672.1 42.7v4.7M668.5 42.7V47.4M664.5 45H673M666.2 42.7h4.7M666.2 47.4h4.7M664.5 42.6v4.7M673 42.6v4.7M668.8 42.7V47.3M664.7 45.1H672.7M666.5 42.7h4.7M666.5 47.3h4.7M664.7 42.8v4.7M672.7 42.8v4.7M669.1 41.8V46.6M664.9 44.2H673.5M666.8 41.8h4.7M666.8 46.6h4.7M664.9 41.8v4.7M673.5 41.8v4.7M669.4 42.2V47M665 44.7H673M667.1 42.2h4.7M667.1 47h4.7M665 42.4v4.7M673 42.4v4.7M669.8 42.3V46.9M665.7 44.5H674M667.4 42.3h4.7M667.4 46.9h4.7M665.7 42.2v4.7M674 42.2v4.7M670.1 42.2V46.9M666 44.5H673.6M667.7 42.2h4.7M667.7 46.9h4.7M666 42.1v4.7M673.6 42.1v4.7M670.4 42.9V46.9M666.7 44.8H674.6M668 42.9h4.7M668 46.9h4.7M666.7 42.5v4.7M674.6 42.5v4.7M670.7 41.9V46.2M667 44.2H674.9M668.3 41.9h4.7M668.3 46.2h4.7M667 41.9v4.7M674.9 41.9v4.7M671 43.1V47.4M667.1 45.1H675.1M668.6 43.1h4.7M668.6 47.4h4.7M667.1 42.7v4.7M675.1 42.7v4.7M671.3 42.1V46.1M666.9 44.1H675.3M668.9 42.1h4.7M668.9 46.1h4.7M666.9 41.7v4.7M675.3 41.7v4.7M671.6 42.7V47M667.2 44.7H675.3M669.2 42.7h4.7M669.2 47h4.7M667.2 42.3v4.7M675.3 42.3v4.7M671.9 42.5V47.3M667.8 44.9H676M669.5 42.5h4.7M669.5 47.3h4.7M667.8 42.5v4.7M676 42.5v4.7M672.2 42V46.4M668.1 44.3H676.3M669.8 42h4.7M669.8 46.4h4.7M668.1 42v4.7M676.3 42v4.7" stroke="#00ffff" stroke-width="0.7" fill="none"/>
<polyline points="401,119 405.2,118.4 411.3,117.6 416.9,116.7 423.4,115.7 429.8,114.7 439.7,112.9 451.1,110.5 459.6,108.2 467.4,106.1 472.9,104.7 478.2,103.4 483,102.2 487.7,101.2 492.5,100.2 496.3,99.5 500.1,98.7 503.9,98 507.6,96.4 511.4,94.9 515.2,93.3 519,91.7 521.3,90.1 523.2,89.9 524.8,88.6 527.8,88.2 529.1,86.6 532.2,85.3 533.2,84.4 536.2,84.4 537.7,82.4 539.6,81.7 541.2,80.3 543.8,80 545,78.6 546.8,77.8 549.1,77.4 550.8,76.8 552,75.8 553.6,74.9 555.5,73.2 557.7,72.6 559.1,72.5 560.2,71.7 561.9,70.8 563.4,70.3 564.9,69.7 566.3,68.5 567.7,68 569,66.9 570.4,67 571.7,66.1 573,65.2 574.3,64.7 575.5,64.9 576.7,64.4 577.9,62.7 579.1,63.3 580.2,62.5 581.4,61.6 582.5,60.7 583.5,61 584.6,60.4 585.6,60 586.7,59.5 587.7,59.4 588.6,59.2 589.6,57.8 590.6,58.2 591.5,57.3 592.4,57.8 593.3,57.2 594.2,57.2 595.1,56 596,55.5 596.8,55.8 597.7,54.9 598.5,55.7 599.3,54.9 600.1,54.3 600.9,53.8 601.7,54.4 602.4,54 603.2,53.4 603.9,52.8 604.6,52.5 605.4,52.4 606.1,52.8 606.8,52 607.4,51.7 608.1,52.2 608.8,52.1 609.4,51.9 610.1,51.3 610.7,51.5 611.3,50.8 611.9,50 612.5,50.3 613.1,49.8 613.7,50.3 614.3,50.1 614.9,49.8 615.5,50 616,50.3 616.6,49.7 617.2,50.3 617.7,49.6 618.3,49.5 618.8,49.9 619.4,49.8 619.9,48.8 620.5,49 621,49.2 621.5,49.3 622,49.2 622.6,48.4 623.1,49.4 623.6,48.6 624.1,48.4 624.6,48.3 625.1,48.2 625.6,47.9 626.1,48.1 626.6,48.7 627.1,48 627.6,48.6 628,47.9 628.5,48.1 629,48.5 629.5,48 629.9,47.7 630.4,47.6 630.8,47.2 631.3,48.1 631.7,47.6 632.2,47.3 632.6,46.9 633.1,47.1 633.5,47.2 633.9,47.2 634.4,47.4 634.8,46.8 635.2,46.7 635.6,47.4 636.1,47.4 636.5,46.9 636.9,46.6 637.3,46.3 637.7,46.2 638.1,46.6 638.5,46.9 638.9,46.4 639.3,47.1 639.7,46.9 640.1,46.2 640.5,46.6 640.9,46.8 641.2,46.1 641.6,46.7 642,46.9 642.4,46.4 642.8,47 643.2,46.3 643.6,46.7 644,46.5 644.3,46.2 644.7,46.2 645.1,45.9 645.5,46 645.9,46.2 646.2,46 646.6,46.5 647,46.2 647.4,46.3 647.7,46.3 648.1,45.7 648.5,45.6 648.8,46.2 649.2,45.7 649.6,45.7 649.9,45.8 650.3,46.1 650.7,45.3 651,45.3 651.4,45.6 651.7,45.9 652.1,46.2 652.5,45.6 652.8,45.4 653.2,46.3 653.5,45.3 653.9,45.9 654.2,45.9 654.6,45.3 654.9,45.5 655.3,45.9 655.6,45.8 656,45.5 656.3,45.3 656.7,45.8 657,45 657.4,45.4 657.7,45.1 658.1,45.1 658.4,45.4 658.7,45.2 659.1,45 659.4,44.8 659.8,45.8 660.1,45.9 660.4,45.2 660.8,45.4 661.1,45.3 661.4,45.7 661.8,45.5 662.1,44.8 662.4,45.2 662.8,45.4 663.1,44.8 663.4,45.3 663.7,45.2 664.1,44.7 664.4,45.2 664.7,44.6 665,44.5 665.3,44.8 665.7,44.7 666,45.1 666.3,44.5 666.6,44.5 666.9,44.9 667.3,44.8 667.6,44.7 667.9,44.5 668.2,45 668.5,45 668.8,45.1 669.1,44.2 669.4,44.7 669.8,44.5 670.1,44.5 670.4,44.8 670.7,44.2 671,45.1 671.3,44.1 671.6,44.7 671.9,44.9 672.2,44.3" stroke="#00ffff" stroke-width="0.7" fill="none"/>
<path d="M399.4 117.4l3.2 3.2m0-3.2l-3.2 3.2M403.6 116.8l3.2 3.2m0-3.2l-3.2 3.2M409.7 116l3.2 3.2m0-3.2l-3.2 3.2M415.3 115.1l3.2 3.2m0-3.2l-3.2 3.2M421.8 114.1l3.2 3.2m0-3.2l-3.2 3.2M428.2 113.1l3.2 3.2m0-3.2l-3.2 3.2M438.1 111.3l3.2 3.2m0-3.2l-3.2 3.2M449.5 108.9l3.2 3.2m0-3.2l-3.2 3.2M458 106.6l3.2 3.2m0-3.2l-3.2 3.2M465.8 104.5l3.2 3.2m0-3.2l-3.2 3.2M471.3 103.1l3.2 3.2m0-3.2l-3.2 3.2M476.6 101.8l3.2 3.2m0-3.2l-3.2 3.2M481.4 100.6l3.2 3.2m0-3.2l-3.2 3.2M486.1 99.6l3.2 3.2m0-3.2l-3.2 3.2M490.9 98.6l3.2 3.2m0-3.2l-3.2 3.2M494.7 97.9l3.2 3.2m0-3.2l-3.2 3.2M498.5 97.1l3.2 3.2m0-3.2l-3.2 3.2M502.3 96.4l3.2 3.2m0-3.2l-3.2 3.2M506 94.8l3.2 3.2m0-3.2l-3.2 3.2M509.8 93.3l3.2 3.2m0-3.2l-3.2 3.2M513.6 91.7l3.2 3.2m0-3.2l-3.2 3.2M517.4 90.1l3.2 3.2m0-3.2l-3.2 3.2M519.7 88.5l3.2 3.2m0-3.2l-3.2 3.2M521.6 88.3l3.2 3.2m0-3.2l-3.2 3.2M523.2 87l3.2 3.2m0-3.2l-3.2 3.2M526.2 86.6l3.2 3.2m0-3.2l-3.2 3.2M527.5 85l3.2 3.2m0-3.2l-3.2 3.2M530.6 83.7l3.2 3.2m0-3.2l-3.2 3.2M531.6 82.8l3.2 3.2m0-3.2l-3.2 3.2M534.6 82.8l3.2 3.2m0-3.2l-3.2 3.2M536.1 80.8l3.2 3.2m0-3.2l-3.2 3.2M538 80.1l3.2 3.2m0-3.2l-3.2 3.2M539.6 78.7l3.2 3.2m0-3.2l-3.2 3.2M542.2 78.4l3.2 3.2m0-3.2l-3.2 3.2M543.4 77l3.2 3.2m0-3.2l-3.2 3.2M545.2 76.2l3.2 3.2m0-3.2l-3.2 3.2M547.5 75.8l3.2 3.2m0-3.2l-3.2 3.2M549.2 75.2l3.2 3.2m0-3.2l-3.2 3.2M550.4 74.2l3.2 3.2m0-3.2l-3.2 3.2M552 73.3l3.2 3.2m0-3.2l-3.2 3.2M553.9 71.6l3.2 3.2m0-3.2l-3.2 3.2M556.1 71l3.2 3.2m0-3.2l-3.2 3.2M557.5 70.9l3.2 3.2m0-3.2l-3.2 3.2M558.6 70.1l3.2 3.2m0-3.2l-3.2 3.2M560.3 69.2l3.2 3.2m0-3.2l-3.2 3.2M561.8 68.7l3.2 3.2m0-3.2l-3.2 3.2M563.3 68.1l3.2 3.2m0-3.2l-3.2 3.2M564.7 66.9l3.2 3.2m0-3.2l-3.2 3.2M566.1 66.4l3.2 3.2m0-3.2l-3.2 3.2M567.4 65.3l3.2 3.2m0-3.2l-3.2 3.2M568.8 65.4l3.2 3.2m0-3.2l-3.2 3.2M570.1 64.5l3.2 3.2m0-3.2l-3.2 3.2M571.4 63.6l3.2 3.2m0-3.2l-3.2 3.2M572.7 63.1l3.2 3.2m0-3.2l-3.2 3.2M573.9 63.3l3.2 3.2m0-3.2l-3.2 3.2M575.1 62.8l3.2 3.2m0-3.2l-3.2 3.2M576.3 61.1l3.2 3.2m0-3.2l-3.2 3.2M577.5 61.7l3.2 3.2m0-3.2l-3.2 3.2M578.6 60.9l3.2 3.2m0-3.2l-3.2 3.2M579.8 60l3.2 3.2m0-3.2l-3.2 3.2M580.9 59.1l3.2 3.2m0-3.2l-3.2 3.2M581.9 59.4l3.2 3.2m0-3.2l-3.2 3.2M583 58.8l3.2 3.2m0-3.2l-3.2 3.2M584 58.4l3.2 3.2m0-3.2l-3.2 3.2M585.1 57.9l3.2 3.2m0-3.2l-3.2 3.2M586.1 57.8l3.2 3.2m0-3.2l-3.2 3.2M587 57.6l3.2 3.2m0-3.2l-3.2 3.2M588 56.2l3.2 3.2m0-3.2l-3.2 3.2M589 56.6l3.2 3.2m0-3.2l-3.2 3.2M589.9 55.7l3.2 3.2m0-3.2l-3.2 3.2M590.8 56.2l3.2 3.2m0-3.2l-3.2 3.2M591.7 55.6l3.2 3.2m0-3.2l-3.2 3.2M592.6 55.6l3.2 3.2m0-3.2l-3.2 3.2M593.5 54.4l3.2 3.2m0-3.2l-3.2 3.2M594.4 53.9l3.2 3.2m0-3.2l-3.2 3.2M595.2 54.2l3.2 3.2m0-3.2l-3.2 3.2M596.1 53.3l3.2 3.2m0-3.2l-3.2 3.2M596.9 54.1l3.2 3.2m0-3.2l-3.2 3.2M597.7 53.3l3.2 3.2m0-3.2l-3.2 3.2M598.5 52.7l3.2 3.2m0-3.2l-3.2 3.2M599.3 52.2l3.2 3.2m0-3.2l-3.2 3.2M600.1 52.8l3.2 3.2m0-3.2l-3.2 3.2M600.8 52.4l3.2 3.2m0-3.2l-3.2 3.2M601.6 51.8l3.2 3.2m0-3.2l-3.2 3.2M602.3 51.2l3.2 3.2m0-3.2l-3.2 3.2M603 50.9l3.2 3.2m0-3.2l-3.2 3.2M603.8 50.8l3.2 3.2m0-3.2l-3.2 3.2M604.5 51.2l3.2 3.2m0-3.2l-3.2 3.2M605.2 50.4l3.2 3.2m0-3.2l-3.2 3.2M605.8 50.1l3.2 3.2m0-3.2l-3.2 3.2M606.5 50.6l3.2 3.2m0-3.2l-3.2 3.2M607.2 50.5l3.2 3.2m0-3.2l-3.2 3.2M607.8 50.3l3.2 3.2m0-3.2l-3.2 3.2M608.5 49.7l3.2 3.2m0-3.2l-3.2 3.2M609.1 49.9l3.2 3.2m0-3.2l-3.2 3.2M609.7 49.2l3.2 3.2m0-3.2l-3.2 3.2M610.3 48.4l3.2 3.2m0-3.2l-3.2 3.2M610.9 48.7l3.2 3.2m0-3.2l-3.2 3.2M611.5 48.2l3.2 3.2m0-3.2l-3.2 3.2M612.1 48.7l3.2 3.2m0-3.2l-3.2 3.2M612.7 48.5l3.2 3.2m0-3.2l-3.2 3.2M613.3 48.2l3.2 3.2m0-3.2l-3.2 3.2M613.9 48.4l3.2 3.2m0-3.2l-3.2 3.2M614.4 48.7l3.2 3.2m0-3.2l-3.2 3.2M615 48.1l3.2 3.2m0-3.2l-3.2 3.2M615.6 48.7l3.2 3.2m0-3.2l-3.2 3.2M616.1 48l3.2 3.2m0-3.2l-3.2 3.2M616.7 47.9l3.2 3.2m0-3.2l-3.2 3.2M617.2 48.3l3.2 3.2m0-3.2l-3.2 3.2M617.8 48.2l3.2 3.2m0-3.2l-3.2 3.2M618.3 47.2l3.2 3.2m0-3.2l-3.2 3.2M618.9 47.4l3.2 3.2m0-3.2l-3.2 3.2M619.4 47.6l3.2 3.2m0-3.2l-3.2 3.2M619.9 47.7l3.2 3.2m0-3.2l-3.2 3.2M620.4 47.6l3.2 3.2m0-3.2l-3.2 3.2M621 46.8l3.2 3.2m0-3.2l-3.2 3.2M621.5 47.8l3.2 3.2m0-3.2l-3.2 3.2M622 47l3.2 3.2m0-3.2l-3.2 3.2M622.5 46.8l3.2 3.2m0-3.2l-3.2 3.2M623 46.7l3.2 3.2m0-3.2l-3.2 3.2M623.5 46.6l3.2 3.2m0-3.2l-3.2 3.2M624 46.3l3.2 3.2m0-3.2l-3.2 3.2M624.5 46.5l3.2 3.2m0-3.2l-3.2 3.2M625 47.1l3.2 3.2m0-3.2l-3.2 3.2M625.5 46.4l3.2 3.2m0-3.2l-3.2 3.2M626 47l3.2 3.2m0-3.2l-3.2 3.2M626.4 46.3l3.2 3.2m0-3.2l-3.2 3.2M626.9 46.5l3.2 3.2m0-3.2l-3.2 3.2M627.4 46.9l3.2 3.2m0-3.2l-3.2 3.2M627.9 46.4l3.2 3.2m0-3.2l-3.2 3.2M628.3 46.1l3.2 3.2m0-3.2l-3.2 3.2M628.8 46l3.2 3.2m0-3.2l-3.2 3.2M629.2 45.6l3.2 3.2m0-3.2l-3.2 3.2M629.7 46.5l3.2 3.2m0-3.2l-3.2 3.2M630.1 46l3.2 3.2m0-3.2l-3.2 3.2M630.6 45.7l3.2 3.2m0-3.2l-3.2 3.2M631 45.3l3.2 3.2m0-3.2l-3.2 3.2M631.5 45.5l3.2 3.2m0-3.2l-3.2 3.2M631.9 45.6l3.2 3.2m0-3.2l-3.2 3.2M632.3 45.6l3.2 3.2m0-3.2l-3.2 3.2M632.8 45.8l3.2 3.2m0-3.2l-3.2 3.2M633.2 45.2l3.2 3.2m0-3.2l-3.2 3.2M633.6 45.1l3.2 3.2m0-3.2l-3.2 3.2M634 45.8l3.2 3.2m0-3.2l-3.2 3.2M634.5 45.8l3.2 3.2m0-3.2l-3.2 3.2M634.9 45.3l3.2 3.2m0-3.2l-3.2 3.2M635.3 45l3.2 3.2m0-3.2l-3.2 3.2M635.7 44.7l3.2 3.2m0-3.2l-3.2 3.2M636.1 44.6l3.2 3.2m0-3.2l-3.2 3.2M636.5 45l3.2 3.2m0-3.2l-3.2 3.2M636.9 45.3l3.2 3.2m0-3.2l-3.2 3.2M637.3 44.8l3.2 3.2m0-3.2l-3.2 3.2M637.7 45.5l3.2 3.2m0-3.2l-3.2 3.2M638.1 45.3l3.2 3.2m0-3.2l-3.2 3.2M638.5 44.6l3.2 3.2m0-3.2l-3.2 3.2M638.9 45l3.2 3.2m0-3.2l-3.2 3.2M639.3 45.2l3.2 3.2m0-3.2l-3.2 3.2M639.6 44.5l3.2 3.2m0-3.2l-3.2 3.2M640 45.1l3.2 3.2m0-3.2l-3.2 3.2M640.4 45.3l3.2 3.2m0-3.2l-3.2 3.2M640.8 44.8l3.2 3.2m0-3.2l-3.2 3.2M641.2 45.4l3.2 3.2m0-3.2l-3.2 3.2M641.6 44.7l3.2 3.2m0-3.2l-3.2 3.2M642 45.1l3.2 3.2m0-3.2l-3.2 3.2M642.4 44.9l3.2 3.2m0-3.2l-3.2 3.2M642.7 44.6l3.2 3.2m0-3.2l-3.2 3.2M643.1 44.6l3.2 3.2m0-3.2l-3.2 3.2M643.5 44.3l3.2 3.2m0-3.2l-3.2 3.2M643.9 44.4l3.2 3.2m0-3.2l-3.2 3.2M644.3 44.6l3.2 3.2m0-3.2l-3.2 3.2M644.6 44.4l3.2 3.2m0-3.2l-3.2 3.2M645 44.9l3.2 3.2m0-3.2l-3.2 3.2M645.4 44.6l3.2 3.2m0-3.2l-3.2 3.2M645.8 44.7l3.2 3.2m0-3.2l-3.2 3.2M646.1 44.7l3.2 3.2m0-3.2l-3.2 3.2M646.5 44.1l3.2 3.2m0-3.2l-3.2 3.2M646.9 44l3.2 3.2m0-3.2l-3.2 3.2M647.2 44.6l3.2 3.2m0-3.2l-3.2 3.2M647.6 44.1l3.2 3.2m0-3.2l-3.2 3.2M648 44.1l3.2 3.2m0-3.2l-3.2 3.2M648.3 44.2l3.2 3.2m0-3.2l-3.2 3.2M648.7 44.5l3.2 3.2m0-3.2l-3.2 3.2M649.1 43.7l3.2 3.2m0-3.2l-3.2 3.2M649.4 43.7l3.2 3.2m0-3.2l-3.2 3.2M649.8 44l3.2 3.2m0-3.2l-3.2 3.2M650.1 44.3l3.2 3.2m0-3.2l-3.2 3.2M650.5 44.6l3.2 3.2m0-3.2l-3.2 3.2M650.9 44l3.2 3.2m0-3.2l-3.2 3.2M651.2 43.8l3.2 3.2m0-3.2l-3.2 3.2M651.6 44.7l3.2 3.2m0-3.2l-3.2 3.2M651.9 43.7l3.2 3.2m0-3.2l-3.2 3.2M652.3 44.3l3.2 3.2m0-3.2l-3.2 3.2M652.6 44.3l3.2 3.2m0-3.2l-3.2 3.2M653 43.7l3.2 3.2m0-3.2l-3.2 3.2M653.3 43.9l3.2 3.2m0-3.2l-3.2 3.2M653.7 44.3l3.2 3.2m0-3.2l-3.2 3.2M654 44.2l3.2 3.2m0-3.2l-3.2 3.2M654.4 43.9l3.2 3.2m0-3.2l-3.2 3.2M654.7 43.7l3.2 3.2m0-3.2l-3.2 3.2M655.1 44.2l3.2 3.2m0-3.2l-3.2 3.2M655.4 43.4l3.2 3.2m0-3.2l-3.2 3.2M655.8 43.8l3.2 3.2m0-3.2l-3.2 3.2M656.1 43.5l3.2 3.2m0-3.2l-3.2 3.2M656.5 43.5l3.2 3.2m0-3.2l-3.2 3.2M656.8 43.8l3.2 3.2m0-3.2l-3.2 3.2M657.1 43.6l3.2 3.2m0-3.2l-3.2 3.2M657.5 43.4l3.2 3.2m0-3.2l-3.2 3.2M657.8 43.2l3.2 3.2m0-3.2l-3.2 3.2M658.2 44.2l3.2 3.2m0-3.2l-3.2 3.2M658.5 44.3l3.2 3.2m0-3.2l-3.2 3.2M658.8 43.6l3.2 3.2m0-3.2l-3.2 3.2M659.2 43.8l3.2 3.2m0-3.2l-3.2 3.2M659.5 43.7l3.2 3.2m0-3.2l-3.2 3.2M659.8 44.1l3.2 3.2m0-3.2l-3.2 3.2M660.2 43.9l3.2 3.2m0-3.2l-3.2 3.2M660.5 43.2l3.2 3.2m0-3.2l-3.2 3.2M660.8 43.6l3.2 3.2m0-3.2l-3.2 3.2M661.2 43.8l3.2 3.2m0-3.2l-3.2 3.2M661.5 43.2l3.2 3.2m0-3.2l-3.2 3.2M661.8 43.7l3.2 3.2m0-3.2l-3.2 3.2M662.1 43.6l3.2 3.2m0-3.2l-3.2 3.2M662.5 43.1l3.2 3.2m0-3.2l-3.2 3.2M662.8 43.6l3.2 3.2m0-3.2l-3.2 3.2M663.1 43l3.2 3.2m0-3.2l-3.2 3.2M663.4 42.9l3.2 3.2m0-3.2l-3.2 3.2M663.7 43.2l3.2 3.2m0-3.2l-3.2 3.2M664.1 43.1l3.2 3.2m0-3.2l-3.2 3.2M664.4 43.5l3.2 3.2m0-3.2l-3.2 3.2M664.7 42.9l3.2 3.2m0-3.2l-3.2 3.2M665 42.9l3.2 3.2m0-3.2l-3.2 3.2M665.3 43.3l3.2 3.2m0-3.2l-3.2 3.2M665.7 43.2l3.2 3.2m0-3.2l-3.2 3.2M666 43.1l3.2 3.2m0-3.2l-3.2 3.2M666.3 42.9l3.2 3.2m0-3.2l-3.2 3.2M666.6 43.4l3.2 3.2m0-3.2l-3.2 3.2M666.9 43.4l3.2 3.2m0-3.2l-3.2 3.2M667.2 43.5l3.2 3.2m0-3.2l-3.2 3.2M667.5 42.6l3.2 3.2m0-3.2l-3.2 3.2M667.8 43.1l3.2 3.2m0-3.2l-3.2 3.2M668.2 42.9l3.2 3.2m0-3.2l-3.2 3.2M668.5 42.9l3.2 3.2m0-3.2l-3.2 3.2M668.8 43.2l3.2 3.2m0-3.2l-3.2 3.2M669.1 42.6l3.2 3.2m0-3.2l-3.2 3.2M669.4 43.5l3.2 3.2m0-3.2l-3.2 3.2M669.7 42.5l3.2 3.2m0-3.2l-3.2 3.2M670 43.1l3.2 3.2m0-3.2l-3.2 3.2M670.3 43.3l3.2 3.2m0-3.2l-3.2 3.2M670.6 42.7l3.2 3.2m0-3.2l-3.2 3.2" stroke="#00ffff" stroke-width="0.7" fill="none"/>
<path d="M45.1 628.4h4.7M45.1 638.2h4.7M44.3 630.7v4.7M51 630.7v4.7M46.4 626.7h4.7M46.4 638.5h4.7M44.8 630.1v4.7M52.4 630.1v4.7M47.7 627.6h4.7M47.7 637.2h4.7M46.5 629.9v4.7M54.4 629.9v4.7M49 626.8h4.7M49 637.7h4.7M47.3 629.7v4.7M55.1 629.7v4.7M50.3 624.5h4.7M50.3 636.8h4.7M48.5 628.1v4.7M56.1 628.1v4.7M51.6 623.7h4.7M51.6 635.7h4.7M49.5 627.4v4.7M58.2 627.4v4.7M52.9 623h4.7M52.9 635.1h4.7M51.3 626.9v4.7M58.9 626.9v4.7M54.2 623.9h4.7M54.2 636.3h4.7M51.4 627.1v4.7M61 627.1v4.7M55.5 621h4.7M55.5 634.3h4.7M53.8 625.4v4.7M63.1 625.4v4.7M56.8 621.1h4.7M56.8 635.4h4.7M53.5 625.7v4.7M63.8 625.7v4.7M58.1 620h4.7M58.1 634.1h4.7M54.6 624.9v4.7M65.6 624.9v4.7M59.2 619.7h4.7M59.2 633.6h4.7M56.6 624v4.7M67.9 624v4.7M63.6 610.9h4.7M63.6 627.3h4.7M58.4 617.9v4.7M72.7 617.9v4.7M68.6 605.9h4.7M68.6 624.2h4.7M61.2 611.6v4.7M79.5 611.6v4.7M71.7 601.3h4.7M71.7 619.8h4.7M64.9 607.2v4.7M83.9 607.2v4.7M75.4 592h4.7M75.4 613.3h4.7M66.8 601.6v4.7M87.8 601.6v4.7M79.5 588.3h4.7M79.5 609.1h4.7M73.2 596.4v4.7M91.7 596.4v4.7M85.9 579.7h4.7M85.9 602.6h4.7M79 587.8v4.7M99.9 587.8v4.7M95.6 567.2h4.7M95.6 591.8h4.7M87.7 578.4v4.7M110.7 578.4v4.7M104.8 555h4.7M104.8 582.5h4.7M95.1 568.5v4.7M119.9 568.5v4.7M113 544h4.7M113 572.8h4.7M104 556.4v4.7M128.5 556.4v4.7M120.6 536.9h4.7M120.6 563.9h4.7M109.5 547.4v4.7M135.8 547.4v4.7M128.6 526.1h4.7M128.6 551.3h4.7M119.3 537.2v4.7M141.4 537.2v4.7M135.8 518.7h4.7M135.8 545.5h4.7M127.7 528.8v4.7M150.2 528.8v4.7M141.5 509.6h4.7M141.5 535.8h4.7M131.1 521.4v4.7M157.5 521.4v4.7M146.8 505.7h4.7M146.8 529.5h4.7M138.4 514.5v4.7M159.7 514.5v4.7M151.3 496.6h4.7M151.3 523.6h4.7M141.5 507.5v4.7M165.6 507.5v4.7M157.1 487.5h4.7M157.1 514h4.7M148.4 499.2v4.7M169.5 499.2v4.7M163.3 482.6h4.7M163.3 508h4.7M154.6 492.2v4.7M177.6 492.2v4.7M168.8 478h4.7M168.8 499.3h4.7M159.4 486v4.7M182.1 486v4.7M173.7 469h4.7M173.7 495.6h4.7M163 479.4v4.7M188.8 479.4v4.7M178.2 465.2h4.7M178.2 487.6h4.7M171.4 474.2v4.7M193.4 474.2v4.7M182.7 460.3h4.7M182.7 482.1h4.7M174 469.1v4.7M193.9 469.1v4.7M185.8 454.7h4.7M185.8 478.4h4.7M178.5 464.8v4.7M197.1 464.8v4.7M189.2 452.6h4.7M189.2 473.5h4.7M181.8 460.1v4.7M200.1 460.1v4.7M192.6 447.4h4.7M192.6 469.9h4.7M186.3 456v4.7M203.9 456v4.7M196.2 444.1h4.7M196.2 464.2h4.7M189.7 451.3v4.7M208.8 451.3v4.7M199.5 441.5h4.7M199.5 460.3h4.7M192.9 447.5v4.7M210.5 447.5v4.7M202.3 436h4.7M202.3 456.2h4.7M196 444v4.7M212.7 444v4.7M205.8 432.6h4.7M205.8 451.3h4.7M200 439.9v4.7M216.1 439.9v4.7M209.3 428.7h4.7M209.3 448.1h4.7M203.8 435.8v4.7M221.2 435.8v4.7M212.2 425.2h4.7M212.2 443.4h4.7M207.1 432.3v4.7M222.8 432.3v4.7M214 425.4h4.7M214 442h4.7M207.9 430.6v4.7M224.8 430.6v4.7M215.8 422.6h4.7M215.8 438.7h4.7M211.2 428.8v4.7M225.9 428.8v4.7M217.4 421.4h4.7M217.4 438.5h4.7M211.8 427.2v4.7M226.4 427.2v4.7M219.1 418.5h4.7M219.1 436.4h4.7M213.3 425.5v4.7M228 425.5v4.7M220.6 419.2h4.7M220.6 433.9h4.7M215.8 424v4.7M229.2 424v4.7M222.1 417.9h4.7M222.1 432.3h4.7M218.3 422.5v4.7M230.3 422.5v4.7M223.6 415.5h4.7M223.6 431h4.7M219.7 421v4.7M233.5 421v4.7M225.1 414.2h4.7M225.1 428.6h4.7M221 419.6v4.7M234.6 419.6v4.7M226.4 413.6h4.7M226.4 428.1h4.7M222.6 418.3v4.7M235.4 418.3v4.7M227.8 413h4.7M227.8 426h4.7M224.3 417v4.7M234.9 417v4.7M229.1 412.2h4.7M229.1 426h4.7M225.5 415.7v4.7M236.9 415.7v4.7M230.4 411.1h4.7M230.4 424h4.7M226.7 414.5v4.7M239 414.5v4.7M231.6 408.7h4.7M231.6 421.7h4.7M228.9 413.4v4.7M239.7 413.4v4.7M232.8 408.7h4.7M232.8 420.3h4.7M229.4 412.3v4.7M241 412.3v4.7M233.9 408.3h4.7M233.9 419.2h4.7M230.7 411.5v4.7M241.3 411.5v4.7M235 407.1h4.7M235 418.8h4.7M233.2 410.7v4.7M242.4 410.7v4.7M236.1 406.6h4.7M236.1 417.9h4.7M233.8 409.9v4.7M243.1 409.9v4.7M237.2 405.6h4.7M237.2 417.1h4.7M235.1 409.2v4.7M244.8 409.2v4.7M238.2 405.4h4.7M238.2 416.9h4.7M236 408.5v4.7M246 408.5v4.7M239.2 405.4h4.7M239.2 416h4.7M236.7 407.8v4.7M246.3 407.8v4.7M240.1 404h4.7M240.1 415.2h4.7M238 407.1v4.7M246.8 407.1v4.7M241.1 404.2h4.7M241.1 413.3h4.7M237.8 406.4v4.7M249 406.4v4.7M242 403.8h4.7M242 413.1h4.7M240.2 405.7v4.7M249.8 405.7v4.7M242.9 402.3h4.7M242.9 412h4.7M240.5 405.1v4.7M249.1 405.1v4.7M243.7 401h4.7M243.7 412.4h4.7M241.3 404.4v4.7M250.7 404.4v4.7M244.6 400.8h4.7M244.6 409.8h4.7M242.7 403.7v4.7M251.1 403.7v4.7M245.4 401.3h4.7M245.4 410.9h4.7M243.3 403.1v4.7M252.4 403.1v4.7M246.2 400.4h4.7M246.2 409h4.7M244.5 402.5v4.7M253.2 402.5v4.7M247 399.3h4.7M247 408.5h4.7M245.1 401.8v4.7M254 401.8v4.7M247.8 399.5h4.7M247.8 408.4h4.7M245 401.3v4.7M254.4 401.3v4.7M248.5 399.3h4.7M248.5 407.5h4.7M247.2 401v4.7M255.3 401v4.7M249.2 398.6h4.7M249.2 407h4.7M247.7 400.8v4.7M256.3 400.8v4.7M250 399.4h4.7M250 406.1h4.7M248.2 400.5v4.7M257.2 400.5v4.7M250.6 399h4.7M250.6 406.5h4.7M248.6 400.3v4.7M256.8 400.3v4.7M251.3 398.7h4.7M251.3 405.7h4.7M249.4 400.1v4.7M258.2 400.1v4.7M252 398.3h4.7M252 405.8h4.7M249.5 399.8v4.7M257.8 399.8v4.7M252.6 398.6h4.7M252.6 405h4.7M251.1 399.6v4.7M258.8 399.6v4.7M253.2 398.2h4.7M253.2 405h4.7M252.1 399.4v4.7M260 399.4v4.7M253.9 397.5h4.7M253.9 405h4.7M251.6 399.2v4.7M260.7 399.2v4.7M254.5 397.7h4.7M254.5 405.3h4.7M252.2 399v4.7M261.1 399v4.7M255 397.1h4.7M255 404.6h4.7M253.3 398.8v4.7M261.3 398.8v4.7M255.6 397.8h4.7M255.6 404.4h4.7M254.1 398.6v4.7M262.4 398.6v4.7M256.2 397.9h4.7M256.2 404.2h4.7M254.7 398.4v4.7M263 398.4v4.7M256.7 397.2h4.7M256.7 403.6h4.7M255.5 398.2v4.7M262.5 398.2v4.7M257.2 397h4.7M257.2 403.7h4.7M255.5 398v4.7M263.3 398v4.7M257.7 397h4.7M257.7 403.7h4.7M256 397.8v4.7M263.7 397.8v4.7M258.2 396.7h4.7M258.2 403.1h4.7M256.5 397.6v4.7M264 397.6v4.7M258.7 396.5h4.7M258.7 403.3h4.7M256.8 397.5v4.7M265 397.5v4.7M259.2 396.4h4.7M259.2 402.4h4.7M257.3 397.3v4.7M265.9 397.3v4.7M259.7 396.6h4.7M259.7 402.8h4.7M258.6 397.1v4.7M266 397.1v4.7M260.2 396.7h4.7M260.2 403h4.7M258.4 397v4.7M266.7 397v4.7M260.7 396.2h4.7M260.7 402.5h4.7M259.2 396.9v4.7M266.5 396.9v4.7M261.2 395.8h4.7M261.2 402.4h4.7M259.8 396.8v4.7M267.7 396.8v4.7M261.7 395.6h4.7M261.7 401.6h4.7M259.9 396.7v4.7M267.6 396.7v4.7M262.2 396.4h4.7M262.2 401.7h4.7M260.7 396.6v4.7M268.3 396.6v4.7M262.7 395.8h4.7M262.7 401.9h4.7M260.3 396.5v4.7M269.2 396.5v4.7M263.2 396.2h4.7M263.2 401.8h4.7M261.9 396.4v4.7M269.1 396.4v4.7M263.7 395.7h4.7M263.7 401.1h4.7M261.4 396.3v4.7M270.4 396.3v4.7M264.2 396.2h4.7M264.2 401.4h4.7M263 396.2v4.7M271.3 396.2v4.7M264.7 395.6h4.7M264.7 401.3h4.7M263.6 396.1v4.7M271.1 396.1v4.7M265.2 396h4.7M265.2 401.3h4.7M263.7 396v4.7M271.2 396v4.7M265.7 395.6h4.7M265.7 400.9h4.7M264.8 395.9v4.7M271.3 395.9v4.7M266.2 395.8h4.7M266.2 400.9h4.7M264.2 395.8v4.7M271.8 395.8v4.7M266.7 395.3h4.7M266.7 400.6h4.7M264.8 395.7v4.7M272.9 395.7v4.7M267.2 395.5h4.7M267.2 400.4h4.7M266 395.6v4.7M273.5 395.6v4.7M267.6 395.2h4.7M267.6 400.7h4.7M266.7 395.6v4.7M273.8 395.6v4.7M268.1 395.6h4.7M268.1 400.3h4.7M266.8 395.5v4.7M274.2 395.5v4.7M268.6 395.4h4.7M268.6 400.4h4.7M266.6 395.4v4.7M275.1 395.4v4.7M269.1 394.9h4.7M269.1 400.6h4.7M267.1 395.3v4.7M275.4 395.3v4.7M269.6 394.7h4.7M269.6 400.1h4.7M268.6 395.2v4.7M276.1 395.2v4.7M270.1 394.7h4.7M270.1 400h4.7M268.6 395.1v4.7M276.7 395.1v4.7M270.6 394.8h4.7M270.6 399.5h4.7M269.2 395v4.7M276.7 395v4.7M271.1 394.6h4.7M271.1 399.5h4.7M269.9 394.9v4.7M277 394.9v4.7M271.6 395h4.7M271.6 399.2h4.7M270.5 394.8v4.7M277.7 394.8v4.7M272.1 394.9h4.7M272.1 399.1h4.7M271.2 394.7v4.7M278.1 394.7v4.7M272.5 394.9h4.7M272.5 398.9h4.7M271.4 394.6v4.7M278.5 394.6v4.7M273 395h4.7M273 399.2h4.7M272 394.5v4.7M278.8 394.5v4.7M273.5 394.6h4.7M273.5 398.8h4.7M271.8 394.5v4.7M280.2 394.5v4.7M274 395h4.7M274 398.8h4.7M272.3 394.4v4.7M280 394.4v4.7M274.5 394.7h4.7M274.5 398.8h4.7M272.9 394.4v4.7M281 394.4v4.7M275 394.6h4.7M275 398.8h4.7M273.3 394.4v4.7M280.6 394.4v4.7M275.5 394.4h4.7M275.5 398.8h4.7M274.2 394.3v4.7M282 394.3v4.7M275.9 394.6h4.7M275.9 398.9h4.7M274.3 394.3v4.7M281.9 394.3v4.7M276.4 394.2h4.7M276.4 398.7h4.7M274.7 394.3v4.7M282.4 394.3v4.7M276.9 394.7h4.7M276.9 399h4.7M275.8 394.2v4.7M282.8 394.2v4.7M277.4 394.4h4.7M277.4 398.5h4.7M276.3 394.2v4.7M283.5 394.2v4.7M277.9 394.5h4.7M277.9 398.8h4.7M276.2 394.2v4.7M283.7 394.2v4.7M278.4 394.7h4.7M278.4 398.3h4.7M277.3 394.1v4.7M284.8 394.1v4.7M278.9 393.9h4.7M278.9 398.7h4.7M277.1 394.1v4.7M285.1 394.1v4.7M279.3 394.5h4.7M279.3 398.5h4.7M277.4 394v4.7M284.8 394v4.7M279.8 394.5h4.7M279.8 398.1h4.7M278.8 394v4.7M285.8 394v4.7M280.3 394.2h4.7M280.3 398.2h4.7M278.7 394v4.7M286.1 394v4.7M280.8 394.1h4.7M280.8 398.7h4.7M279.3 393.9v4.7M287 393.9v4.7M281.3 393.9h4.7M281.3 398.6h4.7M280 393.9v4.7M287 393.9v4.7M281.7 394.4h4.7M281.7 398.7h4.7M280.4 393.9v4.7M288.2 393.9v4.7M282.2 394h4.7M282.2 398.2h4.7M280.6 393.8v4.7M288.2 393.8v4.7M282.7 393.9h4.7M282.7 398.6h4.7M281.2 393.8v4.7M288.7 393.8v4.7M283.2 393.9h4.7M283.2 398.7h4.7M281.8 393.7v4.7M288.8 393.7v4.7M283.7 393.9h4.7M283.7 398.1h4.7M282.3 393.7v4.7M289.8 393.7v4.7M284.1 394.1h4.7M284.1 398.3h4.7M282.8 393.7v4.7M290.6 393.7v4.7M284.6 394.1h4.7M284.6 398.3h4.7M282.6 393.6v4.7M290.9 393.6v4.7M285.1 393.7h4.7M285.1 398.2h4.7M284.1 393.6v4.7M291.3 393.6v4.7M285.6 393.5h4.7M285.6 397.8h4.7M284.1 393.6v4.7M291.8 393.6v4.7M286 394.1h4.7M286 398h4.7M284.7 393.5v4.7M291.5 393.5v4.7M286.5 393.9h4.7M286.5 398.1h4.7M285.4 393.5v4.7M292.9 393.5v4.7M287 393.7h4.7M287 397.8h4.7M285.5 393.5v4.7M292.4 393.5v4.7M287.5 394h4.7M287.5 397.8h4.7M285.8 393.4v4.7M294 393.4v4.7M287.9 393.3h4.7M287.9 397.9h4.7M287.1 393.4v4.7M294.4 393.4v4.7M288.4 393.6h4.7M288.4 397.8h4.7M287.1 393.3v4.7M295 393.3v4.7M288.9 393.7h4.7M288.9 397.5h4.7M287.1 393.3v4.7M295 393.3v4.7M289.4 393.6h4.7M289.4 397.9h4.7M288.2 393.3v4.7M295.1 393.3v4.7M289.8 393.5h4.7M289.8 397.6h4.7M288.4 393.2v4.7M295.4 393.2v4.7M290.3 393.2h4.7M290.3 397.9h4.7M289.1 393.2v4.7M296.2 393.2v4.7M290.8 393.6h4.7M290.8 397.6h4.7M289.7 393.2v4.7M297 393.2v4.7M291.3 393.1h4.7M291.3 397.5h4.7M290.5 393.1v4.7M297.3 393.1v4.7M291.7 393.6h4.7M291.7 397.6h4.7M290.4 393.1v4.7M298.2 393.1v4.7M292.2 393.4h4.7M292.2 397.6h4.7M290.9 393.1v4.7M298.4 393.1v4.7M292.7 393.3h4.7M292.7 397.5h4.7M291 393v4.7M299 393v4.7M293.2 393.1h4.7M293.2 397.3h4.7M291.9 393v4.7M299.3 393v4.7M293.6 393.3h4.7M293.6 397.6h4.7M292.5 393v4.7M299.2 393v4.7M294.1 393.1h4.7M294.1 397.5h4.7M292.6 392.9v4.7M299.8 392.9v4.7M294.6 392.9h4.7M294.6 397.5h4.7M293.3 392.9v4.7M300.2 392.9v4.7M295 393.6h4.7M295 397.3h4.7M293.6 392.9v4.7M300.6 392.9v4.7M295.5 392.9h4.7M295.5 397.4h4.7M293.3 392.9v4.7M301.1 392.9v4.7M296 392.8h4.7M296 397.6h4.7M294.9 392.9v4.7M301.7 392.9v4.7M296.4 393.4h4.7M296.4 397.2h4.7M295 392.9v4.7M303.3 392.9v4.7M296.9 392.8h4.7M296.9 397.2h4.7M295.4 392.9v4.7M303.1 392.9v4.7M297.4 393.4h4.7M297.4 397.4h4.7M296.2 392.9v4.7M303.3 392.9v4.7M297.8 393h4.7M297.8 397.1h4.7M296.2 392.9v4.7M304.1 392.9v4.7M298.3 393.4h4.7M298.3 397.1h4.7M297.2 392.9v4.7M304.1 392.9v4.7M298.8 393.2h4.7M298.8 397.4h4.7M297.1 392.9v4.7M305.1 392.9v4.7M299.2 393.4h4.7M299.2 397.2h4.7M297.7 392.9v4.7M305.4 392.9v4.7M299.7 392.9h4.7M299.7 397.6h4.7M298.5 392.9v4.7M306 392.9v4.7M300.2 393.2h4.7M300.2 397.5h4.7M298.2 392.9v4.7M306.2 392.9v4.7M300.6 393.5h4.7M300.6 397.4h4.7M299 392.9v4.7M307.2 392.9v4.7M301.1 393.4h4.7M301.1 396.9h4.7M299.8 392.9v4.7M307.8 392.9v4.7M301.6 393.1h4.7M301.6 397.3h4.7M300.5 392.9v4.7M307.4 392.9v4.7M302 393.1h4.7M302 397.2h4.7M301.2 392.8v4.7M308.1 392.8v4.7M302.5 393.5h4.7M302.5 397.1h4.7M301.3 392.8v4.7M308.5 392.8v4.7M303 393.2h4.7M303 397.7h4.7M301.3 392.8v4.7M309.2 392.8v4.7M303.4 393.1h4.7M303.4 397.2h4.7M302.6 392.8v4.7M309.1 392.8v4.7M303.9 393.2h4.7M303.9 397.1h4.7M302.4 392.8v4.7M310.3 392.8v4.7M304.3 392.8h4.7M304.3 397.3h4.7M302.9 392.8v4.7M310.6 392.8v4.7M304.8 392.7h4.7M304.8 397.6h4.7M303.4 392.8v4.7M311.2 392.8v4.7M305.3 392.9h4.7M305.3 397.6h4.7M303.6 392.8v4.7M311.5 392.8v4.7M305.7 392.8h4.7M305.7 397.1h4.7M304.6 392.8v4.7M312.7 392.8v4.7M306.2 393.1h4.7M306.2 397.3h4.7M304.6 392.8v4.7M311.8 392.8v4.7M306.6 393h4.7M306.6 397.4h4.7M305.5 392.8v4.7M312.3 392.8v4.7M307.1 393.2h4.7M307.1 397h4.7M305.2 392.8v4.7M313.1 392.8v4.7M307.6 392.9h4.7M307.6 397.6h4.7M306.7 392.8v4.7M313.8 392.8v4.7M308 393.4h4.7M308 397.2h4.7M306.9 392.8v4.7M314 392.8v4.7M308.5 393.3h4.7M308.5 397h4.7M306.7 392.8v4.7M314.7 392.8v4.7M308.9 392.8h4.7M308.9 397.6h4.7M307.5 392.8v4.7M314.5 392.8v4.7M309.4 392.7h4.7M309.4 397.2h4.7M308 392.8v4.7M315.1 392.8v4.7M309.9 392.9h4.7M309.9 397.1h4.7M307.6 392.8v4.7M315.5 392.8v4.7M310.3 393.1h4.7M310.3 397.2h4.7M308.4 392.7v4.7M316.9 392.7v4.7M310.8 393h4.7M310.8 397h4.7M309.2 392.7v4.7M316.9 392.7v4.7M311.2 393.3h4.7M311.2 397.2h4.7M310 392.7v4.7M317 392.7v4.7M311.7 392.8h4.7M311.7 397.3h4.7M310.2 392.7v4.7M318 392.7v4.7M312.1 393.3h4.7M312.1 397.1h4.7M310.9 392.7v4.7M318.5 392.7v4.7M312.6 393.2h4.7M312.6 397h4.7M310.9 392.7v4.7M319.1 392.7v4.7M313 393.1h4.7M313 397.1h4.7M311.4 392.7v4.7M319.5 392.7v4.7M313.5 393.2h4.7M313.5 396.8h4.7M312.4 392.7v4.7M319.8 392.7v4.7M313.9 392.7h4.7M313.9 397h4.7M312.1 392.7v4.7M319.7 392.7v4.7M314.4 393.1h4.7M314.4 396.9h4.7M313 392.7v4.7M320.6 392.7v4.7M314.9 393.2h4.7M314.9 397.4h4.7M312.8 392.7v4.7M320.8 392.7v4.7M315.3 393h4.7M315.3 397.3h4.7M314.1 392.7v4.7M321.1 392.7v4.7M315.8 392.7h4.7M315.8 396.8h4.7M314.1 392.7v4.7M321.6 392.7v4.7M316.2 393.2h4.7M316.2 397.1h4.7M314.7 392.7v4.7M322.3 392.7v4.7M316.7 393.1h4.7M316.7 396.9h4.7M315 392.7v4.7M322.4 392.7v4.7M317.1 393h4.7M317.1 397.3h4.7M315.3 392.7v4.7M322.9 392.7v4.7M317.6 393.2h4.7M317.6 397.1h4.7M315.5 392.7v4.7M324.1 392.7v4.7M318 393h4.7M318 396.9h4.7M316.6 392.7v4.7M324.6 392.7v4.7" stroke="#9932cc" stroke-width="0.7" fill="none"/>
<path d="M45.8 633a1.7 1.7 0 1 0 3.4 0a1.7 1.7 0 1 0-3.4 0M47.1 632.5a1.7 1.7 0 1 0 3.4 0a1.7 1.7 0 1 0-3.4 0M48.4 632.3a1.7 1.7 0 1 0 3.4 0a1.7 1.7 0 1 0-3.4 0M49.7 632a1.7 1.7 0 1 0 3.4 0a1.7 1.7 0 1 0-3.4 0M51 630.5a1.7 1.7 0 1 0 3.4 0a1.7 1.7 0 1 0-3.4 0M52.3 629.8a1.7 1.7 0 1 0 3.4 0a1.7 1.7 0 1 0-3.4 0M53.6 629.3a1.7 1.7 0 1 0 3.4 0a1.7 1.7 0 1 0-3.4 0M54.9 629.4a1.7 1.7 0 1 0 3.4 0a1.7 1.7 0 1 0-3.4 0M56.2 627.8a1.7 1.7 0 1 0 3.4 0a1.7 1.7 0 1 0-3.4 0M57.5 628a1.7 1.7 0 1 0 3.4 0a1.7 1.7 0 1 0-3.4 0M58.8 627.2a1.7 1.7 0 1 0 3.4 0a1.7 1.7 0 1 0-3.4 0M59.9 626.4a1.7 1.7 0 1 0 3.4 0a1.7 1.7 0 1 0-3.4 0M64.2 620.2a1.7 1.7 0 1 0 3.4 0a1.7 1.7 0 1 0-3.4 0M69.2 614a1.7 1.7 0 1 0 3.4 0a1.7 1.7 0 1 0-3.4 0M72.3 609.6a1.7 1.7 0 1 0 3.4 0a1.7 1.7 0 1 0-3.4 0M76 604a1.7 1.7 0 1 0 3.4 0a1.7 1.7 0 1 0-3.4 0M80.1 598.7a1.7 1.7 0 1 0 3.4 0a1.7 1.7 0 1 0-3.4 0M86.5 590.1a1.7 1.7 0 1 0 3.4 0a1.7 1.7 0 1 0-3.4 0M96.2 580.8a1.7 1.7 0 1 0 3.4 0a1.7 1.7 0 1 0-3.4 0M105.4 570.9a1.7 1.7 0 1 0 3.4 0a1.7 1.7 0 1 0-3.4 0M113.6 558.8a1.7 1.7 0 1 0 3.4 0a1.7 1.7 0 1 0-3.4 0M121.2 549.8a1.7 1.7 0 1 0 3.4 0a1.7 1.7 0 1 0-3.4 0M129.2 539.6a1.7 1.7 0 1 0 3.4 0a1.7 1.7 0 1 0-3.4 0M136.5 531.1a1.7 1.7 0 1 0 3.4 0a1.7 1.7 0 1 0-3.4 0M142.1 523.8a1.7 1.7 0 1 0 3.4 0a1.7 1.7 0 1 0-3.4 0M147.5 516.9a1.7 1.7 0 1 0 3.4 0a1.7 1.7 0 1 0-3.4 0M152 509.9a1.7 1.7 0 1 0 3.4 0a1.7 1.7 0 1 0-3.4 0M157.7 501.6a1.7 1.7 0 1 0 3.4 0a1.7 1.7 0 1 0-3.4 0M164 494.6a1.7 1.7 0 1 0 3.4 0a1.7 1.7 0 1 0-3.4 0M169.4 488.4a1.7 1.7 0 1 0 3.4 0a1.7 1.7 0 1 0-3.4 0M174.3 481.8a1.7 1.7 0 1 0 3.4 0a1.7 1.7 0 1 0-3.4 0M178.9 476.6a1.7 1.7 0 1 0 3.4 0a1.7 1.7 0 1 0-3.4 0M183.3 471.5a1.7 1.7 0 1 0 3.4 0a1.7 1.7 0 1 0-3.4 0M186.4 467.2a1.7 1.7 0 1 0 3.4 0a1.7 1.7 0 1 0-3.4 0M189.9 462.5a1.7 1.7 0 1 0 3.4 0a1.7 1.7 0 1 0-3.4 0M193.2 458.4a1.7 1.7 0 1 0 3.4 0a1.7 1.7 0 1 0-3.4 0M196.9 453.7a1.7 1.7 0 1 0 3.4 0a1.7 1.7 0 1 0-3.4 0M200.1 449.9a1.7 1.7 0 1 0 3.4 0a1.7 1.7 0 1 0-3.4 0M203 446.4a1.7 1.7 0 1 0 3.4 0a1.7 1.7 0 1 0-3.4 0M206.4 442.3a1.7 1.7 0 1 0 3.4 0a1.7 1.7 0 1 0-3.4 0M210 438.2a1.7 1.7 0 1 0 3.4 0a1.7 1.7 0 1 0-3.4 0M212.9 434.7a1.7 1.7 0 1 0 3.4 0a1.7 1.7 0 1 0-3.4 0M214.7 432.9a1.7 1.7 0 1 0 3.4 0a1.7 1.7 0 1 0-3.4 0M216.4 431.2a1.7 1.7 0 1 0 3.4 0a1.7 1.7 0 1 0-3.4 0M218.1 429.5a1.7 1.7 0 1 0 3.4 0a1.7 1.7 0 1 0-3.4 0M219.7 427.9a1.7 1.7 0 1 0 3.4 0a1.7 1.7 0 1 0-3.4 0M221.3 426.3a1.7 1.7 0 1 0 3.4 0a1.7 1.7 0 1 0-3.4 0M222.8 424.8a1.7 1.7 0 1 0 3.4 0a1.7 1.7 0 1 0-3.4 0M224.3 423.3a1.7 1.7 0 1 0 3.4 0a1.7 1.7 0 1 0-3.4 0M225.7 421.9a1.7 1.7 0 1 0 3.4 0a1.7 1.7 0 1 0-3.4 0M227.1 420.6a1.7 1.7 0 1 0 3.4 0a1.7 1.7 0 1 0-3.4 0M228.4 419.3a1.7 1.7 0 1 0 3.4 0a1.7 1.7 0 1 0-3.4 0M229.7 418.1a1.7 1.7 0 1 0 3.4 0a1.7 1.7 0 1 0-3.4 0M231 416.9a1.7 1.7 0 1 0 3.4 0a1.7 1.7 0 1 0-3.4 0M232.2 415.7a1.7 1.7 0 1 0 3.4 0a1.7 1.7 0 1 0-3.4 0M233.4 414.6a1.7 1.7 0 1 0 3.4 0a1.7 1.7 0 1 0-3.4 0M234.6 413.8a1.7 1.7 0 1 0 3.4 0a1.7 1.7 0 1 0-3.4 0M235.7 413a1.7 1.7 0 1 0 3.4 0a1.7 1.7 0 1 0-3.4 0M236.8 412.3a1.7 1.7 0 1 0 3.4 0a1.7 1.7 0 1 0-3.4 0M237.8 411.5a1.7 1.7 0 1 0 3.4 0a1.7 1.7 0 1 0-3.4 0M238.8 410.8a1.7 1.7 0 1 0 3.4 0a1.7 1.7 0 1 0-3.4 0M239.8 410.1a1.7 1.7 0 1 0 3.4 0a1.7 1.7 0 1 0-3.4 0M240.8 409.4a1.7 1.7 0 1 0 3.4 0a1.7 1.7 0 1 0-3.4 0M241.7 408.8a1.7 1.7 0 1 0 3.4 0a1.7 1.7 0 1 0-3.4 0M242.6 408.1a1.7 1.7 0 1 0 3.4 0a1.7 1.7 0 1 0-3.4 0M243.5 407.4a1.7 1.7 0 1 0 3.4 0a1.7 1.7 0 1 0-3.4 0M244.4 406.7a1.7 1.7 0 1 0 3.4 0a1.7 1.7 0 1 0-3.4 0M245.2 406.1a1.7 1.7 0 1 0 3.4 0a1.7 1.7 0 1 0-3.4 0M246.1 405.4a1.7 1.7 0 1 0 3.4 0a1.7 1.7 0 1 0-3.4 0M246.9 404.8a1.7 1.7 0 1 0 3.4 0a1.7 1.7 0 1 0-3.4 0M247.7 404.2a1.7 1.7 0 1 0 3.4 0a1.7 1.7 0 1 0-3.4 0M248.4 403.7a1.7 1.7 0 1 0 3.4 0a1.7 1.7 0 1 0-3.4 0M249.2 403.4a1.7 1.7 0 1 0 3.4 0a1.7 1.7 0 1 0-3.4 0M249.9 403.1a1.7 1.7 0 1 0 3.4 0a1.7 1.7 0 1 0-3.4 0M250.6 402.9a1.7 1.7 0 1 0 3.4 0a1.7 1.7 0 1 0-3.4 0M251.3 402.7a1.7 1.7 0 1 0 3.4 0a1.7 1.7 0 1 0-3.4 0M252 402.4a1.7 1.7 0 1 0 3.4 0a1.7 1.7 0 1 0-3.4 0M252.6 402.2a1.7 1.7 0 1 0 3.4 0a1.7 1.7 0 1 0-3.4 0M253.3 402a1.7 1.7 0 1 0 3.4 0a1.7 1.7 0 1 0-3.4 0M253.9 401.7a1.7 1.7 0 1 0 3.4 0a1.7 1.7 0 1 0-3.4 0M254.5 401.5a1.7 1.7 0 1 0 3.4 0a1.7 1.7 0 1 0-3.4 0M255.1 401.3a1.7 1.7 0 1 0 3.4 0a1.7 1.7 0 1 0-3.4 0M255.7 401.1a1.7 1.7 0 1 0 3.4 0a1.7 1.7 0 1 0-3.4 0M256.2 400.9a1.7 1.7 0 1 0 3.4 0a1.7 1.7 0 1 0-3.4 0M256.8 400.7a1.7 1.7 0 1 0 3.4 0a1.7 1.7 0 1 0-3.4 0M257.3 400.5a1.7 1.7 0 1 0 3.4 0a1.7 1.7 0 1 0-3.4 0M257.9 400.4a1.7 1.7 0 1 0 3.4 0a1.7 1.7 0 1 0-3.4 0M258.4 400.2a1.7 1.7 0 1 0 3.4 0a1.7 1.7 0 1 0-3.4 0M258.9 400a1.7 1.7 0 1 0 3.4 0a1.7 1.7 0 1 0-3.4 0M259.4 399.8a1.7 1.7 0 1 0 3.4 0a1.7 1.7 0 1 0-3.4 0M259.9 399.6a1.7 1.7 0 1 0 3.4 0a1.7 1.7 0 1 0-3.4 0M260.4 399.5a1.7 1.7 0 1 0 3.4 0a1.7 1.7 0 1 0-3.4 0M260.9 399.4a1.7 1.7 0 1 0 3.4 0a1.7 1.7 0 1 0-3.4 0M261.4 399.3a1.7 1.7 0 1 0 3.4 0a1.7 1.7 0 1 0-3.4 0M261.9 399.2a1.7 1.7 0 1 0 3.4 0a1.7 1.7 0 1 0-3.4 0M262.4 399.1a1.7 1.7 0 1 0 3.4 0a1.7 1.7 0 1 0-3.4 0M262.9 399a1.7 1.7 0 1 0 3.4 0a1.7 1.7 0 1 0-3.4 0M263.4 398.9a1.7 1.7 0 1 0 3.4 0a1.7 1.7 0 1 0-3.4 0M263.8 398.8a1.7 1.7 0 1 0 3.4 0a1.7 1.7 0 1 0-3.4 0M264.3 398.7a1.7 1.7 0 1 0 3.4 0a1.7 1.7 0 1 0-3.4 0M264.8 398.6a1.7 1.7 0 1 0 3.4 0a1.7 1.7 0 1 0-3.4 0M265.3 398.5a1.7 1.7 0 1 0 3.4 0a1.7 1.7 0 1 0-3.4 0M265.8 398.4a1.7 1.7 0 1 0 3.4 0a1.7 1.7 0 1 0-3.4 0M266.3 398.3a1.7 1.7 0 1 0 3.4 0a1.7 1.7 0 1 0-3.4 0M266.8 398.2a1.7 1.7 0 1 0 3.4 0a1.7 1.7 0 1 0-3.4 0M267.3 398.1a1.7 1.7 0 1 0 3.4 0a1.7 1.7 0 1 0-3.4 0M267.8 398a1.7 1.7 0 1 0 3.4 0a1.7 1.7 0 1 0-3.4 0M268.3 397.9a1.7 1.7 0 1 0 3.4 0a1.7 1.7 0 1 0-3.4 0M268.8 397.8a1.7 1.7 0 1 0 3.4 0a1.7 1.7 0 1 0-3.4 0M269.3 397.7a1.7 1.7 0 1 0 3.4 0a1.7 1.7 0 1 0-3.4 0M269.8 397.6a1.7 1.7 0 1 0 3.4 0a1.7 1.7 0 1 0-3.4 0M270.3 397.5a1.7 1.7 0 1 0 3.4 0a1.7 1.7 0 1 0-3.4 0M270.7 397.4a1.7 1.7 0 1 0 3.4 0a1.7 1.7 0 1 0-3.4 0M271.2 397.3a1.7 1.7 0 1 0 3.4 0a1.7 1.7 0 1 0-3.4 0M271.7 397.2a1.7 1.7 0 1 0 3.4 0a1.7 1.7 0 1 0-3.4 0M272.2 397.1a1.7 1.7 0 1 0 3.4 0a1.7 1.7 0 1 0-3.4 0M272.7 397a1.7 1.7 0 1 0 3.4 0a1.7 1.7 0 1 0-3.4 0M273.2 396.9a1.7 1.7 0 1 0 3.4 0a1.7 1.7 0 1 0-3.4 0M273.7 396.9a1.7 1.7 0 1 0 3.4 0a1.7 1.7 0 1 0-3.4 0M274.2 396.8a1.7 1.7 0 1 0 3.4 0a1.7 1.7 0 1 0-3.4 0M274.7 396.8a1.7 1.7 0 1 0 3.4 0a1.7 1.7 0 1 0-3.4 0M275.1 396.8a1.7 1.7 0 1 0 3.4 0a1.7 1.7 0 1 0-3.4 0M275.6 396.7a1.7 1.7 0 1 0 3.4 0a1.7 1.7 0 1 0-3.4 0M276.1 396.7a1.7 1.7 0 1 0 3.4 0a1.7 1.7 0 1 0-3.4 0M276.6 396.6a1.7 1.7 0 1 0 3.4 0a1.7 1.7 0 1 0-3.4 0M277.1 396.6a1.7 1.7 0 1 0 3.4 0a1.7 1.7 0 1 0-3.4 0M277.6 396.6a1.7 1.7 0 1 0 3.4 0a1.7 1.7 0 1 0-3.4 0M278.1 396.5a1.7 1.7 0 1 0 3.4 0a1.7 1.7 0 1 0-3.4 0M278.5 396.5a1.7 1.7 0 1 0 3.4 0a1.7 1.7 0 1 0-3.4 0M279 396.5a1.7 1.7 0 1 0 3.4 0a1.7 1.7 0 1 0-3.4 0M279.5 396.4a1.7 1.7 0 1 0 3.4 0a1.7 1.7 0 1 0-3.4 0M280 396.4a1.7 1.7 0 1 0 3.4 0a1.7 1.7 0 1 0-3.4 0M280.5 396.4a1.7 1.7 0 1 0 3.4 0a1.7 1.7 0 1 0-3.4 0M280.9 396.3a1.7 1.7 0 1 0 3.4 0a1.7 1.7 0 1 0-3.4 0M281.4 396.3a1.7 1.7 0 1 0 3.4 0a1.7 1.7 0 1 0-3.4 0M281.9 396.2a1.7 1.7 0 1 0 3.4 0a1.7 1.7 0 1 0-3.4 0M282.4 396.2a1.7 1.7 0 1 0 3.4 0a1.7 1.7 0 1 0-3.4 0M282.9 396.2a1.7 1.7 0 1 0 3.4 0a1.7 1.7 0 1 0-3.4 0M283.3 396.1a1.7 1.7 0 1 0 3.4 0a1.7 1.7 0 1 0-3.4 0M283.8 396.1a1.7 1.7 0 1 0 3.4 0a1.7 1.7 0 1 0-3.4 0M284.3 396.1a1.7 1.7 0 1 0 3.4 0a1.7 1.7 0 1 0-3.4 0M284.8 396a1.7 1.7 0 1 0 3.4 0a1.7 1.7 0 1 0-3.4 0M285.3 396a1.7 1.7 0 1 0 3.4 0a1.7 1.7 0 1 0-3.4 0M285.7 396a1.7 1.7 0 1 0 3.4 0a1.7 1.7 0 1 0-3.4 0M286.2 395.9a1.7 1.7 0 1 0 3.4 0a1.7 1.7 0 1 0-3.4 0M286.7 395.9a1.7 1.7 0 1 0 3.4 0a1.7 1.7 0 1 0-3.4 0M287.2 395.8a1.7 1.7 0 1 0 3.4 0a1.7 1.7 0 1 0-3.4 0M287.6 395.8a1.7 1.7 0 1 0 3.4 0a1.7 1.7 0 1 0-3.4 0M288.1 395.8a1.7 1.7 0 1 0 3.4 0a1.7 1.7 0 1 0-3.4 0M288.6 395.7a1.7 1.7 0 1 0 3.4 0a1.7 1.7 0 1 0-3.4 0M289.1 395.7a1.7 1.7 0 1 0 3.4 0a1.7 1.7 0 1 0-3.4 0M289.5 395.7a1.7 1.7 0 1 0 3.4 0a1.7 1.7 0 1 0-3.4 0M290 395.6a1.7 1.7 0 1 0 3.4 0a1.7 1.7 0 1 0-3.4 0M290.5 395.6a1.7 1.7 0 1 0 3.4 0a1.7 1.7 0 1 0-3.4 0M291 395.6a1.7 1.7 0 1 0 3.4 0a1.7 1.7 0 1 0-3.4 0M291.4 395.5a1.7 1.7 0 1 0 3.4 0a1.7 1.7 0 1 0-3.4 0M291.9 395.5a1.7 1.7 0 1 0 3.4 0a1.7 1.7 0 1 0-3.4 0M292.4 395.4a1.7 1.7 0 1 0 3.4 0a1.7 1.7 0 1 0-3.4 0M292.9 395.4a1.7 1.7 0 1 0 3.4 0a1.7 1.7 0 1 0-3.4 0M293.3 395.4a1.7 1.7 0 1 0 3.4 0a1.7 1.7 0 1 0-3.4 0M293.8 395.3a1.7 1.7 0 1 0 3.4 0a1.7 1.7 0 1 0-3.4 0M294.3 395.3a1.7 1.7 0 1 0 3.4 0a1.7 1.7 0 1 0-3.4 0M294.7 395.3a1.7 1.7 0 1 0 3.4 0a1.7 1.7 0 1 0-3.4 0M295.2 395.3a1.7 1.7 0 1 0 3.4 0a1.7 1.7 0 1 0-3.4 0M295.7 395.3a1.7 1.7 0 1 0 3.4 0a1.7 1.7 0 1 0-3.4 0M296.2 395.3a1.7 1.7 0 1 0 3.4 0a1.7 1.7 0 1 0-3.4 0M296.6 395.3a1.7 1.7 0 1 0 3.4 0a1.7 1.7 0 1 0-3.4 0M297.1 395.3a1.7 1.7 0 1 0 3.4 0a1.7 1.7 0 1 0-3.4 0M297.6 395.3a1.7 1.7 0 1 0 3.4 0a1.7 1.7 0 1 0-3.4 0M298 395.3a1.7 1.7 0 1 0 3.4 0a1.7 1.7 0 1 0-3.4 0M298.5 395.2a1.7 1.7 0 1 0 3.4 0a1.7 1.7 0 1 0-3.4 0M299 395.2a1.7 1.7 0 1 0 3.4 0a1.7 1.7 0 1 0-3.4 0M299.4 395.2a1.7 1.7 0 1 0 3.4 0a1.7 1.7 0 1 0-3.4 0M299.9 395.2a1.7 1.7 0 1 0 3.4 0a1.7 1.7 0 1 0-3.4 0M300.4 395.2a1.7 1.7 0 1 0 3.4 0a1.7 1.7 0 1 0-3.4 0M300.8 395.2a1.7 1.7 0 1 0 3.4 0a1.7 1.7 0 1 0-3.4 0M301.3 395.2a1.7 1.7 0 1 0 3.4 0a1.7 1.7 0 1 0-3.4 0M301.7 395.2a1.7 1.7 0 1 0 3.4 0a1.7 1.7 0 1 0-3.4 0M302.2 395.2a1.7 1.7 0 1 0 3.4 0a1.7 1.7 0 1 0-3.4 0M302.7 395.2a1.7 1.7 0 1 0 3.4 0a1.7 1.7 0 1 0-3.4 0M303.1 395.2a1.7 1.7 0 1 0 3.4 0a1.7 1.7 0 1 0-3.4 0M303.6 395.2a1.7 1.7 0 1 0 3.4 0a1.7 1.7 0 1 0-3.4 0M304.1 395.2a1.7 1.7 0 1 0 3.4 0a1.7 1.7 0 1 0-3.4 0M304.5 395.2a1.7 1.7 0 1 0 3.4 0a1.7 1.7 0 1 0-3.4 0M305 395.2a1.7 1.7 0 1 0 3.4 0a1.7 1.7 0 1 0-3.4 0M305.5 395.2a1.7 1.7 0 1 0 3.4 0a1.7 1.7 0 1 0-3.4 0M305.9 395.2a1.7 1.7 0 1 0 3.4 0a1.7 1.7 0 1 0-3.4 0M306.4 395.2a1.7 1.7 0 1 0 3.4 0a1.7 1.7 0 1 0-3.4 0M306.8 395.1a1.7 1.7 0 1 0 3.4 0a1.7 1.7 0 1 0-3.4 0M307.3 395.1a1.7 1.7 0 1 0 3.4 0a1.7 1.7 0 1 0-3.4 0M307.8 395.1a1.7 1.7 0 1 0 3.4 0a1.7 1.7 0 1 0-3.4 0M308.2 395.1a1.7 1.7 0 1 0 3.4 0a1.7 1.7 0 1 0-3.4 0M308.7 395.1a1.7 1.7 0 1 0 3.4 0a1.7 1.7 0 1 0-3.4 0M309.1 395.1a1.7 1.7 0 1 0 3.4 0a1.7 1.7 0 1 0-3.4 0M309.6 395.1a1.7 1.7 0 1 0 3.4 0a1.7 1.7 0 1 0-3.4 0M310 395.1a1.7 1.7 0 1 0 3.4 0a1.7 1.7 0 1 0-3.4 0M310.5 395.1a1.7 1.7 0 1 0 3.4 0a1.7 1.7 0 1 0-3.4 0M311 395.1a1.7 1.7 0 1 0 3.4 0a1.7 1.7 0 1 0-3.4 0M311.4 395.1a1.7 1.7 0 1 0 3.4 0a1.7 1.7 0 1 0-3.4 0M311.9 395.1a1.7 1.7 0 1 0 3.4 0a1.7 1.7 0 1 0-3.4 0M312.3 395.1a1.7 1.7 0 1 0 3.4 0a1.7 1.7 0 1 0-3.4 0M312.8 395.1a1.7 1.7 0 1 0 3.4 0a1.7 1.7 0 1 0-3.4 0M313.2 395.1a1.7 1.7 0 1 0 3.4 0a1.7 1.7 0 1 0-3.4 0M313.7 395.1a1.7 1.7 0 1 0 3.4 0a1.7 1.7 0 1 0-3.4 0M314.1 395.1a1.7 1.7 0 1 0 3.4 0a1.7 1.7 0 1 0-3.4 0M314.6 395.1a1.7 1.7 0 1 0 3.4 0a1.7 1.7 0 1 0-3.4 0M315.1 395a1.7 1.7 0 1 0 3.4 0a1.7 1.7 0 1 0-3.4 0M315.5 395a1.7 1.7 0 1 0 3.4 0a1.7 1.7 0 1 0-3.4 0M316 395a1.7 1.7 0 1 0 3.4 0a1.7 1.7 0 1 0-3.4 0M316.4 395a1.7 1.7 0 1 0 3.4 0a1.7 1.7 0 1 0-3.4 0M316.9 395a1.7 1.7 0 1 0 3.4 0a1.7 1.7 0 1 0-3.4 0M317.3 395a1.7 1.7 0 1 0 3.4 0a1.7 1.7 0 1 0-3.4 0M317.8 395a1.7 1.7 0 1 0 3.4 0a1.7 1.7 0 1 0-3.4 0M318.2 395a1.7 1.7 0 1 0 3.4 0a1.7 1.7 0 1 0-3.4 0M318.7 395a1.7 1.7 0 1 0 3.4 0a1.7 1.7 0 1 0-3.4 0" stroke="#9932cc" stroke-width="0.7" fill="none"/>
<path d="M257.4 392.4V408.5M256 400.5H259M255 392.4h4.7M255 408.5h4.7M256 398.1v4.7M259 398.1v4.7M279.5 391V401.5M278 396.3H281M277.1 391h4.7M277.1 401.5h4.7M278 393.9v4.7M281 393.9v4.7M297.4 387.8V402.7M296 395.2H299M295 387.8h4.7M295 402.7h4.7M296 392.8v4.7M299 392.8v4.7M314.2 386.7V402.4M313 394.5H315.5M311.8 386.7h4.7M311.8 402.4h4.7M313 392.1v4.7M315.5 392.1v4.7" stroke="#9932cc" stroke-width="0.7" fill="none"/>
<path d="M255.7 400.5a1.7 1.7 0 1 0 3.4 0a1.7 1.7 0 1 0-3.4 0M277.8 396.3a1.7 1.7 0 1 0 3.4 0a1.7 1.7 0 1 0-3.4 0M295.7 395.2a1.7 1.7 0 1 0 3.4 0a1.7 1.7 0 1 0-3.4 0M312.5 394.5a1.7 1.7 0 1 0 3.4 0a1.7 1.7 0 1 0-3.4 0" stroke="#9932cc" stroke-width="0.7" fill="none"/>
<path d="M47.5 627.3V638.2M43.7 633H51.3M45.1 627.3h4.7M45.1 638.2h4.7M43.7 630.7v4.7M51.3 630.7v4.7M48.8 626.5V638.4M44.5 632.5H52.6M46.4 626.5h4.7M46.4 638.4h4.7M44.5 630.1v4.7M52.6 630.1v4.7M50.1 626.5V637.7M46.1 632.3H54.3M47.7 626.5h4.7M47.7 637.7h4.7M46.1 629.9v4.7M54.3 629.9v4.7M51.4 626.5V637.7M47 632H55.8M49 626.5h4.7M49 637.7h4.7M47 629.7v4.7M55.8 629.7v4.7M52.7 624.7V636.6M48 630.5H56.8M50.3 624.7h4.7M50.3 636.6h4.7M48 628.1v4.7M56.8 628.1v4.7M54 623.3V636.1M49.5 629.8H58.3M51.6 623.3h4.7M51.6 636.1h4.7M49.5 627.4v4.7M58.3 627.4v4.7M55.3 622.5V635.4M50.9 629.3H59.7M52.9 622.5h4.7M52.9 635.4h4.7M50.9 626.9v4.7M59.7 626.9v4.7M56.6 622.7V635.9M51.5 629.4H61.6M54.2 622.7h4.7M54.2 635.9h4.7M51.5 627.1v4.7M61.6 627.1v4.7M57.9 621.2V634.8M53 627.8H62.9M55.5 621.2h4.7M55.5 634.8h4.7M53 625.4v4.7M62.9 625.4v4.7M59.2 620.8V635M53.4 628H64.7M56.8 620.8h4.7M56.8 635h4.7M53.4 625.7v4.7M64.7 625.7v4.7M60.5 619.7V634M54.8 627.2H66.2M58.1 619.7h4.7M58.1 634h4.7M54.8 624.9v4.7M66.2 624.9v4.7M61.6 619.3V633.7M55.7 626.4H67.7M59.2 619.3h4.7M59.2 633.7h4.7M55.7 624v4.7M67.7 624v4.7M65.9 611V629M58.1 620.2H73.5M63.6 611h4.7M63.6 629h4.7M58.1 617.9v4.7M73.5 617.9v4.7M70.9 604.5V624.6M61.8 614H80M68.6 604.5h4.7M68.6 624.6h4.7M61.8 611.6v4.7M80 611.6v4.7M74 599.7V620.5M65 609.6H83.3M71.7 599.7h4.7M71.7 620.5h4.7M65 607.2v4.7M83.3 607.2v4.7M77.7 591.9V615.4M67.4 604H88.2M75.4 591.9h4.7M75.4 615.4h4.7M67.4 601.6v4.7M88.2 601.6v4.7M81.8 586.1V611.2M71.3 598.7H91.9M79.5 586.1h4.7M79.5 611.2h4.7M71.3 596.4v4.7M91.9 596.4v4.7M88.2 577.7V602.4M77.2 590.1H100.6M85.9 577.7h4.7M85.9 602.4h4.7M77.2 587.8v4.7M100.6 587.8v4.7M97.9 566V594.4M85.1 580.8H110.2M95.6 566h4.7M95.6 594.4h4.7M85.1 578.4v4.7M110.2 578.4v4.7M107.1 556V584.8M95.1 570.9H119.1M104.8 556h4.7M104.8 584.8h4.7M95.1 568.5v4.7M119.1 568.5v4.7M115.3 544.7V572.3M102.6 558.8H128.6M113 544.7h4.7M113 572.3h4.7M102.6 556.4v4.7M128.6 556.4v4.7M122.9 536V563.2M109.4 549.8H135.4M120.6 536h4.7M120.6 563.2h4.7M109.4 547.4v4.7M135.4 547.4v4.7M130.9 526.5V552.6M119.2 539.6H143.6M128.6 526.5h4.7M128.6 552.6h4.7M119.2 537.2v4.7M143.6 537.2v4.7M138.2 516.6V544.8M126.6 531.1H150.4M135.8 516.6h4.7M135.8 544.8h4.7M126.6 528.8v4.7M150.4 528.8v4.7M143.8 509V537.6M130.5 523.8H156.9M141.5 509h4.7M141.5 537.6h4.7M130.5 521.4v4.7M156.9 521.4v4.7M149.2 504.3V531M136.5 516.9H161.6M146.8 504.3h4.7M146.8 531h4.7M136.5 514.5v4.7M161.6 514.5v4.7M153.7 496.9V523.7M142.2 509.9H165.8M151.3 496.9h4.7M151.3 523.7h4.7M142.2 507.5v4.7M165.8 507.5v4.7M159.4 488.3V516M146.5 501.6H171.1M157.1 488.3h4.7M157.1 516h4.7M146.5 499.2v4.7M171.1 499.2v4.7M165.7 481.3V507.2M152.8 494.6H178.6M163.3 481.3h4.7M163.3 507.2h4.7M152.8 492.2v4.7M178.6 492.2v4.7M171.1 475.6V501.9M158.8 488.4H182.5M168.8 475.6h4.7M168.8 501.9h4.7M158.8 486v4.7M182.5 486v4.7M176 468.2V495M163.4 481.8H188.1M173.7 468.2h4.7M173.7 495h4.7M163.4 479.4v4.7M188.1 479.4v4.7M180.6 464.7V489.2M169.6 476.6H193.4M178.2 464.7h4.7M178.2 489.2h4.7M169.6 474.2v4.7M193.4 474.2v4.7M185 458.2V484.7M173.9 471.5H195.7M182.7 458.2h4.7M182.7 484.7h4.7M173.9 469.1v4.7M195.7 469.1v4.7M188.1 454.3V480.3M177.7 467.2H199.3M185.8 454.3h4.7M185.8 480.3h4.7M177.7 464.8v4.7M199.3 464.8v4.7M191.6 451.5V474.8M180.3 462.5H201.8M189.2 451.5h4.7M189.2 474.8h4.7M180.3 460.1v4.7M201.8 460.1v4.7M194.9 446.9V470M184.8 458.4H206M192.6 446.9h4.7M192.6 470h4.7M184.8 456v4.7M206 456v4.7M198.6 442.7V464.3M188.4 453.7H209.1M196.2 442.7h4.7M196.2 464.3h4.7M188.4 451.3v4.7M209.1 451.3v4.7M201.8 439.6V460.4M191.2 449.9H211.9M199.5 439.6h4.7M199.5 460.4h4.7M191.2 447.5v4.7M211.9 447.5v4.7M204.7 436V457M195.7 446.4H213.8M202.3 436h4.7M202.3 457h4.7M195.7 444v4.7M213.8 444v4.7M208.1 432.4V452.6M199.4 442.3H216.8M205.8 432.4h4.7M205.8 452.6h4.7M199.4 439.9v4.7M216.8 439.9v4.7M211.7 429.2V448.1M203.4 438.2H221M209.3 429.2h4.7M209.3 448.1h4.7M203.4 435.8v4.7M221 435.8v4.7M214.6 424.8V443.4M206.6 434.7H223.2M212.2 424.8h4.7M212.2 443.4h4.7M206.6 432.3v4.7M223.2 432.3v4.7M216.4 424.2V441.5M207.7 432.9H224.6M214 424.2h4.7M214 441.5h4.7M207.7 430.6v4.7M224.6 430.6v4.7M218.1 422.3V440.5M209.8 431.2H225.7M215.8 422.3h4.7M215.8 440.5h4.7M209.8 428.8v4.7M225.7 428.8v4.7M219.8 421.3V438.2M212.1 429.5H227.5M217.4 421.3h4.7M217.4 438.2h4.7M212.1 427.2v4.7M227.5 427.2v4.7M221.4 419V436.7M213.3 427.9H228.5M219.1 419h4.7M219.1 436.7h4.7M213.3 425.5v4.7M228.5 425.5v4.7M223 418.1V434.5M215.2 426.3H230M220.6 418.1h4.7M220.6 434.5h4.7M215.2 424v4.7M230 424v4.7M224.5 417V432.9M217.4 424.8H231.4M222.1 417h4.7M222.1 432.9h4.7M217.4 422.5v4.7M231.4 422.5v4.7M226 415.6V431.9M219 423.3H233.4M223.6 415.6h4.7M223.6 431.9h4.7M219 421v4.7M233.4 421v4.7M227.4 414.1V429.1M220.1 421.9H234.5M225.1 414.1h4.7M225.1 429.1h4.7M220.1 419.6v4.7M234.5 419.6v4.7M228.8 412.5V428.7M221.9 420.6H235M226.4 412.5h4.7M226.4 428.7h4.7M221.9 418.3v4.7M235 418.3v4.7M230.1 412V426.3M223.9 419.3H236M227.8 412h4.7M227.8 426.3h4.7M223.9 417v4.7M236 417v4.7M231.4 411.1V425.7M225.6 418.1H237.8M229.1 411.1h4.7M229.1 425.7h4.7M225.6 415.7v4.7M237.8 415.7v4.7M232.7 410.1V423.7M226.4 416.9H239.1M230.4 410.1h4.7M230.4 423.7h4.7M226.4 414.5v4.7M239.1 414.5v4.7M233.9 409V422.6M228.6 415.7H239.4M231.6 409h4.7M231.6 422.6h4.7M228.6 413.4v4.7M239.4 413.4v4.7M235.1 407.6V421.2M229.6 414.6H240.8M232.8 407.6h4.7M232.8 421.2h4.7M229.6 412.3v4.7M240.8 412.3v4.7M236.3 407.9V420.3M230.8 413.8H242M233.9 407.9h4.7M233.9 420.3h4.7M230.8 411.5v4.7M242 411.5v4.7M237.4 407.1V419.7M232.4 413H242.5M235 407.1h4.7M235 419.7h4.7M232.4 410.7v4.7M242.5 410.7v4.7M238.5 406.1V418.5M233.4 412.3H243.4M236.1 406.1h4.7M236.1 418.5h4.7M233.4 409.9v4.7M243.4 409.9v4.7M239.5 405.1V417.3M234.2 411.5H244.9M237.2 405.1h4.7M237.2 417.3h4.7M234.2 409.2v4.7M244.9 409.2v4.7M240.5 405V416.8M235.3 410.8H246.1M238.2 405h4.7M238.2 416.8h4.7M235.3 408.5v4.7M246.1 408.5v4.7M241.5 404.6V416.1M236.6 410.1H246.6M239.2 404.6h4.7M239.2 416.1h4.7M236.6 407.8v4.7M246.6 407.8v4.7M242.5 403.6V414.9M237.5 409.4H247.8M240.1 403.6h4.7M240.1 414.9h4.7M237.5 407.1v4.7M247.8 407.1v4.7M243.4 403.6V414.3M238 408.8H248.8M241.1 403.6h4.7M241.1 414.3h4.7M238 406.4v4.7M248.8 406.4v4.7M244.3 403V413.3M239.5 408.1H249.7M242 403h4.7M242 413.3h4.7M239.5 405.7v4.7M249.7 405.7v4.7M245.2 401.8V413M240.4 407.4H249.9M242.9 401.8h4.7M242.9 413h4.7M240.4 405.1v4.7M249.9 405.1v4.7M246.1 401.3V412.1M241.1 406.7H251.4M243.7 401.3h4.7M243.7 412.1h4.7M241.1 404.4v4.7M251.4 404.4v4.7M246.9 400.9V410.7M241.8 406.1H251.6M244.6 400.9h4.7M244.6 410.7h4.7M241.8 403.7v4.7M251.6 403.7v4.7M247.8 400.4V410.7M243.2 405.4H252.3M245.4 400.4h4.7M245.4 410.7h4.7M243.2 403.1v4.7M252.3 403.1v4.7M248.6 400.3V409.7M244 404.8H253.4M246.2 400.3h4.7M246.2 409.7h4.7M244 402.5v4.7M253.4 402.5v4.7M249.4 399.3V408.7M244.5 404.2H253.9M247 399.3h4.7M247 408.7h4.7M244.5 401.8v4.7M253.9 401.8v4.7M250.1 399.1V408.5M245.2 403.7H254.5M247.8 399.1h4.7M247.8 408.5h4.7M245.2 401.3v4.7M254.5 401.3v4.7M250.9 399V407.7M246.6 403.4H255.7M248.5 399h4.7M248.5 407.7h4.7M246.6 401v4.7M255.7 401v4.7M251.6 398.7V407.3M246.8 403.1H256.3M249.2 398.7h4.7M249.2 407.3h4.7M246.8 400.8v4.7M256.3 400.8v4.7M252.3 398.7V406.8M248 402.9H257.2M250 398.7h4.7M250 406.8h4.7M248 400.5v4.7M257.2 400.5v4.7M253 398.2V406.8M248.2 402.7H257.6M250.6 398.2h4.7M250.6 406.8h4.7M248.2 400.3v4.7M257.6 400.3v4.7M253.7 398.6V406.2M249.3 402.4H258.5M251.3 398.6h4.7M251.3 406.2h4.7M249.3 400.1v4.7M258.5 400.1v4.7M254.3 398V406.4M249.6 402.2H258.6M252 398h4.7M252 406.4h4.7M249.6 399.8v4.7M258.6 399.8v4.7M255 398.2V405.6M250.3 402H259.7M252.6 398.2h4.7M252.6 405.6h4.7M250.3 399.6v4.7M259.7 399.6v4.7M255.6 397.9V405.7M251.4 401.7H260.4M253.2 397.9h4.7M253.2 405.7h4.7M251.4 399.4v4.7M260.4 399.4v4.7M256.2 397.5V405.6M251.5 401.5H260.9M253.9 397.5h4.7M253.9 405.6h4.7M251.5 399.2v4.7M260.9 399.2v4.7M256.8 397.8V405.2M252.5 401.3H261.5M254.5 397.8h4.7M254.5 405.2h4.7M252.5 399v4.7M261.5 399v4.7M257.4 397.2V405.1M252.7 401.1H261.6M255 397.2h4.7M255 405.1h4.7M252.7 398.8v4.7M261.6 398.8v4.7M257.9 397.1V404.4M253.3 400.9H262.6M255.6 397.1h4.7M255.6 404.4h4.7M253.3 398.6v4.7M262.6 398.6v4.7M258.5 397.3V404.5M254.1 400.7H262.8M256.2 397.3h4.7M256.2 404.5h4.7M254.1 398.4v4.7M262.8 398.4v4.7M259 396.8V404M255 400.5H263.2M256.7 396.8h4.7M256.7 404h4.7M255 398.2v4.7M263.2 398.2v4.7M259.6 396.9V404.1M254.9 400.4H263.8M257.2 396.9h4.7M257.2 404.1h4.7M254.9 398v4.7M263.8 398v4.7M260.1 396.6V403.6M255.4 400.2H264.5M257.7 396.6h4.7M257.7 403.6h4.7M255.4 397.8v4.7M264.5 397.8v4.7M260.6 396.3V403.3M255.9 400H264.7M258.2 396.3h4.7M258.2 403.3h4.7M255.9 397.6v4.7M264.7 397.6v4.7M261.1 396.1V403.1M257 399.8H265.4M258.7 396.1h4.7M258.7 403.1h4.7M257 397.5v4.7M265.4 397.5v4.7M261.6 396.1V402.9M257.2 399.6H265.9M259.2 396.1h4.7M259.2 402.9h4.7M257.2 397.3v4.7M265.9 397.3v4.7M262.1 396.2V402.9M257.9 399.5H266.5M259.7 396.2h4.7M259.7 402.9h4.7M257.9 397.1v4.7M266.5 397.1v4.7M262.6 396.3V402.9M258.2 399.4H267M260.2 396.3h4.7M260.2 402.9h4.7M258.2 397v4.7M267 397v4.7M263.1 395.9V402.6M258.9 399.3H267.1M260.7 395.9h4.7M260.7 402.6h4.7M258.9 396.9v4.7M267.1 396.9v4.7M263.6 395.9V402.3M259.4 399.2H268.1M261.2 395.9h4.7M261.2 402.3h4.7M259.4 396.8v4.7M268.1 396.8v4.7M264.1 395.8V402.2M259.9 399.1H268.3M261.7 395.8h4.7M261.7 402.2h4.7M259.9 396.7v4.7M268.3 396.7v4.7M264.6 395.9V402M260.6 399H268.8M262.2 395.9h4.7M262.2 402h4.7M260.6 396.6v4.7M268.8 396.6v4.7M265.1 395.6V402.1M260.5 398.9H269.4M262.7 395.6h4.7M262.7 402.1h4.7M260.5 396.5v4.7M269.4 396.5v4.7M265.5 395.8V401.9M261.7 398.8H269.6M263.2 395.8h4.7M263.2 401.9h4.7M261.7 396.4v4.7M269.6 396.4v4.7M266 395.7V401.8M261.7 398.7H270.2M263.7 395.7h4.7M263.7 401.8h4.7M261.7 396.3v4.7M270.2 396.3v4.7M266.5 395.6V401.4M262.4 398.6H271M264.2 395.6h4.7M264.2 401.4h4.7M262.4 396.2v4.7M271 396.2v4.7M267 395.4V401.3M263.1 398.5H271.2M264.7 395.4h4.7M264.7 401.3h4.7M263.1 396.1v4.7M271.2 396.1v4.7M267.5 395.4V401.2M263.1 398.4H271.9M265.2 395.4h4.7M265.2 401.2h4.7M263.1 396v4.7M271.9 396v4.7M268 395.4V401M264.1 398.3H271.9M265.7 395.4h4.7M265.7 401h4.7M264.1 395.9v4.7M271.9 395.9v4.7M268.5 395.5V401M264.1 398.2H272.4M266.2 395.5h4.7M266.2 401h4.7M264.1 395.8v4.7M272.4 395.8v4.7M269 395.4V400.9M265.1 398.1H273.3M266.7 395.4h4.7M266.7 400.9h4.7M265.1 395.7v4.7M273.3 395.7v4.7M269.5 395.3V400.6M265.3 398H273.3M267.2 395.3h4.7M267.2 400.6h4.7M265.3 395.6v4.7M273.3 395.6v4.7M270 395.1V400.7M266.1 397.9H274.1M267.6 395.1h4.7M267.6 400.7h4.7M266.1 395.6v4.7M274.1 395.6v4.7M270.5 395.3V400.7M266.4 397.8H274.3M268.1 395.3h4.7M268.1 400.7h4.7M266.4 395.5v4.7M274.3 395.5v4.7M271 395.2V400.5M266.9 397.7H275.3M268.6 395.2h4.7M268.6 400.5h4.7M266.9 395.4v4.7M275.3 395.4v4.7M271.5 395V400.4M267.3 397.6H275.8M269.1 395h4.7M269.1 400.4h4.7M267.3 395.3v4.7M275.8 395.3v4.7M272 394.8V400.1M267.7 397.5H276M269.6 394.8h4.7M269.6 400.1h4.7M267.7 395.2v4.7M276 395.2v4.7M272.4 394.8V399.9M268.1 397.4H276.7M270.1 394.8h4.7M270.1 399.9h4.7M268.1 395.1v4.7M276.7 395.1v4.7M272.9 394.9V399.7M269.1 397.3H277.1M270.6 394.9h4.7M270.6 399.7h4.7M269.1 395v4.7M277.1 395v4.7M273.4 394.7V399.7M269.3 397.2H277.3M271.1 394.7h4.7M271.1 399.7h4.7M269.3 394.9v4.7M277.3 394.9v4.7M273.9 394.9V399.4M270 397.1H277.8M271.6 394.9h4.7M271.6 399.4h4.7M270 394.8v4.7M277.8 394.8v4.7M274.4 394.7V399.2M270.6 397H278.5M272.1 394.7h4.7M272.1 399.2h4.7M270.6 394.7v4.7M278.5 394.7v4.7M274.9 394.5V399.1M270.9 396.9H278.9M272.5 394.5h4.7M272.5 399.1h4.7M270.9 394.6v4.7M278.9 394.6v4.7M275.4 394.6V399.1M271.4 396.9H279.6M273 394.6h4.7M273 399.1h4.7M271.4 394.5v4.7M279.6 394.5v4.7M275.9 394.5V399.2M271.6 396.8H280M273.5 394.5h4.7M273.5 399.2h4.7M271.6 394.5v4.7M280 394.5v4.7M276.4 394.5V398.9M272.4 396.8H280.5M274 394.5h4.7M274 398.9h4.7M272.4 394.4v4.7M280.5 394.4v4.7M276.8 394.3V399.2M272.9 396.8H281M274.5 394.3h4.7M274.5 399.2h4.7M272.9 394.4v4.7M281 394.4v4.7M277.3 394.4V399.1M273.5 396.7H281.1M275 394.4h4.7M275 399.1h4.7M273.5 394.4v4.7M281.1 394.4v4.7M277.8 394.4V398.8M273.9 396.7H281.9M275.5 394.4h4.7M275.5 398.8h4.7M273.9 394.3v4.7M281.9 394.3v4.7M278.3 394.4V398.8M274.3 396.6H282.1M275.9 394.4h4.7M275.9 398.8h4.7M274.3 394.3v4.7M282.1 394.3v4.7M278.8 394.3V398.7M274.9 396.6H282.8M276.4 394.3h4.7M276.4 398.7h4.7M274.9 394.3v4.7M282.8 394.3v4.7M279.3 394.5V398.9M275.5 396.6H283.2M276.9 394.5h4.7M276.9 398.9h4.7M275.5 394.2v4.7M283.2 394.2v4.7M279.8 394.4V398.8M275.9 396.5H283.6M277.4 394.4h4.7M277.4 398.8h4.7M275.9 394.2v4.7M283.6 394.2v4.7M280.2 394.1V398.7M276.1 396.5H284.4M277.9 394.1h4.7M277.9 398.7h4.7M276.1 394.2v4.7M284.4 394.2v4.7M280.7 394.3V398.6M277 396.5H284.7M278.4 394.3h4.7M278.4 398.6h4.7M277 394.1v4.7M284.7 394.1v4.7M281.2 394V398.7M277.1 396.4H285.4M278.9 394h4.7M278.9 398.7h4.7M277.1 394.1v4.7M285.4 394.1v4.7M281.7 394.1V398.8M277.4 396.4H285.5M279.3 394.1h4.7M279.3 398.8h4.7M277.4 394v4.7M285.5 394v4.7M282.2 394.2V398.5M278.4 396.4H286.3M279.8 394.2h4.7M279.8 398.5h4.7M278.4 394v4.7M286.3 394v4.7M282.6 394V398.5M278.5 396.3H286.8M280.3 394h4.7M280.3 398.5h4.7M278.5 394v4.7M286.8 394v4.7M283.1 394.1V398.6M279 396.3H286.9M280.8 394.1h4.7M280.8 398.6h4.7M279 393.9v4.7M286.9 393.9v4.7M283.6 393.8V398.7M279.9 396.2H287.3M281.3 393.8h4.7M281.3 398.7h4.7M279.9 393.9v4.7M287.3 393.9v4.7M284.1 394V398.6M279.8 396.2H288M281.7 394h4.7M281.7 398.6h4.7M279.8 393.9v4.7M288 393.9v4.7M284.6 393.8V398.3M280.4 396.2H288.7M282.2 393.8h4.7M282.2 398.3h4.7M280.4 393.8v4.7M288.7 393.8v4.7M285 394V398.5M280.8 396.1H289.1M282.7 394h4.7M282.7 398.5h4.7M280.8 393.8v4.7M289.1 393.8v4.7M285.5 394V398.6M281.3 396.1H289.4M283.2 394h4.7M283.2 398.6h4.7M281.3 393.7v4.7M289.4 393.7v4.7M286 393.8V398.3M282 396.1H289.9M283.7 393.8h4.7M283.7 398.3h4.7M282 393.7v4.7M289.9 393.7v4.7M286.5 393.6V398.4M282.7 396H290.8M284.1 393.6h4.7M284.1 398.4h4.7M282.7 393.7v4.7M290.8 393.7v4.7M287 393.7V398.4M282.8 396H290.9M284.6 393.7h4.7M284.6 398.4h4.7M282.8 393.6v4.7M290.9 393.6v4.7M287.4 393.6V398.4M283.6 396H291.6M285.1 393.6h4.7M285.1 398.4h4.7M283.6 393.6v4.7M291.6 393.6v4.7M287.9 393.6V398.2M284 395.9H292.1M285.6 393.6h4.7M285.6 398.2h4.7M284 393.6v4.7M292.1 393.6v4.7M288.4 393.7V398.3M284.2 395.9H292.1M286 393.7h4.7M286 398.3h4.7M284.2 393.5v4.7M292.1 393.5v4.7M288.9 393.4V398M284.9 395.8H292.9M286.5 393.4h4.7M286.5 398h4.7M284.9 393.5v4.7M292.9 393.5v4.7M289.3 393.6V397.9M285.1 395.8H293.1M287 393.6h4.7M287 397.9h4.7M285.1 393.5v4.7M293.1 393.5v4.7M289.8 393.6V398.1M285.9 395.8H294.1M287.5 393.6h4.7M287.5 398.1h4.7M285.9 393.4v4.7M294.1 393.4v4.7M290.3 393.4V397.9M286.6 395.7H294.6M287.9 393.4h4.7M287.9 397.9h4.7M286.6 393.4v4.7M294.6 393.4v4.7M290.8 393.6V398M286.8 395.7H294.9M288.4 393.6h4.7M288.4 398h4.7M286.8 393.3v4.7M294.9 393.3v4.7M291.2 393.3V398M287.3 395.7H295.4M288.9 393.3h4.7M288.9 398h4.7M287.3 393.3v4.7M295.4 393.3v4.7M291.7 393.5V397.8M287.6 395.6H295.6M289.4 393.5h4.7M289.4 397.8h4.7M287.6 393.3v4.7M295.6 393.3v4.7M292.2 393.3V397.8M288.2 395.6H296.1M289.8 393.3h4.7M289.8 397.8h4.7M288.2 393.2v4.7M296.1 393.2v4.7M292.7 393.2V397.8M288.5 395.6H296.5M290.3 393.2h4.7M290.3 397.8h4.7M288.5 393.2v4.7M296.5 393.2v4.7M293.1 393.3V397.6M289.3 395.5H296.9M290.8 393.3h4.7M290.8 397.6h4.7M289.3 393.2v4.7M296.9 393.2v4.7M293.6 393.2V397.8M289.8 395.5H297.4M291.3 393.2h4.7M291.3 397.8h4.7M289.8 393.1v4.7M297.4 393.1v4.7M294.1 393.2V397.8M289.8 395.4H298.1M291.7 393.2h4.7M291.7 397.8h4.7M289.8 393.1v4.7M298.1 393.1v4.7M294.6 393.2V397.5M290.8 395.4H298.4M292.2 393.2h4.7M292.2 397.5h4.7M290.8 393.1v4.7M298.4 393.1v4.7M295 393.2V397.5M291 395.4H298.9M292.7 393.2h4.7M292.7 397.5h4.7M291 393v4.7M298.9 393v4.7M295.5 392.9V397.6M291.4 395.3H299.3M293.2 392.9h4.7M293.2 397.6h4.7M291.4 393v4.7M299.3 393v4.7M296 392.9V397.6M291.7 395.3H300M293.6 392.9h4.7M293.6 397.6h4.7M291.7 393v4.7M300 393v4.7M296.4 393.1V397.5M292.6 395.3H300.2M294.1 393.1h4.7M294.1 397.5h4.7M292.6 392.9v4.7M300.2 392.9v4.7M296.9 392.9V397.5M292.7 395.3H300.8M294.6 392.9h4.7M294.6 397.5h4.7M292.7 392.9v4.7M300.8 392.9v4.7M297.4 393.2V397.6M293.7 395.3H301.2M295 393.2h4.7M295 397.6h4.7M293.7 392.9v4.7M301.2 392.9v4.7M297.9 393V397.5M293.5 395.3H301.6M295.5 393h4.7M295.5 397.5h4.7M293.5 392.9v4.7M301.6 392.9v4.7M298.3 392.9V397.6M294.1 395.3H302.1M296 392.9h4.7M296 397.6h4.7M294.1 392.9v4.7M302.1 392.9v4.7M298.8 393V397.5M294.8 395.3H303M296.4 393h4.7M296.4 397.5h4.7M294.8 392.9v4.7M303 392.9v4.7M299.3 392.8V397.4M295.2 395.3H303.3M296.9 392.8h4.7M296.9 397.4h4.7M295.2 392.9v4.7M303.3 392.9v4.7M299.7 392.9V397.7M295.9 395.3H303.5M297.4 392.9h4.7M297.4 397.7h4.7M295.9 392.9v4.7M303.5 392.9v4.7M300.2 392.9V397.4M296.4 395.2H303.9M297.8 392.9h4.7M297.8 397.4h4.7M296.4 392.9v4.7M303.9 392.9v4.7M300.7 393.2V397.5M296.6 395.2H304.5M298.3 393.2h4.7M298.3 397.5h4.7M296.6 392.9v4.7M304.5 392.9v4.7M301.1 393.1V397.6M297 395.2H305.1M298.8 393.1h4.7M298.8 397.6h4.7M297 392.9v4.7M305.1 392.9v4.7M301.6 392.9V397.6M297.4 395.2H305.7M299.2 392.9h4.7M299.2 397.6h4.7M297.4 392.9v4.7M305.7 392.9v4.7M302.1 392.9V397.6M298.1 395.2H306.1M299.7 392.9h4.7M299.7 397.6h4.7M298.1 392.9v4.7M306.1 392.9v4.7M302.5 392.9V397.6M298.3 395.2H306.2M300.2 392.9h4.7M300.2 397.6h4.7M298.3 392.9v4.7M306.2 392.9v4.7M303 393.1V397.4M298.8 395.2H307M300.6 393.1h4.7M300.6 397.4h4.7M298.8 392.9v4.7M307 392.9v4.7M303.4 393V397.3M299.3 395.2H307.6M301.1 393h4.7M301.1 397.3h4.7M299.3 392.9v4.7M307.6 392.9v4.7M303.9 392.8V397.4M299.9 395.2H307.6M301.6 392.8h4.7M301.6 397.4h4.7M299.9 392.9v4.7M307.6 392.9v4.7M304.4 393.1V397.4M300.5 395.2H308.2M302 393.1h4.7M302 397.4h4.7M300.5 392.8v4.7M308.2 392.8v4.7M304.8 393.1V397.6M300.6 395.2H308.9M302.5 393.1h4.7M302.5 397.6h4.7M300.6 392.8v4.7M308.9 392.8v4.7M305.3 392.8V397.6M301.2 395.2H309.2M303 392.8h4.7M303 397.6h4.7M301.2 392.8v4.7M309.2 392.8v4.7M305.8 393.1V397.5M301.8 395.2H309.9M303.4 393.1h4.7M303.4 397.5h4.7M301.8 392.8v4.7M309.9 392.8v4.7M306.2 392.8V397.3M302.2 395.2H310.3M303.9 392.8h4.7M303.9 397.3h4.7M302.2 392.8v4.7M310.3 392.8v4.7M306.7 392.9V397.3M302.8 395.2H310.6M304.3 392.9h4.7M304.3 397.3h4.7M302.8 392.8v4.7M310.6 392.8v4.7M307.2 392.9V397.5M303.3 395.2H311.3M304.8 392.9h4.7M304.8 397.5h4.7M303.3 392.8v4.7M311.3 392.8v4.7M307.6 393V397.5M303.4 395.2H311.6M305.3 393h4.7M305.3 397.5h4.7M303.4 392.8v4.7M311.6 392.8v4.7M308.1 392.9V397.3M304.2 395.2H312.4M305.7 392.9h4.7M305.7 397.3h4.7M304.2 392.8v4.7M312.4 392.8v4.7M308.5 393V397.4M304.2 395.1H312.6M306.2 393h4.7M306.2 397.4h4.7M304.2 392.8v4.7M312.6 392.8v4.7M309 392.9V397.3M305.2 395.1H312.9M306.6 392.9h4.7M306.6 397.3h4.7M305.2 392.8v4.7M312.9 392.8v4.7M309.5 392.8V397.4M305.3 395.1H313.3M307.1 392.8h4.7M307.1 397.4h4.7M305.3 392.8v4.7M313.3 392.8v4.7M309.9 392.9V397.5M306 395.1H314M307.6 392.9h4.7M307.6 397.5h4.7M306 392.8v4.7M314 392.8v4.7M310.4 393V397.5M306.3 395.1H314.2M308 393h4.7M308 397.5h4.7M306.3 392.8v4.7M314.2 392.8v4.7M310.8 393V397.4M306.8 395.1H314.6M308.5 393h4.7M308.5 397.4h4.7M306.8 392.8v4.7M314.6 392.8v4.7M311.3 392.7V397.5M307.3 395.1H315M308.9 392.7h4.7M308.9 397.5h4.7M307.3 392.8v4.7M315 392.8v4.7M311.7 392.8V397.3M307.6 395.1H315.7M309.4 392.8h4.7M309.4 397.3h4.7M307.6 392.8v4.7M315.7 392.8v4.7M312.2 393V397.4M307.9 395.1H316M309.9 393h4.7M309.9 397.4h4.7M307.9 392.8v4.7M316 392.8v4.7M312.7 392.9V397.3M308.4 395.1H316.7M310.3 392.9h4.7M310.3 397.3h4.7M308.4 392.7v4.7M316.7 392.7v4.7M313.1 392.7V397.4M309.3 395.1H317.3M310.8 392.7h4.7M310.8 397.4h4.7M309.3 392.7v4.7M317.3 392.7v4.7M313.6 392.9V397.5M309.6 395.1H317.8M311.2 392.9h4.7M311.2 397.5h4.7M309.6 392.7v4.7M317.8 392.7v4.7M314 392.9V397.2M310 395.1H318.3M311.7 392.9h4.7M311.7 397.2h4.7M310 392.7v4.7M318.3 392.7v4.7M314.5 392.9V397.2M310.5 395.1H318.4M312.1 392.9h4.7M312.1 397.2h4.7M310.5 392.7v4.7M318.4 392.7v4.7M314.9 392.8V397.3M311 395.1H318.8M312.6 392.8h4.7M312.6 397.3h4.7M311 392.7v4.7M318.8 392.7v4.7M315.4 393V397.3M311.3 395.1H319.2M313 393h4.7M313 397.3h4.7M311.3 392.7v4.7M319.2 392.7v4.7M315.8 392.7V397.1M311.7 395.1H320M313.5 392.7h4.7M313.5 397.1h4.7M311.7 392.7v4.7M320 392.7v4.7M316.3 392.7V397.2M312.2 395.1H320.5M313.9 392.7h4.7M313.9 397.2h4.7M312.2 392.7v4.7M320.5 392.7v4.7M316.8 392.7V397.3M313 395H320.8M314.4 392.7h4.7M314.4 397.3h4.7M313 392.7v4.7M320.8 392.7v4.7M317.2 392.8V397.4M313 395H321.2M314.9 392.8h4.7M314.9 397.4h4.7M313 392.7v4.7M321.2 392.7v4.7M317.7 392.8V397.2M313.5 395H321.6M315.3 392.8h4.7M315.3 397.2h4.7M313.5 392.7v4.7M321.6 392.7v4.7M318.1 392.8V397.1M314.1 395H322.4M315.8 392.8h4.7M315.8 397.1h4.7M314.1 392.7v4.7M322.4 392.7v4.7M318.6 392.9V397.3M314.5 395H322.8M316.2 392.9h4.7M316.2 397.3h4.7M314.5 392.7v4.7M322.8 392.7v4.7M319 392.7V397.3M315.1 395H322.9M316.7 392.7h4.7M316.7 397.3h4.7M315.1 392.7v4.7M322.9 392.7v4.7M319.5 392.7V397.3M315.2 395H323.2M317.1 392.7h4.7M317.1 397.3h4.7M315.2 392.7v4.7M323.2 392.7v4.7M319.9 393V397.3M315.6 395H324.2M317.6 393h4.7M317.6 397.3h4.7M315.6 392.7v4.7M324.2 392.7v4.7M320.4 392.7V397.2M316.6 395H324.5M318 392.7h4.7M318 397.2h4.7M316.6 392.7v4.7M324.5 392.7v4.7M260.7 391.3V406.6M259 399H262.5M258.3 391.3h4.7M258.3 406.6h4.7M259 396.6v4.7M262.5 396.6v4.7M278.2 388.8V404.5M277 396.6H279.5M275.8 388.8h4.7M275.8 404.5h4.7M277 394.2v4.7M279.5 394.2v4.7M280.8 388.8V404.5M279.5 396.6H282M278.4 388.8h4.7M278.4 404.5h4.7M279.5 394.2v4.7M282 394.2v4.7M294.5 387.8V403.1M293 395.4H296M292.1 387.8h4.7M292.1 403.1h4.7M293 393v4.7M296 393v4.7M300.3 387.4V403.1M299 395.2H301.5M297.9 387.4h4.7M297.9 403.1h4.7M299 392.8v4.7M301.5 392.8v4.7M309.8 387V401.6M308.5 394.3H311M307.4 387h4.7M307.4 401.6h4.7M308.5 391.9v4.7M311 391.9v4.7" stroke="#00ffff" stroke-width="0.7" fill="none"/>
<polyline points="47.5,633 48.8,632.5 50.1,632.3 51.4,632 52.7,630.5 54,629.8 55.3,629.3 56.6,629.4 57.9,627.8 59.2,628 60.5,627.2 61.6,626.4 65.9,620.2 70.9,614 74,609.6 77.7,604 81.8,598.7 88.2,590.1 97.9,580.8 107.1,570.9 115.3,558.8 122.9,549.8 130.9,539.6 138.2,531.1 143.8,523.8 149.2,516.9 153.7,509.9 159.4,501.6 165.7,494.6 171.1,488.4 176,481.8 180.6,476.6 185,471.5 188.1,467.2 191.6,462.5 194.9,458.4 198.6,453.7 201.8,449.9 204.7,446.4 208.1,442.3 211.7,438.2 214.6,434.7 216.4,432.9 218.1,431.2 219.8,429.5 221.4,427.9 223,426.3 224.5,424.8 226,423.3 227.4,421.9 228.8,420.6 230.1,419.3 231.4,418.1 232.7,416.9 233.9,415.7 235.1,414.6 236.3,413.8 237.4,413 238.5,412.3 239.5,411.5 240.5,410.8 241.5,410.1 242.5,409.4 243.4,408.8 244.3,408.1 245.2,407.4 246.1,406.7 246.9,406.1 247.8,405.4 248.6,404.8 249.4,404.2 250.1,403.7 250.9,403.4 251.6,403.1 252.3,402.9 253,402.7 253.7,402.4 254.3,402.2 255,402 255.6,401.7 256.2,401.5 256.8,401.3 257.4,401.1 257.9,400.9 258.5,400.7 259,400.5 259.6,400.4 260.1,400.2 260.6,400 261.1,399.8 261.6,399.6 262.1,399.5 262.6,399.4 263.1,399.3 263.6,399.2 264.1,399.1 264.6,399 265.1,398.9 265.5,398.8 266,398.7 266.5,398.6 267,398.5 267.5,398.4 268,398.3 268.5,398.2 269,398.1 269.5,398 270,397.9 270.5,397.8 271,397.7 271.5,397.6 272,397.5 272.4,397.4 272.9,397.3 273.4,397.2 273.9,397.1 274.4,397 274.9,396.9 275.4,396.9 275.9,396.8 276.4,396.8 276.8,396.8 277.3,396.7 277.8,396.7 278.3,396.6 278.8,396.6 279.3,396.6 279.8,396.5 280.2,396.5 280.7,396.5 281.2,396.4 281.7,396.4 282.2,396.4 282.6,396.3 283.1,396.3 283.6,396.2 284.1,396.2 284.6,396.2 285,396.1 285.5,396.1 286,396.1 286.5,396 287,396 287.4,396 287.9,395.9 288.4,395.9 288.9,395.8 289.3,395.8 289.8,395.8 290.3,395.7 290.8,395.7 291.2,395.7 291.7,395.6 292.2,395.6 292.7,395.6 293.1,395.5 293.6,395.5 294.1,395.4 294.6,395.4 295,395.4 295.5,395.3 296,395.3 296.4,395.3 296.9,395.3 297.4,395.3 297.9,395.3 298.3,395.3 298.8,395.3 299.3,395.3 299.7,395.3 300.2,395.2 300.7,395.2 301.1,395.2 301.6,395.2 302.1,395.2 302.5,395.2 303,395.2 303.4,395.2 303.9,395.2 304.4,395.2 304.8,395.2 305.3,395.2 305.8,395.2 306.2,395.2 306.7,395.2 307.2,395.2 307.6,395.2 308.1,395.2 308.5,395.1 309,395.1 309.5,395.1 309.9,395.1 310.4,395.1 310.8,395.1 311.3,395.1 311.7,395.1 312.2,395.1 312.7,395.1 313.1,395.1 313.6,395.1 314,395.1 314.5,395.1 314.9,395.1 315.4,395.1 315.8,395.1 316.3,395.1 316.8,395 317.2,395 317.7,395 318.1,395 318.6,395 319,395 319.5,395 319.9,395 320.4,395 260.7,399 278.2,396.6 280.8,396.6 294.5,395.4 300.3,395.2 309.8,394.3" stroke="#00ffff" stroke-width="0.7" fill="none"/>
<path d="M45.9 631.4l3.2 3.2m0-3.2l-3.2 3.2M47.2 630.9l3.2 3.2m0-3.2l-3.2 3.2M48.5 630.7l3.2 3.2m0-3.2l-3.2 3.2M49.8 630.4l3.2 3.2m0-3.2l-3.2 3.2M51.1 628.9l3.2 3.2m0-3.2l-3.2 3.2M52.4 628.2l3.2 3.2m0-3.2l-3.2 3.2M53.7 627.7l3.2 3.2m0-3.2l-3.2 3.2M55 627.8l3.2 3.2m0-3.2l-3.2 3.2M56.3 626.2l3.2 3.2m0-3.2l-3.2 3.2M57.6 626.4l3.2 3.2m0-3.2l-3.2 3.2M58.9 625.6l3.2 3.2m0-3.2l-3.2 3.2M60 624.8l3.2 3.2m0-3.2l-3.2 3.2M64.3 618.6l3.2 3.2m0-3.2l-3.2 3.2M69.3 612.4l3.2 3.2m0-3.2l-3.2 3.2M72.4 608l3.2 3.2m0-3.2l-3.2 3.2M76.1 602.4l3.2 3.2m0-3.2l-3.2 3.2M80.2 597.1l3.2 3.2m0-3.2l-3.2 3.2M86.6 588.5l3.2 3.2m0-3.2l-3.2 3.2M96.3 579.2l3.2 3.2m0-3.2l-3.2 3.2M105.5 569.3l3.2 3.2m0-3.2l-3.2 3.2M113.7 557.2l3.2 3.2m0-3.2l-3.2 3.2M121.3 548.2l3.2 3.2m0-3.2l-3.2 3.2M129.3 538l3.2 3.2m0-3.2l-3.2 3.2M136.6 529.5l3.2 3.2m0-3.2l-3.2 3.2M142.2 522.2l3.2 3.2m0-3.2l-3.2 3.2M147.6 515.3l3.2 3.2m0-3.2l-3.2 3.2M152.1 508.3l3.2 3.2m0-3.2l-3.2 3.2M157.8 500l3.2 3.2m0-3.2l-3.2 3.2M164.1 493l3.2 3.2m0-3.2l-3.2 3.2M169.5 486.8l3.2 3.2m0-3.2l-3.2 3.2M174.4 480.2l3.2 3.2m0-3.2l-3.2 3.2M179 475l3.2 3.2m0-3.2l-3.2 3.2M183.4 469.9l3.2 3.2m0-3.2l-3.2 3.2M186.5 465.6l3.2 3.2m0-3.2l-3.2 3.2M190 460.9l3.2 3.2m0-3.2l-3.2 3.2M193.3 456.8l3.2 3.2m0-3.2l-3.2 3.2M197 452.1l3.2 3.2m0-3.2l-3.2 3.2M200.2 448.3l3.2 3.2m0-3.2l-3.2 3.2M203.1 444.8l3.2 3.2m0-3.2l-3.2 3.2M206.5 440.7l3.2 3.2m0-3.2l-3.2 3.2M210.1 436.6l3.2 3.2m0-3.2l-3.2 3.2M213 433.1l3.2 3.2m0-3.2l-3.2 3.2M214.8 431.3l3.2 3.2m0-3.2l-3.2 3.2M216.5 429.6l3.2 3.2m0-3.2l-3.2 3.2M218.2 427.9l3.2 3.2m0-3.2l-3.2 3.2M219.8 426.3l3.2 3.2m0-3.2l-3.2 3.2M221.4 424.7l3.2 3.2m0-3.2l-3.2 3.2M222.9 423.2l3.2 3.2m0-3.2l-3.2 3.2M224.4 421.7l3.2 3.2m0-3.2l-3.2 3.2M225.8 420.3l3.2 3.2m0-3.2l-3.2 3.2M227.2 419l3.2 3.2m0-3.2l-3.2 3.2M228.5 417.7l3.2 3.2m0-3.2l-3.2 3.2M229.8 416.5l3.2 3.2m0-3.2l-3.2 3.2M231.1 415.3l3.2 3.2m0-3.2l-3.2 3.2M232.3 414.1l3.2 3.2m0-3.2l-3.2 3.2M233.5 413l3.2 3.2m0-3.2l-3.2 3.2M234.7 412.2l3.2 3.2m0-3.2l-3.2 3.2M235.8 411.4l3.2 3.2m0-3.2l-3.2 3.2M236.9 410.7l3.2 3.2m0-3.2l-3.2 3.2M237.9 409.9l3.2 3.2m0-3.2l-3.2 3.2M238.9 409.2l3.2 3.2m0-3.2l-3.2 3.2M239.9 408.5l3.2 3.2m0-3.2l-3.2 3.2M240.9 407.8l3.2 3.2m0-3.2l-3.2 3.2M241.8 407.2l3.2 3.2m0-3.2l-3.2 3.2M242.7 406.5l3.2 3.2m0-3.2l-3.2 3.2M243.6 405.8l3.2 3.2m0-3.2l-3.2 3.2M244.5 405.1l3.2 3.2m0-3.2l-3.2 3.2M245.3 404.5l3.2 3.2m0-3.2l-3.2 3.2M246.2 403.8l3.2 3.2m0-3.2l-3.2 3.2M247 403.2l3.2 3.2m0-3.2l-3.2 3.2M247.8 402.6l3.2 3.2m0-3.2l-3.2 3.2M248.5 402.1l3.2 3.2m0-3.2l-3.2 3.2M249.3 401.8l3.2 3.2m0-3.2l-3.2 3.2M250 401.5l3.2 3.2m0-3.2l-3.2 3.2M250.7 401.3l3.2 3.2m0-3.2l-3.2 3.2M251.4 401.1l3.2 3.2m0-3.2l-3.2 3.2M252.1 400.8l3.2 3.2m0-3.2l-3.2 3.2M252.7 400.6l3.2 3.2m0-3.2l-3.2 3.2M253.4 400.4l3.2 3.2m0-3.2l-3.2 3.2M254 400.1l3.2 3.2m0-3.2l-3.2 3.2M254.6 399.9l3.2 3.2m0-3.2l-3.2 3.2M255.2 399.7l3.2 3.2m0-3.2l-3.2 3.2M255.8 399.5l3.2 3.2m0-3.2l-3.2 3.2M256.3 399.3l3.2 3.2m0-3.2l-3.2 3.2M256.9 399.1l3.2 3.2m0-3.2l-3.2 3.2M257.4 398.9l3.2 3.2m0-3.2l-3.2 3.2M258 398.8l3.2 3.2m0-3.2l-3.2 3.2M258.5 398.6l3.2 3.2m0-3.2l-3.2 3.2M259 398.4l3.2 3.2m0-3.2l-3.2 3.2M259.5 398.2l3.2 3.2m0-3.2l-3.2 3.2M260 398l3.2 3.2m0-3.2l-3.2 3.2M260.5 397.9l3.2 3.2m0-3.2l-3.2 3.2M261 397.8l3.2 3.2m0-3.2l-3.2 3.2M261.5 397.7l3.2 3.2m0-3.2l-3.2 3.2M262 397.6l3.2 3.2m0-3.2l-3.2 3.2M262.5 397.5l3.2 3.2m0-3.2l-3.2 3.2M263 397.4l3.2 3.2m0-3.2l-3.2 3.2M263.5 397.3l3.2 3.2m0-3.2l-3.2 3.2M263.9 397.2l3.2 3.2m0-3.2l-3.2 3.2M264.4 397.1l3.2 3.2m0-3.2l-3.2 3.2M264.9 397l3.2 3.2m0-3.2l-3.2 3.2M265.4 396.9l3.2 3.2m0-3.2l-3.2 3.2M265.9 396.8l3.2 3.2m0-3.2l-3.2 3.2M266.4 396.7l3.2 3.2m0-3.2l-3.2 3.2M266.9 396.6l3.2 3.2m0-3.2l-3.2 3.2M267.4 396.5l3.2 3.2m0-3.2l-3.2 3.2M267.9 396.4l3.2 3.2m0-3.2l-3.2 3.2M268.4 396.3l3.2 3.2m0-3.2l-3.2 3.2M268.9 396.2l3.2 3.2m0-3.2l-3.2 3.2M269.4 396.1l3.2 3.2m0-3.2l-3.2 3.2M269.9 396l3.2 3.2m0-3.2l-3.2 3.2M270.4 395.9l3.2 3.2m0-3.2l-3.2 3.2M270.8 395.8l3.2 3.2m0-3.2l-3.2 3.2M271.3 395.7l3.2 3.2m0-3.2l-3.2 3.2M271.8 395.6l3.2 3.2m0-3.2l-3.2 3.2M272.3 395.5l3.2 3.2m0-3.2l-3.2 3.2M272.8 395.4l3.2 3.2m0-3.2l-3.2 3.2M273.3 395.3l3.2 3.2m0-3.2l-3.2 3.2M273.8 395.3l3.2 3.2m0-3.2l-3.2 3.2M274.3 395.2l3.2 3.2m0-3.2l-3.2 3.2M274.8 395.2l3.2 3.2m0-3.2l-3.2 3.2M275.2 395.2l3.2 3.2m0-3.2l-3.2 3.2M275.7 395.1l3.2 3.2m0-3.2l-3.2 3.2M276.2 395.1l3.2 3.2m0-3.2l-3.2 3.2M276.7 395l3.2 3.2m0-3.2l-3.2 3.2M277.2 395l3.2 3.2m0-3.2l-3.2 3.2M277.7 395l3.2 3.2m0-3.2l-3.2 3.2M278.2 394.9l3.2 3.2m0-3.2l-3.2 3.2M278.6 394.9l3.2 3.2m0-3.2l-3.2 3.2M279.1 394.9l3.2 3.2m0-3.2l-3.2 3.2M279.6 394.8l3.2 3.2m0-3.2l-3.2 3.2M280.1 394.8l3.2 3.2m0-3.2l-3.2 3.2M280.6 394.8l3.2 3.2m0-3.2l-3.2 3.2M281 394.7l3.2 3.2m0-3.2l-3.2 3.2M281.5 394.7l3.2 3.2m0-3.2l-3.2 3.2M282 394.6l3.2 3.2m0-3.2l-3.2 3.2M282.5 394.6l3.2 3.2m0-3.2l-3.2 3.2M283 394.6l3.2 3.2m0-3.2l-3.2 3.2M283.4 394.5l3.2 3.2m0-3.2l-3.2 3.2M283.9 394.5l3.2 3.2m0-3.2l-3.2 3.2M284.4 394.5l3.2 3.2m0-3.2l-3.2 3.2M284.9 394.4l3.2 3.2m0-3.2l-3.2 3.2M285.4 394.4l3.2 3.2m0-3.2l-3.2 3.2M285.8 394.4l3.2 3.2m0-3.2l-3.2 3.2M286.3 394.3l3.2 3.2m0-3.2l-3.2 3.2M286.8 394.3l3.2 3.2m0-3.2l-3.2 3.2M287.3 394.2l3.2 3.2m0-3.2l-3.2 3.2M287.7 394.2l3.2 3.2m0-3.2l-3.2 3.2M288.2 394.2l3.2 3.2m0-3.2l-3.2 3.2M288.7 394.1l3.2 3.2m0-3.2l-3.2 3.2M289.2 394.1l3.2 3.2m0-3.2l-3.2 3.2M289.6 394.1l3.2 3.2m0-3.2l-3.2 3.2M290.1 394l3.2 3.2m0-3.2l-3.2 3.2M290.6 394l3.2 3.2m0-3.2l-3.2 3.2M291.1 394l3.2 3.2m0-3.2l-3.2 3.2M291.5 393.9l3.2 3.2m0-3.2l-3.2 3.2M292 393.9l3.2 3.2m0-3.2l-3.2 3.2M292.5 393.8l3.2 3.2m0-3.2l-3.2 3.2M293 393.8l3.2 3.2m0-3.2l-3.2 3.2M293.4 393.8l3.2 3.2m0-3.2l-3.2 3.2M293.9 393.7l3.2 3.2m0-3.2l-3.2 3.2M294.4 393.7l3.2 3.2m0-3.2l-3.2 3.2M294.8 393.7l3.2 3.2m0-3.2l-3.2 3.2M295.3 393.7l3.2 3.2m0-3.2l-3.2 3.2M295.8 393.7l3.2 3.2m0-3.2l-3.2 3.2M296.3 393.7l3.2 3.2m0-3.2l-3.2 3.2M296.7 393.7l3.2 3.2m0-3.2l-3.2 3.2M297.2 393.7l3.2 3.2m0-3.2l-3.2 3.2M297.7 393.7l3.2 3.2m0-3.2l-3.2 3.2M298.1 393.7l3.2 3.2m0-3.2l-3.2 3.2M298.6 393.6l3.2 3.2m0-3.2l-3.2 3.2M299.1 393.6l3.2 3.2m0-3.2l-3.2 3.2M299.5 393.6l3.2 3.2m0-3.2l-3.2 3.2M300 393.6l3.2 3.2m0-3.2l-3.2 3.2M300.5 393.6l3.2 3.2m0-3.2l-3.2 3.2M300.9 393.6l3.2 3.2m0-3.2l-3.2 3.2M301.4 393.6l3.2 3.2m0-3.2l-3.2 3.2M301.8 393.6l3.2 3.2m0-3.2l-3.2 3.2M302.3 393.6l3.2 3.2m0-3.2l-3.2 3.2M302.8 393.6l3.2 3.2m0-3.2l-3.2 3.2M303.2 393.6l3.2 3.2m0-3.2l-3.2 3.2M303.7 393.6l3.2 3.2m0-3.2l-3.2 3.2M304.2 393.6l3.2 3.2m0-3.2l-3.2 3.2M304.6 393.6l3.2 3.2m0-3.2l-3.2 3.2M305.1 393.6l3.2 3.2m0-3.2l-3.2 3.2M305.6 393.6l3.2 3.2m0-3.2l-3.2 3.2M306 393.6l3.2 3.2m0-3.2l-3.2 3.2M306.5 393.6l3.2 3.2m0-3.2l-3.2 3.2M306.9 393.5l3.2 3.2m0-3.2l-3.2 3.2M307.4 393.5l3.2 3.2m0-3.2l-3.2 3.2M307.9 393.5l3.2 3.2m0-3.2l-3.2 3.2M308.3 393.5l3.2 3.2m0-3.2l-3.2 3.2M308.8 393.5l3.2 3.2m0-3.2l-3.2 3.2M309.2 393.5l3.2 3.2m0-3.2l-3.2 3.2M309.7 393.5l3.2 3.2m0-3.2l-3.2 3.2M310.1 393.5l3.2 3.2m0-3.2l-3.2 3.2M310.6 393.5l3.2 3.2m0-3.2l-3.2 3.2M311.1 393.5l3.2 3.2m0-3.2l-3.2 3.2M311.5 393.5l3.2 3.2m0-3.2l-3.2 3.2M312 393.5l3.2 3.2m0-3.2l-3.2 3.2M312.4 393.5l3.2 3.2m0-3.2l-3.2 3.2M312.9 393.5l3.2 3.2m0-3.2l-3.2 3.2M313.3 393.5l3.2 3.2m0-3.2l-3.2 3.2M313.8 393.5l3.2 3.2m0-3.2l-3.2 3.2M314.2 393.5l3.2 3.2m0-3.2l-3.2 3.2M314.7 393.5l3.2 3.2m0-3.2l-3.2 3.2M315.2 393.4l3.2 3.2m0-3.2l-3.2 3.2M315.6 393.4l3.2 3.2m0-3.2l-3.2 3.2M316.1 393.4l3.2 3.2m0-3.2l-3.2 3.2M316.5 393.4l3.2 3.2m0-3.2l-3.2 3.2M317 393.4l3.2 3.2m0-3.2l-3.2 3.2M317.4 393.4l3.2 3.2m0-3.2l-3.2 3.2M317.9 393.4l3.2 3.2m0-3.2l-3.2 3.2M318.3 393.4l3.2 3.2m0-3.2l-3.2 3.2M318.8 393.4l3.2 3.2m0-3.2l-3.2 3.2M259.1 397.4l3.2 3.2m0-3.2l-3.2 3.2M276.6 395l3.2 3.2m0-3.2l-3.2 3.2M279.2 395l3.2 3.2m0-3.2l-3.2 3.2M292.9 393.8l3.2 3.2m0-3.2l-3.2 3.2M298.7 393.6l3.2 3.2m0-3.2l-3.2 3.2M308.2 392.7l3.2 3.2m0-3.2l-3.2 3.2" stroke="#00ffff" stroke-width="0.7" fill="none"/>
<path d="M398 627.4V632.8M395.1 630.4H400.3M395.6 627.4h4.7M395.6 632.8h4.7M395.1 628v4.7M400.3 628v4.7M400.6 627.7V633.2M398.2 630.3H403.1M398.2 627.7h4.7M398.2 633.2h4.7M398.2 627.9v4.7M403.1 627.9v4.7M403.2 628V633.3M400.3 630.3H405.5M400.9 628h4.7M400.9 633.3h4.7M400.3 628v4.7M405.5 628v4.7M405.8 627.4V632.4M403.2 629.8H408.6M403.5 627.4h4.7M403.5 632.4h4.7M403.2 627.4v4.7M408.6 627.4v4.7M408.4 627.1V632.3M406.1 629.6H410.8M406.1 627.1h4.7M406.1 632.3h4.7M406.1 627.3v4.7M410.8 627.3v4.7M411 627.4V632.5M408.4 629.7H413.7M408.7 627.4h4.7M408.7 632.5h4.7M408.4 627.4v4.7M413.7 627.4v4.7M413.6 626.4V632M411.1 629.4H416.2M411.3 626.4h4.7M411.3 632h4.7M411.1 627.1v4.7M416.2 627.1v4.7M417 626V631.7M414.5 629.1H419.6M414.6 626h4.7M414.6 631.7h4.7M414.5 626.8v4.7M419.6 626.8v4.7M422 625.9V631.4M419.6 628.8H424.9M419.7 625.9h4.7M419.7 631.4h4.7M419.6 626.5v4.7M424.9 626.5v4.7M428.5 625.5V631.1M426.2 628.3H431M426.2 625.5h4.7M426.2 631.1h4.7M426.2 625.9v4.7M431 625.9v4.7M435 625.2V630.3M431.9 627.7H438.2M432.7 625.2h4.7M432.7 630.3h4.7M431.9 625.3v4.7M438.2 625.3v4.7M441.5 624.4V630.3M438.7 627.6H444.6M439.2 624.4h4.7M439.2 630.3h4.7M438.7 625.2v4.7M444.6 625.2v4.7M448 624.6V630M445 627.3H450.7M445.7 624.6h4.7M445.7 630h4.7M445 624.9v4.7M450.7 624.9v4.7M454.5 623.8V629.4M451.4 626.6H457.4M452.2 623.8h4.7M452.2 629.4h4.7M451.4 624.3v4.7M457.4 624.3v4.7M460.9 623.4V628.4M457.8 625.9H463.4M458.5 623.4h4.7M458.5 628.4h4.7M457.8 623.6v4.7M463.4 623.6v4.7M467 622V627.8M464 625.1H469.8M464.6 622h4.7M464.6 627.8h4.7M464 622.7v4.7M469.8 622.7v4.7M472.7 621.5V627.2M469.8 624.6H475.8M470.4 621.5h4.7M470.4 627.2h4.7M469.8 622.3v4.7M475.8 622.3v4.7M477.7 621.1V627.3M474.3 623.9H481.1M475.3 621.1h4.7M475.3 627.3h4.7M474.3 621.5v4.7M481.1 621.5v4.7M482 620V627.2M478.8 623.6H485.5M479.7 620h4.7M479.7 627.2h4.7M478.8 621.3v4.7M485.5 621.3v4.7M485.9 619.3V625.5M482.1 622.6H489.7M483.6 619.3h4.7M483.6 625.5h4.7M482.1 620.2v4.7M489.7 620.2v4.7M489.6 618.6V625.3M486.4 621.9H493.4M487.3 618.6h4.7M487.3 625.3h4.7M486.4 619.6v4.7M493.4 619.6v4.7M493.1 618.5V625.9M490 621.8H496.7M490.8 618.5h4.7M490.8 625.9h4.7M490 619.5v4.7M496.7 619.5v4.7M496.5 616.5V624.5M493.1 620.7H499.8M494.1 616.5h4.7M494.1 624.5h4.7M493.1 618.4v4.7M499.8 618.4v4.7M499.6 616.4V624.1M495.9 620.6H503.8M497.3 616.4h4.7M497.3 624.1h4.7M495.9 618.3v4.7M503.8 618.3v4.7M502.7 615.8V623.3M498.2 619.7H507M500.3 615.8h4.7M500.3 623.3h4.7M498.2 617.4v4.7M507 617.4v4.7M505.6 614.7V623.1M501.5 619.2H510.4M503.3 614.7h4.7M503.3 623.1h4.7M501.5 616.9v4.7M510.4 616.9v4.7M508.6 613.9V622.8M503.8 618.5H512.6M506.2 613.9h4.7M506.2 622.8h4.7M503.8 616.1v4.7M512.6 616.1v4.7M511.5 612.7V621.8M506.7 617.5H516.1M509.1 612.7h4.7M509.1 621.8h4.7M506.7 615.2v4.7M516.1 615.2v4.7M514.4 612.3V622.3M510.2 617.3H518.7M512 612.3h4.7M512 622.3h4.7M510.2 615v4.7M518.7 615v4.7M517.2 611.1V620.8M512.5 616.4H522.1M514.9 611.1h4.7M514.9 620.8h4.7M512.5 614v4.7M522.1 614v4.7M520.1 611V620.5M515.2 615.6H524.4M517.7 611h4.7M517.7 620.5h4.7M515.2 613.3v4.7M524.4 613.3v4.7M522.9 609.5V620.5M517.5 614.5H527.3M520.5 609.5h4.7M520.5 620.5h4.7M517.5 612.2v4.7M527.3 612.2v4.7M525.6 607.6V619.5M520.8 613.6H530.5M523.3 607.6h4.7M523.3 619.5h4.7M520.8 611.2v4.7M530.5 611.2v4.7M528.4 606.2V619.7M523 613H533.5M526 606.2h4.7M526 619.7h4.7M523 610.6v4.7M533.5 610.6v4.7M531.1 605.1V618.5M525.9 611.8H536.3M528.7 605.1h4.7M528.7 618.5h4.7M525.9 609.5v4.7M536.3 609.5v4.7M533.8 604.4V616.9M529.3 611.3H539M531.4 604.4h4.7M531.4 616.9h4.7M529.3 608.9v4.7M539 608.9v4.7M536.4 604V616.7M531.2 610.5H541M534.1 604h4.7M534.1 616.7h4.7M531.2 608.2v4.7M541 608.2v4.7M539.1 601.7V616M533.4 609.3H543.9M536.7 601.7h4.7M536.7 616h4.7M533.4 606.9v4.7M543.9 606.9v4.7M541.7 599V614.5M536.1 607.5H546.3M539.3 599h4.7M539.3 614.5h4.7M536.1 605.1v4.7M546.3 605.1v4.7M544.3 598.1V613.3M538.5 605.9H549.8M541.9 598.1h4.7M541.9 613.3h4.7M538.5 603.5v4.7M549.8 603.5v4.7M546.8 596.4V612M541.5 604.8H551.6M544.4 596.4h4.7M544.4 612h4.7M541.5 602.4v4.7M551.6 602.4v4.7M549.2 595.8V612.3M543.9 603.2H555.3M546.9 595.8h4.7M546.9 612.3h4.7M543.9 600.9v4.7M555.3 600.9v4.7M551.7 592.4V609.7M545.6 602.1H557M549.3 592.4h4.7M549.3 609.7h4.7M545.6 599.8v4.7M557 599.8v4.7M554 590.3V609.5M548.7 600.8H559.7M551.7 590.3h4.7M551.7 609.5h4.7M548.7 598.5v4.7M559.7 598.5v4.7M556.3 590.3V608.3M551.2 599.1H561.5M554 590.3h4.7M554 608.3h4.7M551.2 596.7v4.7M561.5 596.7v4.7M558.6 587V606.7M552.5 596.9H563.7M556.3 587h4.7M556.3 606.7h4.7M552.5 594.5v4.7M563.7 594.5v4.7M560.8 585.9V604.6M556.2 595.2H566.1M558.5 585.9h4.7M558.5 604.6h4.7M556.2 592.8v4.7M566.1 592.8v4.7M563 582.7V601.5M557.5 592.5H567.8M560.7 582.7h4.7M560.7 601.5h4.7M557.5 590.1v4.7M567.8 590.1v4.7M565.2 578.5V601.6M559.5 589.9H570.2M562.8 578.5h4.7M562.8 601.6h4.7M559.5 587.5v4.7M570.2 587.5v4.7M567.3 577.6V596.3M562.3 587.1H573.3M564.9 577.6h4.7M564.9 596.3h4.7M562.3 584.7v4.7M573.3 584.7v4.7M569.3 573.2V596.7M564 584.8H574.9M567 573.2h4.7M567 596.7h4.7M564 582.5v4.7M574.9 582.5v4.7M571.3 570.5V593.6M565.6 582.1H576.1M569 570.5h4.7M569 593.6h4.7M565.6 579.8v4.7M576.1 579.8v4.7M573.3 567.5V591.5M568.2 580.2H578.5M570.9 567.5h4.7M570.9 591.5h4.7M568.2 577.9v4.7M578.5 577.9v4.7M575.2 565.9V590.6M570.5 578H580.2M572.8 565.9h4.7M572.8 590.6h4.7M570.5 575.6v4.7M580.2 575.6v4.7M577.1 566.7V588.4M571.4 576.5H582.8M574.7 566.7h4.7M574.7 588.4h4.7M571.4 574.2v4.7M582.8 574.2v4.7M578.9 564.5V586.2M572.7 575H584.1M576.5 564.5h4.7M576.5 586.2h4.7M572.7 572.6v4.7M584.1 572.6v4.7M580.6 563.4V584.7M574.6 574H585.7M578.3 563.4h4.7M578.3 584.7h4.7M574.6 571.7v4.7M585.7 571.7v4.7M582.3 559.7V584.4M576.3 572.3H587.1M580 559.7h4.7M580 584.4h4.7M576.3 569.9v4.7M587.1 569.9v4.7M584 559.7V584.4M578.5 570.9H588.8M581.6 559.7h4.7M581.6 584.4h4.7M578.5 568.5v4.7M588.8 568.5v4.7M585.6 559V580.5M579.8 569.6H590.8M583.2 559h4.7M583.2 580.5h4.7M579.8 567.3v4.7M590.8 567.3v4.7M587.1 557.9V579.8M581.1 568.6H593M584.8 557.9h4.7M584.8 579.8h4.7M581.1 566.2v4.7M593 566.2v4.7M588.7 554.4V577.8M583.8 566.5H593.5M586.3 554.4h4.7M586.3 577.8h4.7M583.8 564.2v4.7M593.5 564.2v4.7M590.1 551.9V578.2M585.4 565.6H596.1M587.8 551.9h4.7M587.8 578.2h4.7M585.4 563.2v4.7M596.1 563.2v4.7M591.6 550.4V576.3M585.4 564.3H596.8M589.2 550.4h4.7M589.2 576.3h4.7M585.4 562v4.7M596.8 562v4.7M593 551.1V575M587.4 562.9H598.3M590.6 551.1h4.7M590.6 575h4.7M587.4 560.6v4.7M598.3 560.6v4.7M594.3 549.9V572.2M589.2 561.3H599.9M592 549.9h4.7M592 572.2h4.7M589.2 559v4.7M599.9 559v4.7M595.6 546V573.2M590.1 559.9H601M593.3 546h4.7M593.3 573.2h4.7M590.1 557.6v4.7M601 557.6v4.7M596.9 547.5V572M590.9 558.7H602.2M594.6 547.5h4.7M594.6 572h4.7M590.9 556.4v4.7M602.2 556.4v4.7M598.2 543.5V571M592.9 557.1H602.9M595.9 543.5h4.7M595.9 571h4.7M592.9 554.8v4.7M602.9 554.8v4.7M599.5 541.8V568.5M594.7 555.7H605.1M597.1 541.8h4.7M597.1 568.5h4.7M594.7 553.4v4.7M605.1 553.4v4.7M600.7 540.6V567M594.9 553.8H606.3M598.3 540.6h4.7M598.3 567h4.7M594.9 551.4v4.7M606.3 551.4v4.7M601.9 541.7V567M596.1 552.7H608M599.5 541.7h4.7M599.5 567h4.7M596.1 550.4v4.7M608 550.4v4.7M603.1 538.4V564.9M597.6 551.3H609M600.7 538.4h4.7M600.7 564.9h4.7M597.6 549v4.7M609 549v4.7M604.3 538.2V561.7M598.3 549.5H609.5M601.9 538.2h4.7M601.9 561.7h4.7M598.3 547.1v4.7M609.5 547.1v4.7M605.4 534.9V560.4M599.5 548H610.3M603.1 534.9h4.7M603.1 560.4h4.7M599.5 545.7v4.7M610.3 545.7v4.7M606.5 534.9V558.4M601.7 547.1H611.9M604.2 534.9h4.7M604.2 558.4h4.7M601.7 544.7v4.7M611.9 544.7v4.7M607.7 530.7V557.2M602 545.5H613.6M605.3 530.7h4.7M605.3 557.2h4.7M602 543.1v4.7M613.6 543.1v4.7M608.7 530V555.3M604 544H614.6M606.4 530h4.7M606.4 555.3h4.7M604 541.6v4.7M614.6 541.6v4.7M609.8 530.6V556.9M604.1 542.7H616.1M607.5 530.6h4.7M607.5 556.9h4.7M604.1 540.3v4.7M616.1 540.3v4.7M610.9 528.4V555.6M606 541.2H616M608.5 528.4h4.7M608.5 555.6h4.7M606 538.8v4.7M616 538.8v4.7M611.9 527.1V552.6M606.4 539.8H617.1M609.6 527.1h4.7M609.6 552.6h4.7M606.4 537.5v4.7M617.1 537.5v4.7M613 526.6V551.6M607.5 538.4H619M610.6 526.6h4.7M610.6 551.6h4.7M607.5 536.1v4.7M619 536.1v4.7M614 523.8V550.6M608.9 537.4H619.9M611.6 523.8h4.7M611.6 550.6h4.7M608.9 535.1v4.7M619.9 535.1v4.7M615 521V547.6M609.8 536H620.9M612.6 521h4.7M612.6 547.6h4.7M609.8 533.6v4.7M620.9 533.6v4.7M616 522.9V547M610.9 535.3H622.2M613.6 522.9h4.7M613.6 547h4.7M610.9 533v4.7M622.2 533v4.7M616.9 522.1V546.1M611.1 534.2H621.8M614.6 522.1h4.7M614.6 546.1h4.7M611.1 531.8v4.7M621.8 531.8v4.7M617.9 518.1V545.5M612.4 532.9H623.4M615.5 518.1h4.7M615.5 545.5h4.7M612.4 530.6v4.7M623.4 530.6v4.7M618.8 516.5V546.9M613.8 531.7H623.9M616.5 516.5h4.7M616.5 546.9h4.7M613.8 529.3v4.7M623.9 529.3v4.7M619.7 519.3V543.3M613.7 531.2H624.8M617.4 519.3h4.7M617.4 543.3h4.7M613.7 528.8v4.7M624.8 528.8v4.7M620.6 516.3V543.8M615.5 530H625.4M618.3 516.3h4.7M618.3 543.8h4.7M615.5 527.6v4.7M625.4 527.6v4.7M621.5 517.7V541.9M615.5 529.3H626.5M619.2 517.7h4.7M619.2 541.9h4.7M615.5 526.9v4.7M626.5 526.9v4.7M622.4 515.5V543.6M616.3 528.3H627.1M620.1 515.5h4.7M620.1 543.6h4.7M616.3 525.9v4.7M627.1 525.9v4.7M623.3 513V541M618 527.7H629.2M620.9 513h4.7M620.9 541h4.7M618 525.4v4.7M629.2 525.4v4.7M624.2 514.9V540.3M618.2 526.5H630.3M621.8 514.9h4.7M621.8 540.3h4.7M618.2 524.2v4.7M630.3 524.2v4.7M625 511V539.5M620 525.9H631.1M622.7 511h4.7M622.7 539.5h4.7M620 523.5v4.7M631.1 523.5v4.7M625.9 513.4V537.1M620.9 525H632M623.5 513.4h4.7M623.5 537.1h4.7M620.9 522.7v4.7M632 522.7v4.7M626.7 511.2V539.6M622.1 524.4H631.7M624.4 511.2h4.7M624.4 539.6h4.7M622.1 522v4.7M631.7 522v4.7M627.6 511.2V535.6M621.8 524H633.4M625.2 511.2h4.7M625.2 535.6h4.7M621.8 521.6v4.7M633.4 521.6v4.7M628.4 508.7V535.9M622.9 522.9H634.1M626.1 508.7h4.7M626.1 535.9h4.7M622.9 520.5v4.7M634.1 520.5v4.7M629.3 509.4V535.8M624.8 522.3H635.2M626.9 509.4h4.7M626.9 535.8h4.7M624.8 519.9v4.7M635.2 519.9v4.7M630.1 509.6V533.8M624.2 521.4H634.6M627.7 509.6h4.7M627.7 533.8h4.7M624.2 519.1v4.7M634.6 519.1v4.7M630.9 508.1V533.9M624.9 520.5H636.8M628.6 508.1h4.7M628.6 533.9h4.7M624.9 518.1v4.7M636.8 518.1v4.7M631.7 506.8V533.8M626.9 519.3H636.8M629.4 506.8h4.7M629.4 533.8h4.7M626.9 517v4.7M636.8 517v4.7M632.5 503.2V531M627.7 518.5H638.4M630.2 503.2h4.7M630.2 531h4.7M627.7 516.1v4.7M638.4 516.1v4.7M633.3 505.1V529.7M628.1 517.7H638.3M631 505.1h4.7M631 529.7h4.7M628.1 515.3v4.7M638.3 515.3v4.7M634.1 503.9V529.8M628.6 517.1H640M631.8 503.9h4.7M631.8 529.8h4.7M628.6 514.8v4.7M640 514.8v4.7M634.9 503.7V528.6M630.4 516.2H640.2M632.6 503.7h4.7M632.6 528.6h4.7M630.4 513.8v4.7M640.2 513.8v4.7M635.7 503.7V528.2M630 515.8H641.5M633.3 503.7h4.7M633.3 528.2h4.7M630 513.4v4.7M641.5 513.4v4.7M636.5 500.6V529.9M631.7 514.4H641.9M634.1 500.6h4.7M634.1 529.9h4.7M631.7 512v4.7M641.9 512v4.7M637.2 498.8V527.8M632.3 513.5H641.9M634.9 498.8h4.7M634.9 527.8h4.7M632.3 511.2v4.7M641.9 511.2v4.7M638 500.6V528.2M632.5 513.1H643.2M635.6 500.6h4.7M635.6 528.2h4.7M632.5 510.8v4.7M643.2 510.8v4.7M638.7 497.3V524.3M633.1 512.3H644.1M636.4 497.3h4.7M636.4 524.3h4.7M633.1 509.9v4.7M644.1 509.9v4.7M639.5 496.4V523.7M633.7 511H644.3M637.1 496.4h4.7M637.1 523.7h4.7M633.7 508.7v4.7M644.3 508.7v4.7M640.2 497.3V526.5M635.1 510.5H645.7M637.9 497.3h4.7M637.9 526.5h4.7M635.1 508.1v4.7M645.7 508.1v4.7M641 494.6V525.2M635.9 509.8H645.6M638.6 494.6h4.7M638.6 525.2h4.7M635.9 507.4v4.7M645.6 507.4v4.7M641.7 495.2V522M636.6 509.3H646.2M639.4 495.2h4.7M639.4 522h4.7M636.6 507v4.7M646.2 507v4.7M642.4 492.5V522.1M637 508.5H647.7M640.1 492.5h4.7M640.1 522.1h4.7M637 506.2v4.7M647.7 506.2v4.7M643.2 494.3V521.2M638.9 507.8H648.7M640.8 494.3h4.7M640.8 521.2h4.7M638.9 505.5v4.7M648.7 505.5v4.7M643.9 494.7V519.6M638.8 506.8H648.5M641.5 494.7h4.7M641.5 519.6h4.7M638.8 504.4v4.7M648.5 504.4v4.7M644.6 491.4V521.9M639.6 506.4H650.3M642.2 491.4h4.7M642.2 521.9h4.7M639.6 504v4.7M650.3 504v4.7M645.3 492.5V519.9M639.5 505.2H649.7M642.9 492.5h4.7M642.9 519.9h4.7M639.5 502.9v4.7M649.7 502.9v4.7M646 489.5V518.9M640.6 504.3H651.2M643.6 489.5h4.7M643.6 518.9h4.7M640.6 502v4.7M651.2 502v4.7M646.7 488V516.9M641.6 503.7H650.9M644.3 488h4.7M644.3 516.9h4.7M641.6 501.3v4.7M650.9 501.3v4.7M647.4 491.5V519M642.7 503.7H652.6M645 491.5h4.7M645 519h4.7M642.7 501.4v4.7M652.6 501.4v4.7M648.1 490.3V518M642.4 503H653.6M645.7 490.3h4.7M645.7 518h4.7M642.4 500.7v4.7M653.6 500.7v4.7M648.8 487.3V514.9M643.9 502.5H653.9M646.4 487.3h4.7M646.4 514.9h4.7M643.9 500.1v4.7M653.9 500.1v4.7M649.4 487.6V518M644.8 502.2H654.7M647.1 487.6h4.7M647.1 518h4.7M644.8 499.9v4.7M654.7 499.9v4.7M650.1 485.7V516.8M645.5 501.4H655M647.8 485.7h4.7M647.8 516.8h4.7M645.5 499.1v4.7M655 499.1v4.7M650.8 485.7V513.8M646.4 500.6H655.9M648.5 485.7h4.7M648.5 513.8h4.7M646.4 498.3v4.7M655.9 498.3v4.7M651.5 486.6V517.5M647.3 500.4H655.8M649.1 486.6h4.7M649.1 517.5h4.7M647.3 498.1v4.7M655.8 498.1v4.7M652.2 486V513.1M647.9 500.1H656.6M649.8 486h4.7M649.8 513.1h4.7M647.9 497.7v4.7M656.6 497.7v4.7M652.8 481.8V513.5M648 499H657M650.5 481.8h4.7M650.5 513.5h4.7M648 496.6v4.7M657 496.6v4.7M653.5 484.4V516.2M648.2 499H658.2M651.2 484.4h4.7M651.2 516.2h4.7M648.2 496.7v4.7M658.2 496.7v4.7M654.2 481.5V515.1M649.6 498.1H658.6M651.8 481.5h4.7M651.8 515.1h4.7M649.6 495.8v4.7M658.6 495.8v4.7M654.8 480V511.7M649.8 497.4H659.2M652.5 480h4.7M652.5 511.7h4.7M649.8 495v4.7M659.2 495v4.7M655.5 479.2V515M651.1 497.2H659.6M653.2 479.2h4.7M653.2 515h4.7M651.1 494.8v4.7M659.6 494.8v4.7M656.2 478.8V513M651.1 496.9H660.6M653.8 478.8h4.7M653.8 513h4.7M651.1 494.5v4.7M660.6 494.5v4.7M656.8 479.6V510.4M652.6 496.1H661.8M654.5 479.6h4.7M654.5 510.4h4.7M652.6 493.8v4.7M661.8 493.8v4.7M657.5 480.9V510.1M652.6 495.4H661.7M655.1 480.9h4.7M655.1 510.1h4.7M652.6 493.1v4.7M661.7 493.1v4.7M658.1 477.2V513.6M653.4 495.3H663.1M655.8 477.2h4.7M655.8 513.6h4.7M653.4 493v4.7M663.1 493v4.7M658.8 476.4V508.6M654.4 494.3H663.3M656.4 476.4h4.7M656.4 508.6h4.7M654.4 491.9v4.7M663.3 491.9v4.7M659.4 476.3V508.6M654.4 494.2H663.9M657.1 476.3h4.7M657.1 508.6h4.7M654.4 491.9v4.7M663.9 491.9v4.7M660.1 475.6V508.6M656 493.5H664.1M657.7 475.6h4.7M657.7 508.6h4.7M656 491.1v4.7M664.1 491.1v4.7M660.7 478.3V511.2M656.7 493.2H664.8M658.4 478.3h4.7M658.4 511.2h4.7M656.7 490.8v4.7M664.8 490.8v4.7M661.4 476.5V507.2M657.1 492.7H666M659 476.5h4.7M659 507.2h4.7M657.1 490.4v4.7M666 490.4v4.7M662 474.7V510.1M658.1 492.2H665.9M659.7 474.7h4.7M659.7 510.1h4.7M658.1 489.9v4.7M665.9 489.9v4.7M662.7 475.6V508M657.8 491.9H666.6M660.3 475.6h4.7M660.3 508h4.7M657.8 489.5v4.7M666.6 489.5v4.7M663.3 475.1V507M658.8 492.1H667.6M660.9 475.1h4.7M660.9 507h4.7M658.8 489.7v4.7M667.6 489.7v4.7M663.9 474.1V507.5M659.2 491.5H668.3M661.6 474.1h4.7M661.6 507.5h4.7M659.2 489.1v4.7M668.3 489.1v4.7M664.6 472.3V507.8M660 491H668.7M662.2 472.3h4.7M662.2 507.8h4.7M660 488.7v4.7M668.7 488.7v4.7M665.2 475.8V508.4M661.4 491H669.6M662.8 475.8h4.7M662.8 508.4h4.7M661.4 488.6v4.7M669.6 488.6v4.7M665.8 473.4V510.6M662.2 490.8H670.4M663.5 473.4h4.7M663.5 510.6h4.7M662.2 488.5v4.7M670.4 488.5v4.7M666.4 471.9V506.2M662.3 490H671.3M664.1 471.9h4.7M664.1 506.2h4.7M662.3 487.6v4.7M671.3 487.6v4.7M667.1 472V508.5M662.9 490H671.8M664.7 472h4.7M664.7 508.5h4.7M662.9 487.6v4.7M671.8 487.6v4.7M667.7 470V505.9M663.9 489.5H671.7M665.3 470h4.7M665.3 505.9h4.7M663.9 487.1v4.7M671.7 487.1v4.7M668.3 471.9V507.4M663.9 489.7H672.2M665.9 471.9h4.7M665.9 507.4h4.7M663.9 487.3v4.7M672.2 487.3v4.7M668.9 472.1V507.3M665.1 488.8H673.6M666.6 472.1h4.7M666.6 507.3h4.7M665.1 486.4v4.7M673.6 486.4v4.7M669.5 472.1V505.6M665.2 489.1H673.7M667.2 472.1h4.7M667.2 505.6h4.7M665.2 486.8v4.7M673.7 486.8v4.7M670.1 468.3V508.4M665.7 488.6H674.6M667.8 468.3h4.7M667.8 508.4h4.7M665.7 486.3v4.7M674.6 486.3v4.7M670.7 468.4V505.3M667.2 488.3H674.2M668.4 468.4h4.7M668.4 505.3h4.7M667.2 486v4.7M674.2 486v4.7M671.3 470.9V508.7M666.9 488H675.8M669 470.9h4.7M669 508.7h4.7M666.9 485.7v4.7M675.8 485.7v4.7M671.9 470.7V504.1M668.1 487.5H675.4M669.6 470.7h4.7M669.6 504.1h4.7M668.1 485.2v4.7M675.4 485.2v4.7" stroke="#9932cc" stroke-width="0.7" fill="none"/>
<polyline points="398,630.4 400.6,630.3 403.2,630.3 405.8,629.8 408.4,629.6 411,629.7 413.6,629.4 417,629.1 422,628.8 428.5,628.3 435,627.7 441.5,627.6 448,627.3 454.5,626.6 460.9,625.9 467,625.1 472.7,624.6 477.7,623.9 482,623.6 485.9,622.6 489.6,621.9 493.1,621.8 496.5,620.7 499.6,620.6 502.7,619.7 505.6,619.2 508.6,618.5 511.5,617.5 514.4,617.3 517.2,616.4 520.1,615.6 522.9,614.5 525.6,613.6 528.4,613 531.1,611.8 533.8,611.3 536.4,610.5 539.1,609.3 541.7,607.5 544.3,605.9 546.8,604.8 549.2,603.2 551.7,602.1 554,600.8 556.3,599.1 558.6,596.9 560.8,595.2 563,592.5 565.2,589.9 567.3,587.1 569.3,584.8 571.3,582.1 573.3,580.2 575.2,578 577.1,576.5 578.9,575 580.6,574 582.3,572.3 584,570.9 585.6,569.6 587.1,568.6 588.7,566.5 590.1,565.6 591.6,564.3 593,562.9 594.3,561.3 595.6,559.9 596.9,558.7 598.2,557.1 599.5,555.7 600.7,553.8 601.9,552.7 603.1,551.3 604.3,549.5 605.4,548 606.5,547.1 607.7,545.5 608.7,544 609.8,542.7 610.9,541.2 611.9,539.8 613,538.4 614,537.4 615,536 616,535.3 616.9,534.2 617.9,532.9 618.8,531.7 619.7,531.2 620.6,530 621.5,529.3 622.4,528.3 623.3,527.7 624.2,526.5 625,525.9 625.9,525 626.7,524.4 627.6,524 628.4,522.9 629.3,522.3 630.1,521.4 630.9,520.5 631.7,519.3 632.5,518.5 633.3,517.7 634.1,517.1 634.9,516.2 635.7,515.8 636.5,514.4 637.2,513.5 638,513.1 638.7,512.3 639.5,511 640.2,510.5 641,509.8 641.7,509.3 642.4,508.5 643.2,507.8 643.9,506.8 644.6,506.4 645.3,505.2 646,504.3 646.7,503.7 647.4,503.7 648.1,503 648.8,502.5 649.4,502.2 650.1,501.4 650.8,500.6 651.5,500.4 652.2,500.1 652.8,499 653.5,499 654.2,498.1 654.8,497.4 655.5,497.2 656.2,496.9 656.8,496.1 657.5,495.4 658.1,495.3 658.8,494.3 659.4,494.2 660.1,493.5 660.7,493.2 661.4,492.7 662,492.2 662.7,491.9 663.3,492.1 663.9,491.5 664.6,491 665.2,491 665.8,490.8 666.4,490 667.1,490 667.7,489.5 668.3,489.7 668.9,488.8 669.5,489.1 670.1,488.6 670.7,488.3 671.3,488 671.9,487.5" stroke="#9932cc" stroke-width="0.7" fill="none"/>
<path d="M396.3 630.4a1.7 1.7 0 1 0 3.4 0a1.7 1.7 0 1 0-3.4 0M398.9 630.3a1.7 1.7 0 1 0 3.4 0a1.7 1.7 0 1 0-3.4 0M401.5 630.3a1.7 1.7 0 1 0 3.4 0a1.7 1.7 0 1 0-3.4 0M404.1 629.8a1.7 1.7 0 1 0 3.4 0a1.7 1.7 0 1 0-3.4 0M406.7 629.6a1.7 1.7 0 1 0 3.4 0a1.7 1.7 0 1 0-3.4 0M409.3 629.7a1.7 1.7 0 1 0 3.4 0a1.7 1.7 0 1 0-3.4 0M411.9 629.4a1.7 1.7 0 1 0 3.4 0a1.7 1.7 0 1 0-3.4 0M415.3 629.1a1.7 1.7 0 1 0 3.4 0a1.7 1.7 0 1 0-3.4 0M420.3 628.8a1.7 1.7 0 1 0 3.4 0a1.7 1.7 0 1 0-3.4 0M426.8 628.3a1.7 1.7 0 1 0 3.4 0a1.7 1.7 0 1 0-3.4 0M433.3 627.7a1.7 1.7 0 1 0 3.4 0a1.7 1.7 0 1 0-3.4 0M439.8 627.6a1.7 1.7 0 1 0 3.4 0a1.7 1.7 0 1 0-3.4 0M446.3 627.3a1.7 1.7 0 1 0 3.4 0a1.7 1.7 0 1 0-3.4 0M452.8 626.6a1.7 1.7 0 1 0 3.4 0a1.7 1.7 0 1 0-3.4 0M459.2 625.9a1.7 1.7 0 1 0 3.4 0a1.7 1.7 0 1 0-3.4 0M465.3 625.1a1.7 1.7 0 1 0 3.4 0a1.7 1.7 0 1 0-3.4 0M471 624.6a1.7 1.7 0 1 0 3.4 0a1.7 1.7 0 1 0-3.4 0M476 623.9a1.7 1.7 0 1 0 3.4 0a1.7 1.7 0 1 0-3.4 0M480.3 623.6a1.7 1.7 0 1 0 3.4 0a1.7 1.7 0 1 0-3.4 0M484.2 622.6a1.7 1.7 0 1 0 3.4 0a1.7 1.7 0 1 0-3.4 0M487.9 621.9a1.7 1.7 0 1 0 3.4 0a1.7 1.7 0 1 0-3.4 0M491.4 621.8a1.7 1.7 0 1 0 3.4 0a1.7 1.7 0 1 0-3.4 0M494.8 620.7a1.7 1.7 0 1 0 3.4 0a1.7 1.7 0 1 0-3.4 0M497.9 620.6a1.7 1.7 0 1 0 3.4 0a1.7 1.7 0 1 0-3.4 0M501 619.7a1.7 1.7 0 1 0 3.4 0a1.7 1.7 0 1 0-3.4 0M503.9 619.2a1.7 1.7 0 1 0 3.4 0a1.7 1.7 0 1 0-3.4 0M506.9 618.5a1.7 1.7 0 1 0 3.4 0a1.7 1.7 0 1 0-3.4 0M509.8 617.5a1.7 1.7 0 1 0 3.4 0a1.7 1.7 0 1 0-3.4 0M512.7 617.3a1.7 1.7 0 1 0 3.4 0a1.7 1.7 0 1 0-3.4 0M515.5 616.4a1.7 1.7 0 1 0 3.4 0a1.7 1.7 0 1 0-3.4 0M518.4 615.6a1.7 1.7 0 1 0 3.4 0a1.7 1.7 0 1 0-3.4 0M521.2 614.5a1.7 1.7 0 1 0 3.4 0a1.7 1.7 0 1 0-3.4 0M523.9 613.6a1.7 1.7 0 1 0 3.4 0a1.7 1.7 0 1 0-3.4 0M526.7 613a1.7 1.7 0 1 0 3.4 0a1.7 1.7 0 1 0-3.4 0M529.4 611.8a1.7 1.7 0 1 0 3.4 0a1.7 1.7 0 1 0-3.4 0M532.1 611.3a1.7 1.7 0 1 0 3.4 0a1.7 1.7 0 1 0-3.4 0M534.7 610.5a1.7 1.7 0 1 0 3.4 0a1.7 1.7 0 1 0-3.4 0M537.4 609.3a1.7 1.7 0 1 0 3.4 0a1.7 1.7 0 1 0-3.4 0M540 607.5a1.7 1.7 0 1 0 3.4 0a1.7 1.7 0 1 0-3.4 0M542.6 605.9a1.7 1.7 0 1 0 3.4 0a1.7 1.7 0 1 0-3.4 0M545.1 604.8a1.7 1.7 0 1 0 3.4 0a1.7 1.7 0 1 0-3.4 0M547.5 603.2a1.7 1.7 0 1 0 3.4 0a1.7 1.7 0 1 0-3.4 0M550 602.1a1.7 1.7 0 1 0 3.4 0a1.7 1.7 0 1 0-3.4 0M552.3 600.8a1.7 1.7 0 1 0 3.4 0a1.7 1.7 0 1 0-3.4 0M554.6 599.1a1.7 1.7 0 1 0 3.4 0a1.7 1.7 0 1 0-3.4 0M556.9 596.9a1.7 1.7 0 1 0 3.4 0a1.7 1.7 0 1 0-3.4 0M559.1 595.2a1.7 1.7 0 1 0 3.4 0a1.7 1.7 0 1 0-3.4 0M561.3 592.5a1.7 1.7 0 1 0 3.4 0a1.7 1.7 0 1 0-3.4 0M563.5 589.9a1.7 1.7 0 1 0 3.4 0a1.7 1.7 0 1 0-3.4 0M565.6 587.1a1.7 1.7 0 1 0 3.4 0a1.7 1.7 0 1 0-3.4 0M567.6 584.8a1.7 1.7 0 1 0 3.4 0a1.7 1.7 0 1 0-3.4 0M569.6 582.1a1.7 1.7 0 1 0 3.4 0a1.7 1.7 0 1 0-3.4 0M571.6 580.2a1.7 1.7 0 1 0 3.4 0a1.7 1.7 0 1 0-3.4 0M573.5 578a1.7 1.7 0 1 0 3.4 0a1.7 1.7 0 1 0-3.4 0M575.4 576.5a1.7 1.7 0 1 0 3.4 0a1.7 1.7 0 1 0-3.4 0M577.2 575a1.7 1.7 0 1 0 3.4 0a1.7 1.7 0 1 0-3.4 0M578.9 574a1.7 1.7 0 1 0 3.4 0a1.7 1.7 0 1 0-3.4 0M580.6 572.3a1.7 1.7 0 1 0 3.4 0a1.7 1.7 0 1 0-3.4 0M582.3 570.9a1.7 1.7 0 1 0 3.4 0a1.7 1.7 0 1 0-3.4 0M583.9 569.6a1.7 1.7 0 1 0 3.4 0a1.7 1.7 0 1 0-3.4 0M585.4 568.6a1.7 1.7 0 1 0 3.4 0a1.7 1.7 0 1 0-3.4 0M587 566.5a1.7 1.7 0 1 0 3.4 0a1.7 1.7 0 1 0-3.4 0M588.4 565.6a1.7 1.7 0 1 0 3.4 0a1.7 1.7 0 1 0-3.4 0M589.9 564.3a1.7 1.7 0 1 0 3.4 0a1.7 1.7 0 1 0-3.4 0M591.3 562.9a1.7 1.7 0 1 0 3.4 0a1.7 1.7 0 1 0-3.4 0M592.6 561.3a1.7 1.7 0 1 0 3.4 0a1.7 1.7 0 1 0-3.4 0M593.9 559.9a1.7 1.7 0 1 0 3.4 0a1.7 1.7 0 1 0-3.4 0M595.2 558.7a1.7 1.7 0 1 0 3.4 0a1.7 1.7 0 1 0-3.4 0M596.5 557.1a1.7 1.7 0 1 0 3.4 0a1.7 1.7 0 1 0-3.4 0M597.8 555.7a1.7 1.7 0 1 0 3.4 0a1.7 1.7 0 1 0-3.4 0M599 553.8a1.7 1.7 0 1 0 3.4 0a1.7 1.7 0 1 0-3.4 0M600.2 552.7a1.7 1.7 0 1 0 3.4 0a1.7 1.7 0 1 0-3.4 0M601.4 551.3a1.7 1.7 0 1 0 3.4 0a1.7 1.7 0 1 0-3.4 0M602.6 549.5a1.7 1.7 0 1 0 3.4 0a1.7 1.7 0 1 0-3.4 0M603.7 548a1.7 1.7 0 1 0 3.4 0a1.7 1.7 0 1 0-3.4 0M604.8 547.1a1.7 1.7 0 1 0 3.4 0a1.7 1.7 0 1 0-3.4 0M606 545.5a1.7 1.7 0 1 0 3.4 0a1.7 1.7 0 1 0-3.4 0M607 544a1.7 1.7 0 1 0 3.4 0a1.7 1.7 0 1 0-3.4 0M608.1 542.7a1.7 1.7 0 1 0 3.4 0a1.7 1.7 0 1 0-3.4 0M609.2 541.2a1.7 1.7 0 1 0 3.4 0a1.7 1.7 0 1 0-3.4 0M610.2 539.8a1.7 1.7 0 1 0 3.4 0a1.7 1.7 0 1 0-3.4 0M611.3 538.4a1.7 1.7 0 1 0 3.4 0a1.7 1.7 0 1 0-3.4 0M612.3 537.4a1.7 1.7 0 1 0 3.4 0a1.7 1.7 0 1 0-3.4 0M613.3 536a1.7 1.7 0 1 0 3.4 0a1.7 1.7 0 1 0-3.4 0M614.3 535.3a1.7 1.7 0 1 0 3.4 0a1.7 1.7 0 1 0-3.4 0M615.2 534.2a1.7 1.7 0 1 0 3.4 0a1.7 1.7 0 1 0-3.4 0M616.2 532.9a1.7 1.7 0 1 0 3.4 0a1.7 1.7 0 1 0-3.4 0M617.1 531.7a1.7 1.7 0 1 0 3.4 0a1.7 1.7 0 1 0-3.4 0M618 531.2a1.7 1.7 0 1 0 3.4 0a1.7 1.7 0 1 0-3.4 0M618.9 530a1.7 1.7 0 1 0 3.4 0a1.7 1.7 0 1 0-3.4 0M619.8 529.3a1.7 1.7 0 1 0 3.4 0a1.7 1.7 0 1 0-3.4 0M620.7 528.3a1.7 1.7 0 1 0 3.4 0a1.7 1.7 0 1 0-3.4 0M621.6 527.7a1.7 1.7 0 1 0 3.4 0a1.7 1.7 0 1 0-3.4 0M622.5 526.5a1.7 1.7 0 1 0 3.4 0a1.7 1.7 0 1 0-3.4 0M623.3 525.9a1.7 1.7 0 1 0 3.4 0a1.7 1.7 0 1 0-3.4 0M624.2 525a1.7 1.7 0 1 0 3.4 0a1.7 1.7 0 1 0-3.4 0M625 524.4a1.7 1.7 0 1 0 3.4 0a1.7 1.7 0 1 0-3.4 0M625.9 524a1.7 1.7 0 1 0 3.4 0a1.7 1.7 0 1 0-3.4 0M626.7 522.9a1.7 1.7 0 1 0 3.4 0a1.7 1.7 0 1 0-3.4 0M627.6 522.3a1.7 1.7 0 1 0 3.4 0a1.7 1.7 0 1 0-3.4 0M628.4 521.4a1.7 1.7 0 1 0 3.4 0a1.7 1.7 0 1 0-3.4 0M629.2 520.5a1.7 1.7 0 1 0 3.4 0a1.7 1.7 0 1 0-3.4 0M630 519.3a1.7 1.7 0 1 0 3.4 0a1.7 1.7 0 1 0-3.4 0M630.8 518.5a1.7 1.7 0 1 0 3.4 0a1.7 1.7 0 1 0-3.4 0M631.6 517.7a1.7 1.7 0 1 0 3.4 0a1.7 1.7 0 1 0-3.4 0M632.4 517.1a1.7 1.7 0 1 0 3.4 0a1.7 1.7 0 1 0-3.4 0M633.2 516.2a1.7 1.7 0 1 0 3.4 0a1.7 1.7 0 1 0-3.4 0M634 515.8a1.7 1.7 0 1 0 3.4 0a1.7 1.7 0 1 0-3.4 0M634.8 514.4a1.7 1.7 0 1 0 3.4 0a1.7 1.7 0 1 0-3.4 0M635.5 513.5a1.7 1.7 0 1 0 3.4 0a1.7 1.7 0 1 0-3.4 0M636.3 513.1a1.7 1.7 0 1 0 3.4 0a1.7 1.7 0 1 0-3.4 0M637 512.3a1.7 1.7 0 1 0 3.4 0a1.7 1.7 0 1 0-3.4 0M637.8 511a1.7 1.7 0 1 0 3.4 0a1.7 1.7 0 1 0-3.4 0M638.5 510.5a1.7 1.7 0 1 0 3.4 0a1.7 1.7 0 1 0-3.4 0M639.3 509.8a1.7 1.7 0 1 0 3.4 0a1.7 1.7 0 1 0-3.4 0M640 509.3a1.7 1.7 0 1 0 3.4 0a1.7 1.7 0 1 0-3.4 0M640.7 508.5a1.7 1.7 0 1 0 3.4 0a1.7 1.7 0 1 0-3.4 0M641.5 507.8a1.7 1.7 0 1 0 3.4 0a1.7 1.7 0 1 0-3.4 0M642.2 506.8a1.7 1.7 0 1 0 3.4 0a1.7 1.7 0 1 0-3.4 0M642.9 506.4a1.7 1.7 0 1 0 3.4 0a1.7 1.7 0 1 0-3.4 0M643.6 505.2a1.7 1.7 0 1 0 3.4 0a1.7 1.7 0 1 0-3.4 0M644.3 504.3a1.7 1.7 0 1 0 3.4 0a1.7 1.7 0 1 0-3.4 0M645 503.7a1.7 1.7 0 1 0 3.4 0a1.7 1.7 0 1 0-3.4 0M645.7 503.7a1.7 1.7 0 1 0 3.4 0a1.7 1.7 0 1 0-3.4 0M646.4 503a1.7 1.7 0 1 0 3.4 0a1.7 1.7 0 1 0-3.4 0M647.1 502.5a1.7 1.7 0 1 0 3.4 0a1.7 1.7 0 1 0-3.4 0M647.7 502.2a1.7 1.7 0 1 0 3.4 0a1.7 1.7 0 1 0-3.4 0M648.4 501.4a1.7 1.7 0 1 0 3.4 0a1.7 1.7 0 1 0-3.4 0M649.1 500.6a1.7 1.7 0 1 0 3.4 0a1.7 1.7 0 1 0-3.4 0M649.8 500.4a1.7 1.7 0 1 0 3.4 0a1.7 1.7 0 1 0-3.4 0M650.5 500.1a1.7 1.7 0 1 0 3.4 0a1.7 1.7 0 1 0-3.4 0M651.1 499a1.7 1.7 0 1 0 3.4 0a1.7 1.7 0 1 0-3.4 0M651.8 499a1.7 1.7 0 1 0 3.4 0a1.7 1.7 0 1 0-3.4 0M652.5 498.1a1.7 1.7 0 1 0 3.4 0a1.7 1.7 0 1 0-3.4 0M653.1 497.4a1.7 1.7 0 1 0 3.4 0a1.7 1.7 0 1 0-3.4 0M653.8 497.2a1.7 1.7 0 1 0 3.4 0a1.7 1.7 0 1 0-3.4 0M654.5 496.9a1.7 1.7 0 1 0 3.4 0a1.7 1.7 0 1 0-3.4 0M655.1 496.1a1.7 1.7 0 1 0 3.4 0a1.7 1.7 0 1 0-3.4 0M655.8 495.4a1.7 1.7 0 1 0 3.4 0a1.7 1.7 0 1 0-3.4 0M656.4 495.3a1.7 1.7 0 1 0 3.4 0a1.7 1.7 0 1 0-3.4 0M657.1 494.3a1.7 1.7 0 1 0 3.4 0a1.7 1.7 0 1 0-3.4 0M657.7 494.2a1.7 1.7 0 1 0 3.4 0a1.7 1.7 0 1 0-3.4 0M658.4 493.5a1.7 1.7 0 1 0 3.4 0a1.7 1.7 0 1 0-3.4 0M659 493.2a1.7 1.7 0 1 0 3.4 0a1.7 1.7 0 1 0-3.4 0M659.7 492.7a1.7 1.7 0 1 0 3.4 0a1.7 1.7 0 1 0-3.4 0M660.3 492.2a1.7 1.7 0 1 0 3.4 0a1.7 1.7 0 1 0-3.4 0M661 491.9a1.7 1.7 0 1 0 3.4 0a1.7 1.7 0 1 0-3.4 0M661.6 492.1a1.7 1.7 0 1 0 3.4 0a1.7 1.7 0 1 0-3.4 0M662.2 491.5a1.7 1.7 0 1 0 3.4 0a1.7 1.7 0 1 0-3.4 0M662.9 491a1.7 1.7 0 1 0 3.4 0a1.7 1.7 0 1 0-3.4 0M663.5 491a1.7 1.7 0 1 0 3.4 0a1.7 1.7 0 1 0-3.4 0M664.1 490.8a1.7 1.7 0 1 0 3.4 0a1.7 1.7 0 1 0-3.4 0M664.7 490a1.7 1.7 0 1 0 3.4 0a1.7 1.7 0 1 0-3.4 0M665.4 490a1.7 1.7 0 1 0 3.4 0a1.7 1.7 0 1 0-3.4 0M666 489.5a1.7 1.7 0 1 0 3.4 0a1.7 1.7 0 1 0-3.4 0M666.6 489.7a1.7 1.7 0 1 0 3.4 0a1.7 1.7 0 1 0-3.4 0M667.2 488.8a1.7 1.7 0 1 0 3.4 0a1.7 1.7 0 1 0-3.4 0M667.8 489.1a1.7 1.7 0 1 0 3.4 0a1.7 1.7 0 1 0-3.4 0M668.4 488.6a1.7 1.7 0 1 0 3.4 0a1.7 1.7 0 1 0-3.4 0M669 488.3a1.7 1.7 0 1 0 3.4 0a1.7 1.7 0 1 0-3.4 0M669.6 488a1.7 1.7 0 1 0 3.4 0a1.7 1.7 0 1 0-3.4 0M670.2 487.5a1.7 1.7 0 1 0 3.4 0a1.7 1.7 0 1 0-3.4 0" stroke="#9932cc" stroke-width="0.7" fill="none"/>
<path d="M397 602.8V620M390.8 611.2H403.6M394.6 602.8h4.7M394.6 620h4.7M390.8 608.8v4.7M403.6 608.8v4.7M398.9 600.6V618.1M391.7 609.8H406.1M396.5 600.6h4.7M396.5 618.1h4.7M391.7 607.4v4.7M406.1 607.4v4.7M400.8 597.2V614M394 606.4H409.1M398.4 597.2h4.7M398.4 614h4.7M394 604.1v4.7M409.1 604.1v4.7M402.7 596.8V614.2M394.3 606H410M400.3 596.8h4.7M400.3 614.2h4.7M394.3 603.7v4.7M410 603.7v4.7M404.6 592.8V610.2M396.7 601.4H412.3M402.2 592.8h4.7M402.2 610.2h4.7M396.7 599v4.7M412.3 599v4.7M406.5 590.5V609.1M397.9 599.7H415.8M404.1 590.5h4.7M404.1 609.1h4.7M397.9 597.3v4.7M415.8 597.3v4.7M408.4 587.8V606.5M399.4 598.2H417M406 587.8h4.7M406 606.5h4.7M399.4 595.8v4.7M417 595.8v4.7M418.7 577.6V599.3M404.8 588.8H432M416.3 577.6h4.7M416.3 599.3h4.7M404.8 586.4v4.7M432 586.4v4.7M431 568.2V594.8M411.3 581.5H452.6M428.6 568.2h4.7M428.6 594.8h4.7M411.3 579.1v4.7M452.6 579.1v4.7M442.2 562.4V586.4M420.2 574.2H460.7M439.8 562.4h4.7M439.8 586.4h4.7M420.2 571.9v4.7M460.7 571.9v4.7M452.6 554.1V577.2M432.3 565.8H473.6M450.2 554.1h4.7M450.2 577.2h4.7M432.3 563.4v4.7M473.6 563.4v4.7M461.8 548.1V572M445.6 559.4H477.7M459.4 548.1h4.7M459.4 572h4.7M445.6 557v4.7M477.7 557v4.7M469.2 540V563.9M456.2 551.7H484.9M466.8 540h4.7M466.8 563.9h4.7M456.2 549.4v4.7M484.9 549.4v4.7M475.1 533.5V557.5M461.7 545H488.6M472.8 533.5h4.7M472.8 557.5h4.7M461.7 542.6v4.7M488.6 542.6v4.7M480.4 525.1V549.6M467.2 537.3H491.4M478 525.1h4.7M478 549.6h4.7M467.2 534.9v4.7M491.4 534.9v4.7M485.1 518.4V541.2M473.5 529.7H495.9M482.8 518.4h4.7M482.8 541.2h4.7M473.5 527.4v4.7M495.9 527.4v4.7M489.2 511.7V534.2M480 523.4H499.7M486.8 511.7h4.7M486.8 534.2h4.7M480 521v4.7M499.7 521v4.7M493.7 506.8V529.7M484.6 517.9H503M491.3 506.8h4.7M491.3 529.7h4.7M484.6 515.6v4.7M503 515.6v4.7M497.6 502.4V526.3M487.9 513.4H507M495.3 502.4h4.7M495.3 526.3h4.7M487.9 511v4.7M507 511v4.7M501.1 498.5V522.1M491.8 509.5H509.5M498.8 498.5h4.7M498.8 522.1h4.7M491.8 507.1v4.7M509.5 507.1v4.7M504.3 494.7V518.4M495.7 505.5H513M501.9 494.7h4.7M501.9 518.4h4.7M495.7 503.1v4.7M513 503.1v4.7M507.5 491.2V514.3M499.3 501.7H516.3M505.1 491.2h4.7M505.1 514.3h4.7M499.3 499.3v4.7M516.3 499.3v4.7M510.6 486V509.8M502.4 498.2H518.6M508.2 486h4.7M508.2 509.8h4.7M502.4 495.8v4.7M518.6 495.8v4.7M513.7 482.4V505.5M505.1 494.6H523M511.3 482.4h4.7M511.3 505.5h4.7M505.1 492.2v4.7M523 492.2v4.7M516.8 477.1V502.1M508.3 490H524.4M514.4 477.1h4.7M514.4 502.1h4.7M508.3 487.6v4.7M524.4 487.6v4.7M519.8 471.5V497M511.9 484.1H527.2M517.5 471.5h4.7M517.5 497h4.7M511.9 481.8v4.7M527.2 481.8v4.7M522.8 468.1V491.6M514 480H531.5M520.5 468.1h4.7M520.5 491.6h4.7M514 477.7v4.7M531.5 477.7v4.7M525.8 464.3V488M517.8 476H534.3M523.5 464.3h4.7M523.5 488h4.7M517.8 473.7v4.7M534.3 473.7v4.7M528.8 460.1V484.9M521.3 472.5H537.4M526.5 460.1h4.7M526.5 484.9h4.7M521.3 470.1v4.7M537.4 470.1v4.7M531.8 458.8V480.5M523.9 469.4H538.6M529.4 458.8h4.7M529.4 480.5h4.7M523.9 467v4.7M538.6 467v4.7M534.7 454.3V477.1M527.6 466.1H541.3M532.3 454.3h4.7M532.3 477.1h4.7M527.6 463.7v4.7M541.3 463.7v4.7M537.6 451.8V474.2M531.3 462.8H545.1M535.2 451.8h4.7M535.2 474.2h4.7M531.3 460.4v4.7M545.1 460.4v4.7M540.4 447.6V470.9M533.7 459.9H547.5M538.1 447.6h4.7M538.1 470.9h4.7M533.7 457.5v4.7M547.5 457.5v4.7M543.3 445.9V468.1M537.1 457H549.5M540.9 445.9h4.7M540.9 468.1h4.7M537.1 454.6v4.7M549.5 454.6v4.7M546.1 443.7V462.8M539.9 453.6H552.2M543.7 443.7h4.7M543.7 462.8h4.7M539.9 451.2v4.7M552.2 451.2v4.7M548.9 441.8V460.4M542.8 450.2H554.2M546.5 441.8h4.7M546.5 460.4h4.7M542.8 447.8v4.7M554.2 447.8v4.7M551.5 437.1V455.1M546.3 446.8H556.9M549.2 437.1h4.7M549.2 455.1h4.7M546.3 444.5v4.7M556.9 444.5v4.7M554.1 435.6V451.4M549.9 443.6H558.8M551.8 435.6h4.7M551.8 451.4h4.7M549.9 441.3v4.7M558.8 441.3v4.7M556.6 433.5V448.8M552.1 441H560.7M554.3 433.5h4.7M554.3 448.8h4.7M552.1 438.6v4.7M560.7 438.6v4.7M559 431.3V445.4M554.6 438.7H563.6M556.7 431.3h4.7M556.7 445.4h4.7M554.6 436.3v4.7M563.6 436.3v4.7M561.4 429.5V443.3M557 436.5H565.5M559 429.5h4.7M559 443.3h4.7M557 434.1v4.7M565.5 434.1v4.7M563.6 426.6V441.9M559.6 434.3H567.6M561.3 426.6h4.7M561.3 441.9h4.7M559.6 432v4.7M567.6 432v4.7M565.8 425.3V439.4M561.8 432.3H569.8M563.4 425.3h4.7M563.4 439.4h4.7M561.8 430v4.7M569.8 430v4.7M567.9 424.1V437.6M564 430.6H571.4M565.5 424.1h4.7M565.5 437.6h4.7M564 428.3v4.7M571.4 428.3v4.7M569.9 422.2V435.1M566.3 428.9H573.8M567.6 422.2h4.7M567.6 435.1h4.7M566.3 426.6v4.7M573.8 426.6v4.7M571.9 420.5V433.4M568.3 427.3H575.7M569.5 420.5h4.7M569.5 433.4h4.7M568.3 424.9v4.7M575.7 424.9v4.7M573.8 419.2V432.2M569.8 425.7H577M571.5 419.2h4.7M571.5 432.2h4.7M569.8 423.4v4.7M577 423.4v4.7M575.6 418.3V429.8M572.2 424.2H579M573.3 418.3h4.7M573.3 429.8h4.7M572.2 421.9v4.7M579 421.9v4.7M577.4 417.2V429M573.8 423H580.5M575.1 417.2h4.7M575.1 429h4.7M573.8 420.6v4.7M580.5 420.6v4.7M579.1 416.3V427.7M575.8 421.8H582.4M576.8 416.3h4.7M576.8 427.7h4.7M575.8 419.4v4.7M582.4 419.4v4.7M580.8 415.5V426.1M577.6 420.6H583.9M578.4 415.5h4.7M578.4 426.1h4.7M577.6 418.3v4.7M583.9 418.3v4.7M582.4 415V424.2M578.9 419.5H585.3M580 415h4.7M580 424.2h4.7M578.9 417.2v4.7M585.3 417.2v4.7M583.9 413.6V423.2M580.4 418.5H587.4M581.6 413.6h4.7M581.6 423.2h4.7M580.4 416.1v4.7M587.4 416.1v4.7M585.4 413.1V421.9M582.4 417.4H588.3M583 413.1h4.7M583 421.9h4.7M582.4 415.1v4.7M588.3 415.1v4.7M586.8 411.8V421.7M583.7 416.5H590.1M584.5 411.8h4.7M584.5 421.7h4.7M583.7 414.1v4.7M590.1 414.1v4.7M588.2 410.9V420.6M585.1 415.6H591.5M585.8 410.9h4.7M585.8 420.6h4.7M585.1 413.2v4.7M591.5 413.2v4.7M589.5 410.6V419.1M586.7 414.7H592.7M587.2 410.6h4.7M587.2 419.1h4.7M586.7 412.3v4.7M592.7 412.3v4.7M590.8 409.3V417.9M587.7 413.8H594M588.4 409.3h4.7M588.4 417.9h4.7M587.7 411.5v4.7M594 411.5v4.7M592 408.9V417.8M589.3 413H595M589.7 408.9h4.7M589.7 417.8h4.7M589.3 410.7v4.7M595 410.7v4.7M593.2 407.5V416.9M590.2 412.2H596M590.9 407.5h4.7M590.9 416.9h4.7M590.2 409.9v4.7M596 409.9v4.7M594.4 407.5V415.5M591.4 411.5H597.3M592 407.5h4.7M592 415.5h4.7M591.4 409.1v4.7M597.3 409.1v4.7M595.5 406.9V415.2M592.8 410.8H598.7M593.1 406.9h4.7M593.1 415.2h4.7M592.8 408.4v4.7M598.7 408.4v4.7M596.5 406.3V414.5M593.2 410.1H599.8M594.2 406.3h4.7M594.2 414.5h4.7M593.2 407.8v4.7M599.8 407.8v4.7M597.5 405.7V413.8M594.8 409.6H600.4M595.2 405.7h4.7M595.2 413.8h4.7M594.8 407.2v4.7M600.4 407.2v4.7M598.5 405.6V412.5M595.2 409.1H601.4M596.2 405.6h4.7M596.2 412.5h4.7M595.2 406.7v4.7M601.4 406.7v4.7M599.5 405.1V412.7M596.3 408.6H602.6M597.1 405.1h4.7M597.1 412.7h4.7M596.3 406.2v4.7M602.6 406.2v4.7M600.4 404.6V411.4M597.7 408.1H603.5M598.1 404.6h4.7M598.1 411.4h4.7M597.7 405.8v4.7M603.5 405.8v4.7M601.3 403.7V411.3M598.5 407.6H604.1M599 403.7h4.7M599 411.3h4.7M598.5 405.3v4.7M604.1 405.3v4.7M602.2 403.4V410.9M599.2 407.2H605.2M599.8 403.4h4.7M599.8 410.9h4.7M599.2 404.8v4.7M605.2 404.8v4.7M603.1 403.7V409.9M599.7 406.7H605.7M600.7 403.7h4.7M600.7 409.9h4.7M599.7 404.4v4.7M605.7 404.4v4.7M603.9 402.7V409.4M600.7 406.3H606.7M601.6 402.7h4.7M601.6 409.4h4.7M600.7 403.9v4.7M606.7 403.9v4.7M604.8 402.9V409.3M601.4 405.8H607.8M602.4 402.9h4.7M602.4 409.3h4.7M601.4 403.5v4.7M607.8 403.5v4.7M605.6 401.9V408.8M602.3 405.4H608.6M603.2 401.9h4.7M603.2 408.8h4.7M602.3 403.1v4.7M608.6 403.1v4.7M606.4 401.6V408.3M603.5 405H609.4M604.1 401.6h4.7M604.1 408.3h4.7M603.5 402.7v4.7M609.4 402.7v4.7M607.2 401.3V407.5M604.3 404.7H610M604.9 401.3h4.7M604.9 407.5h4.7M604.3 402.3v4.7M610 402.3v4.7M608 401V407.4M604.8 404.3H611M605.7 401h4.7M605.7 407.4h4.7M604.8 402v4.7M611 402v4.7M608.8 401.1V407M605.8 404H611.6M606.5 401.1h4.7M606.5 407h4.7M605.8 401.7v4.7M611.6 401.7v4.7M609.6 401.1V406.6M606.9 403.7H612.6M607.3 401.1h4.7M607.3 406.6h4.7M606.9 401.3v4.7M612.6 401.3v4.7M610.4 400.7V406.3M607.4 403.3H613.1M608 400.7h4.7M608 406.3h4.7M607.4 401v4.7M613.1 401v4.7M611.1 400V405.8M607.8 403H614M608.8 400h4.7M608.8 405.8h4.7M607.8 400.7v4.7M614 400.7v4.7M611.9 400V405.4M608.8 402.7H614.8M609.6 400h4.7M609.6 405.4h4.7M608.8 400.4v4.7M614.8 400.4v4.7M612.6 399.7V405.1M609.9 402.4H616M610.3 399.7h4.7M610.3 405.1h4.7M609.9 400v4.7M616 400v4.7M613.4 399.6V405M610.3 402.1H616.3M611 399.6h4.7M611 405h4.7M610.3 399.7v4.7M616.3 399.7v4.7M614.1 399.3V404.2M611.4 401.8H617M611.7 399.3h4.7M611.7 404.2h4.7M611.4 399.4v4.7M617 399.4v4.7M614.8 398.7V403.8M611.8 401.5H617.8M612.5 398.7h4.7M612.5 403.8h4.7M611.8 399.1v4.7M617.8 399.1v4.7M615.5 398.9V403.5M612.3 401.3H618.5M613.2 398.9h4.7M613.2 403.5h4.7M612.3 399v4.7M618.5 399v4.7M616.2 398.6V403.6M612.9 401.2H619.2M613.9 398.6h4.7M613.9 403.6h4.7M612.9 398.8v4.7M619.2 398.8v4.7M616.9 398.5V403.4M613.9 401.1H620M614.5 398.5h4.7M614.5 403.4h4.7M613.9 398.7v4.7M620 398.7v4.7M617.6 398.2V403.6M614.3 400.9H620.6M615.2 398.2h4.7M615.2 403.6h4.7M614.3 398.6v4.7M620.6 398.6v4.7M618.2 398.2V403.5M615 400.8H621M615.9 398.2h4.7M615.9 403.5h4.7M615 398.5v4.7M621 398.5v4.7M618.9 398.1V403.4M615.6 400.7H622M616.5 398.1h4.7M616.5 403.4h4.7M615.6 398.3v4.7M622 398.3v4.7M619.5 398.4V403M616.8 400.6H622.7M617.2 398.4h4.7M617.2 403h4.7M616.8 398.2v4.7M622.7 398.2v4.7M620.2 397.9V403.2M617.4 400.5H623.2M617.8 397.9h4.7M617.8 403.2h4.7M617.4 398.1v4.7M623.2 398.1v4.7M620.8 397.6V403M618 400.3H623.8M618.5 397.6h4.7M618.5 403h4.7M618 398v4.7M623.8 398v4.7M621.4 397.5V402.6M618.3 400.2H624.2M619.1 397.5h4.7M619.1 402.6h4.7M618.3 397.9v4.7M624.2 397.9v4.7M622 397.4V402.8M619 400.1H624.8M619.7 397.4h4.7M619.7 402.8h4.7M619 397.8v4.7M624.8 397.8v4.7M622.6 397.6V402.5M619.3 400H625.7M620.3 397.6h4.7M620.3 402.5h4.7M619.3 397.7v4.7M625.7 397.7v4.7M623.2 397.5V402.1M620.3 399.9H626.2M620.9 397.5h4.7M620.9 402.1h4.7M620.3 397.5v4.7M626.2 397.5v4.7M623.8 397.2V402.2M620.6 399.8H626.7M621.5 397.2h4.7M621.5 402.2h4.7M620.6 397.4v4.7M626.7 397.4v4.7M624.4 397.5V401.9M621.6 399.7H627.8M622.1 397.5h4.7M622.1 401.9h4.7M621.6 397.3v4.7M627.8 397.3v4.7M625 397.2V401.9M622.2 399.6H627.9M622.6 397.2h4.7M622.6 401.9h4.7M622.2 397.2v4.7M627.9 397.2v4.7M625.6 396.9V402M622.4 399.5H628.5M623.2 396.9h4.7M623.2 402h4.7M622.4 397.1v4.7M628.5 397.1v4.7M626.1 396.8V401.7M622.8 399.4H628.9M623.8 396.8h4.7M623.8 401.7h4.7M622.8 397v4.7M628.9 397v4.7M626.7 396.6V401.7M623.3 399.3H630.1M624.3 396.6h4.7M624.3 401.7h4.7M623.3 396.9v4.7M630.1 396.9v4.7M627.2 397V401.3M624.3 399.2H630.1M624.9 397h4.7M624.9 401.3h4.7M624.3 396.8v4.7M630.1 396.8v4.7M627.8 396.5V401.5M624.6 399.1H631.2M625.4 396.5h4.7M625.4 401.5h4.7M624.6 396.7v4.7M631.2 396.7v4.7M628.3 396.7V401.5M625.4 399H631.5M625.9 396.7h4.7M625.9 401.5h4.7M625.4 396.6v4.7M631.5 396.6v4.7M628.8 396.2V401M625.6 398.9H632.3M626.5 396.2h4.7M626.5 401h4.7M625.6 396.5v4.7M632.3 396.5v4.7M629.3 396.2V401M626 398.8H632.3M627 396.2h4.7M627 401h4.7M626 396.4v4.7M632.3 396.4v4.7M629.8 396.3V400.8M626.6 398.7H633M627.5 396.3h4.7M627.5 400.8h4.7M626.6 396.3v4.7M633 396.3v4.7M630.3 396.3V400.8M627.5 398.6H633.7M628 396.3h4.7M628 400.8h4.7M627.5 396.3v4.7M633.7 396.3v4.7M630.8 396.2V400.8M627.3 398.5H633.7M628.5 396.2h4.7M628.5 400.8h4.7M627.3 396.2v4.7M633.7 396.2v4.7M631.3 396.1V400.6M628.4 398.4H634.4M629 396.1h4.7M629 400.6h4.7M628.4 396.1v4.7M634.4 396.1v4.7M631.8 396.1V400.9M628.9 398.3H635.2M629.5 396.1h4.7M629.5 400.9h4.7M628.9 396v4.7M635.2 396v4.7M632.3 395.9V400.8M628.9 398.3H635.8M630 395.9h4.7M630 400.8h4.7M628.9 395.9v4.7M635.8 395.9v4.7M632.8 395.6V400.7M629.9 398.2H635.8M630.5 395.6h4.7M630.5 400.7h4.7M629.9 395.9v4.7M635.8 395.9v4.7M633.3 395.9V400.8M630 398.2H636.8M631 395.9h4.7M631 400.8h4.7M630 395.9v4.7M636.8 395.9v4.7M633.8 396.1V400.8M630.3 398.2H637.3M631.5 396.1h4.7M631.5 400.8h4.7M630.3 395.8v4.7M637.3 395.8v4.7M634.3 395.9V400.4M631.1 398.1H637.7M631.9 395.9h4.7M631.9 400.4h4.7M631.1 395.8v4.7M637.7 395.8v4.7M634.8 396V400.5M631.3 398.1H638.3M632.4 396h4.7M632.4 400.5h4.7M631.3 395.8v4.7M638.3 395.8v4.7M635.3 395.7V400.2M631.9 398.1H638.5M632.9 395.7h4.7M632.9 400.2h4.7M631.9 395.7v4.7M638.5 395.7v4.7M635.8 395.6V400.3M632.4 398H639M633.4 395.6h4.7M633.4 400.3h4.7M632.4 395.7v4.7M639 395.7v4.7M636.2 395.9V400.5M632.7 398H639.3M633.9 395.9h4.7M633.9 400.5h4.7M632.7 395.7v4.7M639.3 395.7v4.7M636.7 395.6V400.2M633.9 398H640.3M634.4 395.6h4.7M634.4 400.2h4.7M633.9 395.6v4.7M640.3 395.6v4.7M637.2 395.5V400.1M633.7 398H640.5M634.9 395.5h4.7M634.9 400.1h4.7M633.7 395.6v4.7M640.5 395.6v4.7M637.7 395.4V400.2M634.6 397.9H640.7M635.3 395.4h4.7M635.3 400.2h4.7M634.6 395.6v4.7M640.7 395.6v4.7M638.2 395.6V400.4M635.3 397.9H641.1M635.8 395.6h4.7M635.8 400.4h4.7M635.3 395.5v4.7M641.1 395.5v4.7M638.7 395.7V400.1M635.1 397.9H642.2M636.3 395.7h4.7M636.3 400.1h4.7M635.1 395.5v4.7M642.2 395.5v4.7M639.1 395.3V400M636.3 397.8H642.7M636.8 395.3h4.7M636.8 400h4.7M636.3 395.5v4.7M642.7 395.5v4.7M639.6 395.4V400.4M636.2 397.8H642.5M637.3 395.4h4.7M637.3 400.4h4.7M636.2 395.4v4.7M642.5 395.4v4.7M640.1 395.4V399.8M637.2 397.8H643.3M637.7 395.4h4.7M637.7 399.8h4.7M637.2 395.4v4.7M643.3 395.4v4.7M640.6 395.3V400M637.1 397.7H643.8M638.2 395.3h4.7M638.2 400h4.7M637.1 395.4v4.7M643.8 395.4v4.7M641 395.6V399.8M637.5 397.7H644.4M638.7 395.6h4.7M638.7 399.8h4.7M637.5 395.3v4.7M644.4 395.3v4.7M641.5 395.2V399.9M638.3 397.7H644.7M639.2 395.2h4.7M639.2 399.9h4.7M638.3 395.3v4.7M644.7 395.3v4.7M642 395.1V399.8M639 397.6H645M639.6 395.1h4.7M639.6 399.8h4.7M639 395.3v4.7M645 395.3v4.7M642.5 395.3V400.1M639.2 397.6H645.8M640.1 395.3h4.7M640.1 400.1h4.7M639.2 395.3v4.7M645.8 395.3v4.7M642.9 395.5V400.1M639.5 397.6H646.1M640.6 395.5h4.7M640.6 400.1h4.7M639.5 395.2v4.7M646.1 395.2v4.7M643.4 395.2V399.9M640.5 397.5H646.9M641.1 395.2h4.7M641.1 399.9h4.7M640.5 395.2v4.7M646.9 395.2v4.7M643.9 395.1V399.5M640.6 397.5H647.2M641.5 395.1h4.7M641.5 399.5h4.7M640.6 395.2v4.7M647.2 395.2v4.7M644.3 395V399.9M641.3 397.5H647.6M642 395h4.7M642 399.9h4.7M641.3 395.1v4.7M647.6 395.1v4.7M644.8 394.9V399.9M641.6 397.4H648.3M642.5 394.9h4.7M642.5 399.9h4.7M641.6 395.1v4.7M648.3 395.1v4.7M645.3 395.3V399.7M641.8 397.4H648.4M642.9 395.3h4.7M642.9 399.7h4.7M641.8 395.1v4.7M648.4 395.1v4.7M645.7 395.1V399.8M642.7 397.4H649.4M643.4 395.1h4.7M643.4 399.8h4.7M642.7 395v4.7M649.4 395v4.7M646.2 394.8V399.6M642.7 397.4H649.7M643.8 394.8h4.7M643.8 399.6h4.7M642.7 395v4.7M649.7 395v4.7M646.7 395.1V399.4M643.1 397.3H650.2M644.3 395.1h4.7M644.3 399.4h4.7M643.1 395v4.7M650.2 395v4.7M647.1 395V399.8M644 397.3H650.4M644.8 395h4.7M644.8 399.8h4.7M644 394.9v4.7M650.4 394.9v4.7M647.6 395.2V399.7M644.4 397.3H651.1M645.2 395.2h4.7M645.2 399.7h4.7M644.4 394.9v4.7M651.1 394.9v4.7M648 395.2V399.5M644.9 397.3H651.4M645.7 395.2h4.7M645.7 399.5h4.7M644.9 394.9v4.7M651.4 394.9v4.7M648.5 395V399.3M644.8 397.2H652M646.1 395h4.7M646.1 399.3h4.7M644.8 394.9v4.7M652 394.9v4.7M649 394.7V399.7M645.5 397.2H652.2M646.6 394.7h4.7M646.6 399.7h4.7M645.5 394.9v4.7M652.2 394.9v4.7M649.4 394.7V399.3M646 397.2H652.8M647.1 394.7h4.7M647.1 399.3h4.7M646 394.9v4.7M652.8 394.9v4.7M649.9 394.7V399.7M646.9 397.2H653.5M647.5 394.7h4.7M647.5 399.7h4.7M646.9 394.8v4.7M653.5 394.8v4.7M650.3 395.1V399.4M647.4 397.2H653.7M648 395.1h4.7M648 399.4h4.7M647.4 394.8v4.7M653.7 394.8v4.7M650.8 394.7V399.4M647.4 397.2H653.8M648.4 394.7h4.7M648.4 399.4h4.7M647.4 394.8v4.7M653.8 394.8v4.7M651.2 394.7V399.4M647.9 397.2H654.5M648.9 394.7h4.7M648.9 399.4h4.7M647.9 394.8v4.7M654.5 394.8v4.7M651.7 394.9V399.6M648.2 397.1H654.7M649.3 394.9h4.7M649.3 399.6h4.7M648.2 394.8v4.7M654.7 394.8v4.7M652.1 395.1V399.2M649.1 397.1H655.4M649.8 395.1h4.7M649.8 399.2h4.7M649.1 394.8v4.7M655.4 394.8v4.7M652.6 394.8V399.6M649 397.1H655.8M650.2 394.8h4.7M650.2 399.6h4.7M649 394.8v4.7M655.8 394.8v4.7M653 395V399.5M650 397.1H656.2M650.7 395h4.7M650.7 399.5h4.7M650 394.7v4.7M656.2 394.7v4.7M653.5 394.8V399.3M650.1 397.1H656.6M651.1 394.8h4.7M651.1 399.3h4.7M650.1 394.7v4.7M656.6 394.7v4.7M653.9 394.8V399.2M650.4 397.1H657.4M651.6 394.8h4.7M651.6 399.2h4.7M650.4 394.7v4.7M657.4 394.7v4.7M654.3 394.7V399M650.7 397H657.8M652 394.7h4.7M652 399h4.7M650.7 394.7v4.7M657.8 394.7v4.7M654.8 394.8V399.3M651.1 397H658.2M652.4 394.8h4.7M652.4 399.3h4.7M651.1 394.7v4.7M658.2 394.7v4.7M655.2 394.8V399.3M651.9 397H658.5M652.9 394.8h4.7M652.9 399.3h4.7M651.9 394.7v4.7M658.5 394.7v4.7M655.7 394.7V399.3M652.6 397H658.7M653.3 394.7h4.7M653.3 399.3h4.7M652.6 394.6v4.7M658.7 394.6v4.7M656.1 395V399.3M652.8 397H659.7M653.8 395h4.7M653.8 399.3h4.7M652.8 394.6v4.7M659.7 394.6v4.7M656.5 394.6V399M653.1 397H659.8M654.2 394.6h4.7M654.2 399h4.7M653.1 394.6v4.7M659.8 394.6v4.7M657 394.5V399.3M653.6 396.9H660.3M654.6 394.5h4.7M654.6 399.3h4.7M653.6 394.6v4.7M660.3 394.6v4.7M657.4 394.7V399.2M654.1 396.9H660.9M655.1 394.7h4.7M655.1 399.2h4.7M654.1 394.6v4.7M660.9 394.6v4.7M657.9 394.9V399.1M654.5 396.9H660.9M655.5 394.9h4.7M655.5 399.1h4.7M654.5 394.6v4.7M660.9 394.6v4.7M658.3 394.8V399.1M654.6 396.9H661.9M655.9 394.8h4.7M655.9 399.1h4.7M654.6 394.5v4.7M661.9 394.5v4.7M658.7 394.8V399.3M655.7 396.9H662.3M656.4 394.8h4.7M656.4 399.3h4.7M655.7 394.5v4.7M662.3 394.5v4.7M659.2 394.8V398.8M655.6 396.9H662.3M656.8 394.8h4.7M656.8 398.8h4.7M655.6 394.5v4.7M662.3 394.5v4.7M659.6 394.8V399.3M656.3 396.9H663.1M657.2 394.8h4.7M657.2 399.3h4.7M656.3 394.5v4.7M663.1 394.5v4.7M660 394.4V399.1M656.7 396.8H663.4M657.7 394.4h4.7M657.7 399.1h4.7M656.7 394.5v4.7M663.4 394.5v4.7M660.4 394.7V399.1M657.2 396.8H663.9M658.1 394.7h4.7M658.1 399.1h4.7M657.2 394.5v4.7M663.9 394.5v4.7M660.9 394.7V398.8M657.5 396.8H664M658.5 394.7h4.7M658.5 398.8h4.7M657.5 394.5v4.7M664 394.5v4.7M661.3 394.5V398.8M658.3 396.8H664.8M659 394.5h4.7M659 398.8h4.7M658.3 394.4v4.7M664.8 394.4v4.7M661.7 394.7V398.9M658.2 396.8H665.3M659.4 394.7h4.7M659.4 398.9h4.7M658.2 394.4v4.7M665.3 394.4v4.7M662.2 394.6V398.7M658.4 396.8H665.9M659.8 394.6h4.7M659.8 398.7h4.7M658.4 394.4v4.7M665.9 394.4v4.7M662.6 394.6V399M659.5 396.7H666.4M660.2 394.6h4.7M660.2 399h4.7M659.5 394.4v4.7M666.4 394.4v4.7M663 394.4V398.8M659.5 396.7H666.4M660.7 394.4h4.7M660.7 398.8h4.7M659.5 394.4v4.7M666.4 394.4v4.7M663.4 394.8V398.9M660.4 396.7H666.6M661.1 394.8h4.7M661.1 398.9h4.7M660.4 394.4v4.7M666.6 394.4v4.7M663.8 394.3V399M660.8 396.7H667.7M661.5 394.3h4.7M661.5 399h4.7M660.8 394.4v4.7M667.7 394.4v4.7M664.3 394.5V398.8M660.6 396.7H667.3M661.9 394.5h4.7M661.9 398.8h4.7M660.6 394.3v4.7M667.3 394.3v4.7M664.7 394.5V398.8M660.9 396.7H668M662.3 394.5h4.7M662.3 398.8h4.7M660.9 394.3v4.7M668 394.3v4.7M665.1 394.6V399M661.4 396.7H668.3M662.8 394.6h4.7M662.8 399h4.7M661.4 394.3v4.7M668.3 394.3v4.7M665.5 394.7V398.6M661.8 396.6H668.8M663.2 394.7h4.7M663.2 398.6h4.7M661.8 394.3v4.7M668.8 394.3v4.7M665.9 394.7V398.8M662.5 396.6H669.6M663.6 394.7h4.7M663.6 398.8h4.7M662.5 394.3v4.7M669.6 394.3v4.7M666.4 394.6V398.5M663.2 396.6H669.8M664 394.6h4.7M664 398.5h4.7M663.2 394.3v4.7M669.8 394.3v4.7M666.8 394.4V398.6M663 396.6H670.3M664.4 394.4h4.7M664.4 398.6h4.7M663 394.2v4.7M670.3 394.2v4.7M667.2 394.3V398.9M663.4 396.6H670.3M664.8 394.3h4.7M664.8 398.9h4.7M663.4 394.2v4.7M670.3 394.2v4.7M667.6 394.5V398.9M663.8 396.6H671.2M665.2 394.5h4.7M665.2 398.9h4.7M663.8 394.2v4.7M671.2 394.2v4.7M668 394.2V398.9M664.6 396.6H671.8M665.7 394.2h4.7M665.7 398.9h4.7M664.6 394.2v4.7M671.8 394.2v4.7M668.4 394.6V398.9M665.3 396.5H672.2M666.1 394.6h4.7M666.1 398.9h4.7M665.3 394.2v4.7M672.2 394.2v4.7M668.8 394.4V398.8M665.4 396.5H672.4M666.5 394.4h4.7M666.5 398.8h4.7M665.4 394.2v4.7M672.4 394.2v4.7M669.2 394.5V398.8M665.4 396.5H672.6M666.9 394.5h4.7M666.9 398.8h4.7M665.4 394.2v4.7M672.6 394.2v4.7M669.6 394.3V398.5M665.9 396.5H672.9M667.3 394.3h4.7M667.3 398.5h4.7M665.9 394.1v4.7M672.9 394.1v4.7M670 394.5V398.4M666.2 396.5H673.3M667.7 394.5h4.7M667.7 398.4h4.7M666.2 394.1v4.7M673.3 394.1v4.7M670.5 394.3V398.8M666.8 396.5H674.3M668.1 394.3h4.7M668.1 398.8h4.7M666.8 394.1v4.7M674.3 394.1v4.7M670.9 394.2V398.3M667.6 396.5H674.6M668.5 394.2h4.7M668.5 398.3h4.7M667.6 394.1v4.7M674.6 394.1v4.7M671.3 394.3V398.6M667.5 396.4H674.6M668.9 394.3h4.7M668.9 398.6h4.7M667.5 394.1v4.7M674.6 394.1v4.7M671.7 394.2V398.6M668.2 396.4H675.5M669.3 394.2h4.7M669.3 398.6h4.7M668.2 394.1v4.7M675.5 394.1v4.7M672.1 394.1V398.3M668.9 396.4H675.8M669.7 394.1h4.7M669.7 398.3h4.7M668.9 394.1v4.7M675.8 394.1v4.7" stroke="#00ffff" stroke-width="0.7" fill="none"/>
<polyline points="397,611.2 398.9,609.8 400.8,606.4 402.7,606 404.6,601.4 406.5,599.7 408.4,598.2 418.7,588.8 431,581.5 442.2,574.2 452.6,565.8 461.8,559.4 469.2,551.7 475.1,545 480.4,537.3 485.1,529.7 489.2,523.4 493.7,517.9 497.6,513.4 501.1,509.5 504.3,505.5 507.5,501.7 510.6,498.2 513.7,494.6 516.8,490 519.8,484.1 522.8,480 525.8,476 528.8,472.5 531.8,469.4 534.7,466.1 537.6,462.8 540.4,459.9 543.3,457 546.1,453.6 548.9,450.2 551.5,446.8 554.1,443.6 556.6,441 559,438.7 561.4,436.5 563.6,434.3 565.8,432.3 567.9,430.6 569.9,428.9 571.9,427.3 573.8,425.7 575.6,424.2 577.4,423 579.1,421.8 580.8,420.6 582.4,419.5 583.9,418.5 585.4,417.4 586.8,416.5 588.2,415.6 589.5,414.7 590.8,413.8 592,413 593.2,412.2 594.4,411.5 595.5,410.8 596.5,410.1 597.5,409.6 598.5,409.1 599.5,408.6 600.4,408.1 601.3,407.6 602.2,407.2 603.1,406.7 603.9,406.3 604.8,405.8 605.6,405.4 606.4,405 607.2,404.7 608,404.3 608.8,404 609.6,403.7 610.4,403.3 611.1,403 611.9,402.7 612.6,402.4 613.4,402.1 614.1,401.8 614.8,401.5 615.5,401.3 616.2,401.2 616.9,401.1 617.6,400.9 618.2,400.8 618.9,400.7 619.5,400.6 620.2,400.5 620.8,400.3 621.4,400.2 622,400.1 622.6,400 623.2,399.9 623.8,399.8 624.4,399.7 625,399.6 625.6,399.5 626.1,399.4 626.7,399.3 627.2,399.2 627.8,399.1 628.3,399 628.8,398.9 629.3,398.8 629.8,398.7 630.3,398.6 630.8,398.5 631.3,398.4 631.8,398.3 632.3,398.3 632.8,398.2 633.3,398.2 633.8,398.2 634.3,398.1 634.8,398.1 635.3,398.1 635.8,398 636.2,398 636.7,398 637.2,398 637.7,397.9 638.2,397.9 638.7,397.9 639.1,397.8 639.6,397.8 640.1,397.8 640.6,397.7 641,397.7 641.5,397.7 642,397.6 642.5,397.6 642.9,397.6 643.4,397.5 643.9,397.5 644.3,397.5 644.8,397.4 645.3,397.4 645.7,397.4 646.2,397.4 646.7,397.3 647.1,397.3 647.6,397.3 648,397.3 648.5,397.2 649,397.2 649.4,397.2 649.9,397.2 650.3,397.2 650.8,397.2 651.2,397.2 651.7,397.1 652.1,397.1 652.6,397.1 653,397.1 653.5,397.1 653.9,397.1 654.3,397 654.8,397 655.2,397 655.7,397 656.1,397 656.5,397 657,396.9 657.4,396.9 657.9,396.9 658.3,396.9 658.7,396.9 659.2,396.9 659.6,396.9 660,396.8 660.4,396.8 660.9,396.8 661.3,396.8 661.7,396.8 662.2,396.8 662.6,396.7 663,396.7 663.4,396.7 663.8,396.7 664.3,396.7 664.7,396.7 665.1,396.7 665.5,396.6 665.9,396.6 666.4,396.6 666.8,396.6 667.2,396.6 667.6,396.6 668,396.6 668.4,396.5 668.8,396.5 669.2,396.5 669.6,396.5 670,396.5 670.5,396.5 670.9,396.5 671.3,396.4 671.7,396.4 672.1,396.4" stroke="#00ffff" stroke-width="0.7" fill="none"/>
<path d="M395.4 609.6l3.2 3.2m0-3.2l-3.2 3.2M397.3 608.2l3.2 3.2m0-3.2l-3.2 3.2M399.2 604.8l3.2 3.2m0-3.2l-3.2 3.2M401.1 604.4l3.2 3.2m0-3.2l-3.2 3.2M403 599.8l3.2 3.2m0-3.2l-3.2 3.2M404.9 598.1l3.2 3.2m0-3.2l-3.2 3.2M406.8 596.6l3.2 3.2m0-3.2l-3.2 3.2M417.1 587.2l3.2 3.2m0-3.2l-3.2 3.2M429.4 579.9l3.2 3.2m0-3.2l-3.2 3.2M440.6 572.6l3.2 3.2m0-3.2l-3.2 3.2M451 564.2l3.2 3.2m0-3.2l-3.2 3.2M460.2 557.8l3.2 3.2m0-3.2l-3.2 3.2M467.6 550.1l3.2 3.2m0-3.2l-3.2 3.2M473.5 543.4l3.2 3.2m0-3.2l-3.2 3.2M478.8 535.7l3.2 3.2m0-3.2l-3.2 3.2M483.5 528.1l3.2 3.2m0-3.2l-3.2 3.2M487.6 521.8l3.2 3.2m0-3.2l-3.2 3.2M492.1 516.3l3.2 3.2m0-3.2l-3.2 3.2M496 511.8l3.2 3.2m0-3.2l-3.2 3.2M499.5 507.9l3.2 3.2m0-3.2l-3.2 3.2M502.7 503.9l3.2 3.2m0-3.2l-3.2 3.2M505.9 500.1l3.2 3.2m0-3.2l-3.2 3.2M509 496.6l3.2 3.2m0-3.2l-3.2 3.2M512.1 493l3.2 3.2m0-3.2l-3.2 3.2M515.2 488.4l3.2 3.2m0-3.2l-3.2 3.2M518.2 482.5l3.2 3.2m0-3.2l-3.2 3.2M521.2 478.4l3.2 3.2m0-3.2l-3.2 3.2M524.2 474.4l3.2 3.2m0-3.2l-3.2 3.2M527.2 470.9l3.2 3.2m0-3.2l-3.2 3.2M530.2 467.8l3.2 3.2m0-3.2l-3.2 3.2M533.1 464.5l3.2 3.2m0-3.2l-3.2 3.2M536 461.2l3.2 3.2m0-3.2l-3.2 3.2M538.8 458.3l3.2 3.2m0-3.2l-3.2 3.2M541.7 455.4l3.2 3.2m0-3.2l-3.2 3.2M544.5 452l3.2 3.2m0-3.2l-3.2 3.2M547.3 448.6l3.2 3.2m0-3.2l-3.2 3.2M549.9 445.2l3.2 3.2m0-3.2l-3.2 3.2M552.5 442l3.2 3.2m0-3.2l-3.2 3.2M555 439.4l3.2 3.2m0-3.2l-3.2 3.2M557.4 437.1l3.2 3.2m0-3.2l-3.2 3.2M559.8 434.9l3.2 3.2m0-3.2l-3.2 3.2M562 432.7l3.2 3.2m0-3.2l-3.2 3.2M564.2 430.7l3.2 3.2m0-3.2l-3.2 3.2M566.3 429l3.2 3.2m0-3.2l-3.2 3.2M568.3 427.3l3.2 3.2m0-3.2l-3.2 3.2M570.3 425.7l3.2 3.2m0-3.2l-3.2 3.2M572.2 424.1l3.2 3.2m0-3.2l-3.2 3.2M574 422.6l3.2 3.2m0-3.2l-3.2 3.2M575.8 421.4l3.2 3.2m0-3.2l-3.2 3.2M577.5 420.2l3.2 3.2m0-3.2l-3.2 3.2M579.2 419l3.2 3.2m0-3.2l-3.2 3.2M580.8 417.9l3.2 3.2m0-3.2l-3.2 3.2M582.3 416.9l3.2 3.2m0-3.2l-3.2 3.2M583.8 415.8l3.2 3.2m0-3.2l-3.2 3.2M585.2 414.9l3.2 3.2m0-3.2l-3.2 3.2M586.6 414l3.2 3.2m0-3.2l-3.2 3.2M587.9 413.1l3.2 3.2m0-3.2l-3.2 3.2M589.2 412.2l3.2 3.2m0-3.2l-3.2 3.2M590.4 411.4l3.2 3.2m0-3.2l-3.2 3.2M591.6 410.6l3.2 3.2m0-3.2l-3.2 3.2M592.8 409.9l3.2 3.2m0-3.2l-3.2 3.2M593.9 409.2l3.2 3.2m0-3.2l-3.2 3.2M594.9 408.5l3.2 3.2m0-3.2l-3.2 3.2M595.9 408l3.2 3.2m0-3.2l-3.2 3.2M596.9 407.5l3.2 3.2m0-3.2l-3.2 3.2M597.9 407l3.2 3.2m0-3.2l-3.2 3.2M598.8 406.5l3.2 3.2m0-3.2l-3.2 3.2M599.7 406l3.2 3.2m0-3.2l-3.2 3.2M600.6 405.6l3.2 3.2m0-3.2l-3.2 3.2M601.5 405.1l3.2 3.2m0-3.2l-3.2 3.2M602.3 404.7l3.2 3.2m0-3.2l-3.2 3.2M603.2 404.2l3.2 3.2m0-3.2l-3.2 3.2M604 403.8l3.2 3.2m0-3.2l-3.2 3.2M604.8 403.4l3.2 3.2m0-3.2l-3.2 3.2M605.6 403.1l3.2 3.2m0-3.2l-3.2 3.2M606.4 402.7l3.2 3.2m0-3.2l-3.2 3.2M607.2 402.4l3.2 3.2m0-3.2l-3.2 3.2M608 402.1l3.2 3.2m0-3.2l-3.2 3.2M608.8 401.7l3.2 3.2m0-3.2l-3.2 3.2M609.5 401.4l3.2 3.2m0-3.2l-3.2 3.2M610.3 401.1l3.2 3.2m0-3.2l-3.2 3.2M611 400.8l3.2 3.2m0-3.2l-3.2 3.2M611.8 400.5l3.2 3.2m0-3.2l-3.2 3.2M612.5 400.2l3.2 3.2m0-3.2l-3.2 3.2M613.2 399.9l3.2 3.2m0-3.2l-3.2 3.2M613.9 399.7l3.2 3.2m0-3.2l-3.2 3.2M614.6 399.6l3.2 3.2m0-3.2l-3.2 3.2M615.3 399.5l3.2 3.2m0-3.2l-3.2 3.2M616 399.3l3.2 3.2m0-3.2l-3.2 3.2M616.6 399.2l3.2 3.2m0-3.2l-3.2 3.2M617.3 399.1l3.2 3.2m0-3.2l-3.2 3.2M617.9 399l3.2 3.2m0-3.2l-3.2 3.2M618.6 398.9l3.2 3.2m0-3.2l-3.2 3.2M619.2 398.7l3.2 3.2m0-3.2l-3.2 3.2M619.8 398.6l3.2 3.2m0-3.2l-3.2 3.2M620.4 398.5l3.2 3.2m0-3.2l-3.2 3.2M621 398.4l3.2 3.2m0-3.2l-3.2 3.2M621.6 398.3l3.2 3.2m0-3.2l-3.2 3.2M622.2 398.2l3.2 3.2m0-3.2l-3.2 3.2M622.8 398.1l3.2 3.2m0-3.2l-3.2 3.2M623.4 398l3.2 3.2m0-3.2l-3.2 3.2M624 397.9l3.2 3.2m0-3.2l-3.2 3.2M624.5 397.8l3.2 3.2m0-3.2l-3.2 3.2M625.1 397.7l3.2 3.2m0-3.2l-3.2 3.2M625.6 397.6l3.2 3.2m0-3.2l-3.2 3.2M626.2 397.5l3.2 3.2m0-3.2l-3.2 3.2M626.7 397.4l3.2 3.2m0-3.2l-3.2 3.2M627.2 397.3l3.2 3.2m0-3.2l-3.2 3.2M627.7 397.2l3.2 3.2m0-3.2l-3.2 3.2M628.2 397.1l3.2 3.2m0-3.2l-3.2 3.2M628.7 397l3.2 3.2m0-3.2l-3.2 3.2M629.2 396.9l3.2 3.2m0-3.2l-3.2 3.2M629.7 396.8l3.2 3.2m0-3.2l-3.2 3.2M630.2 396.7l3.2 3.2m0-3.2l-3.2 3.2M630.7 396.7l3.2 3.2m0-3.2l-3.2 3.2M631.2 396.6l3.2 3.2m0-3.2l-3.2 3.2M631.7 396.6l3.2 3.2m0-3.2l-3.2 3.2M632.2 396.6l3.2 3.2m0-3.2l-3.2 3.2M632.7 396.5l3.2 3.2m0-3.2l-3.2 3.2M633.2 396.5l3.2 3.2m0-3.2l-3.2 3.2M633.7 396.5l3.2 3.2m0-3.2l-3.2 3.2M634.2 396.4l3.2 3.2m0-3.2l-3.2 3.2M634.6 396.4l3.2 3.2m0-3.2l-3.2 3.2M635.1 396.4l3.2 3.2m0-3.2l-3.2 3.2M635.6 396.4l3.2 3.2m0-3.2l-3.2 3.2M636.1 396.3l3.2 3.2m0-3.2l-3.2 3.2M636.6 396.3l3.2 3.2m0-3.2l-3.2 3.2M637.1 396.3l3.2 3.2m0-3.2l-3.2 3.2M637.5 396.2l3.2 3.2m0-3.2l-3.2 3.2M638 396.2l3.2 3.2m0-3.2l-3.2 3.2M638.5 396.2l3.2 3.2m0-3.2l-3.2 3.2M639 396.1l3.2 3.2m0-3.2l-3.2 3.2M639.4 396.1l3.2 3.2m0-3.2l-3.2 3.2M639.9 396.1l3.2 3.2m0-3.2l-3.2 3.2M640.4 396l3.2 3.2m0-3.2l-3.2 3.2M640.9 396l3.2 3.2m0-3.2l-3.2 3.2M641.3 396l3.2 3.2m0-3.2l-3.2 3.2M641.8 395.9l3.2 3.2m0-3.2l-3.2 3.2M642.3 395.9l3.2 3.2m0-3.2l-3.2 3.2M642.7 395.9l3.2 3.2m0-3.2l-3.2 3.2M643.2 395.8l3.2 3.2m0-3.2l-3.2 3.2M643.7 395.8l3.2 3.2m0-3.2l-3.2 3.2M644.1 395.8l3.2 3.2m0-3.2l-3.2 3.2M644.6 395.8l3.2 3.2m0-3.2l-3.2 3.2M645.1 395.7l3.2 3.2m0-3.2l-3.2 3.2M645.5 395.7l3.2 3.2m0-3.2l-3.2 3.2M646 395.7l3.2 3.2m0-3.2l-3.2 3.2M646.4 395.7l3.2 3.2m0-3.2l-3.2 3.2M646.9 395.6l3.2 3.2m0-3.2l-3.2 3.2M647.4 395.6l3.2 3.2m0-3.2l-3.2 3.2M647.8 395.6l3.2 3.2m0-3.2l-3.2 3.2M648.3 395.6l3.2 3.2m0-3.2l-3.2 3.2M648.7 395.6l3.2 3.2m0-3.2l-3.2 3.2M649.2 395.6l3.2 3.2m0-3.2l-3.2 3.2M649.6 395.6l3.2 3.2m0-3.2l-3.2 3.2M650.1 395.5l3.2 3.2m0-3.2l-3.2 3.2M650.5 395.5l3.2 3.2m0-3.2l-3.2 3.2M651 395.5l3.2 3.2m0-3.2l-3.2 3.2M651.4 395.5l3.2 3.2m0-3.2l-3.2 3.2M651.9 395.5l3.2 3.2m0-3.2l-3.2 3.2M652.3 395.5l3.2 3.2m0-3.2l-3.2 3.2M652.7 395.4l3.2 3.2m0-3.2l-3.2 3.2M653.2 395.4l3.2 3.2m0-3.2l-3.2 3.2M653.6 395.4l3.2 3.2m0-3.2l-3.2 3.2M654.1 395.4l3.2 3.2m0-3.2l-3.2 3.2M654.5 395.4l3.2 3.2m0-3.2l-3.2 3.2M654.9 395.4l3.2 3.2m0-3.2l-3.2 3.2M655.4 395.3l3.2 3.2m0-3.2l-3.2 3.2M655.8 395.3l3.2 3.2m0-3.2l-3.2 3.2M656.3 395.3l3.2 3.2m0-3.2l-3.2 3.2M656.7 395.3l3.2 3.2m0-3.2l-3.2 3.2M657.1 395.3l3.2 3.2m0-3.2l-3.2 3.2M657.6 395.3l3.2 3.2m0-3.2l-3.2 3.2M658 395.3l3.2 3.2m0-3.2l-3.2 3.2M658.4 395.2l3.2 3.2m0-3.2l-3.2 3.2M658.8 395.2l3.2 3.2m0-3.2l-3.2 3.2M659.3 395.2l3.2 3.2m0-3.2l-3.2 3.2M659.7 395.2l3.2 3.2m0-3.2l-3.2 3.2M660.1 395.2l3.2 3.2m0-3.2l-3.2 3.2M660.6 395.2l3.2 3.2m0-3.2l-3.2 3.2M661 395.1l3.2 3.2m0-3.2l-3.2 3.2M661.4 395.1l3.2 3.2m0-3.2l-3.2 3.2M661.8 395.1l3.2 3.2m0-3.2l-3.2 3.2M662.2 395.1l3.2 3.2m0-3.2l-3.2 3.2M662.7 395.1l3.2 3.2m0-3.2l-3.2 3.2M663.1 395.1l3.2 3.2m0-3.2l-3.2 3.2M663.5 395.1l3.2 3.2m0-3.2l-3.2 3.2M663.9 395l3.2 3.2m0-3.2l-3.2 3.2M664.3 395l3.2 3.2m0-3.2l-3.2 3.2M664.8 395l3.2 3.2m0-3.2l-3.2 3.2M665.2 395l3.2 3.2m0-3.2l-3.2 3.2M665.6 395l3.2 3.2m0-3.2l-3.2 3.2M666 395l3.2 3.2m0-3.2l-3.2 3.2M666.4 395l3.2 3.2m0-3.2l-3.2 3.2M666.8 394.9l3.2 3.2m0-3.2l-3.2 3.2M667.2 394.9l3.2 3.2m0-3.2l-3.2 3.2M667.6 394.9l3.2 3.2m0-3.2l-3.2 3.2M668 394.9l3.2 3.2m0-3.2l-3.2 3.2M668.4 394.9l3.2 3.2m0-3.2l-3.2 3.2M668.9 394.9l3.2 3.2m0-3.2l-3.2 3.2M669.3 394.9l3.2 3.2m0-3.2l-3.2 3.2M669.7 394.8l3.2 3.2m0-3.2l-3.2 3.2M670.1 394.8l3.2 3.2m0-3.2l-3.2 3.2M670.5 394.8l3.2 3.2m0-3.2l-3.2 3.2" stroke="#00ffff" stroke-width="0.7" fill="none"/>
<rect x="38.6" y="30.6" width="292.9" height="264.4" fill="none" stroke="#767676" stroke-width="1"/>
<path d="M49.3 295V299.8M38.6 285.5H33.8M103.5 295V299.8M38.6 236.5H33.8M157.7 295V299.8M38.6 187.4H33.8M212 295V299.8M38.6 138.4H33.8M266.2 295V299.8M38.6 89.3H33.8M320.4 295V299.8M38.6 40.3H33.8" stroke="#505050" stroke-width="1" fill="none"/>
<text x="49.3" y="312" class="tk" text-anchor="middle">0.0</text>
<text transform="translate(27.1 285.5) rotate(-90)" class="tk" text-anchor="middle">0.0</text>
<text x="103.5" y="312" class="tk" text-anchor="middle">0.2</text>
<text transform="translate(27.1 236.5) rotate(-90)" class="tk" text-anchor="middle">0.2</text>
<text x="157.7" y="312" class="tk" text-anchor="middle">0.4</text>
<text transform="translate(27.1 187.4) rotate(-90)" class="tk" text-anchor="middle">0.4</text>
<text x="212" y="312" class="tk" text-anchor="middle">0.6</text>
<text transform="translate(27.1 138.4) rotate(-90)" class="tk" text-anchor="middle">0.6</text>
<text x="266.2" y="312" class="tk" text-anchor="middle">0.8</text>
<text transform="translate(27.1 89.3) rotate(-90)" class="tk" text-anchor="middle">0.8</text>
<text x="320.4" y="312" class="tk" text-anchor="middle">1.0</text>
<text transform="translate(27.1 40.3) rotate(-90)" class="tk" text-anchor="middle">1.0</text>
<text x="185.1" y="330.8" class="lb" text-anchor="middle">Genotype</text>
<text transform="translate(9.3 162.8) rotate(-90)" class="lb" text-anchor="middle">Phenotype</text>
<text x="185.1" y="16.8" class="ti" text-anchor="middle">Full</text>
<text transform="translate(3.3 16.7) scale(0.9 1)" class="pl">a</text>
<rect x="390.4" y="30.7" width="292.8" height="264.1" fill="none" stroke="#767676" stroke-width="1"/>
<path d="M401.2 294.8V299.6M390.4 285.3H385.6M455.4 294.8V299.6M390.4 236.3H385.6M509.7 294.8V299.6M390.4 187.2H385.6M563.9 294.8V299.6M390.4 138.2H385.6M618.2 294.8V299.6M390.4 89.1H385.6M672.4 294.8V299.6M390.4 40.1H385.6" stroke="#505050" stroke-width="1" fill="none"/>
<text x="401.2" y="311.8" class="tk" text-anchor="middle">0.0</text>
<text transform="translate(378.9 285.3) rotate(-90)" class="tk" text-anchor="middle">0.0</text>
<text x="455.4" y="311.8" class="tk" text-anchor="middle">0.2</text>
<text transform="translate(378.9 236.3) rotate(-90)" class="tk" text-anchor="middle">0.2</text>
<text x="509.7" y="311.8" class="tk" text-anchor="middle">0.4</text>
<text transform="translate(378.9 187.2) rotate(-90)" class="tk" text-anchor="middle">0.4</text>
<text x="563.9" y="311.8" class="tk" text-anchor="middle">0.6</text>
<text transform="translate(378.9 138.2) rotate(-90)" class="tk" text-anchor="middle">0.6</text>
<text x="618.2" y="311.8" class="tk" text-anchor="middle">0.8</text>
<text transform="translate(378.9 89.1) rotate(-90)" class="tk" text-anchor="middle">0.8</text>
<text x="672.4" y="311.8" class="tk" text-anchor="middle">1.0</text>
<text transform="translate(378.9 40.1) rotate(-90)" class="tk" text-anchor="middle">1.0</text>
<text x="536.8" y="330.6" class="lb" text-anchor="middle">Genotype</text>
<text transform="translate(361.1 162.8) rotate(-90)" class="lb" text-anchor="middle">Phenotype</text>
<text x="536.8" y="16.9" class="ti" text-anchor="middle">NoHier</text>
<text transform="translate(355 14.1) scale(1.0 1)" class="pl">b</text>
<rect x="38.5" y="381.6" width="292.9" height="264.2" fill="none" stroke="#767676" stroke-width="1"/>
<path d="M49.4 645.8V650.6M38.5 636.4H33.7M103.6 645.8V650.6M38.5 587.3H33.7M157.8 645.8V650.6M38.5 538.3H33.7M212 645.8V650.6M38.5 489.2H33.7M266.2 645.8V650.6M38.5 440.2H33.7M320.4 645.8V650.6M38.5 391.1H33.7" stroke="#505050" stroke-width="1" fill="none"/>
<text x="49.4" y="662.8" class="tk" text-anchor="middle">0.0</text>
<text transform="translate(27 636.4) rotate(-90)" class="tk" text-anchor="middle">0.0</text>
<text x="103.6" y="662.8" class="tk" text-anchor="middle">0.2</text>
<text transform="translate(27 587.3) rotate(-90)" class="tk" text-anchor="middle">0.2</text>
<text x="157.8" y="662.8" class="tk" text-anchor="middle">0.4</text>
<text transform="translate(27 538.3) rotate(-90)" class="tk" text-anchor="middle">0.4</text>
<text x="212" y="662.8" class="tk" text-anchor="middle">0.6</text>
<text transform="translate(27 489.2) rotate(-90)" class="tk" text-anchor="middle">0.6</text>
<text x="266.2" y="662.8" class="tk" text-anchor="middle">0.8</text>
<text transform="translate(27 440.2) rotate(-90)" class="tk" text-anchor="middle">0.8</text>
<text x="320.4" y="662.8" class="tk" text-anchor="middle">1.0</text>
<text transform="translate(27 391.1) rotate(-90)" class="tk" text-anchor="middle">1.0</text>
<text x="184.9" y="681.6" class="lb" text-anchor="middle">Genotype</text>
<text transform="translate(9.2 513.7) rotate(-90)" class="lb" text-anchor="middle">Phenotype</text>
<text x="184.9" y="367.8" class="ti" text-anchor="middle">NoCue</text>
<text transform="translate(3.3 365.8) scale(0.94 1)" class="pl">c</text>
<rect x="390.4" y="381.5" width="292.9" height="264.2" fill="none" stroke="#767676" stroke-width="1"/>
<path d="M401.2 645.7V650.5M390.4 636.4H385.6M455.4 645.7V650.5M390.4 587.3H385.6M509.7 645.7V650.5M390.4 538.3H385.6M563.9 645.7V650.5M390.4 489.2H385.6M618.2 645.7V650.5M390.4 440.2H385.6M672.4 645.7V650.5M390.4 391.1H385.6" stroke="#505050" stroke-width="1" fill="none"/>
<text x="401.2" y="662.7" class="tk" text-anchor="middle">0.0</text>
<text transform="translate(378.9 636.4) rotate(-90)" class="tk" text-anchor="middle">0.0</text>
<text x="455.4" y="662.7" class="tk" text-anchor="middle">0.2</text>
<text transform="translate(378.9 587.3) rotate(-90)" class="tk" text-anchor="middle">0.2</text>
<text x="509.7" y="662.7" class="tk" text-anchor="middle">0.4</text>
<text transform="translate(378.9 538.3) rotate(-90)" class="tk" text-anchor="middle">0.4</text>
<text x="563.9" y="662.7" class="tk" text-anchor="middle">0.6</text>
<text transform="translate(378.9 489.2) rotate(-90)" class="tk" text-anchor="middle">0.6</text>
<text x="618.2" y="662.7" class="tk" text-anchor="middle">0.8</text>
<text transform="translate(378.9 440.2) rotate(-90)" class="tk" text-anchor="middle">0.8</text>
<text x="672.4" y="662.7" class="tk" text-anchor="middle">1.0</text>
<text transform="translate(378.9 391.1) rotate(-90)" class="tk" text-anchor="middle">1.0</text>
<text x="536.8" y="681.5" class="lb" text-anchor="middle">Genotype</text>
<text transform="translate(361.1 513.6) rotate(-90)" class="lb" text-anchor="middle">Phenotype</text>
<text x="536.8" y="367.6" class="ti" text-anchor="middle">NoDev</text>
<text transform="translate(354 365) scale(1.0 1)" class="pl">d</text>
<rect x="39.1" y="31.1" width="58.5" height="36.5" fill="#fff"/>
<path d="M97.6 30.6V67.6H38.6" fill="none" stroke="#767676" stroke-width="1"/>
<text x="68.1" y="40.1" class="lg" text-anchor="middle">Environment</text>
<text x="62.1" y="51.6" class="lg">Novel</text>
<text x="62.1" y="61.2" class="lg">Ancestral</text>
<path d="M40.2 49.6H54.6M45.8 48l3.2 3.2m0 -3.2l-3.2 3.2" stroke="#00ffff" stroke-width="0.7" fill="none"/>
<path d="M40.2 58.6H54.6" stroke="#9932cc" stroke-width="0.7" fill="none"/><circle cx="47.4" cy="58.6" r="1.7" stroke="#9932cc" stroke-width="0.8" fill="none"/>
<rect x="390.9" y="31.2" width="58.5" height="36.5" fill="#fff"/>
<path d="M449.4 30.7V67.7H390.4" fill="none" stroke="#767676" stroke-width="1"/>
<text x="419.9" y="40.2" class="lg" text-anchor="middle">Environment</text>
<text x="413.9" y="51.7" class="lg">Novel</text>
<text x="413.9" y="61.3" class="lg">Ancestral</text>
<path d="M392 49.7H406.4M397.6 48.1l3.2 3.2m0 -3.2l-3.2 3.2" stroke="#00ffff" stroke-width="0.7" fill="none"/>
<path d="M392 58.7H406.4" stroke="#9932cc" stroke-width="0.7" fill="none"/><circle cx="399.2" cy="58.7" r="1.7" stroke="#9932cc" stroke-width="0.8" fill="none"/>
<rect x="39" y="382.1" width="58.5" height="36.5" fill="#fff"/>
<path d="M97.5 381.6V418.6H38.5" fill="none" stroke="#767676" stroke-width="1"/>
<text x="68" y="391.1" class="lg" text-anchor="middle">Environment</text>
<text x="62" y="402.6" class="lg">Novel</text>
<text x="62" y="412.2" class="lg">Ancestral</text>
<path d="M40.1 400.6H54.5M45.7 399l3.2 3.2m0 -3.2l-3.2 3.2" stroke="#00ffff" stroke-width="0.7" fill="none"/>
<path d="M40.1 409.6H54.5" stroke="#9932cc" stroke-width="0.7" fill="none"/><circle cx="47.3" cy="409.6" r="1.7" stroke="#9932cc" stroke-width="0.8" fill="none"/>
<rect x="390.9" y="382" width="58.5" height="36.5" fill="#fff"/>
<path d="M449.4 381.5V418.5H390.4" fill="none" stroke="#767676" stroke-width="1"/>
<text x="419.9" y="391" class="lg" text-anchor="middle">Environment</text>
<text x="413.9" y="402.5" class="lg">Novel</text>
<text x="413.9" y="412.1" class="lg">Ancestral</text>
<path d="M392 400.5H406.4M397.6 398.9l3.2 3.2m0 -3.2l-3.2 3.2" stroke="#00ffff" stroke-width="0.7" fill="none"/>
<path d="M392 409.5H406.4" stroke="#9932cc" stroke-width="0.7" fill="none"/><circle cx="399.2" cy="409.5" r="1.7" stroke="#9932cc" stroke-width="0.8" fill="none"/>
</svg></body></html>
